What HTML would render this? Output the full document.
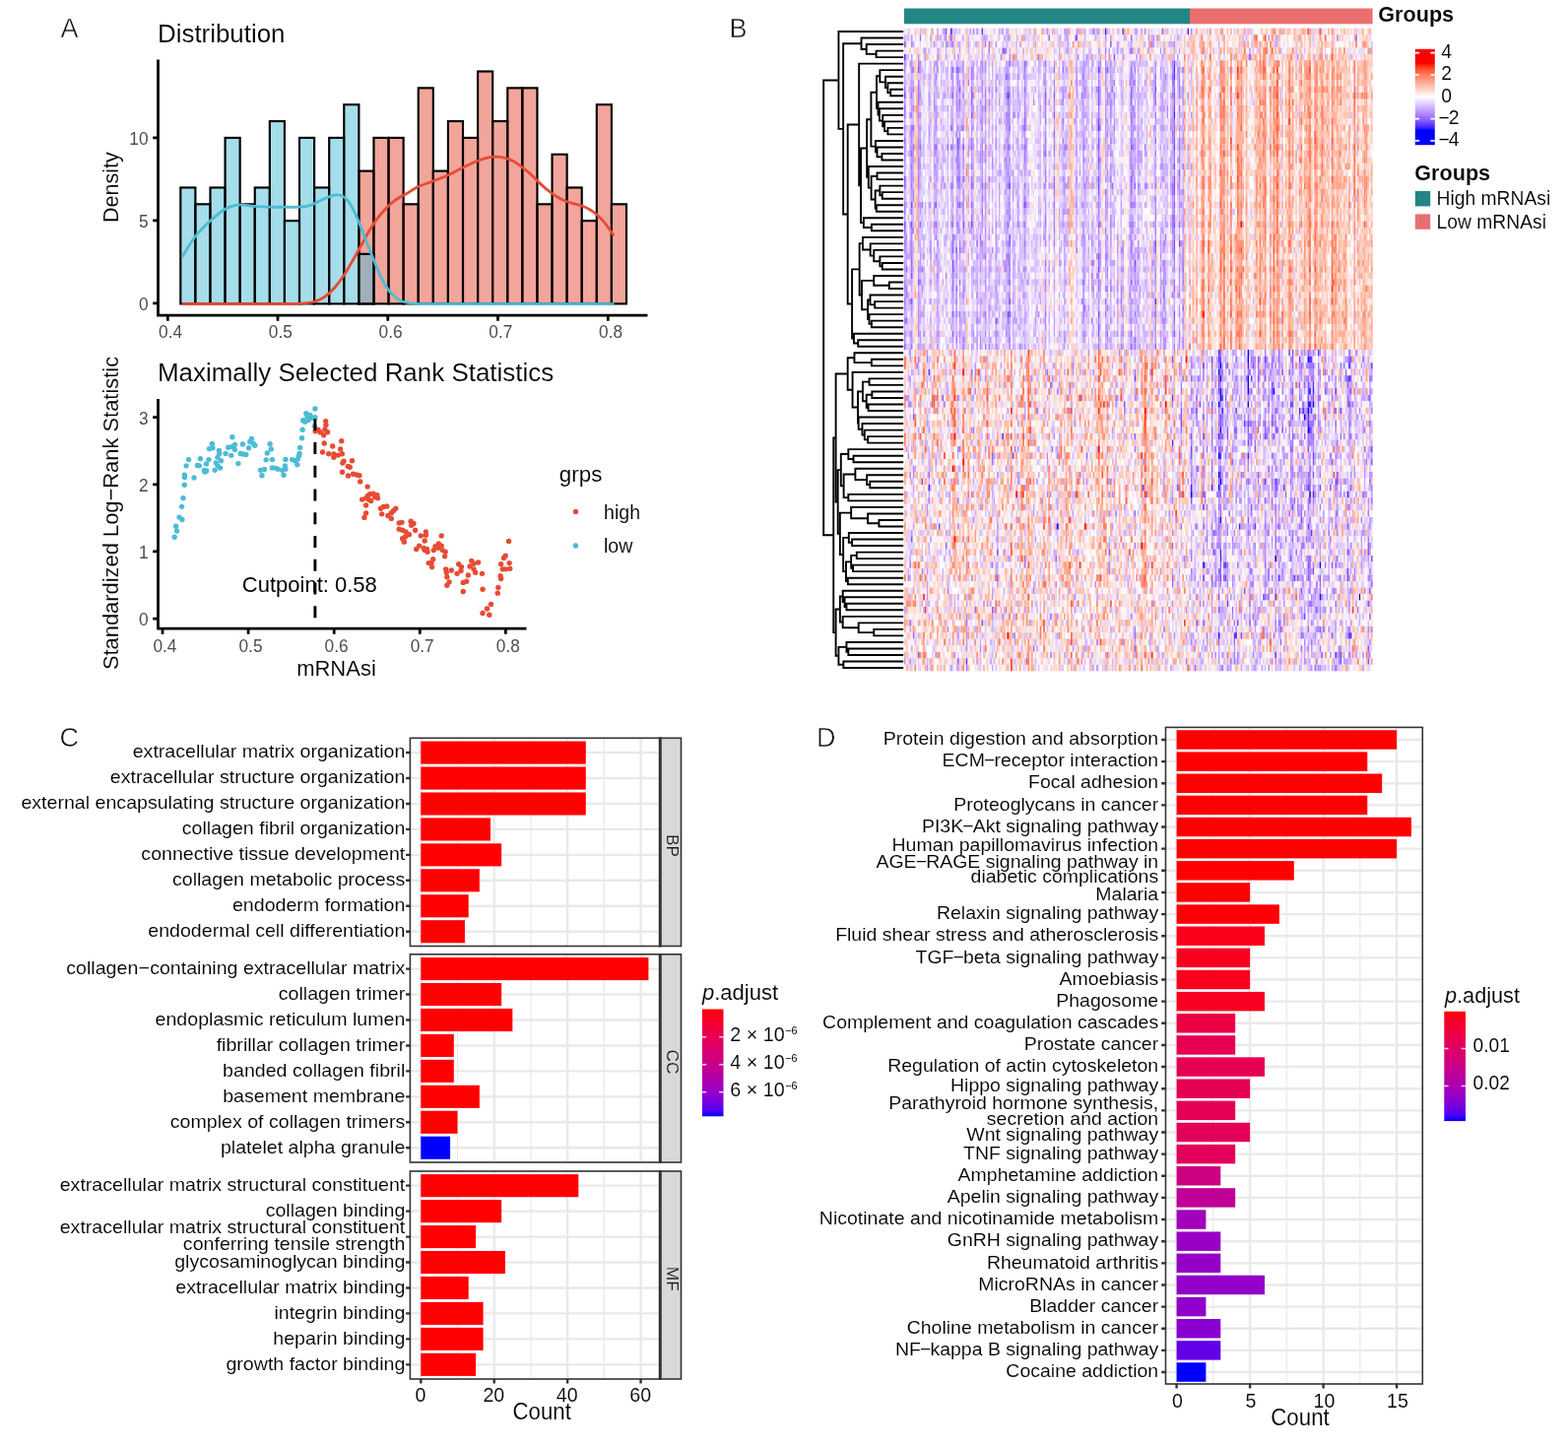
<!DOCTYPE html>
<html lang="en"><head><meta charset="utf-8"><title>mRNAsi figure</title>
<style>html,body{margin:0;padding:0;background:#fff}svg{display:block}text{font-family:"Liberation Sans",sans-serif}</style></head>
<body>
<svg width="1592" height="1469" viewBox="0 0 1592 1469">
<rect width="1592" height="1469" fill="#fff"/>
<g id="panelA"><g stroke="#000" stroke-width="2.15" stroke-linejoin="miter">
<rect x="364.38" y="173.6" width="15.09" height="134.8" fill="#E64B35" fill-opacity="0.5"/>
<rect x="379.47" y="139.9" width="15.09" height="168.5" fill="#E64B35" fill-opacity="0.5"/>
<rect x="394.56" y="139.9" width="15.09" height="168.5" fill="#E64B35" fill-opacity="0.5"/>
<rect x="409.65" y="207.3" width="15.09" height="101.1" fill="#E64B35" fill-opacity="0.5"/>
<rect x="424.74" y="89.35" width="15.09" height="219.05" fill="#E64B35" fill-opacity="0.5"/>
<rect x="439.83" y="173.6" width="15.09" height="134.8" fill="#E64B35" fill-opacity="0.5"/>
<rect x="454.92" y="123.05" width="15.09" height="185.35" fill="#E64B35" fill-opacity="0.5"/>
<rect x="470.01" y="139.9" width="15.09" height="168.5" fill="#E64B35" fill-opacity="0.5"/>
<rect x="485.1" y="72.5" width="15.09" height="235.9" fill="#E64B35" fill-opacity="0.5"/>
<rect x="500.19" y="123.05" width="15.09" height="185.35" fill="#E64B35" fill-opacity="0.5"/>
<rect x="515.28" y="89.35" width="15.09" height="219.05" fill="#E64B35" fill-opacity="0.5"/>
<rect x="530.37" y="89.35" width="15.09" height="219.05" fill="#E64B35" fill-opacity="0.5"/>
<rect x="545.46" y="207.3" width="15.09" height="101.1" fill="#E64B35" fill-opacity="0.5"/>
<rect x="560.55" y="156.75" width="15.09" height="151.65" fill="#E64B35" fill-opacity="0.5"/>
<rect x="575.64" y="190.45" width="15.09" height="117.95" fill="#E64B35" fill-opacity="0.5"/>
<rect x="590.73" y="224.15" width="15.09" height="84.25" fill="#E64B35" fill-opacity="0.5"/>
<rect x="605.82" y="106.2" width="15.09" height="202.2" fill="#E64B35" fill-opacity="0.5"/>
<rect x="620.91" y="207.3" width="15.09" height="101.1" fill="#E64B35" fill-opacity="0.5"/>
<rect x="183.3" y="190.45" width="15.09" height="117.95" fill="#4DBBD5" fill-opacity="0.5"/>
<rect x="198.39" y="207.3" width="15.09" height="101.1" fill="#4DBBD5" fill-opacity="0.5"/>
<rect x="213.48" y="190.45" width="15.09" height="117.95" fill="#4DBBD5" fill-opacity="0.5"/>
<rect x="228.57" y="139.9" width="15.09" height="168.5" fill="#4DBBD5" fill-opacity="0.5"/>
<rect x="243.66" y="207.3" width="15.09" height="101.1" fill="#4DBBD5" fill-opacity="0.5"/>
<rect x="258.75" y="190.45" width="15.09" height="117.95" fill="#4DBBD5" fill-opacity="0.5"/>
<rect x="273.84" y="123.05" width="15.09" height="185.35" fill="#4DBBD5" fill-opacity="0.5"/>
<rect x="288.93" y="224.15" width="15.09" height="84.25" fill="#4DBBD5" fill-opacity="0.5"/>
<rect x="304.02" y="139.9" width="15.09" height="168.5" fill="#4DBBD5" fill-opacity="0.5"/>
<rect x="319.11" y="190.45" width="15.09" height="117.95" fill="#4DBBD5" fill-opacity="0.5"/>
<rect x="334.2" y="139.9" width="15.09" height="168.5" fill="#4DBBD5" fill-opacity="0.5"/>
<rect x="349.29" y="106.2" width="15.09" height="202.2" fill="#4DBBD5" fill-opacity="0.5"/>
<rect x="364.38" y="257.85" width="15.09" height="50.55" fill="#4DBBD5" fill-opacity="0.5"/>
</g>
<path d="M184.9,308.6C192.42,308.6 215.82,308.6 230,308.6C244.18,308.6 259.07,308.62 270,308.6C280.93,308.58 288.72,308.65 295.6,308.5C302.48,308.35 307.1,308.17 311.3,307.7C315.5,307.23 317.65,306.82 320.8,305.7C323.95,304.58 327.07,303.23 330.2,301C333.33,298.77 336.47,295.83 339.6,292.3C342.73,288.77 345.87,284.52 349,279.8C352.13,275.08 355.52,268.98 358.4,264C361.28,259.02 363.68,254.6 366.3,249.9C368.92,245.2 371.48,240.25 374.1,235.8C376.72,231.35 379.37,226.87 382,223.2C384.63,219.53 387.28,216.67 389.9,213.8C392.52,210.93 395.1,208.22 397.7,206C400.3,203.78 402.88,202.13 405.5,200.5C408.12,198.87 410.38,197.97 413.4,196.2C416.42,194.43 419.28,191.93 423.6,189.9C427.92,187.87 434.07,186.03 439.3,184C444.53,181.97 449.77,180.07 455,177.7C460.23,175.33 465.47,172.28 470.7,169.8C475.93,167.32 482.22,164.45 486.4,162.8C490.58,161.15 492.93,160.5 495.8,159.9C498.67,159.3 500.98,159.17 503.6,159.2C506.22,159.23 508.62,159.38 511.5,160.1C514.38,160.82 517.77,161.88 520.9,163.5C524.03,165.12 527.15,167.43 530.3,169.8C533.45,172.17 536.65,174.82 539.8,177.7C542.95,180.58 546.07,184.22 549.2,187.1C552.33,189.98 555.47,192.65 558.6,195C561.73,197.35 564.87,199.5 568,201.2C571.13,202.9 574,204.02 577.4,205.2C580.8,206.38 584.98,207.13 588.4,208.3C591.82,209.47 595.02,210.63 597.9,212.2C600.78,213.77 603.08,215.47 605.7,217.7C608.32,219.93 611.25,222.85 613.6,225.6C615.95,228.35 618.18,231.93 619.8,234.2C621.42,236.47 622.72,238.37 623.3,239.2" fill="none" stroke="#E64B35" stroke-width="2.8" stroke-linejoin="round"/>
<path d="M184.9,260.9C187.07,257.5 193.28,246.52 197.95,240.5C202.62,234.48 207.88,229.47 212.9,224.8C217.93,220.13 223.73,215.25 228.1,212.5C232.47,209.75 236.12,209.07 239.1,208.3C242.08,207.53 242.87,207.72 246,207.9C249.13,208.08 253.35,209.02 257.9,209.4C262.45,209.78 268.18,210.07 273.3,210.2C278.42,210.33 283.57,210.2 288.6,210.2C293.63,210.2 299.18,210.47 303.5,210.2C307.82,209.93 310.58,209.83 314.5,208.6C318.42,207.37 323.33,204.42 327,202.8C330.67,201.18 334,199.73 336.5,198.9C339,198.07 340.18,197.8 342,197.8C343.82,197.8 345.45,197.8 347.4,198.9C349.35,200 351.6,201.65 353.7,204.4C355.8,207.15 357.9,211.08 360,215.4C362.1,219.72 364.2,225.07 366.3,230.3C368.4,235.53 370.5,241.43 372.6,246.8C374.7,252.17 376.55,256.75 378.9,262.5C381.25,268.25 384.08,275.93 386.7,281.3C389.32,286.67 391.98,291.17 394.6,294.7C397.22,298.23 399.78,300.53 402.4,302.5C405.02,304.47 407.37,305.55 410.3,306.5C413.23,307.45 415.88,307.85 420,308.2C424.12,308.55 421.67,308.53 435,308.6C448.33,308.67 468.58,308.6 500,308.6C531.42,308.6 602.92,308.6 623.5,308.6" fill="none" stroke="#4DBBD5" stroke-width="2.8" stroke-linejoin="round"/>
<path d="M160.5,60.5V320.2H657.5" fill="none" stroke="#000" stroke-width="2.75" stroke-linejoin="miter"/>
<text font-size="17.3" fill="#4D4D4D" text-anchor="end" transform="translate(150.6 314.7) scale(1 1.1)">0</text>
<text font-size="17.3" fill="#4D4D4D" text-anchor="end" transform="translate(150.6 230.7) scale(1 1.1)">5</text>
<text font-size="17.3" fill="#4D4D4D" text-anchor="end" transform="translate(150.6 146.7) scale(1 1.1)">10</text>
<text font-size="17.3" fill="#4D4D4D" text-anchor="middle" transform="translate(173.1 343.1) scale(1 1.1)">0.4</text>
<text font-size="17.3" fill="#4D4D4D" text-anchor="middle" transform="translate(284.8 343.1) scale(1 1.1)">0.5</text>
<text font-size="17.3" fill="#4D4D4D" text-anchor="middle" transform="translate(396.6 343.1) scale(1 1.1)">0.6</text>
<text font-size="17.3" fill="#4D4D4D" text-anchor="middle" transform="translate(508.3 343.1) scale(1 1.1)">0.7</text>
<text font-size="17.3" fill="#4D4D4D" text-anchor="middle" transform="translate(620.1 343.1) scale(1 1.1)">0.8</text>
<path d="M155.2,307.9H160.5M155.2,223.9H160.5M155.2,139.9H160.5M170.3,320.2V325.8M282,320.2V325.8M393.8,320.2V325.8M505.5,320.2V325.8M617.3,320.2V325.8" fill="none" stroke="#000" stroke-width="2.75"/>
<text x="160" y="43.2" font-size="25.9" fill="#000" stroke="#fff" stroke-width="0.12">Distribution</text>
<text font-size="21.6" fill="#000" stroke="#fff" stroke-width="0.1" text-anchor="middle" transform="translate(120 190.1) rotate(-90)">Density</text>
<path d="M160.5,405V638H534.5" fill="none" stroke="#000" stroke-width="2.75"/>
<text font-size="17.3" fill="#4D4D4D" text-anchor="end" transform="translate(150.6 634.8) scale(1 1.1)">0</text>
<text font-size="17.3" fill="#4D4D4D" text-anchor="end" transform="translate(150.6 566.7) scale(1 1.1)">1</text>
<text font-size="17.3" fill="#4D4D4D" text-anchor="end" transform="translate(150.6 498.6) scale(1 1.1)">2</text>
<text font-size="17.3" fill="#4D4D4D" text-anchor="end" transform="translate(150.6 430.5) scale(1 1.1)">3</text>
<text font-size="17.3" fill="#4D4D4D" text-anchor="middle" transform="translate(167.4 661.6) scale(1 1.1)">0.4</text>
<text font-size="17.3" fill="#4D4D4D" text-anchor="middle" transform="translate(254.5 661.6) scale(1 1.1)">0.5</text>
<text font-size="17.3" fill="#4D4D4D" text-anchor="middle" transform="translate(341.6 661.6) scale(1 1.1)">0.6</text>
<text font-size="17.3" fill="#4D4D4D" text-anchor="middle" transform="translate(428.7 661.6) scale(1 1.1)">0.7</text>
<text font-size="17.3" fill="#4D4D4D" text-anchor="middle" transform="translate(515.8 661.6) scale(1 1.1)">0.8</text>
<path d="M155.2,628H160.5M155.2,559.9H160.5M155.2,491.8H160.5M155.2,423.7H160.5M165,638V643.7M252.1,638V643.7M339.2,638V643.7M426.3,638V643.7M513.4,638V643.7" fill="none" stroke="#000" stroke-width="2.75"/>
<text x="160" y="387.2" font-size="25.95" fill="#000" stroke="#fff" stroke-width="0.12">Maximally Selected Rank Statistics</text>
<text font-size="21.9" fill="#000" stroke="#fff" stroke-width="0.1" text-anchor="middle" transform="translate(119.6 521) rotate(-90)">Standardized Log−Rank Statistic</text>
<text x="341.5" y="686" font-size="22" fill="#000" stroke="#fff" stroke-width="0.1" text-anchor="middle">mRNAsi</text>
<g fill="#4DBBD5"><circle cx="187.27" cy="492.29" r="2.7"/><circle cx="187.39" cy="482.11" r="2.7"/><circle cx="187.5" cy="484.38" r="2.7"/><circle cx="189.08" cy="472.84" r="2.7"/><circle cx="191.57" cy="466.62" r="2.7"/><circle cx="197" cy="485.05" r="2.7"/><circle cx="200.39" cy="472.5" r="2.7"/><circle cx="202.31" cy="472.84" r="2.7"/><circle cx="203.44" cy="465.72" r="2.7"/><circle cx="207.4" cy="477.37" r="2.7"/><circle cx="209.66" cy="477.93" r="2.7"/><circle cx="207.97" cy="479.06" r="2.7"/><circle cx="209.44" cy="470.92" r="2.7"/><circle cx="211.92" cy="466.62" r="2.7"/><circle cx="212.49" cy="455.66" r="2.7"/><circle cx="215.32" cy="450.57" r="2.7"/><circle cx="215.88" cy="454.75" r="2.7"/><circle cx="218.14" cy="477.37" r="2.7"/><circle cx="219.27" cy="470.02" r="2.7"/><circle cx="220.97" cy="464.36" r="2.7"/><circle cx="222.44" cy="457.35" r="2.7"/><circle cx="222.67" cy="460.4" r="2.7"/><circle cx="224.36" cy="467.75" r="2.7"/><circle cx="223.57" cy="475.1" r="2.7"/><circle cx="220.97" cy="472.84" r="2.7"/><circle cx="229.11" cy="460.4" r="2.7"/><circle cx="231.71" cy="454.19" r="2.7"/><circle cx="235.1" cy="453.62" r="2.7"/><circle cx="238.5" cy="451.36" r="2.7"/><circle cx="238.5" cy="456.45" r="2.7"/><circle cx="234.76" cy="462.33" r="2.7"/><circle cx="235.9" cy="443.78" r="2.7"/><circle cx="241.89" cy="470.58" r="2.7"/><circle cx="244.15" cy="460.4" r="2.7"/><circle cx="246.41" cy="460.97" r="2.7"/><circle cx="249.8" cy="461.54" r="2.7"/><circle cx="246.41" cy="451.02" r="2.7"/><circle cx="252.63" cy="454.75" r="2.7"/><circle cx="253.76" cy="448.53" r="2.7"/><circle cx="255.46" cy="445.37" r="2.7"/><circle cx="257.15" cy="450.23" r="2.7"/><circle cx="258.85" cy="452.26" r="2.7"/><circle cx="264.5" cy="477.37" r="2.7"/><circle cx="265.97" cy="482.79" r="2.7"/><circle cx="268.46" cy="476.46" r="2.7"/><circle cx="270.16" cy="466.85" r="2.7"/><circle cx="271.29" cy="460.07" r="2.7"/><circle cx="274.11" cy="450.79" r="2.7"/><circle cx="275.24" cy="455.88" r="2.7"/><circle cx="276.37" cy="466.62" r="2.7"/><circle cx="276.37" cy="474.88" r="2.7"/><circle cx="279.2" cy="475.1" r="2.7"/><circle cx="282.03" cy="476.23" r="2.7"/><circle cx="286.55" cy="477.37" r="2.7"/><circle cx="288.02" cy="482.23" r="2.7"/><circle cx="289.38" cy="472.84" r="2.7"/><circle cx="289.94" cy="476.23" r="2.7"/><circle cx="289.94" cy="466.4" r="2.7"/><circle cx="296.73" cy="466.62" r="2.7"/><circle cx="299.55" cy="467.75" r="2.7"/><circle cx="301.82" cy="471.71" r="2.7"/><circle cx="302.38" cy="466.06" r="2.7"/><circle cx="303.51" cy="462.67" r="2.7"/><circle cx="304.08" cy="460.4" r="2.7"/><circle cx="304.64" cy="454.41" r="2.7"/><circle cx="306.56" cy="444.8" r="2.7"/><circle cx="307.13" cy="436.32" r="2.7"/><circle cx="307.7" cy="426.82" r="2.7"/><circle cx="309.73" cy="428.18" r="2.7"/><circle cx="310.86" cy="419.7" r="2.7"/><circle cx="311.99" cy="423.09" r="2.7"/><circle cx="313.12" cy="426.48" r="2.7"/><circle cx="314.82" cy="421.4" r="2.7"/><circle cx="317.08" cy="424.22" r="2.7"/><circle cx="319.91" cy="414.95" r="2.7"/><circle cx="319.91" cy="423.66" r="2.7"/><circle cx="319.34" cy="432.7" r="2.7"/><circle cx="186.01" cy="505.65" r="2.7"/><circle cx="184.54" cy="514.36" r="2.7"/><circle cx="182.05" cy="525.1" r="2.7"/><circle cx="184.88" cy="527.48" r="2.7"/><circle cx="178.66" cy="534.15" r="2.7"/><circle cx="179.56" cy="539.01" r="2.7"/><circle cx="177.19" cy="545.23" r="2.7"/></g>
<g fill="#E64B35"><circle cx="320.18" cy="437.79" r="2.7"/><circle cx="323" cy="436.09" r="2.7"/><circle cx="325.26" cy="438.92" r="2.7"/><circle cx="328.66" cy="441.75" r="2.7"/><circle cx="329.79" cy="436.09" r="2.7"/><circle cx="330.69" cy="427.61" r="2.7"/><circle cx="330.92" cy="431.57" r="2.7"/><circle cx="332.61" cy="438.7" r="2.7"/><circle cx="329.22" cy="450" r="2.7"/><circle cx="327.53" cy="458.93" r="2.7"/><circle cx="333.74" cy="460.74" r="2.7"/><circle cx="337.7" cy="453.06" r="2.7"/><circle cx="338.83" cy="460.97" r="2.7"/><circle cx="338.83" cy="464.36" r="2.7"/><circle cx="343.36" cy="462.1" r="2.7"/><circle cx="345.62" cy="455.88" r="2.7"/><circle cx="346.75" cy="447.74" r="2.7"/><circle cx="347.31" cy="460.74" r="2.7"/><circle cx="347.88" cy="470.02" r="2.7"/><circle cx="349.01" cy="468.32" r="2.7"/><circle cx="353.31" cy="473.41" r="2.7"/><circle cx="355.23" cy="474.2" r="2.7"/><circle cx="357.49" cy="467.75" r="2.7"/><circle cx="347.54" cy="479.29" r="2.7"/><circle cx="353.53" cy="483.02" r="2.7"/><circle cx="358.62" cy="481.32" r="2.7"/><circle cx="362.01" cy="481.89" r="2.7"/><circle cx="364.84" cy="482.68" r="2.7"/><circle cx="365.74" cy="488.9" r="2.7"/><circle cx="373.09" cy="494.1" r="2.7"/><circle cx="367.67" cy="507.1" r="2.7"/><circle cx="371.62" cy="505.63" r="2.7"/><circle cx="373.32" cy="503.37" r="2.7"/><circle cx="375.58" cy="501.68" r="2.7"/><circle cx="378.97" cy="501.11" r="2.7"/><circle cx="382.93" cy="502.81" r="2.7"/><circle cx="383.5" cy="505.63" r="2.7"/><circle cx="380.67" cy="504.5" r="2.7"/><circle cx="376.71" cy="508.46" r="2.7"/><circle cx="374.45" cy="507.33" r="2.7"/><circle cx="371.62" cy="512.98" r="2.7"/><circle cx="371.62" cy="520.9" r="2.7"/><circle cx="369.93" cy="525.42" r="2.7"/><circle cx="386.57" cy="516.22" r="2.7"/><circle cx="389.4" cy="514.52" r="2.7"/><circle cx="392.79" cy="513.96" r="2.7"/><circle cx="387.7" cy="521.87" r="2.7"/><circle cx="393.92" cy="523.57" r="2.7"/><circle cx="397.31" cy="520.74" r="2.7"/><circle cx="397.31" cy="526.4" r="2.7"/><circle cx="401.84" cy="516.22" r="2.7"/><circle cx="399.57" cy="518.48" r="2.7"/><circle cx="405.23" cy="530.92" r="2.7"/><circle cx="408.06" cy="530.35" r="2.7"/><circle cx="405.23" cy="537.14" r="2.7"/><circle cx="408.62" cy="538.27" r="2.7"/><circle cx="412.01" cy="539.96" r="2.7"/><circle cx="415.4" cy="542.79" r="2.7"/><circle cx="411.45" cy="545.05" r="2.7"/><circle cx="408.62" cy="546.75" r="2.7"/><circle cx="410.32" cy="550.14" r="2.7"/><circle cx="417.1" cy="529.22" r="2.7"/><circle cx="419.93" cy="531.48" r="2.7"/><circle cx="417.67" cy="533.18" r="2.7"/><circle cx="421.62" cy="538.27" r="2.7"/><circle cx="427.28" cy="543.92" r="2.7"/><circle cx="432.37" cy="539.96" r="2.7"/><circle cx="431.23" cy="549.01" r="2.7"/><circle cx="432.37" cy="543.36" r="2.7"/><circle cx="422.75" cy="557.49" r="2.7"/><circle cx="425.58" cy="554.1" r="2.7"/><circle cx="430.1" cy="556.36" r="2.7"/><circle cx="433.5" cy="557.49" r="2.7"/><circle cx="434.06" cy="560.32" r="2.7"/><circle cx="431.23" cy="558.62" r="2.7"/><circle cx="440.28" cy="558.62" r="2.7"/><circle cx="441.98" cy="554.66" r="2.7"/><circle cx="445.37" cy="551.84" r="2.7"/><circle cx="448.2" cy="554.1" r="2.7"/><circle cx="444.8" cy="556.36" r="2.7"/><circle cx="448.2" cy="543.92" r="2.7"/><circle cx="449.33" cy="558.62" r="2.7"/><circle cx="452.15" cy="560.32" r="2.7"/><circle cx="451.59" cy="564.84" r="2.7"/><circle cx="435.19" cy="571.62" r="2.7"/><circle cx="439.72" cy="567.67" r="2.7"/><circle cx="438.58" cy="575.58" r="2.7"/><circle cx="438.02" cy="571.62" r="2.7"/><circle cx="452.72" cy="577.84" r="2.7"/><circle cx="453.28" cy="581.23" r="2.7"/><circle cx="453.85" cy="585.76" r="2.7"/><circle cx="456.11" cy="590.85" r="2.7"/><circle cx="453.85" cy="594.24" r="2.7"/><circle cx="458.37" cy="578.97" r="2.7"/><circle cx="464.03" cy="582.37" r="2.7"/><circle cx="465.72" cy="572.75" r="2.7"/><circle cx="468.55" cy="575.58" r="2.7"/><circle cx="467.98" cy="579.54" r="2.7"/><circle cx="470.24" cy="591.41" r="2.7"/><circle cx="473.64" cy="590.28" r="2.7"/><circle cx="475.33" cy="584.06" r="2.7"/><circle cx="470.24" cy="600.46" r="2.7"/><circle cx="477.03" cy="575.02" r="2.7"/><circle cx="478.72" cy="569.36" r="2.7"/><circle cx="480.99" cy="572.19" r="2.7"/><circle cx="485.51" cy="571.06" r="2.7"/><circle cx="482.68" cy="581.23" r="2.7"/><circle cx="480.99" cy="577.84" r="2.7"/><circle cx="489.47" cy="582.37" r="2.7"/><circle cx="490.03" cy="598.2" r="2.7"/><circle cx="490.03" cy="622.51" r="2.7"/><circle cx="494.55" cy="617.98" r="2.7"/><circle cx="496.82" cy="624.2" r="2.7"/><circle cx="498.51" cy="613.46" r="2.7"/><circle cx="505.3" cy="602.15" r="2.7"/><circle cx="505.86" cy="596.5" r="2.7"/><circle cx="508.12" cy="584.63" r="2.7"/><circle cx="508.69" cy="587.45" r="2.7"/><circle cx="508.69" cy="572.75" r="2.7"/><circle cx="510.38" cy="577.84" r="2.7"/><circle cx="511.52" cy="566.54" r="2.7"/><circle cx="513.21" cy="564.27" r="2.7"/><circle cx="513.21" cy="577.84" r="2.7"/><circle cx="516.6" cy="549.57" r="2.7"/><circle cx="517.17" cy="571.62" r="2.7"/><circle cx="517.73" cy="577.28" r="2.7"/></g>
<path d="M319.9,425.3V628" stroke="#000" stroke-width="2.9" stroke-dasharray="11.9 11.85" fill="none"/>
<text x="245.8" y="601.3" font-size="22" fill="#000">Cutpoint: 0.58</text>
<text x="567.8" y="488.8" font-size="22.4" fill="#000" stroke="#fff" stroke-width="0.1">grps</text>
<circle cx="584.5" cy="519.5" r="2.7" fill="#E64B35"/>
<circle cx="584.5" cy="554" r="2.7" fill="#4DBBD5"/>
<text x="613" y="526.6" font-size="19.6" fill="#000" stroke="#fff" stroke-width="0.1">high</text>
<text x="613" y="560.8" font-size="19.6" fill="#000" stroke="#fff" stroke-width="0.1">low</text></g>
<g id="panelB"><path d="M917.2,51.59H889.6V58.11H917.2M917.2,45.06H879.71V54.85H889.6M917.2,38.54H874.53V49.96H879.71M917.2,90.74H904.21V97.27H917.2M917.2,84.22H901.38V94H904.21M917.2,77.69H899.02V89.11H901.38M917.2,71.17H893.37V83.4H899.02M917.2,129.9H901.38V136.42H917.2M917.2,123.37H898.08V133.16H901.38M917.2,116.84H896.2V128.26H898.08M917.2,110.32H892.9V122.55H896.2M917.2,103.79H891.49V116.44H892.9M893.37,77.28H890.07V110.11H891.49M917.2,156H895.44V162.52H917.2M917.2,149.47H890.54V159.26H895.44M917.2,142.95H888.94V154.37H890.54M890.07,93.7H884.42V148.66H888.94M917.2,175.57H890.54V182.1H917.2M917.2,195.15H895.73V201.68H917.2M917.2,188.62H893.37V198.41H895.73M917.2,208.2H889.88V214.73H917.2M893.37,193.52H888.66V211.46H889.88M890.54,178.84H884.61V202.49H888.66M917.2,169.05H881.78V190.66H884.61M884.42,121.18H880.18V179.86H881.78M917.2,227.78H884.89V234.3H917.2M917.2,221.25H876.88V231.04H884.89M880.18,150.52H874.05V226.15H876.88M917.2,64.64H872.17V188.33H874.05M917.2,266.93H895.73V273.46H917.2M917.2,260.41H893.37V270.19H895.73M917.2,253.88H887.25V265.3H893.37M917.2,247.35H883.67V259.59H887.25M917.2,240.83H875.94V253.47H883.67M917.2,286.51H902.79V293.03H917.2M917.2,279.98H887.25V289.77H902.79M917.2,306.08H888.19V312.61H917.2M917.2,299.56H883.48V309.35H888.19M917.2,325.66H884.89V332.19H917.2M917.2,319.13H882.53V328.92H884.89M883.48,304.45H881.12V324.03H882.53M887.25,284.88H875V314.24H881.12M875.94,247.15H872.64V299.56H875M917.2,345.24H871.23V351.76H917.2M917.2,338.71H866.99V348.5H871.23M872.64,273.35H865.1V343.61H866.99M872.17,126.49H860.67V308.48H865.1M874.53,44.25H856.15V217.48H860.67M917.2,32.01H851.44V130.87H856.15M917.2,364.81H884.89V371.34H917.2M917.2,358.29H867.46V368.08H884.89M917.2,384.39H882.53V390.92H917.2M917.2,397.44H885.36V403.97H917.2M917.2,410.49H881.59V417.02H917.2M885.36,400.7H879.71V413.75H881.59M882.53,387.65H875.94V407.23H879.71M917.2,443.12H881.12V449.64H917.2M917.2,436.59H877.82V446.38H881.12M917.2,430.07H875.47V441.49H877.82M917.2,423.54H871.7V435.78H875.47M875.94,397.44H871.04V429.66H871.7M917.2,377.86H865.57V413.55H871.04M867.46,363.18H860.67V395.71H865.57M917.2,462.7H866.52V469.22H917.2M917.2,456.17H861.33V465.96H866.52M917.2,488.8H883.29V495.32H917.2M917.2,482.27H880.18V492.06H883.29M917.2,475.75H868.4V487.17H880.18M917.2,501.85H861.33V508.37H917.2M868.4,481.46H856.62V505.11H861.33M861.33,461.06H853.8V493.28H856.62M917.2,527.95H892.43V534.48H917.2M917.2,521.43H881.12V531.21H892.43M917.2,514.9H864.16V526.32H881.12M917.2,547.53H865.1V554.05H917.2M917.2,541H861.81V550.79H865.1M917.2,560.58H869.81V567.1H917.2M917.2,573.63H866.05V580.15H917.2M869.81,563.84H864.16V576.89H866.05M917.2,586.68H860.86V593.21H917.2M864.16,570.37H858.98V589.94H860.86M861.81,545.9H856.15V580.15H858.98M864.16,520.61H852.85V563.03H856.15M853.8,477.17H850.69V541.82H852.85M860.67,379.44H848.61V509.5H850.69M917.2,612.78H859.45V619.31H917.2M917.2,606.26H857.57V616.04H859.45M917.2,599.73H855.68V611.15H857.57M917.2,638.88H887.25V645.41H917.2M917.2,632.36H871.7V642.15H887.25M917.2,625.83H855.68V637.25H871.7M855.68,605.44H852.85V631.54H855.68M917.2,658.46H861.33V664.99H917.2M917.2,651.94H859.45V661.72H861.33M917.2,671.51H856.34V678.04H917.2M859.45,656.83H851.44V674.77H856.34M852.85,618.49H848.61V665.8H851.44M848.61,444.47H846.26V642.15H848.61M851.44,81.44H836.18V543.31H846.26" fill="none" stroke="#000" stroke-width="1.9" stroke-linejoin="miter" stroke-linecap="butt"/>
<rect x="918" y="8.5" width="290" height="15.8" fill="#238584"/>
<rect x="1208" y="8.5" width="185.6" height="15.8" fill="#E96F6F"/>
<text x="1399.3" y="22" font-size="21.6" fill="#000" stroke="#fff" stroke-width="0.1" font-weight="bold">Groups</text>
<rect x="918" y="28.75" width="475.6" height="652.55" fill="#F3E6F3"/>
<g transform="translate(918 32.01) scale(1.74212 6.52550)" stroke-width="1.02" fill="none">
<path stroke="#0000FF" d="M200 50h1M200 51h1m34 0h1M184 52h1M183 53h1M184 54h1m15 0h1M200 55h1M184 56h1m15 0h1m14 0h1m20 0h1M184 57h1M183 58h1m16 0h1m35 0h1m1 0h1M235 59h1M233 60h1M184 62h1m50 0h1M183 66h1M183 69h1M184 70h1M183 71h1M167 72h1m68 0h1M184 76h1M89 77h1M216 82h1M174 83h1m67 0h1M242 88h1m22 0h1M183 94h1"/>
<path stroke="#4120FF" d="M27 0h1m89 0h1m47 0h1M157 6h1M60 10h1M157 13h1M113 15h1M183 50h1M236 51h1M200 52h1m58 0h1M259 54h1M238 55h1M238 56h1M235 58h1M185 59h1m44 0h1m1 0h1M235 61h1M236 62h1M183 63h1M156 64h1M184 66h1m15 0h1M14 71h1m152 0h1m11 0h1M238 72h1m19 0h1M195 77h1M184 81h1M184 82h1M218 85h1"/>
<path stroke="#5C34FF" d="M45 0h1M100 1h1M0 4h1M113 6h1M157 7h1M146 42h1M241 50h1M210 51h1m19 0h1m6 0h1M174 52h1M14 53h1M134 54h1m67 0h1M251 56h1M156 57h1m28 0h1M225 58h1M237 59h1m16 0h1M184 60h1m50 0h1M57 63h1m116 0h1M63 66h1M210 70h1m5 0h1M235 71h1M174 74h1M204 77h1m30 0h1M237 78h1M180 81h1M174 85h1m52 0h1M216 88h1M188 89h1M192 94h2m65 0h2M216 97h1m34 0h1M36 98h1"/>
<path stroke="#7145FF" d="M127 0h1M122 4h1M157 5h1M146 9h1M0 10h1m86 0h1M157 12h1M113 14h1M157 18h1M113 20h1M157 21h1M61 24h1m51 0h1m43 0h1M4 27h1m65 0h1M39 30h1m117 0h1M146 33h1m10 0h1m2 0h1M28 36h1m105 0h1M28 37h1m84 0h1M61 42h1M60 44h1m52 0h1m43 0h1M224 50h1m1 0h1M156 51h1m22 0h1m3 0h2M188 52h1m14 0h1m68 0h1M206 54h1m3 0h1M183 55h1m30 0h1M214 56h1m11 0h1m18 0h1M235 57h1M172 58h1m6 0h1m46 0h1m32 0h1M170 59h1m22 0h1M174 60h1M161 61h1m36 0h1m1 0h1m13 0h1M217 62h1M188 63h1m21 0h1m4 0h1M200 64h1M167 65h1m67 0h1M238 66h1M184 69h1m53 0h1M10 70h1M139 71h1m81 0h1m20 0h1M174 72h1M236 73h1M226 74h1M231 76h1M20 77h1M54 81h1m203 0h1M186 83h2M238 84h1m19 0h1M184 85h1m2 0h1m70 0h1M209 88h1M183 90h1M233 91h1M194 92h1M196 94h1M254 97h1M254 98h1"/>
<path stroke="#8255FF" d="M24 0h1M263 1h1M0 2h1M201 4h1M8 6h1m19 0h1m89 0h1M59 7h1M32 9h1m124 0h1M28 10h1m10 0h1m42 0h1m30 0h1m43 0h1M113 11h1M39 13h1m47 0h1M31 17h1m81 0h1m43 0h1M18 18h1m12 0h1m2 0h1m78 0h1m18 0h1M160 22h1M0 23h1m112 0h1m18 0h1m24 0h1M39 24h1m94 0h1M113 25h1m43 0h1M18 27h1m138 0h1M0 30h1m3 0h1m29 0h1m25 0h1m52 0h1M61 32h1M61 33h1M28 34h1m1 0h1m126 0h1M4 38h1M8 39h1m123 0h1M157 40h1M151 41h1M4 42h1M28 44h1m32 0h1M53 45h1M113 46h1M28 47h1m84 0h1m43 0h1M206 51h1m19 0h1m32 0h2m6 0h1M214 52h1m23 0h1M201 53h1m18 0h1M183 54h1m74 0h1M85 55h1m144 0h1m4 0h1m22 0h1M183 56h1m51 0h1M22 57h1m147 0h1m16 0h1m50 0h1M128 58h1m83 0h1m19 0h1M161 59h1m89 0h1M5 60h1m155 0h1m52 0h1m11 0h1M184 61h1M188 62h1m11 0h1m19 0h1M134 63h1m32 0h1m58 0h1M183 65h1m20 0h1m20 0h1m46 0h1M106 66h1m60 0h1m46 0h1M238 67h1m10 0h1M212 68h1M252 69h1M251 70h2M159 71h1m56 0h1m19 0h1m11 0h1M167 73h1m42 0h1M202 74h1M200 76h1M218 77h1m39 0h1M180 78h1M4 79h1m221 0h1M24 80h1M119 81h1m150 0h1M225 82h1m10 0h1m35 0h1M184 83h1m50 0h1m13 0h1M179 85h1m6 0h1m42 0h1m5 0h1m6 0h1M198 87h1m32 0h1m39 0h1M183 88h1M270 89h1M12 90h1m38 0h1m188 0h1M45 92h1m124 0h1m3 0h1m26 0h1m16 0h1M219 93h1m22 0h1M249 94h1M134 96h1m135 0h1M8 97h1m234 0h1M270 98h1"/>
<path stroke="#9265FF" d="M110 0h1m39 0h1M9 1h1m17 0h1m56 0h1m47 0h1M120 2h1M57 3h2m73 0h1M61 5h1m8 0h1M31 6h1m55 0h1m44 0h1M156 7h1M70 9h1m42 0h1m18 0h1M132 10h1M32 11h1m6 0h1m20 0h1m21 0h1m49 0h1m13 0h1m10 0h1M0 12h1m132 0h1m26 0h1M70 14h1m11 0h1m49 0h1M27 15h1m33 0h1m8 0h1m86 0h1M87 16h1m68 0h1M0 17h1m145 0h1M5 18h1m3 0h1m15 0h1m34 0h1m9 0h1m23 0h1M4 19h1m26 0h1m50 0h1M31 21h1m7 0h1m73 0h1M133 22h1M34 23h1M0 24h1m86 0h1m33 0h1m10 0h1m13 0h1M117 25h1m38 0h1M32 27h1m6 0h1m92 0h1M45 28h1M9 30h1m8 0h1m9 0h1m131 0h1M0 31h1M28 32h1m15 0h1m112 0h1M28 33h1m13 0h1M32 34h1m99 0h1m13 0h1M60 35h1m52 0h1M4 36h1m108 0h1M1 37h1m132 0h1m27 0h1M28 39h1m32 0h1m42 0h1M28 40h1m1 0h1m82 0h1M117 42h1M162 43h1M146 44h1M1 45h1m58 0h1m96 0h1M118 47h1m13 0h1M134 48h1M0 49h1m131 0h1m13 0h1M184 50h1m33 0h1m16 0h1m23 0h1M193 51h1m8 0h1m11 0h1m3 0h1M179 52h1m3 0h1m22 0h1m19 0h1m4 0h1m4 0h1m17 0h1M39 53h1m184 0h1m32 0h1M167 54h1m3 0h1m21 0h1m5 0h1m57 0h1m2 0h1m10 0h1M233 55h1M202 56h1m57 0h1M230 57h1m18 0h1m8 0h1m12 0h1M258 58h1M77 59h1m101 0h1m36 0h1M239 60h1m5 0h1M183 61h1m26 0h1m13 0h1m11 0h1m4 0h1m9 0h1m7 0h1m11 0h1M161 62h1m17 0h1m12 0h2m16 0h1m26 0h1M184 63h2m16 0h1m8 0h1m21 0h1m1 0h1m2 0h1m15 0h1M179 64h1M176 65h1m4 0h1m2 0h1m83 0h1M51 66h1m180 0h1m15 0h1M191 67h1m80 0h1M170 68h1m3 0h1m4 0h1m4 0h1m51 0h1M14 69h1m191 0h1M183 70h1m16 0h1m35 0h1m34 0h1M217 71h1m42 0h1M141 72h1m74 0h1m5 0h1m44 0h1M214 73h1m12 0h1M183 74h1M134 75h1m49 0h1m46 0h1m20 0h1M236 76h1M161 77h1m8 0h1m3 0h1m8 0h1m26 0h1m19 0h1M176 79h1m39 0h1m17 0h1M156 80h1m22 0h1m52 0h1m5 0h1m31 0h1M228 81h1M88 82h1M188 83h1m21 0h1m25 0h1m14 0h1M183 84h2m17 0h1m9 0h1m22 0h1M54 85h1m101 0h1m55 0h1M156 86h1m22 0h1m60 0h1m1 0h1m29 0h1M201 89h1m34 0h1M41 90h1m149 0h1M85 91h1m117 0h1m67 0h1M36 92h1M209 93h1m25 0h1m8 0h1M5 94h1m128 0h1m96 0h1M183 95h1m8 0h1m26 0h1M75 96h1m155 0h1m10 0h1M259 97h1M31 98h1M169 99h1m81 0h1"/>
<path stroke="#A074FF" d="M28 2h1m20 0h1M49 3h1m9 0h1m57 0h1M8 5h1m73 0h1M19 6h1m10 0h1m8 0h1m30 0h1m21 0h1m41 0h1m27 0h1M18 7h1m20 0h1m20 0h1m43 0h1m27 0h1m13 0h1m5 0h1M8 8h1m28 0h1m75 0h1m8 0h1m23 0h1m9 0h2m2 0h1M0 9h1m4 0h1m2 0h1m30 0h1m20 0h1m21 0h1m29 0h1m8 0h1m38 0h1M4 10h1m3 0h1m25 0h1m26 0h1m41 0h1m18 0h1m33 0h1m3 0h1M8 11h1m38 0h1m70 0h1m1 0h1M47 12h1m65 0h1m6 0h1M0 13h1m59 0h1m9 0h1m42 0h1m18 0h1m13 0h1M18 14h1m41 0h1m31 0h1m64 0h1M4 15h2m27 0h1m11 0h1m23 0h1m52 0h1M157 16h1M39 17h1m42 0h1m37 0h1m11 0h1m27 0h1M27 18h1m11 0h1m7 0h1m13 0h1m25 0h1m16 0h1m28 0h1m6 0h1m19 0h1M60 19h1m9 0h1m16 0h1m25 0h1m32 0h1m10 0h1M8 20h1m21 0h1m28 0h1m10 0h1m86 0h1m2 0h1M4 21h1m3 0h1m123 0h1m29 0h1M60 22h1m21 0h1M8 23h1m22 0h2m6 0h1m9 0h1m32 0h1m4 0h1m12 0h1m19 0h1m39 0h1M4 24h1m26 0h1m13 0h1m14 0h1m9 0h1m34 0h1m30 0h1m19 0h1M87 25h1m44 0h1M45 26h1m24 0h1m75 0h1M0 27h1m9 0h1m20 0h1m55 0h1M0 28h1m3 0h1m108 0h1m43 0h1M39 29h1m21 0h1m20 0h1m63 0h1m9 0h2M31 30h1m34 0h1m3 0h1m11 0h1m49 0h1m23 0h1M87 31h1m25 0h1m3 0h1M18 32h1m133 0h1M0 33h1m18 0h1m12 0h1m37 0h1m16 0h1m25 0h1m18 0h1m18 0h1M15 34h1m84 0h1M4 35h1m42 0h1m64 0h1m23 0h1m20 0h1M82 36h1m68 0h1m5 0h1m4 0h1M4 37h1m5 0h1m48 0h1m1 0h1m56 0h1m41 0h1M19 38h1m8 0h1m80 0h1m2 0h1m33 0h1M9 39h1m22 0h1m80 0h1m43 0h1m4 0h1M1 40h1m118 0h1m30 0h1M1 41h1m40 0h1m88 0h1m24 0h1m3 0h1M0 42h1m125 0h1M104 43h2m12 0h1M32 44h1m14 0h1m34 0h1m21 0h1m12 0h1m16 0h1M0 45h1m41 0h1m66 0h1M59 47h1m100 0h1M30 48h1m3 0h1m26 0h1M4 49h1m42 0h1m19 0h1m45 0h1m20 0h1m22 0h1M210 50h1m52 0h1M8 51h1m4 0h1m197 0h1m13 0h1m19 0h1M7 52h1m90 0h1m111 0h1m26 0h1m3 0h1m14 0h1M83 53h1m50 0h1m39 0h1m4 0h1m4 0h2m3 0h1m10 0h1m5 0h1m6 0h1m12 0h1m9 0h1m1 0h1m6 0h1m3 0h1M155 54h1m6 0h1m11 0h1m60 0h1m1 0h2m8 0h1M161 55h1M89 56h1m71 0h1m5 0h1m11 0h1m30 0h1m14 0h1m33 0h1M31 57h1m71 0h1m19 0h1m52 0h1m32 0h1m4 0h1m11 0h1m10 0h1m3 0h2m27 0h1M3 58h1m19 0h1m160 0h1m35 0h1m40 0h1M128 59h1m54 0h1m26 0h1m6 0h1M170 60h1m14 0h1m14 0h1m6 0h1m22 0h1m7 0h1M185 61h1m15 0h2m6 0h1m6 0h1m20 0h2M40 62h1m162 0h1m2 0h1m5 0h1m3 0h1m25 0h1m25 0h1M179 63h1m13 0h1m6 0h2m35 0h1m21 0h2M202 64h1m1 0h1m21 0h1m4 0h1m3 0h2m1 0h1m13 0h1M32 65h1m31 0h1m21 0h1m47 0h1m35 0h1m55 0h1M89 66h1m84 0h1m12 0h1M51 67h1m127 0h1m20 0h1m68 0h1M171 68h1m11 0h1m30 0h1m11 0h1m3 0h1M102 69h1m64 0h1m28 0h1m29 0h1m8 0h2m5 0h1M120 70h1m93 0h1m2 0h1m7 0h1M187 71h1m50 0h1m12 0h1M39 72h1m135 0h1m6 0h3m1 0h1m67 0h1M14 73h1m16 0h1m174 0h1m18 0h1m9 0h1m36 0h1M176 74h1m7 0h1m31 0h1m12 0h1m1 0h1m3 0h1m6 0h1M123 75h1m65 0h1m12 0h1m21 0h1m45 0h1M183 76h1m30 0h1m51 0h1M179 77h1m71 0h1M181 78h1m1 0h1m4 0h1m11 0h1m25 0h1m20 0h1M191 79h1m26 0h1m3 0h1m6 0h1m6 0h1m11 0h1m21 0h1M134 80h1m81 0h1m2 0h1m51 0h1M196 81h1m20 0h1M70 82h1m96 0h1m84 0h1M3 83h1m47 0h1m18 0h1m123 0h1m5 0h1m17 0h1m19 0h1m6 0h1M167 84h1m52 0h1m15 0h1m34 0h1M2 85h1m211 0h1m21 0h1m25 0h1M181 86h1m2 0h1m3 0h1m21 0h1M25 87h1m49 0h1m160 0h1m2 0h1m2 0h1m7 0h1M170 88h1m39 0h1m1 0h1M172 89h1m64 0h1m13 0h1M264 90h1M242 91h1M3 92h1m188 0h1m11 0h1m11 0h1M134 93h1m16 0h1m107 0h1M176 94h1m38 0h1m16 0h1m25 0h1M112 95h1m124 0h1M235 96h1m17 0h1M85 97h1m102 0h1m3 0h1m1 0h1m8 0h1m49 0h1M164 98h1m25 0h1m1 0h1m47 0h1M36 99h1m148 0h1m53 0h1"/>
<path stroke="#AD84FF" d="M40 0h1m42 0h1m56 0h1m26 0h1M24 1h1m92 0h1M4 2h1m42 0h1m96 0h1m12 0h1M19 4h1m36 0h1m21 0h1m22 0h1m4 0h1M0 5h1m8 0h1m8 0h1m15 0h1m10 0h1m1 0h1m66 0h1m2 0h1m2 0h1m25 0h1m9 0h1M0 6h1m3 0h2m39 0h1m14 0h1m43 0h1m12 0h1M31 7h1m34 0h1m3 0h1m29 0h1m12 0h1m3 0h1m42 0h1M28 8h1m2 0h1m2 0h1m10 0h1m41 0h1m12 0h1m16 0h1m13 0h1m1 0h2M28 9h1m16 0h1m1 0h1m1 0h1m3 0h1m51 0h1m56 0h1M9 10h1m4 0h1m15 0h1m9 0h1m6 0h1m11 0h1m32 0h1m12 0h1m13 0h1m25 0h2m18 0h1M17 11h1m31 0h1m20 0h1m4 0h1m11 0h1m4 0h1M5 12h1m12 0h1m13 0h1m12 0h1m14 0h1m9 0h1m11 0h1m4 0h1m12 0h1m52 0h1M3 13h2m3 0h1m50 0h1m6 0h1m15 0h1m34 0h1m2 0h1m32 0h1M99 14h1m18 0h1m37 0h1M0 15h1m7 0h1m9 0h1m12 0h1m2 0h1m4 0h1m19 0h1m73 0h1m12 0h1m8 0h1M4 16h1m25 0h1m1 0h1m27 0h1m21 0h1m30 0h1m4 0h1m13 0h1m3 0h1M4 17h1m3 0h1m23 0h1m12 0h1m7 0h1m6 0h1m26 0h1m4 0h1m11 0h1m51 0h1m5 0h1M0 18h1m7 0h1m8 0h1m10 0h1m16 0h1m7 0h1m4 0h1m23 0h1m10 0h1M0 19h1m33 0h1m10 0h1m35 0h1m38 0h1m39 0h1M0 20h1m18 0h1m11 0h1m12 0h1m2 0h1m3 0h1m9 0h1m42 0h1m27 0h1M34 21h1m16 0h1m7 0h1m27 0h1m29 0h1m2 0h1m25 0h1M4 22h1m3 0h1m109 0h1m38 0h1M4 23h1m17 0h1m22 0h1m15 0h1m44 0h1m39 0h1M8 24h1m14 0h1m3 0h2m3 0h1m14 0h1m46 0h1m45 0h2m18 0h1M5 25h1m28 0h1m125 0h1m1 0h1M5 26h1m107 0h1m43 0h1M8 27h1m8 0h1m16 0h1m31 0h1m33 0h1m12 0h1m3 0h1m15 0h2m11 0h1M17 28h1m16 0h1m25 0h1m26 0h1m7 0h1m50 0h1M28 29h1m16 0h1m41 0h1m32 0h1M3 30h1m13 0h1m9 0h1m25 0h1m33 0h1m26 0h1m5 0h1m10 0h1m1 0h1m11 0h1m16 0h1M4 31h2m28 0h1m12 0h1m56 0h1m41 0h1m9 0h2M1 32h1m2 0h1m24 0h1m51 0h1m22 0h1m13 0h1m5 0h1m6 0h1m28 0h1M4 33h1m10 0h1m28 0h2m14 0h1m21 0h1m26 0h1m26 0h1m24 0h1M0 34h1m3 0h1m46 0h1m74 0h2m17 0h1m10 0h1m5 0h1M1 35h1m9 0h1m6 0h1m11 0h1m11 0h1m10 0h1m5 0h1m1 0h1m52 0h1m2 0h2m14 0h1m15 0h1m12 0h1M60 36h2m47 0h2m6 0h1M8 37h1m35 0h1m25 0h1m13 0h1m19 0h1m22 0h1m18 0h1m2 0h1m1 0h1m5 0h1M24 38h1m88 0h1m4 0h1m32 0h1m10 0h1M0 39h1m14 0h1m31 0h1m12 0h1m21 0h1m37 0h1m13 0h1m1 0h1m15 0h1M0 40h1m9 0h1m23 0h1m18 0h1m28 0h1m21 0h1m12 0h2m5 0h1m1 0h1M8 41h1m19 0h1m5 0h1m69 0h1m21 0h1M3 42h1m11 0h1m14 0h1m72 0h2m8 0h1m10 0h1m7 0h1m16 0h1m1 0h1M0 43h1m48 0h1m76 0h1m9 0h1m9 0h1m4 0h1M30 44h1m47 0h1m48 0h1m32 0h1M54 45h1m49 0h1m8 0h1m6 0h1m11 0h1m17 0h2m10 0h1M82 46h1m44 0h1m23 0h1M0 47h1m2 0h1m4 0h1m2 0h1m7 0h1m12 0h1m7 0h1m6 0h1m5 0h1m50 0h1m39 0h1M0 48h1m43 0h1m48 0h1m19 0h1m37 0h1m8 0h1m1 0h1M19 49h1m14 0h1m9 0h1m4 0h1m3 0h1m7 0h1m64 0h1m24 0h1m10 0h1M3 50h1m121 0h1m72 0h1m16 0h1m15 0h1m1 0h1m2 0h1m1 0h1m3 0h1M47 51h1m119 0h1m35 0h2m10 0h1m42 0h1M87 52h1m40 0h1m38 0h1m19 0h1m28 0h1m1 0h1m11 0h1m3 0h2M41 53h1m56 0h1m11 0h1m96 0h1m1 0h2m7 0h1m12 0h1m9 0h2M47 54h1m26 0h1m11 0h1m92 0h1m41 0h1m12 0h1m7 0h1m8 0h1m2 0h1m11 0h1m5 0h1M96 55h1m84 0h1m2 0h1m7 0h1m13 0h1m2 0h1m5 0h1m2 0h1m7 0h1m9 0h1M41 56h1m54 0h1m51 0h1m36 0h1m1 0h1m18 0h1m13 0h1m20 0h1m29 0h1M1 57h1m132 0h1m56 0h1m8 0h1m11 0h1m5 0h1m3 0h1M123 58h1m32 0h1m4 0h1m15 0h1m10 0h1m6 0h1m41 0h1m3 0h1m5 0h1M96 59h1m70 0h2m19 0h1m23 0h1m21 0h1m1 0h1m8 0h1m19 0h1m6 0h1M179 60h1m3 0h1m8 0h1m1 0h1m1 0h1m1 0h1m19 0h1m6 0h1M25 61h1m73 0h1m87 0h1m16 0h1m15 0h1m4 0h1m6 0h1M226 62h1m24 0h1m7 0h1M87 63h1m119 0h1m6 0h1m9 0h1m2 0h1m8 0h1m19 0h1m6 0h1M54 64h1m106 0h1m5 0h1m4 0h1m11 0h1m13 0h1m26 0h1m11 0h1M31 65h1m15 0h1m108 0h1m17 0h1m10 0h1m5 0h1m46 0h1M2 66h1m80 0h1m77 0h1m27 0h1m39 0h1m6 0h1m14 0h1M18 67h1m120 0h1m75 0h1m9 0h1M5 68h1m53 0h1m140 0h1m15 0h1m8 0h1m5 0h1M3 69h1m1 0h1m48 0h1m96 0h1m22 0h1m4 0h1m17 0h1m31 0h1m30 0h1m1 0h1M20 70h1m45 0h1m39 0h1m58 0h1m1 0h1m11 0h1m19 0h1m6 0h1m2 0h1m8 0h1m16 0h1M70 71h1m80 0h1m22 0h1m9 0h1m22 0h1m6 0h1m11 0h1m4 0h1m2 0h1m19 0h1m17 0h1M83 72h1m35 0h1m1 0h1m39 0h1m70 0h1m6 0h1m16 0h1M80 73h1m75 0h1m18 0h1m7 0h1m4 0h1m4 0h1m44 0h1m31 0h1M85 74h1m100 0h1m27 0h1m3 0h1m39 0h2M110 75h1m8 0h1m34 0h1m26 0h1m34 0h1m16 0h1M40 76h1m25 0h1m114 0h1m5 0h1m22 0h1M31 77h1m22 0h1m129 0h1m3 0h1m42 0h1m39 0h1M156 78h1m19 0h1m15 0h1m8 0h1m9 0h2m3 0h1m7 0h1m27 0h1m14 0h1M54 79h1m128 0h1m30 0h1m43 0h1M182 80h3m2 0h1m4 0h1m11 0h1m5 0h1m20 0h1m10 0h1m17 0h1M58 81h1m108 0h1m6 0h1m6 0h1m49 0h1m27 0h1m6 0h1m1 0h1M163 82h1m46 0h1m23 0h2M119 83h1M10 84h1m108 0h1m56 0h1m24 0h1m23 0h1m36 0h1M39 85h1m129 0h1m11 0h1m1 0h1m7 0h1m34 0h1m20 0h1m11 0h1m10 0h2M88 86h1m22 0h1m79 0h1m10 0h2m22 0h1m5 0h1m3 0h1M210 87h1m3 0h1m1 0h1m43 0h1m7 0h1M99 88h1m79 0h1m21 0h1m9 0h1m25 0h1m5 0h1m9 0h1M46 89h1m98 0h1m28 0h1m40 0h1m43 0h1M59 90h1m104 0h1m31 0h1m9 0h1m24 0h1m3 0h1m6 0h1m2 0h1m2 0h1M36 91h1m20 0h1m51 0h1m22 0h1m58 0h1m6 0h1m22 0h1M188 92h1m32 0h1m15 0h1m16 0h1M25 93h1m167 0h1m22 0h1m23 0h2m5 0h1m22 0h1m1 0h1M31 94h1m4 0h1m27 0h1m92 0h1m53 0h1M127 95h1m39 0h1m39 0h1m25 0h1m37 0h1M44 96h1m124 0h1m84 0h1M29 97h1m142 0h1m6 0h1m1 0h1m3 0h1m21 0h1m59 0h1M194 98h1m19 0h1m4 0h1m13 0h1m19 0h1M112 99h1m75 0h1m23 0h1m29 0h1"/>
<path stroke="#B993FF" d="M23 0h1m18 0h1m14 0h1m2 0h1m52 0h1m21 0h1m2 0h1M4 1h1m10 0h1m44 0h1m33 0h1m25 0h1m21 0h1m2 0h1m1 0h1m64 0h1M17 2h1m6 0h2m1 0h1m25 0h1m41 0h1m28 0h1m20 0h1M95 3h1m17 0h1m5 0h1m4 0h1m6 0h1m4 0h1m5 0h1m6 0h1m1 0h1m49 0h1m69 0h1M4 4h1m3 0h1m3 0h1m16 0h1m1 0h1m29 0h1m47 0h1m17 0h1m7 0h1m1 0h1m12 0h1m8 0h1m69 0h1M3 5h2m35 0h1m18 0h1m3 0h1m7 0h1m15 0h1m4 0h1m11 0h1m8 0h1M9 6h1m7 0h1m9 0h1m4 0h1m7 0h1m6 0h1m46 0h1m5 0h1m13 0h1m29 0h1m1 0h1m2 0h1m6 0h1m2 0h2M27 7h2m11 0h1m40 0h1m38 0h1m12 0h1M32 8h1m6 0h1m20 0h1m9 0h1m10 0h2m19 0h1m1 0h1m27 0h1m7 0h1m4 0h1m16 0h1M4 9h1m26 0h1m29 0h1m25 0h1m4 0h1m7 0h1m3 0h1m9 0h1m3 0h1m1 0h1m15 0h1m19 0h1M17 10h1m5 0h1m3 0h1m4 0h1m12 0h1m5 0h1m14 0h1m3 0h1m29 0h1m3 0h1m13 0h1m18 0h1m12 0h1m11 0h1M0 11h1m13 0h1m13 0h1m1 0h2m12 0h1m10 0h1m5 0h1m22 0h1m37 0h1m13 0h1m13 0h1m11 0h1M4 12h1m12 0h1m7 0h1m4 0h2m7 0h2m20 0h1m17 0h1m24 0h1m12 0h1m14 0h1m16 0h1m1 0h1M9 13h1m8 0h1m26 0h1m15 0h1m1 0h2m35 0h1m3 0h1m28 0h2m25 0h1m6 0h1M28 14h1m15 0h2m1 0h1m1 0h1m5 0h1m3 0h1m1 0h1m50 0h1m4 0h1m2 0h1m1 0h1m15 0h1m7 0h1m15 0h1M9 15h1m4 0h1m13 0h1m24 0h1m6 0h1m26 0h1m4 0h1m16 0h1m4 0h1m2 0h1m14 0h1m1 0h1m10 0h1m4 0h1m5 0h1m3 0h1M0 16h1m2 0h1m10 0h1m2 0h1m52 0h1m29 0h1m16 0h1m15 0h1m28 0h1M9 17h1m18 0h1m5 0h1m24 0h1m10 0h2m34 0h1m10 0h1m4 0h1m11 0h1M3 18h2m27 0h1m4 0h1m2 0h1m22 0h1m7 0h1m9 0h1m18 0h1m1 0h1m2 0h1m6 0h1m21 0h1m30 0h1M3 19h1m1 0h1m3 0h1m7 0h2m18 0h1m1 0h1m4 0h1m2 0h1m1 0h1m43 0h1m6 0h1m3 0h1m13 0h1m2 0h1m10 0h1m3 0h2m18 0h1M4 20h2m26 0h1m1 0h1m4 0h1m5 0h1m68 0h1m19 0h1m15 0h1m4 0h1m3 0h1M9 21h1m7 0h2m13 0h1m12 0h1m14 0h1m9 0h1m11 0h1m11 0h1m9 0h1m31 0h1m12 0h2m5 0h1m10 0h1M31 22h2m12 0h1m17 0h1m6 0h1m31 0h1m10 0h1m6 0h1m1 0h1m9 0h1m4 0h1M5 23h1m9 0h1m12 0h1m1 0h1m29 0h1m31 0h2m1 0h1m16 0h1m4 0h1m32 0h2m4 0h1M14 24h1m6 0h1m18 0h1m14 0h1m3 0h1m21 0h2m1 0h1m8 0h1m1 0h1m24 0h1m28 0h1m2 0h1m2 0h1m3 0h1M4 25h1m3 0h1m36 0h1m1 0h1m11 0h1m3 0h1m29 0h1m32 0h1m9 0h1M34 26h1m2 0h1m9 0h1m12 0h1m2 0h1m23 0h1m29 0h1m14 0h1m1 0h1m21 0h1m8 0h1M9 27h1m4 0h1m13 0h1m4 0h1m11 0h1m1 0h1m12 0h2m7 0h1m1 0h1m10 0h1m20 0h2m7 0h1m5 0h1m7 0h1m29 0h1m3 0h2M9 28h1m29 0h1m7 0h1m1 0h1m9 0h1m1 0h1m8 0h1m11 0h1m9 0h2m62 0h1M0 29h1m33 0h1m31 0h1m46 0h1m3 0h1m34 0h1m9 0h1M8 30h1m21 0h1m6 0h1m7 0h1m17 0h1m5 0h1m22 0h1m2 0h1m8 0h1m4 0h1m12 0h1m23 0h1M17 31h1m13 0h2m5 0h1m12 0h1m30 0h1m37 0h1m11 0h2m16 0h1m11 0h1M0 32h1m23 0h1m15 0h1m8 0h1m3 0h1m16 0h1m16 0h1m5 0h1m6 0h1m6 0h1m1 0h1m10 0h1m11 0h1m1 0h1m11 0h1M3 33h1m4 0h1m25 0h2m17 0h1m5 0h1m34 0h1m9 0h1m12 0h1m2 0h1m6 0h1m17 0h1m3 0h1m6 0h1m5 0h1M3 34h1m30 0h1m10 0h1m14 0h1m9 0h1m42 0h1m3 0h1m6 0h1m11 0h1m14 0h1M9 35h1m5 0h1m3 0h1m8 0h1m17 0h1m17 0h1m5 0h1m33 0h1m27 0h1m13 0h1m13 0h1M0 36h1m8 0h1m20 0h1m13 0h1m13 0h2m33 0h1m20 0h1m7 0h1m21 0h2M0 37h1m8 0h1m9 0h1m15 0h1m4 0h1m9 0h1m7 0h1m10 0h1m12 0h1m43 0h1m5 0h1m23 0h1M8 38h1m21 0h1m16 0h1m12 0h2m43 0h1m28 0h1m25 0h1M19 39h1m20 0h1m1 0h1m1 0h1m10 0h1m12 0h1m18 0h1m6 0h1m14 0h1m4 0h1m9 0h1m21 0h1m4 0h1m8 0h1M35 40h1m11 0h1m61 0h2m16 0h1m3 0h1m1 0h1m1 0h1m1 0h1m8 0h1m2 0h1m10 0h1m1 0h1M0 41h1m29 0h1m1 0h1m27 0h2m7 0h1m42 0h1m24 0h1m19 0h1M24 42h1m38 0h1M4 43h1m3 0h1m10 0h1m8 0h1m1 0h1m22 0h1m7 0h1m15 0h1m4 0h1m24 0h1m5 0h1m46 0h1M4 44h1m3 0h1m10 0h1m22 0h1m3 0h1m2 0h1m14 0h1m57 0h1m9 0h1m11 0h1m7 0h1M8 45h1m6 0h1m12 0h1m3 0h1m2 0h1m11 0h1m13 0h1m8 0h1m5 0h1m5 0h1m48 0h1m3 0h1m10 0h1m5 0h1M8 46h1m10 0h1m40 0h1m85 0h1m10 0h1M4 47h1m4 0h1m44 0h1m35 0h1m2 0h1m11 0h1m11 0h1m6 0h1m1 0h2m18 0h1m2 0h1m6 0h1M4 48h1m4 0h1m18 0h1m13 0h1m10 0h1m28 0h1m35 0h1m1 0h1m25 0h1m5 0h1M8 49h1m30 0h1m2 0h1m27 0h1m46 0h1m9 0h1m9 0h1m3 0h1m18 0h1M13 50h1m93 0h1m66 0h1m54 0h1m15 0h1M161 51h1m9 0h1m10 0h1m24 0h1m35 0h1m13 0h1M41 52h1m14 0h1m91 0h1m7 0h1m4 0h1m6 0h1m7 0h1m8 0h1m6 0h1m9 0h1m1 0h1m6 0h2m7 0h1m11 0h1M82 53h1m45 0h1m14 0h1m16 0h1m5 0h1m24 0h1m25 0h1m12 0h1m6 0h1m16 0h1M3 54h1m35 0h1m4 0h1m106 0h1m20 0h1m12 0h1m10 0h1m15 0h1m12 0h1m5 0h1m1 0h1M58 55h1m23 0h1m7 0h1m7 0h1m24 0h1m52 0h1m11 0h1m14 0h1m16 0h1m20 0h1m3 0h2m4 0h1m8 0h1m2 0h1M25 56h1m83 0h1m58 0h1m11 0h1m10 0h1m2 0h1m6 0h1m28 0h1m15 0h1m2 0h1M2 57h1m15 0h1m105 0h1m10 0h1m31 0h1m27 0h1m35 0h1m19 0h1m7 0h1M2 58h1m116 0h1m50 0h1m16 0h1m19 0h1m52 0h1M5 59h1m12 0h1m20 0h1m20 0h1m104 0h1m58 0h1m8 0h1m7 0h1m5 0h1m11 0h2M70 60h1m89 0h1m15 0h1m11 0h1m21 0h1m4 0h1m18 0h1m1 0h1m22 0h1m4 0h1M13 61h1m52 0h1m101 0h1m1 0h2m4 0h1m15 0h1m13 0h2m4 0h1m2 0h1m26 0h1m24 0h1M8 62h1m5 0h1m24 0h1m81 0h1m33 0h1m27 0h1m14 0h1m12 0h1m10 0h1m44 0h1M66 63h1m23 0h1m81 0h1m19 0h1m16 0h1m19 0h1m11 0h1M182 64h1m29 0h1m17 0h1M1 65h1m64 0h1m11 0h1m100 0h1m13 0h1m26 0h1m31 0h1m18 0h1M10 66h1m41 0h1m21 0h1m123 0h1m22 0h1m3 0h1m13 0h1m1 0h1m12 0h1m15 0h1M83 67h1m72 0h1m10 0h1m30 0h1m20 0h1m1 0h1m11 0h1m2 0h1m22 0h1M40 68h1m126 0h1m51 0h1m22 0h1m19 0h1m5 0h1M66 69h1m20 0h1m99 0h2m34 0h1m1 0h1m1 0h1m3 0h1m36 0h1m2 0h2M31 70h1m45 0h1m91 0h1m4 0h1m10 0h1m7 0h1m7 0h1m32 0h1m14 0h1m6 0h2M61 71h1m124 0h1m22 0h1m23 0h1m18 0h1M26 72h1m58 0h1m70 0h1m36 0h1m18 0h1m12 0h1m25 0h1m7 0h1m3 0h1m4 0h2M195 73h2m3 0h2m27 0h1m13 0h1m16 0h1m1 0h1M13 74h1m30 0h1m83 0h1m75 0h1m20 0h1m12 0h1m13 0h1M13 75h1m61 0h1m22 0h1m57 0h1m39 0h1m13 0h1m15 0h1m2 0h2m7 0h1m5 0h1m6 0h1M191 76h1m24 0h1m1 0h1m1 0h1m5 0h1m15 0h1m6 0h1m1 0h1m6 0h1m12 0h1M5 77h1m12 0h1m69 0h1m32 0h1m28 0h1m45 0h1m3 0h1m2 0h1m8 0h1m4 0h1m18 0h1m10 0h1M4 78h1m19 0h1m109 0h1m33 0h1m10 0h1m48 0h1m6 0h2m7 0h1m17 0h1M15 79h1m60 0h1m107 0h1m15 0h1m31 0h1m2 0h1m30 0h1M123 80h1m3 0h1m46 0h1m1 0h1m9 0h1m4 0h1m15 0h1M26 81h1m60 0h1m13 0h1m89 0h1m9 0h1m2 0h1m5 0h1m14 0h1m14 0h1m7 0h1m22 0h1M10 82h1m50 0h1m68 0h1m56 0h1m31 0h1m22 0h1m4 0h1m22 0h1M36 83h1m138 0h1m5 0h1m84 0h1M13 84h1m163 0h1m3 0h1m6 0h1m27 0h1m20 0h1M137 85h1m29 0h1m14 0h1m12 0h1m7 0h1m6 0h1m9 0h1m10 0h2m8 0h1m11 0h2m1 0h1M54 86h1m75 0h1m28 0h1m11 0h1m4 0h1m34 0h1M96 87h1m86 0h1m1 0h1m15 0h1m10 0h1m8 0h1m18 0h1m5 0h1m2 0h1m1 0h1M13 88h1m24 0h1m12 0h1m136 0h1m1 0h1m5 0h1m33 0h1m8 0h1m6 0h1M36 89h1m119 0h1m64 0h1m13 0h1m27 0h1m7 0h1M70 90h1m28 0h1m34 0h1m15 0h1m28 0h1m5 0h1m18 0h1m2 0h1m25 0h1m5 0h1m4 0h1m14 0h1M51 91h1m37 0h1m94 0h1m16 0h1m4 0h1M73 92h1m110 0h1m34 0h1m40 0h1M183 93h1m34 0h1m32 0h1m6 0h1M63 94h1m79 0h1m6 0h1m13 0h1m3 0h1m70 0h1m3 0h1M36 95h1m4 0h1m22 0h1m69 0h1m39 0h1m1 0h1m64 0h1M36 96h1m61 0h1m6 0h1m41 0h1m27 0h1m16 0h1m28 0h1m15 0h1M18 97h1m90 0h1m7 0h1m65 0h1m64 0h1m14 0h1m6 0h2M0 98h1m2 0h1m38 0h1m7 0h1m91 0h1m30 0h1m9 0h1m21 0h1m10 0h1m33 0h1m5 0h1M13 99h1m13 0h1m3 0h1m102 0h1m49 0h1m19 0h1m32 0h1m3 0h1m25 0h1"/>
<path stroke="#C4A2FF" d="M19 0h1m18 0h1m16 0h1m37 0h3m4 0h2m3 0h1m6 0h1m21 0h1m63 0h1m20 0h1M19 1h1m1 0h1m1 0h1m22 0h2m10 0h1m2 0h1m6 0h1m21 0h1m4 0h1m15 0h1m16 0h1m15 0h1m14 0h1m57 0h1M5 2h1m16 0h1m9 0h1m4 0h1m4 0h1m24 0h1m8 0h1m55 0h1m21 0h1m1 0h1m59 0h1M11 3h2m19 0h1m12 0h1m23 0h1m20 0h1m3 0h1m31 0h1m6 0h1m23 0h1m2 0h1m58 0h1M24 4h1m20 0h1m44 0h1m26 0h1m57 0h1m62 0h1M17 5h1m1 0h1m10 0h1m11 0h1m1 0h1m6 0h1m8 0h1m5 0h1m11 0h1m2 0h1m18 0h1m4 0h2m2 0h1m22 0h3m2 0h1m3 0h1M33 6h2m2 0h1m6 0h1m6 0h1m7 0h1m18 0h1m3 0h1m7 0h1m18 0h1m10 0h1m1 0h1m3 0h1m9 0h1m30 0h1M0 7h1m3 0h1m6 0h1m2 0h1m15 0h1m3 0h1m7 0h1m1 0h1m8 0h2m6 0h1m7 0h1m12 0h1m48 0h1m9 0h1m7 0h1m1 0h1m7 0h1M0 8h1m3 0h2m11 0h2m34 0h1m1 0h1m49 0h1m14 0h2m4 0h1m24 0h2M3 9h1m5 0h1m8 0h1m6 0h1m1 0h1m15 0h1m7 0h1m7 0h1m3 0h1m2 0h1m9 0h1m14 0h1m1 0h2m11 0h1m2 0h1m7 0h1m15 0h1m10 0h1m6 0h1M3 10h1m59 0h1m14 0h1m35 0h1m5 0h1m10 0h1m1 0h1m6 0h1m8 0h1m5 0h1M4 11h1m30 0h1m23 0h1m7 0h1m23 0h1m11 0h2m9 0h1m2 0h1m16 0h1m6 0h1m3 0h1m10 0h1M8 12h1m33 0h1m3 0h1m2 0h1m17 0h1m68 0h1m8 0h1m4 0h1m5 0h1M19 13h1m11 0h1m2 0h1m5 0h1m6 0h1m33 0h1m23 0h2m43 0h1m5 0h1M0 14h1m7 0h1m6 0h1m5 0h1m5 0h1m6 0h1m4 0h1m16 0h1m22 0h1m7 0h1m16 0h1m1 0h1m2 0h1m23 0h1m16 0h1m4 0h1M40 15h1m1 0h1m8 0h1m30 0h1m17 0h1m11 0h1m23 0h1m12 0h1m1 0h1m9 0h1M5 16h1m2 0h2m8 0h1m20 0h1m7 0h1m13 0h1m7 0h1m24 0h1m8 0h2m15 0h1m39 0h1M14 17h1m2 0h1m1 0h1m5 0h1m4 0h1m11 0h1m4 0h1m3 0h1m13 0h2m27 0h1m38 0h1m2 0h1M22 18h1m7 0h1m7 0h1m5 0h1m5 0h1m8 0h1m6 0h1m1 0h2m39 0h1m8 0h3m15 0h1m12 0h1m1 0h1m1 0h1m2 0h1M8 19h1m42 0h1m19 0h1m12 0h1m5 0h1m1 0h1m24 0h1m13 0h1m6 0h1m1 0h2M9 20h1m7 0h1m5 0h1m4 0h1m24 0h1m4 0h1m12 0h1m33 0h1m3 0h1m7 0h1m13 0h1m4 0h3m7 0h1m18 0h1M0 21h1m2 0h1m17 0h1m6 0h1m1 0h1m6 0h1m23 0h1m4 0h1m11 0h1m13 0h2m12 0h1m24 0h1m1 0h2m25 0h1m4 0h1M0 22h1m4 0h1m3 0h1m7 0h3m20 0h1m14 0h2m2 0h1m8 0h1m35 0h1m9 0h1m40 0h1M18 23h2m5 0h1m11 0h1m2 0h1m6 0h1m11 0h1m44 0h1m13 0h1m14 0h2M9 24h1m7 0h2m14 0h1m10 0h1m1 0h1m16 0h1m2 0h1m33 0h1m3 0h1m4 0h2m26 0h1m6 0h1M0 25h1m17 0h1m8 0h1m4 0h1m6 0h1m9 0h1m1 0h1m3 0h1m5 0h1m3 0h1m4 0h1m1 0h1m32 0h1m15 0h1m39 0h1M0 26h1m3 0h1m3 0h1m9 0h1m9 0h1m1 0h2m7 0h1m15 0h1m5 0h1m4 0h1m15 0h1m17 0h1m4 0h1m12 0h1m26 0h1m14 0h1m102 0h1M15 27h1m39 0h1m3 0h1m46 0h1m7 0h1m5 0h1m16 0h1m2 0h1m21 0h1M3 28h1m26 0h1m9 0h1m25 0h1m12 0h1m10 0h1m3 0h1m5 0h1m4 0h1m11 0h2m7 0h1m33 0h1m1 0h1M8 29h1m23 0h1m14 0h1m12 0h1m31 0h1m19 0h1m9 0h1m8 0h3m2 0h1M43 30h1m14 0h2m19 0h1m20 0h1m2 0h1m48 0h2m1 0h1m63 0h1M8 31h1m10 0h1m1 0h1m17 0h1m5 0h1m3 0h1m3 0h1m5 0h2m9 0h1m65 0h1m4 0h1M8 32h1m33 0h1m4 0h1m11 0h1m7 0h1m14 0h1m1 0h1m9 0h1m8 0h1m1 0h1m7 0h1m3 0h1m31 0h1m6 0h1M1 33h1m25 0h1m19 0h1m9 0h1m5 0h2m28 0h1m1 0h1m4 0h1m2 0h1m1 0h1m8 0h1m3 0h1m5 0h1m8 0h1m18 0h1M1 34h1m3 0h1m3 0h1m7 0h1m9 0h1m5 0h1m5 0h1m4 0h1m2 0h1m5 0h2m6 0h1m1 0h1m12 0h1m10 0h1m2 0h1m2 0h1m10 0h2m1 0h1m6 0h1m3 0h1m15 0h2m4 0h1m8 0h1M2 35h2m23 0h1m4 0h1m4 0h1m7 0h1m4 0h1m39 0h1m36 0h1m6 0h1m6 0h1m14 0h1M8 36h1m6 0h1m1 0h1m1 0h2m26 0h1m1 0h1m13 0h2m19 0h1m5 0h2m28 0h2m9 0h2m13 0h1m3 0h1M11 37h1m17 0h1m4 0h1m4 0h1m7 0h1m1 0h1m3 0h2m5 0h1m26 0h1m5 0h1m39 0h1m6 0h1m3 0h1m7 0h1M0 38h1m38 0h1m2 0h1m6 0h1m5 0h1m7 0h1m6 0h1m33 0h1m12 0h1m14 0h1m3 0h1m15 0h1M3 39h2m17 0h1m11 0h2m17 0h1m17 0h2m11 0h1m8 0h1m16 0h1m15 0h1m8 0h1m8 0h1m4 0h2m5 0h1M4 40h1m3 0h1m10 0h1m29 0h1m8 0h1m2 0h1m5 0h1m8 0h1m10 0h1m26 0h1m19 0h1M2 41h1m36 0h1m7 0h1m2 0h1m2 0h2m8 0h1m6 0h1m19 0h1m2 0h1m16 0h1m7 0h1m15 0h1m6 0h1m2 0h2m13 0h1M8 42h2m18 0h1m5 0h1m9 0h2m8 0h1m4 0h1m7 0h1m11 0h1m13 0h1m63 0h1m4 0h1M11 43h1m32 0h1m22 0h1m22 0h1m26 0h1m14 0h1m24 0h1M0 44h1m8 0h3m22 0h2m8 0h1m10 0h1m14 0h1m16 0h1m7 0h1m10 0h1m17 0h1m6 0h1m4 0h1m8 0h1m3 0h2m11 0h1M9 45h1m10 0h1m9 0h1m2 0h1m9 0h2m18 0h3m13 0h1m1 0h1m2 0h1m2 0h1m30 0h1m5 0h1M27 46h1m11 0h1m13 0h1m5 0h1m1 0h1m5 0h1m19 0h1m7 0h1m14 0h1m6 0h2m17 0h1m2 0h1m22 0h1M15 47h1m4 0h1m9 0h1m8 0h1m2 0h1m6 0h1m10 0h2m1 0h1m5 0h1m17 0h1m12 0h1m21 0h1m8 0h1M32 48h1m2 0h1m4 0h1m8 0h2m9 0h1m16 0h1m26 0h2m20 0h1m5 0h1m11 0h1m4 0h1M9 49h1m1 0h1m3 0h1m9 0h1m2 0h1m1 0h1m23 0h1m8 0h1m4 0h1m13 0h1m10 0h1m24 0h1m1 0h1m28 0h1m2 0h1M85 50h1m4 0h1m85 0h1m14 0h2m3 0h1m5 0h2m10 0h1M3 51h1m94 0h1m38 0h1m49 0h1m61 0h1m20 0h1M121 52h1m60 0h1m11 0h1m24 0h1m46 0h1M4 53h1m3 0h1m15 0h1m68 0h1m10 0h1m56 0h1m10 0h1m25 0h1m5 0h1m9 0h1m31 0h1m15 0h1m9 0h1M2 54h1m80 0h1m92 0h1m4 0h1m9 0h1m21 0h1m35 0h1M3 55h1m9 0h1m92 0h1m62 0h1m3 0h1m20 0h1m9 0h1m54 0h1m11 0h1M7 56h1m111 0h1m14 0h1m21 0h1m13 0h2m16 0h1m3 0h2m15 0h1m21 0h1m1 0h1m24 0h1m5 0h1m2 0h1m4 0h1M39 57h2m42 0h1m82 0h1m13 0h1m12 0h1m7 0h1m1 0h1m13 0h1m7 0h1m41 0h2M8 58h1m6 0h1m50 0h1m3 0h1m26 0h1m44 0h1m25 0h1m5 0h1m27 0h1m11 0h1m2 0h1m5 0h1m47 0h1M70 59h1m63 0h1m39 0h1m1 0h1m4 0h1m17 0h1m1 0h1m2 0h1m9 0h1m11 0h1M13 60h1m43 0h1m41 0h1m67 0h1m19 0h1m7 0h1m20 0h1m4 0h1m19 0h1m18 0h1m2 0h1m2 0h1M83 61h1m44 0h1m7 0h1m37 0h1m4 0h1m13 0h1m5 0h1m3 0h1m29 0h1m11 0h1m1 0h1m6 0h1m5 0h1M31 62h1m54 0h1m40 0h1m39 0h1m36 0h1m19 0h1m6 0h1m9 0h1m30 0h1M49 63h1m78 0h1m3 0h1m33 0h1m37 0h1M5 64h1m4 0h1m28 0h1m34 0h1m108 0h1m4 0h1m2 0h1m5 0h1m3 0h1m4 0h1m11 0h1m13 0h1m12 0h1m3 0h1m8 0h2m2 0h1M4 65h1m83 0h1m23 0h1m74 0h2m3 0h1m8 0h1m19 0h1m38 0h1M196 66h1m18 0h1m6 0h2m2 0h1m25 0h1m5 0h1m13 0h1M4 67h1m9 0h1m77 0h1m58 0h1m23 0h1m7 0h2m10 0h2m19 0h1m22 0h1m3 0h1m4 0h1m2 0h1m16 0h1M6 68h1m25 0h1m91 0h1m5 0h1m55 0h1m30 0h1M24 69h1m53 0h1m91 0h1m14 0h1m19 0h1m6 0h1m1 0h1m17 0h2M4 70h1m12 0h1m9 0h1m12 0h1m11 0h1m51 0h1m14 0h1m31 0h1m39 0h1m4 0h1m7 0h1m26 0h1m22 0h1M5 71h1m9 0h1m35 0h1m82 0h1m53 0h1m6 0h2m6 0h2m5 0h1m1 0h1m26 0h1m1 0h1m17 0h1m11 0h1M1 72h1m12 0h1m36 0h1m47 0h1m51 0h1m18 0h1m20 0h1m2 0h1m3 0h1m1 0h1m5 0h2m23 0h1m9 0h1m30 0h1M26 73h1m20 0h1m4 0h1m36 0h1m49 0h1m15 0h1m31 0h1m38 0h1m4 0h1m7 0h1m7 0h2m8 0h1M10 74h1m59 0h1m4 0h1m13 0h1m77 0h1m19 0h1m12 0h1m4 0h1m15 0h1m8 0h1m16 0h2m17 0h1m3 0h1M116 75h1m35 0h1m47 0h1m34 0h1M134 76h1m19 0h1m4 0h1m14 0h1m4 0h1m16 0h1m7 0h1m1 0h1m25 0h1m11 0h1m3 0h1m11 0h1M15 77h1m69 0h1m83 0h1m12 0h1m4 0h1m9 0h2m2 0h1m14 0h1m4 0h1m18 0h1m8 0h1m2 0h1m6 0h1m7 0h1M26 78h1m27 0h1m30 0h1m42 0h1m53 0h1m1 0h1m1 0h1m23 0h1m55 0h1m1 0h1M89 79h1m62 0h1m22 0h1m3 0h1m30 0h1m30 0h1M14 80h1m36 0h1m67 0h1m41 0h1m9 0h1m17 0h1m5 0h1m7 0h1m5 0h1m4 0h1m11 0h1m6 0h1m3 0h1m9 0h1M4 81h1m39 0h1m164 0h1m6 0h1m1 0h1m5 0h1m17 0h1m10 0h1M3 82h1m19 0h1m22 0h1m13 0h1m5 0h1m57 0h1m56 0h1m22 0h1m13 0h1m5 0h1m4 0h1m1 0h1m19 0h1M50 83h1m2 0h2m79 0h1m7 0h1m20 0h1m37 0h1m2 0h1m15 0h2m4 0h1m5 0h1m20 0h2m5 0h1M53 84h1m35 0h1m66 0h1m3 0h1m8 0h1m16 0h2m45 0h1m32 0h1M3 85h1m120 0h1m23 0h1m23 0h1m15 0h1m3 0h1m13 0h1m2 0h1m6 0h1m2 0h1m5 0h1m4 0h1m13 0h3m25 0h1M13 86h1m11 0h1m49 0h1m107 0h1m17 0h1m52 0h1M13 87h1m37 0h1m91 0h1m15 0h1m8 0h1m3 0h1m45 0h1m16 0h1m23 0h1M31 88h1m54 0h1m25 0h1m11 0h1m11 0h1m29 0h1m25 0h1m10 0h1m17 0h1m4 0h1m4 0h2m5 0h1m20 0h1M10 89h1m3 0h1m35 0h1m15 0h1m14 0h1m83 0h1m13 0h1m28 0h1m29 0h1m3 0h1M0 90h1m51 0h1m67 0h1m63 0h1m8 0h1m22 0h1m1 0h1m6 0h1m11 0h1m17 0h1M156 91h1m12 0h1m35 0h1m12 0h1m4 0h1m2 0h2m3 0h2M24 92h1m174 0h1m5 0h1m6 0h1m22 0h1m2 0h1m12 0h1m13 0h1M36 93h1m4 0h1m78 0h1m49 0h1m15 0h1m4 0h1m9 0h1m2 0h1m6 0h1m19 0h1M42 94h1m30 0h1m15 0h1m77 0h1m35 0h1m3 0h1m10 0h1m19 0h1m18 0h1m12 0h1M50 95h1m25 0h1m66 0h1m25 0h1m33 0h1m35 0h1m19 0h1M4 96h1m63 0h1m8 0h1m43 0h1m54 0h1m6 0h1m20 0h1m18 0h1m9 0h1m29 0h1M104 97h1m29 0h1m13 0h1m1 0h1m68 0h1m13 0h1m5 0h1m12 0h1M96 98h1m11 0h1m43 0h1m65 0h1m8 0h1m8 0h1m20 0h2M51 99h1m65 0h1m37 0h1m34 0h1m5 0h1m6 0h1m4 0h1m21 0h1m18 0h1"/>
<path stroke="#CFB1FF" d="M9 0h1m12 0h1m9 0h1m26 0h1m13 0h1m13 0h1m21 0h1m8 0h1m5 0h1m28 0h1M0 1h1m1 0h1m17 0h1m8 0h1m4 0h1m2 0h1m7 0h1m2 0h1m21 0h1m4 0h1m23 0h1m5 0h1m23 0h1m67 0h1m1 0h1m16 0h1m21 0h1M31 2h1m9 0h1m3 0h1m19 0h1m24 0h1m26 0h1m22 0h1m1 0h1m8 0h1m3 0h1m9 0h1m17 0h1m13 0h1m19 0h1M14 3h1m4 0h2m3 0h1m12 0h1m23 0h1m38 0h1m7 0h1m18 0h1m52 0h1m22 0h1m2 0h1m21 0h1M2 4h1m45 0h1m3 0h1m12 0h1m14 0h1m26 0h1m48 0h2m7 0h1m17 0h1m16 0h1m40 0h1m4 0h1m13 0h1M15 5h1m11 0h1m3 0h1m7 0h1m9 0h1m15 0h1m3 0h1m6 0h1m2 0h1m13 0h1m13 0h1m2 0h1m7 0h1m3 0h1m32 0h1m2 0h1m1 0h1M10 6h1m11 0h1m1 0h2m17 0h1m2 0h1m8 0h1m2 0h1m7 0h1m2 0h1m5 0h1m19 0h1m6 0h2m1 0h1m1 0h1m11 0h1m1 0h1m28 0h2M9 7h1m5 0h1m21 0h1m7 0h1m1 0h1m1 0h1m1 0h1m11 0h1m7 0h1m18 0h1m1 0h1m10 0h1m3 0h1m13 0h1m12 0h1m10 0h1m16 0h1m4 0h1m15 0h1M3 8h1m7 0h1m2 0h1m6 0h1m8 0h1m28 0h1m6 0h1m4 0h1m31 0h1m2 0h1m29 0h1m7 0h1m5 0h1m8 0h1M14 9h1m4 0h1m10 0h1m3 0h1m5 0h1m3 0h1m13 0h1m19 0h1m6 0h1m40 0h1m7 0h1m3 0h1m6 0h1m4 0h1m1 0h1m6 0h1m1 0h1M18 10h3m1 0h1m8 0h1m21 0h1m1 0h1m2 0h1m12 0h1m3 0h1m5 0h1m11 0h1m1 0h1m10 0h2m1 0h1m7 0h1m8 0h2m7 0h2m24 0h1m21 0h1m35 0h1M3 11h1m1 0h1m3 0h2m4 0h1m2 0h1m3 0h1m22 0h1m7 0h1m12 0h1m14 0h1m17 0h1m12 0h1m6 0h1m1 0h1m5 0h1m3 0h1m6 0h1m13 0h1m50 0h1M14 12h1m7 0h1m4 0h2m5 0h1m9 0h1m6 0h1m11 0h1m7 0h1m9 0h1m24 0h1m15 0h1m8 0h1m2 0h1m20 0h1m63 0h1M17 13h1m9 0h2m1 0h1m1 0h1m11 0h1m26 0h1m7 0h1m10 0h1m1 0h1m1 0h2m7 0h1m5 0h1m2 0h1m9 0h1m13 0h1m7 0h1m10 0h1m5 0h2M5 14h1m3 0h1m20 0h1m2 0h1m6 0h1m12 0h1m4 0h1m7 0h1m2 0h1m25 0h1m4 0h1m2 0h1m3 0h1m6 0h1m19 0h1m1 0h1m10 0h1m12 0h1M3 15h1m13 0h1m4 0h1m7 0h1m1 0h1m4 0h1m9 0h1m1 0h1m18 0h1m2 0h1m32 0h3m11 0h2m7 0h1m9 0h1m3 0h1m20 0h1M49 16h1m1 0h1m1 0h1m25 0h1m1 0h1m9 0h1m3 0h1m9 0h1m15 0h2m15 0h1m2 0h1m3 0h2m3 0h1M3 17h1m14 0h1m18 0h2m1 0h1m5 0h1m31 0h1m26 0h1m12 0h1m12 0h1m5 0h1m3 0h1m11 0h1m1 0h1m5 0h1M11 18h1m2 0h1m4 0h1m22 0h1m6 0h1m5 0h1m34 0h3m2 0h1m11 0h1m2 0h1m6 0h1m28 0h1m12 0h1m1 0h2m66 0h1M2 19h1m7 0h1m8 0h1m2 0h2m1 0h1m2 0h1m1 0h1m1 0h1m9 0h2m2 0h1m12 0h1m4 0h1m1 0h1m11 0h2m32 0h1m20 0h2m20 0h1m9 0h1M3 20h1m18 0h1m2 0h1m1 0h1m12 0h1m2 0h1m2 0h1m13 0h1m20 0h2m4 0h1m4 0h1m14 0h1m10 0h1m2 0h1m11 0h1m1 0h1m16 0h1m3 0h1M5 21h1m5 0h1m7 0h1m5 0h1m1 0h1m12 0h1m3 0h1m2 0h1m7 0h1m2 0h1m6 0h1m3 0h1m1 0h1m7 0h1m22 0h1m9 0h1m1 0h1m6 0h2m28 0h3m1 0h1M3 22h1m18 0h1m5 0h1m1 0h1m3 0h1m2 0h1m1 0h1m7 0h1m3 0h1m2 0h1m6 0h2m4 0h1m4 0h2m10 0h1m2 0h1m5 0h1m5 0h2m4 0h1m1 0h1m28 0h1m8 0h2m3 0h4m5 0h1m7 0h1M3 23h1m5 0h1m7 0h1m17 0h1m6 0h3m6 0h1m1 0h1m4 0h1m4 0h1m2 0h1m40 0h1m1 0h1m4 0h1m4 0h1m11 0h1m4 0h1m18 0h1m6 0h1M3 24h1m45 0h1m14 0h1m7 0h1m3 0h1m2 0h1m5 0h2m5 0h1m6 0h1m6 0h2m4 0h1m5 0h1m7 0h1m4 0h1m1 0h1m19 0h1m8 0h1M17 25h1m1 0h1m1 0h1m6 0h1m14 0h1m14 0h1m7 0h1m2 0h1m22 0h1m7 0h1m17 0h1m5 0h1m6 0h1m1 0h1m3 0h1m15 0h1m1 0h1m3 0h1M3 26h1m13 0h1m9 0h1m4 0h1m13 0h1m4 0h1m17 0h1m8 0h1m2 0h1m11 0h1m17 0h1m8 0h1m1 0h1m3 0h1m4 0h1m20 0h1m9 0h1M1 27h1m10 0h1m17 0h1m6 0h1m2 0h1m12 0h1m18 0h1m11 0h1m8 0h2m4 0h1m5 0h1m15 0h1m9 0h1m12 0h1m6 0h1m1 0h1M8 28h1m3 0h1m6 0h1m2 0h2m1 0h1m1 0h2m2 0h1m23 0h1m7 0h1m5 0h1m8 0h1m25 0h1m2 0h1m13 0h2m4 0h1m4 0h1M2 29h1m1 0h2m4 0h1m16 0h1m2 0h2m8 0h1m1 0h1m10 0h1m1 0h1m3 0h1m10 0h1m19 0h1m4 0h1m4 0h1m17 0h1m7 0h1m28 0h1m4 0h1M15 30h1m3 0h1m4 0h2m14 0h1m3 0h1m2 0h1m3 0h1m3 0h1m11 0h1m13 0h1m8 0h2m1 0h1m11 0h1m1 0h1m13 0h1m4 0h1m7 0h1m1 0h1m3 0h1m9 0h1m14 0h1M3 31h1m6 0h1m7 0h1m9 0h1m1 0h1m9 0h1m1 0h1m1 0h1m13 0h1m4 0h1m3 0h1m13 0h1m12 0h1m4 0h1m10 0h1m20 0h1m17 0h1m10 0h1M3 32h1m6 0h2m3 0h1m7 0h1m6 0h1m1 0h1m42 0h1m1 0h1m1 0h1m10 0h1m35 0h1m12 0h1m22 0h1M9 33h1m1 0h1m11 0h2m5 0h1m7 0h1m7 0h1m20 0h1m1 0h1m4 0h1m4 0h1m11 0h1m18 0h1m44 0h1M8 34h1m10 0h2m14 0h1m10 0h1m2 0h1m19 0h1m14 0h1m6 0h1m17 0h1m1 0h1m8 0h1m10 0h1m5 0h1m12 0h1m9 0h1m66 0h1M0 35h1m38 0h1m3 0h2m22 0h1m14 0h1m10 0h2m12 0h1m12 0h1m3 0h1m1 0h1m4 0h1m7 0h1m21 0h1M1 36h1m16 0h1m13 0h1m1 0h1m2 0h1m2 0h1m1 0h1m7 0h1m2 0h1m3 0h1m8 0h1m20 0h1m16 0h2m12 0h1m8 0h1m7 0h1m13 0h1m2 0h1m2 0h1m4 0h2M3 37h1m1 0h1m9 0h1m4 0h2m8 0h1m1 0h2m7 0h2m12 0h1m7 0h2m1 0h2m3 0h1m3 0h1m10 0h1m18 0h3m1 0h1m4 0h1m2 0h1m6 0h1m6 0h1m3 0h1m3 0h1M1 38h1m1 0h1m5 0h1m1 0h1m5 0h1m9 0h1m1 0h1m4 0h2m17 0h1m5 0h1m4 0h1m2 0h2m3 0h1m9 0h1m4 0h1m5 0h1m26 0h1m1 0h1m1 0h1m8 0h1m1 0h1m13 0h1m69 0h1M1 39h2m8 0h1m6 0h1m5 0h1m16 0h1m7 0h1m4 0h1m4 0h1m3 0h1m5 0h1m6 0h2m3 0h1m21 0h1m1 0h1m1 0h1m3 0h1m6 0h1m21 0h2m3 0h1m9 0h1M15 40h1m11 0h1m4 0h1m6 0h1m2 0h1m16 0h1m4 0h1m4 0h1m23 0h1m13 0h1m14 0h1m9 0h1m11 0h1M10 41h1m8 0h1m13 0h1m10 0h1m1 0h1m12 0h1m4 0h1m6 0h1m4 0h1m1 0h2m2 0h1m17 0h1m12 0h2m5 0h1m1 0h1m1 0h1m2 0h1m11 0h1m2 0h1m6 0h1M2 42h1m9 0h1m4 0h1m1 0h2m6 0h1m14 0h2m3 0h1m1 0h1m3 0h1m6 0h1m8 0h1m12 0h1m27 0h1m9 0h1m10 0h1m1 0h3m16 0h1m50 0h1M3 43h1m5 0h1m12 0h1m19 0h1m7 0h1m8 0h1m6 0h1m3 0h1m1 0h1m19 0h1m27 0h1m3 0h1m2 0h1m3 0h1m3 0h1m20 0h1M1 44h1m35 0h1m13 0h2m4 0h3m7 0h1m3 0h1m4 0h2m6 0h1m8 0h1m11 0h1m4 0h1m9 0h1m5 0h1m8 0h1m1 0h1m3 0h1M19 45h1m6 0h1m7 0h1m14 0h1m7 0h1m9 0h2m22 0h1m1 0h1m9 0h1m3 0h1m4 0h1m20 0h2m6 0h1m77 0h1m9 0h1M0 46h1m3 0h1m23 0h1m3 0h2m6 0h1m1 0h1m4 0h1m9 0h1m5 0h1m2 0h1m9 0h1m28 0h1m8 0h1m4 0h1m6 0h1m5 0h1m1 0h1m10 0h1m10 0h1m3 0h1M1 47h1m31 0h3m8 0h1m7 0h1m17 0h1m4 0h2m5 0h1m1 0h1m24 0h2m9 0h1m9 0h1m3 0h1m1 0h1m2 0h3m8 0h2m1 0h1m8 0h1M3 48h1m11 0h1m2 0h3m6 0h1m13 0h1m4 0h1m23 0h1m13 0h1m4 0h1m24 0h1m2 0h1m1 0h1m11 0h1m1 0h1m1 0h1m4 0h1m16 0h1m11 0h1M3 49h1m6 0h1m22 0h1m1 0h1m4 0h1m4 0h1m5 0h1m12 0h1m7 0h1m3 0h1m15 0h1m2 0h1m14 0h3m11 0h1m6 0h1m1 0h1m2 0h1m22 0h1M26 50h1m29 0h1m46 0h1m24 0h1m1 0h1m1 0h1m15 0h1m10 0h1m25 0h1m2 0h1m4 0h1m7 0h1m30 0h1m4 0h1m1 0h1m9 0h1m1 0h1m15 0h1m3 0h1M134 51h1m16 0h1m18 0h1m6 0h1m8 0h1m22 0h1m7 0h1m1 0h1m42 0h1M8 52h1m12 0h1m2 0h1m54 0h1m2 0h1m53 0h1m35 0h1m20 0h1m2 0h1m1 0h1m10 0h1m15 0h1m19 0h1m14 0h1m2 0h1m4 0h1m2 0h1M5 53h1m20 0h1m17 0h1m2 0h1m16 0h1m25 0h1m45 0h1m30 0h1m35 0h1m11 0h1m9 0h1m34 0h1m4 0h1m1 0h1m3 0h1M13 54h1m1 0h1m54 0h1m6 0h1m23 0h1m21 0h1m44 0h2m10 0h1m5 0h2m6 0h1m9 0h1m2 0h1m6 0h2m2 0h1m11 0h1m10 0h1m14 0h1M5 55h1m18 0h2m13 0h1m13 0h1m32 0h1m23 0h1m10 0h1m5 0h1m6 0h1m10 0h1m5 0h1m4 0h1m14 0h1m21 0h1m2 0h1m1 0h1m13 0h1m12 0h1m3 0h1m12 0h1m11 0h1M14 56h1m34 0h1m27 0h1m7 0h1m41 0h1m54 0h1m13 0h1m1 0h1m8 0h1m4 0h2m33 0h1M142 57h1m8 0h1m7 0h1m12 0h1m10 0h1m20 0h1m5 0h2m3 0h1m36 0h1m9 0h1m3 0h1M4 58h1m15 0h1m15 0h1m26 0h1m11 0h1m6 0h1m86 0h1m6 0h1m8 0h1m18 0h1m1 0h1m8 0h1m2 0h1m14 0h1m14 0h1m14 0h1m2 0h1m5 0h1M14 59h1m16 0h1m118 0h1m18 0h1m14 0h1m6 0h1m8 0h1m14 0h1m15 0h1m21 0h1M3 60h1m27 0h1m42 0h1m7 0h1m7 0h1m28 0h1m3 0h1m4 0h1m27 0h1m9 0h1m19 0h1m14 0h1m2 0h1m1 0h1m12 0h2m29 0h1m3 0h1m3 0h1m12 0h1M14 61h1m117 0h1m48 0h1m44 0h2m6 0h1m22 0h1m5 0h1m6 0h1M21 62h1m136 0h2m11 0h2m1 0h1m11 0h1m9 0h1m5 0h1m35 0h1m16 0h1M8 63h1m36 0h1m15 0h1m13 0h1m45 0h1m16 0h1m15 0h1m6 0h1m20 0h1m3 0h1m25 0h1m5 0h1m2 0h1m9 0h1m13 0h1m25 0h1M12 64h2m76 0h1m52 0h1m29 0h1m2 0h1m15 0h1m21 0h1m9 0h1m15 0h1m10 0h1m20 0h1M14 65h1m74 0h1m17 0h1m16 0h1m55 0h1m19 0h1m9 0h1m26 0h1m32 0h1M14 66h1m3 0h1m1 0h1m10 0h1m8 0h2m12 0h1m6 0h1m36 0h1m24 0h1m8 0h1m4 0h1m13 0h1m14 0h1m14 0h1m9 0h1m10 0h1m13 0h1m14 0h1m3 0h1m6 0h1m16 0h2m6 0h1m1 0h1M10 67h1m95 0h1m14 0h1m12 0h1m31 0h1m20 0h1m9 0h1m4 0h1m6 0h1m16 0h1m3 0h1m16 0h1M14 68h2m2 0h1m42 0h1m1 0h1m19 0h1m8 0h1m11 0h1m46 0h1m4 0h1m11 0h1m16 0h1m12 0h1m39 0h1m1 0h2m12 0h1M67 69h1m14 0h1m14 0h1m61 0h1m8 0h1m6 0h1m31 0h1m11 0h1m10 0h1m3 0h1m6 0h1m16 0h1M14 70h1m52 0h1m25 0h1m55 0h1m9 0h1m3 0h1m23 0h1m27 0h1m5 0h2m3 0h1m5 0h1m14 0h1m5 0h1m4 0h1m1 0h1m7 0h1M130 71h1m25 0h1m12 0h1m21 0h1m1 0h1m6 0h1m10 0h1m3 0h1m9 0h1m20 0h1m21 0h1M5 72h1m2 0h1m1 0h1m9 0h1m3 0h1m20 0h1m52 0h1m69 0h1m35 0h1m10 0h1m1 0h1m34 0h2M36 73h2m28 0h1m21 0h1m9 0h1m80 0h1m4 0h1m1 0h1m2 0h1m14 0h1m6 0h2m5 0h1m3 0h1m29 0h1m15 0h1M4 74h1m28 0h1m32 0h1m101 0h2m2 0h1m7 0h1m9 0h1m15 0h1m8 0h1m16 0h1m3 0h1m35 0h1M1 75h1m31 0h1m7 0h1m7 0h1m1 0h1m2 0h1m22 0h1m42 0h1m15 0h1m26 0h1m2 0h1m9 0h1m3 0h1m2 0h1m9 0h1m1 0h1m22 0h1m1 0h1m1 0h1m33 0h1M10 76h1m4 0h1m10 0h1m27 0h1m42 0h1m7 0h1m8 0h1m61 0h1m26 0h1m19 0h1m1 0h1m21 0h1m5 0h1m8 0h1m9 0h1M58 77h1m11 0h1m4 0h1m54 0h2m5 0h1m38 0h1m4 0h1m3 0h1m5 0h1m1 0h1m13 0h1m3 0h1m7 0h1m3 0h1m5 0h1m2 0h1m4 0h1m3 0h1m26 0h1m1 0h1M44 78h1m25 0h1m77 0h1m1 0h1m36 0h1m7 0h1m3 0h1m4 0h1m1 0h1m18 0h1m8 0h1m5 0h2m17 0h1m10 0h1M119 79h1m47 0h1m14 0h1m10 0h1m2 0h1m20 0h1m1 0h1m5 0h1m4 0h1m7 0h1m4 0h1m18 0h1m5 0h1M54 80h1m9 0h1m85 0h1m29 0h1m12 0h2m6 0h1m10 0h1m7 0h1m3 0h1m10 0h1m8 0h1m3 0h1m3 0h1m5 0h1m5 0h1m1 0h1M14 81h1m6 0h1m2 0h1m58 0h1m4 0h1m9 0h1m1 0h1m2 0h1m52 0h1m9 0h1m19 0h2m7 0h1m7 0h1m22 0h1m22 0h1M83 82h1m78 0h1m2 0h1m3 0h1m16 0h1m74 0h1m4 0h3M13 83h1m31 0h1m11 0h1m9 0h1m20 0h1m21 0h1m19 0h1m38 0h1m8 0h1m1 0h1m31 0h1m1 0h1m15 0h1m10 0h1m5 0h1m4 0h1m2 0h1m2 0h1m4 0h1m6 0h1M2 84h1m19 0h1m31 0h1m20 0h1m3 0h1m41 0h1m52 0h1m35 0h2m14 0h1m20 0h1m12 0h1M10 85h1m11 0h1m2 0h1m5 0h1m4 0h1m61 0h1m2 0h1m29 0h1m32 0h1m1 0h1m33 0h1m10 0h1m9 0h1m6 0h1m5 0h1M76 86h1m21 0h1m75 0h1m5 0h1m28 0h1m7 0h1m26 0h1m13 0h1m1 0h1M58 87h1m75 0h1m34 0h1m4 0h1m4 0h1m12 0h1m3 0h1m6 0h1m54 0h1M3 88h1m22 0h1m65 0h1m12 0h1m48 0h1m86 0h1m6 0h1m1 0h1M13 89h1m4 0h1m8 0h1m1 0h1m24 0h1m21 0h1m23 0h1m35 0h1m39 0h1m6 0h1m1 0h1m10 0h1m7 0h1m7 0h1m13 0h1m6 0h1m5 0h1m1 0h1M31 90h1m24 0h1m20 0h1m46 0h1m17 0h1m16 0h1m8 0h1m11 0h1m5 0h2m13 0h1m7 0h2m19 0h1m10 0h1m9 0h1m1 0h1M14 91h1m23 0h1m24 0h2m18 0h1m27 0h1m38 0h1m28 0h1m6 0h2m8 0h1m7 0h1m11 0h1m2 0h1m15 0h1m2 0h2m23 0h1m1 0h1m1 0h1M51 92h1m11 0h1m20 0h1m9 0h1m13 0h1m76 0h1m71 0h1M3 93h1m27 0h1m19 0h1m31 0h1m19 0h1m18 0h1m116 0h1M8 94h1m36 0h1m59 0h1m49 0h1m10 0h1m14 0h1m23 0h1m13 0h1m14 0h1m7 0h1M6 95h1m19 0h1m17 0h1m7 0h1m43 0h1m2 0h1m6 0h1m35 0h1m12 0h1m32 0h1m1 0h1m13 0h1m1 0h1m28 0h1m15 0h1M17 96h1m88 0h1m36 0h1m29 0h1m6 0h1m66 0h1M46 97h1m4 0h1m8 0h1m10 0h1m21 0h2m8 0h1m47 0h1m77 0h1m5 0h1m1 0h2m17 0h1M13 98h1m38 0h1m11 0h1m35 0h1m20 0h1m64 0h1m1 0h1m4 0h1m10 0h1m26 0h1m2 0h1m24 0h2M15 99h1m93 0h2m55 0h1m3 0h1m1 0h1m16 0h1m10 0h1m15 0h1m2 0h1m16 0h1m3 0h1m4 0h1m4 0h1m1 0h1m5 0h1"/>
<path stroke="#D9C1FF" d="M2 0h1m9 0h1m15 0h3m21 0h1m3 0h1m18 0h1m5 0h1m22 0h1m3 0h1m2 0h1m7 0h1m31 0h1m9 0h1m14 0h1m15 0h1m8 0h2m34 0h1m3 0h1m21 0h1M1 1h1m53 0h1m3 0h1m5 0h1m25 0h1m1 0h1m41 0h1m19 0h1m1 0h1m2 0h1m22 0h1m19 0h1m27 0h1m18 0h1m2 0h1M15 2h1m2 0h1m7 0h1m30 0h1m1 0h2m11 0h1m19 0h1m11 0h2m2 0h1m21 0h2m7 0h1m7 0h1m54 0h1m25 0h1m43 0h1M29 3h1m25 0h1m9 0h1m10 0h1m10 0h1m16 0h1m2 0h1m14 0h1m21 0h1m50 0h1m37 0h1M1 4h1m35 0h1m11 0h1m50 0h1m3 0h1m6 0h1m1 0h1m6 0h1m30 0h1m76 0h1m3 0h1M1 5h1m3 0h1m6 0h1m8 0h2m2 0h1m2 0h1m3 0h2m12 0h1m6 0h1m8 0h1m1 0h1m19 0h1m5 0h1m11 0h2m8 0h1m6 0h1m3 0h1m7 0h1m3 0h2m1 0h3m8 0h2m1 0h1m6 0h1m5 0h1m1 0h1m14 0h1M15 6h1m26 0h1m6 0h1m3 0h1m13 0h1m3 0h1m7 0h1m1 0h1m2 0h3m6 0h1m5 0h1m12 0h1m11 0h1m6 0h1m13 0h1m7 0h1m7 0h1m3 0h1m23 0h1M2 7h1m2 0h1m2 0h1m3 0h1m4 0h1m1 0h1m1 0h1m2 0h2m9 0h1m19 0h2m1 0h1m5 0h1m2 0h1m4 0h2m2 0h1m1 0h1m6 0h1m1 0h1m5 0h3m9 0h2m2 0h1m8 0h1m7 0h1m9 0h2m12 0h1m2 0h1m1 0h1M1 8h1m7 0h1m5 0h1m6 0h2m1 0h1m14 0h1m1 0h1m3 0h2m2 0h2m4 0h1m1 0h1m2 0h1m16 0h1m14 0h1m5 0h1m9 0h1m4 0h1m12 0h1m13 0h1m11 0h1m13 0h1m14 0h1M2 9h1m14 0h1m5 0h1m14 0h1m3 0h1m7 0h1m3 0h1m10 0h1m3 0h1m1 0h1m2 0h1m15 0h1m12 0h1m7 0h1m15 0h1m11 0h1m1 0h1m7 0h1m17 0h1m34 0h1m9 0h1m6 0h1m43 0h1M5 10h1m9 0h1m8 0h2m11 0h1m8 0h1m2 0h1m19 0h1m9 0h1m5 0h1m8 0h1m6 0h1m9 0h2m8 0h1m7 0h1m4 0h1m3 0h2m13 0h1m5 0h1m7 0h1m34 0h1m60 0h1M33 11h2m3 0h1m11 0h2m6 0h1m4 0h3m6 0h1m5 0h2m10 0h1m11 0h1m3 0h2m18 0h1m10 0h1m11 0h1m1 0h1m1 0h1m1 0h1m4 0h1m4 0h1m1 0h1m24 0h1m26 0h1M9 12h1m9 0h1m1 0h1m1 0h1m9 0h1m3 0h1m15 0h1m1 0h1m1 0h1m6 0h3m5 0h1m5 0h1m6 0h1m6 0h1m9 0h2m1 0h1m1 0h1m10 0h1m19 0h1m2 0h1m4 0h1m1 0h1m13 0h1M5 13h1m8 0h2m9 0h1m9 0h1m1 0h1m4 0h2m2 0h1m2 0h1m1 0h1m4 0h1m1 0h1m16 0h1m10 0h1m20 0h1m11 0h1m1 0h1m4 0h1m4 0h1m8 0h1m50 0h1m37 0h1m30 0h1M4 14h1m9 0h1m2 0h1m7 0h1m6 0h1m9 0h1m3 0h1m4 0h1m11 0h1m7 0h1m12 0h1m17 0h1m20 0h2m17 0h1m5 0h2m9 0h1M1 15h1m13 0h1m3 0h1m3 0h1m20 0h1m22 0h1m10 0h1m15 0h1m8 0h1m6 0h1m9 0h2m9 0h1m3 0h1m2 0h1m13 0h2m5 0h1m5 0h1m1 0h1M11 16h1m3 0h1m8 0h2m2 0h1m2 0h1m5 0h1m4 0h1m1 0h2m13 0h1m3 0h1m2 0h1m1 0h1m9 0h1m7 0h1m6 0h1m7 0h2m4 0h1m4 0h1m13 0h1m12 0h1m9 0h1m2 0h1m12 0h1m53 0h1m43 0h1M5 17h1m5 0h1m8 0h1m23 0h1m4 0h1m5 0h1m2 0h1m2 0h1m6 0h1m7 0h2m1 0h1m1 0h1m11 0h1m5 0h2m8 0h2m1 0h1m1 0h1m6 0h1m4 0h2m7 0h1m2 0h1m5 0h1m4 0h2m1 0h1m6 0h1m52 0h1m50 0h1M10 18h1m4 0h1m5 0h1m2 0h1m4 0h1m3 0h1m31 0h1m13 0h1m26 0h1m19 0h1m8 0h1m16 0h1m66 0h1M11 19h1m3 0h1m4 0h1m19 0h1m9 0h1m2 0h1m1 0h1m2 0h1m2 0h1m5 0h1m1 0h1m7 0h1m7 0h1m8 0h1m4 0h1m27 0h1m7 0h1m13 0h1m1 0h2m9 0h1m100 0h1M11 20h1m3 0h1m2 0h1m23 0h1m6 0h1m5 0h1m7 0h1m1 0h1m1 0h1m1 0h1m9 0h1m11 0h1m2 0h2m4 0h2m4 0h1m5 0h1m7 0h1m20 0h1m3 0h1m3 0h1m69 0h1M14 21h1m34 0h1m3 0h1m2 0h1m20 0h1m3 0h1m18 0h1m17 0h1m7 0h1m11 0h1m1 0h2m3 0h1m18 0h1m54 0h1M25 22h1m18 0h1m13 0h1m7 0h1m4 0h1m7 0h1m1 0h1m10 0h1m13 0h1m4 0h1m5 0h1m3 0h1m2 0h1m1 0h1m4 0h1m2 0h1m6 0h1m14 0h1m5 0h1m28 0h1M14 23h1m6 0h1m5 0h1m5 0h1m16 0h1m1 0h1m11 0h1m3 0h1m1 0h1m3 0h1m3 0h2m10 0h2m11 0h1m1 0h1m4 0h1m11 0h1m5 0h1m20 0h1m9 0h1m5 0h1M1 24h1m3 0h1m16 0h1m1 0h1m5 0h1m3 0h1m18 0h1m11 0h1m3 0h1m1 0h1m6 0h1m22 0h2m62 0h1M3 25h1m5 0h1m1 0h1m2 0h1m9 0h1m5 0h2m5 0h1m6 0h1m1 0h1m6 0h1m6 0h1m10 0h1m9 0h2m8 0h1m11 0h2m1 0h1m13 0h1m6 0h1m6 0h1m3 0h1m7 0h1M10 26h1m10 0h1m3 0h1m9 0h1m4 0h1m1 0h1m6 0h1m8 0h2m11 0h1m22 0h2m3 0h1m3 0h1m6 0h1m3 0h1m8 0h1m9 0h1m10 0h1m4 0h1m3 0h1m7 0h1M3 27h1m16 0h1m2 0h1m1 0h1m1 0h1m16 0h1m33 0h2m6 0h1m4 0h2m16 0h1m9 0h1m2 0h1m18 0h1m13 0h1m11 0h1m92 0h1M5 28h1m8 0h1m18 0h1m3 0h1m6 0h1m6 0h1m1 0h1m17 0h1m29 0h1m7 0h1m21 0h1m2 0h1m3 0h1m13 0h2m11 0h1m1 0h1m23 0h2m9 0h1M17 29h3m23 0h1m2 0h1m4 0h1m6 0h1m4 0h1m5 0h1m1 0h1m7 0h1m22 0h1m2 0h2m3 0h1m10 0h1m15 0h2m22 0h1m3 0h1m1 0h1m34 0h1M5 30h1m4 0h2m1 0h1m6 0h1m1 0h1m9 0h1m2 0h1m2 0h1m7 0h1m2 0h1m4 0h1m1 0h1m4 0h1m3 0h1m11 0h2m15 0h1m11 0h1m3 0h1m1 0h1m4 0h1m23 0h1m2 0h1m4 0h1m11 0h1m5 0h1m3 0h1M9 31h1m4 0h2m9 0h1m1 0h1m7 0h1m1 0h1m28 0h1m2 0h1m1 0h2m3 0h1m13 0h3m2 0h1m10 0h2m1 0h1m25 0h1m15 0h1m3 0h1m33 0h1M9 32h1m2 0h1m4 0h1m1 0h1m13 0h2m4 0h1m1 0h1m12 0h2m4 0h1m2 0h1m1 0h1m2 0h2m2 0h1m3 0h1m18 0h1m12 0h1m2 0h2m9 0h1m21 0h1m6 0h1m19 0h1m55 0h1M5 33h1m23 0h1m10 0h1m13 0h1m21 0h2m6 0h1m41 0h1m4 0h1m18 0h1M10 34h2m1 0h1m27 0h2m5 0h1m6 0h1m1 0h1m6 0h1m2 0h2m26 0h1m42 0h2m4 0h1m8 0h1m1 0h1M5 35h1m4 0h1m10 0h1m9 0h1m17 0h1m7 0h1m10 0h2m2 0h1m3 0h1m28 0h1m3 0h1m20 0h1m4 0h1m1 0h1m6 0h2M3 36h1m9 0h1m11 0h1m3 0h1m3 0h1m7 0h1m3 0h1m9 0h1m11 0h1m2 0h1m5 0h3m15 0h1m5 0h1m23 0h1m1 0h1m10 0h1m3 0h1m11 0h1m11 0h1m53 0h1M17 37h1m13 0h1m11 0h1m1 0h2m27 0h1m1 0h1m2 0h1m10 0h1m12 0h1m8 0h1m3 0h1m3 0h1m9 0h1m5 0h2m3 0h2m2 0h1m4 0h1m68 0h1m43 0h1M15 38h1m2 0h1m1 0h1m11 0h1m4 0h1m2 0h1m3 0h1m9 0h1m11 0h1m9 0h1m13 0h1m3 0h1m12 0h1m18 0h2m2 0h2m9 0h1m2 0h1m12 0h1m69 0h1M10 39h1m6 0h1m12 0h1m8 0h1m6 0h1m5 0h1m4 0h2m8 0h1m6 0h2m14 0h1m9 0h1m11 0h1m4 0h1m9 0h1m2 0h2M11 40h1m6 0h1m5 0h1m16 0h1m6 0h1m1 0h2m11 0h1m2 0h1m1 0h1m10 0h1m1 0h1m9 0h1m29 0h1m18 0h2m8 0h1m8 0h1m7 0h1m34 0h1M4 41h1m4 0h1m10 0h1m4 0h1m1 0h1m7 0h1m9 0h1m5 0h2m34 0h1m4 0h1m16 0h1m26 0h1m9 0h1m3 0h1M1 42h1m9 0h1m6 0h1m4 0h1m5 0h1m2 0h2m12 0h1m3 0h1m6 0h2m5 0h1m1 0h1m3 0h1m16 0h1m6 0h1m6 0h1m3 0h1m5 0h1m18 0h1m5 0h2m7 0h1m15 0h1M1 43h2m2 0h1m11 0h1m6 0h1m7 0h1m1 0h1m11 0h2m6 0h2m4 0h1m3 0h1m3 0h1m18 0h1m5 0h1m16 0h1m1 0h1m6 0h1m2 0h1m11 0h1m4 0h1m2 0h1m1 0h2m4 0h1m1 0h1M15 44h1m2 0h1m1 0h1m1 0h1m1 0h2m1 0h1m1 0h1m1 0h1m1 0h1m6 0h2m3 0h1m16 0h1m29 0h1m1 0h1m8 0h1m3 0h1m21 0h1m9 0h1m11 0h1m3 0h1m107 0h1M3 45h3m5 0h1m11 0h1m3 0h1m18 0h1m3 0h1m8 0h1m9 0h1m1 0h1m28 0h1m5 0h1m7 0h1m2 0h1m3 0h1m5 0h1m9 0h1m6 0h2m3 0h1m6 0h1m3 0h1m15 0h1M2 46h1m8 0h1m3 0h1m13 0h2m4 0h1m10 0h1m2 0h1m8 0h1m11 0h1m4 0h1m28 0h1m19 0h1m104 0h1M2 47h1m15 0h1m12 0h1m11 0h1m1 0h1m9 0h1m8 0h2m1 0h1m3 0h1m9 0h1m9 0h1m2 0h2m7 0h1m2 0h1m5 0h1m8 0h1m1 0h1m21 0h1m6 0h1M5 48h1m2 0h1m15 0h1m1 0h1m6 0h1m11 0h1m1 0h1m6 0h2m3 0h1m3 0h2m3 0h1m12 0h1m9 0h1m2 0h1m12 0h1m19 0h1m8 0h2m1 0h1m16 0h1m72 0h1M1 49h2m11 0h1m17 0h1m4 0h1m12 0h1m4 0h1m1 0h2m1 0h1m8 0h1m5 0h1m2 0h1m2 0h1m8 0h1m13 0h1m2 0h1m6 0h1m6 0h1m13 0h1m3 0h1m2 0h1m1 0h2m10 0h1m14 0h1m57 0h1M39 50h1m2 0h1m7 0h1m48 0h1m34 0h1m6 0h1m14 0h1m11 0h1m50 0h2m13 0h1m19 0h1m1 0h1m3 0h1M14 51h2m51 0h1m17 0h1m17 0h2m14 0h1m7 0h1m17 0h1m20 0h1m1 0h1m3 0h1m1 0h1m1 0h1m1 0h1m9 0h1m2 0h1m2 0h1m3 0h1m17 0h1m3 0h1m10 0h2m8 0h1m5 0h1m3 0h1m4 0h1M14 52h1m32 0h1m22 0h1m3 0h1m11 0h1m82 0h1m1 0h1m9 0h1m19 0h1m11 0h1m10 0h1m4 0h1m9 0h1m22 0h1m6 0h1M2 53h1m12 0h1m4 0h1m11 0h1m28 0h1m41 0h1m4 0h1m24 0h1m42 0h1m3 0h2m5 0h1m28 0h1m33 0h1M24 54h1m24 0h1m13 0h1m23 0h1m2 0h1m21 0h1m1 0h1m28 0h1m17 0h1m1 0h1m6 0h1m21 0h1m5 0h1m10 0h1m6 0h1m7 0h1m11 0h1m8 0h1M20 55h1m42 0h1m60 0h1m14 0h1m27 0h1m11 0h1m5 0h1m13 0h1m17 0h1m3 0h1m10 0h1m4 0h1m12 0h1m16 0h2M8 56h1m15 0h1m18 0h1m59 0h1m16 0h1m11 0h1m3 0h1m18 0h1m16 0h1m1 0h1m49 0h1m32 0h1m8 0h1m1 0h1M66 57h1m29 0h1m30 0h1m3 0h1m4 0h1m24 0h1m17 0h1m2 0h1m13 0h1m9 0h1m6 0h1m10 0h1m11 0h1m23 0h1m2 0h1m5 0h1M110 58h1m26 0h1m43 0h1m10 0h1m1 0h1m24 0h1m1 0h1m7 0h1m9 0h1m9 0h1m4 0h1m7 0h1M40 59h1m41 0h1m11 0h1m4 0h1m3 0h1m3 0h1m23 0h2m3 0h1m14 0h1m37 0h1m2 0h1m4 0h1m9 0h1m3 0h1m6 0h1m6 0h1m22 0h1m8 0h1m4 0h2m7 0h1M0 60h1m24 0h1m21 0h1m11 0h1m19 0h2m29 0h1m32 0h1m4 0h1m9 0h1m6 0h1m27 0h1m15 0h1m2 0h1m24 0h1m4 0h1m13 0h1m11 0h1M47 61h1m138 0h1m1 0h1m8 0h1m20 0h1m9 0h4m17 0h1m12 0h1m9 0h1M2 62h1m23 0h1m27 0h1m9 0h1m9 0h1m12 0h1m5 0h1m11 0h1m45 0h1m16 0h1m12 0h1m3 0h1m1 0h1m21 0h1m4 0h1m3 0h1m14 0h1m9 0h1m1 0h1m1 0h1m6 0h1m10 0h1M22 63h1m2 0h1m6 0h1m11 0h1m2 0h1m8 0h1m17 0h1m25 0h1m2 0h1m15 0h1m4 0h1m22 0h1m22 0h1m5 0h1m4 0h1m21 0h1m12 0h1m11 0h1m17 0h1m4 0h2m11 0h1m4 0h1M2 64h1m15 0h1m23 0h1m20 0h1m70 0h1m11 0h1m21 0h1m5 0h1m10 0h1m21 0h1m1 0h1m5 0h2m26 0h1m6 0h1m9 0h1m3 0h1m2 0h1m3 0h1M13 65h1m6 0h1m56 0h1m7 0h1m13 0h1m20 0h1m15 0h1m32 0h1m39 0h1m3 0h1m4 0h1m13 0h1m13 0h1m4 0h1m4 0h1m2 0h1m2 0h1M35 66h1m8 0h1m2 0h1m32 0h1m12 0h1m14 0h1m8 0h2m36 0h1m20 0h1m3 0h1m5 0h1m1 0h1m10 0h1m1 0h1m2 0h1m4 0h2m9 0h1m32 0h1m17 0h1M52 67h1m25 0h1m52 0h1m4 0h1m4 0h1m6 0h1m12 0h1m12 0h1m18 0h1m12 0h1m24 0h1m3 0h1m10 0h1m7 0h1m7 0h1m4 0h1m3 0h1M31 68h1m48 0h1m68 0h1m9 0h1m5 0h1m25 0h2m2 0h1m6 0h1m1 0h1m24 0h1m2 0h1m4 0h1m8 0h1m2 0h1m10 0h1m10 0h1M11 69h1m1 0h1m17 0h1m24 0h1m47 0h1m17 0h1m79 0h2m6 0h1m2 0h1m1 0h1m6 0h1m17 0h1M47 70h1m6 0h1m9 0h1m16 0h1m74 0h1m11 0h1m34 0h1m7 0h1m17 0h1m11 0h1m6 0h1m12 0h1M33 71h1m12 0h1m36 0h1m5 0h1m16 0h1m29 0h1m29 0h1m4 0h1m8 0h1m11 0h1m6 0h1m6 0h1m12 0h2m9 0h1m27 0h1M25 72h1m20 0h1m19 0h1m9 0h1m12 0h1m2 0h1m4 0h1m6 0h1m50 0h1m10 0h1m2 0h1m2 0h1m14 0h1m7 0h1m13 0h1m9 0h1m7 0h1m2 0h1m34 0h1M20 73h1m30 0h1m41 0h1m5 0h1m98 0h1m4 0h1m3 0h1m8 0h1m24 0h1m16 0h1m8 0h1M43 74h1m3 0h1m3 0h2m20 0h1m50 0h1m12 0h1m12 0h1m9 0h1m1 0h1m25 0h1m2 0h1m6 0h1m21 0h1m2 0h1m3 0h1m12 0h1m19 0h1m3 0h2M26 75h1m20 0h1m4 0h1m9 0h1m19 0h1m10 0h1m31 0h1m2 0h1m4 0h1m27 0h1m29 0h1m9 0h1m9 0h1m24 0h2m2 0h1m6 0h1m11 0h1m7 0h1M8 76h1m10 0h1m59 0h2m4 0h1m3 0h1m23 0h1m9 0h1m58 0h1m9 0h1m26 0h1m1 0h1m12 0h2m16 0h1m2 0h1m13 0h1M23 77h1m2 0h1m82 0h1m22 0h1m2 0h1m31 0h1m7 0h1m23 0h1m2 0h1m11 0h1m9 0h1m18 0h1m1 0h1m8 0h1m1 0h2M2 78h1m6 0h2m2 0h2m45 0h1m27 0h2m3 0h1m4 0h1m17 0h1m12 0h1m37 0h1m6 0h1m34 0h1m17 0h1m30 0h1m4 0h1m7 0h1M1 79h1m51 0h1m5 0h1m6 0h2m15 0h1m20 0h1m18 0h1m37 0h1m8 0h1m9 0h1m6 0h1m11 0h1m2 0h1m3 0h1m4 0h1m25 0h1m2 0h1m1 0h1m1 0h1m27 0h1M2 80h1m2 0h1m4 0h1m50 0h1m8 0h1m4 0h1m1 0h1m58 0h1m30 0h1m2 0h1m28 0h2m24 0h1m1 0h1m13 0h1m12 0h1M3 81h1m6 0h1m8 0h1m110 0h1m17 0h1m4 0h1m7 0h1m8 0h1m5 0h1m53 0h1M44 82h1m7 0h1m22 0h1m1 0h1m9 0h1m31 0h1m39 0h1m22 0h1m12 0h1m1 0h1m28 0h1m3 0h1m6 0h1m7 0h1m10 0h1m1 0h3m8 0h1M79 83h2m79 0h1m10 0h1m10 0h1m33 0h1m5 0h1m5 0h1m11 0h1m21 0h1m4 0h1m3 0h1M100 84h1m67 0h1m20 0h1m6 0h1m22 0h1m1 0h1m8 0h2m2 0h1m7 0h2m5 0h1m1 0h1m5 0h1m1 0h1m3 0h1M15 85h1m10 0h1m34 0h1m8 0h1m9 0h1m48 0h2m29 0h1m7 0h1m32 0h1m15 0h1m34 0h1M60 86h2m30 0h1m10 0h1m48 0h1m12 0h1m9 0h1m11 0h1m4 0h1m22 0h2m1 0h1m4 0h1m13 0h1m9 0h1m23 0h1M8 87h1m34 0h1m8 0h1m8 0h1m21 0h1m40 0h1m14 0h1m26 0h1m24 0h1m8 0h1m6 0h1m12 0h1m6 0h1m2 0h1m1 0h2m7 0h1m13 0h2M20 88h1m8 0h1m6 0h1m27 0h1m18 0h1m29 0h1m36 0h1m7 0h1m13 0h1m21 0h1m10 0h1m1 0h1m19 0h1m7 0h1m4 0h1m3 0h1m13 0h1m12 0h1M26 89h1m50 0h1m91 0h1m23 0h1m9 0h1m1 0h1m1 0h1m10 0h1m8 0h1m2 0h1m3 0h1m5 0h1m13 0h1m3 0h1m10 0h1M9 90h1m16 0h1m40 0h1m6 0h1m4 0h1m23 0h1m66 0h1m4 0h1m29 0h1m13 0h1m6 0h1m16 0h1m5 0h1m8 0h1m9 0h1M0 91h1m33 0h1m63 0h1m22 0h1m25 0h1m26 0h1m10 0h1m7 0h1m46 0h1m6 0h1M4 92h1m41 0h1m45 0h1m10 0h1m23 0h1m12 0h1m5 0h1m3 0h1m24 0h1m3 0h1m16 0h1m34 0h1m9 0h1m8 0h1m4 0h1m14 0h1M32 93h1m10 0h1m8 0h1m4 0h1m54 0h1m2 0h1m13 0h1m3 0h1m4 0h1m15 0h1m11 0h1m6 0h1m7 0h1m6 0h2m20 0h1m6 0h1m8 0h1m5 0h1m10 0h1m20 0h1M46 94h1m7 0h1m15 0h1m17 0h1m31 0h1m2 0h1m9 0h1m37 0h1m6 0h1m1 0h1m3 0h1m2 0h1m9 0h1m12 0h1m1 0h1m20 0h1m1 0h3m2 0h1m9 0h2M13 95h1m4 0h1m12 0h1m26 0h1m29 0h1m16 0h1m3 0h1m54 0h2m14 0h1m4 0h2m24 0h1m5 0h1m18 0h1m1 0h1m8 0h1M33 96h1m1 0h1m10 0h1m16 0h1m44 0h1m39 0h1m15 0h1m2 0h1m6 0h1m20 0h1m3 0h1m3 0h1m2 0h2m8 0h1m17 0h1m24 0h1m11 0h1M63 97h1m16 0h1m105 0h1m4 0h1m3 0h1m1 0h1m7 0h2m1 0h1m22 0h1m10 0h1M5 98h1m64 0h1m5 0h1m16 0h1m11 0h1m27 0h1m11 0h1m4 0h1m2 0h1m6 0h1m6 0h1m2 0h1m1 0h1m1 0h1m4 0h1m15 0h1m11 0h1m3 0h1m9 0h1m13 0h1m7 0h1m7 0h2M4 99h1m25 0h1m2 0h1m10 0h1m8 0h1m24 0h1m13 0h1m9 0h1m1 0h1m16 0h1m34 0h1m26 0h1m15 0h1m5 0h1m4 0h1m6 0h2m8 0h1m3 0h1m3 0h1m7 0h2m2 0h1m5 0h1"/>
<path stroke="#E3D0FF" d="M43 0h1m21 0h1m4 0h1m1 0h1m9 0h1m5 0h2m1 0h1m33 0h1m18 0h1m13 0h2m4 0h1m9 0h1m6 0h1m46 0h1m9 0h1m4 0h1M6 1h1m5 0h1m20 0h1m16 0h1m20 0h2m3 0h2m11 0h1m23 0h1m47 0h1m109 0h1M9 2h1m11 0h1m7 0h1m8 0h1m12 0h1m11 0h1m18 0h1m4 0h1m1 0h1m3 0h2m30 0h1m23 0h1m49 0h1m14 0h1m23 0h1m11 0h1m10 0h1M8 3h1m43 0h1m20 0h1m14 0h1m4 0h1m2 0h1m17 0h1m6 0h1m1 0h1m31 0h1m7 0h1m8 0h1m2 0h1m7 0h1m7 0h1m31 0h1m21 0h1m12 0h1m6 0h1m1 0h1M21 4h1m3 0h1m13 0h1m1 0h3m6 0h1m7 0h1m3 0h1m24 0h1m7 0h2m2 0h1m5 0h1m4 0h1m13 0h1m3 0h1m10 0h1m6 0h1m5 0h1m16 0h1m16 0h1m4 0h1m20 0h1m4 0h1m2 0h1m42 0h1m2 0h1M23 5h1m14 0h1m29 0h1m25 0h1m26 0h1m4 0h2m17 0h1m7 0h1m58 0h1M3 6h1m7 0h2m1 0h1m3 0h1m2 0h1m1 0h1m14 0h1m17 0h1m4 0h1m1 0h2m3 0h1m5 0h1m2 0h1m23 0h1m4 0h1m1 0h1m2 0h1m13 0h1m1 0h1m5 0h1m4 0h1m1 0h1m14 0h1m20 0h1m14 0h1m37 0h1M3 7h1m34 0h1m7 0h1m10 0h1m7 0h1m8 0h2m3 0h1m11 0h1m18 0h2m2 0h1m7 0h1m2 0h1m14 0h1m17 0h1m6 0h1m5 0h1m47 0h1M19 8h1m4 0h1m2 0h1m7 0h1m8 0h1m4 0h1m18 0h1m17 0h1m5 0h1m2 0h1m5 0h1m16 0h2m5 0h1m11 0h1m33 0h1m11 0h1M11 9h1m3 0h1m5 0h1m2 0h1m4 0h1m3 0h1m1 0h1m19 0h1m8 0h1m3 0h1m6 0h1m5 0h1m19 0h1m5 0h1m2 0h1m12 0h1m7 0h1m8 0h1m12 0h1m17 0h1M26 10h1m6 0h1m9 0h1m6 0h1m5 0h1m8 0h1m1 0h2m3 0h1m17 0h1m32 0h1m17 0h1m50 0h1M21 11h1m15 0h1m2 0h1m1 0h2m18 0h1m5 0h2m24 0h2m4 0h2m7 0h1m29 0h1m19 0h1m22 0h2M3 12h1m7 0h1m3 0h1m8 0h1m10 0h1m2 0h1m4 0h1m6 0h1m5 0h1m1 0h2m31 0h1m1 0h1m1 0h1m13 0h1m11 0h1m4 0h2m9 0h1m4 0h1m1 0h1m7 0h1m30 0h1m45 0h1M20 13h1m1 0h1m10 0h1m19 0h2m10 0h1m1 0h1m1 0h1m4 0h1m3 0h1m12 0h1m1 0h1m5 0h1m1 0h1m8 0h2m2 0h1m3 0h1m18 0h1m3 0h1m7 0h1m1 0h1m7 0h1m5 0h1m16 0h1m6 0h1M3 14h1m18 0h1m8 0h1m6 0h1m4 0h1m24 0h1m9 0h1m6 0h1m5 0h1m1 0h1m32 0h1m10 0h1m2 0h1m10 0h1m15 0h1m3 0h1m19 0h1M2 15h1m7 0h1m10 0h1m3 0h1m9 0h1m7 0h1m19 0h1m2 0h1m5 0h1m8 0h1m9 0h1m3 0h1m3 0h1m2 0h1m4 0h1m3 0h1m12 0h1m5 0h1m9 0h1m3 0h1m24 0h1m19 0h1m29 0h1m43 0h1M12 16h1m14 0h1m1 0h1m16 0h1m8 0h1m2 0h1m5 0h1m11 0h1m15 0h1m16 0h1m9 0h1m15 0h1m15 0h1m2 0h2m35 0h1M15 17h1m5 0h3m39 0h1m5 0h1m20 0h1m4 0h1m6 0h2m7 0h1m11 0h1m21 0h1m5 0h1m13 0h1m1 0h1m34 0h1M1 18h1m11 0h1m9 0h1m11 0h1m15 0h1m15 0h1m7 0h1m2 0h1m6 0h1m13 0h1m3 0h1m10 0h1m7 0h1m4 0h1m2 0h2m5 0h1m3 0h1m3 0h1m2 0h1m43 0h1m19 0h1m35 0h1M14 19h1m12 0h1m1 0h1m3 0h1m29 0h1m27 0h1m3 0h1m10 0h2m1 0h1m4 0h1m4 0h1m5 0h2m17 0h1m5 0h1m2 0h1m7 0h1m27 0h1M20 20h2m2 0h1m4 0h1m3 0h1m1 0h1m1 0h1m28 0h1m5 0h1m3 0h1m1 0h1m6 0h1m4 0h1m2 0h1m8 0h1m19 0h1m28 0h1m2 0h1m6 0h2m8 0h1m76 0h1M1 21h1m10 0h2m6 0h1m1 0h1m1 0h1m8 0h1m4 0h1m4 0h1m8 0h1m9 0h1m1 0h1m2 0h1m16 0h1m1 0h1m4 0h1m3 0h1m13 0h1m17 0h1m7 0h1m1 0h1m6 0h1m16 0h1M10 22h1m3 0h2m5 0h1m5 0h1m1 0h1m3 0h1m15 0h1m3 0h1m15 0h1m8 0h1m31 0h1m1 0h1m6 0h1m7 0h1m12 0h1m3 0h1m4 0h1m21 0h1m11 0h1m28 0h1M1 23h1m8 0h1m1 0h1m10 0h1m14 0h1m16 0h1m1 0h1m7 0h1m3 0h1m1 0h1m12 0h1m1 0h1m24 0h1m14 0h1m13 0h2m3 0h1m1 0h2m3 0h2m65 0h1M10 24h1m8 0h1m6 0h1m8 0h1m1 0h2m3 0h1m8 0h1m15 0h1m6 0h1m15 0h1m12 0h1m7 0h1m2 0h1m8 0h1m1 0h1m16 0h1m2 0h1m4 0h1m32 0h1m76 0h1M2 25h1m7 0h1m9 0h1m4 0h1m12 0h1m1 0h1m15 0h1m7 0h1m10 0h1m14 0h1m8 0h1m7 0h1m1 0h1m2 0h1m1 0h1m24 0h3m8 0h2m13 0h1m1 0h1m21 0h1M1 26h1m7 0h1m4 0h1m4 0h1m2 0h1m1 0h1m18 0h2m8 0h1m11 0h1m1 0h1m4 0h1m6 0h1m10 0h1m1 0h1m9 0h1m1 0h1m1 0h1m5 0h1m23 0h1m4 0h1m8 0h2m3 0h1m3 0h1m7 0h1m3 0h1M5 27h1m13 0h1m4 0h1m13 0h1m10 0h1m8 0h1m4 0h1m1 0h1m24 0h1m11 0h1m4 0h2m26 0h2m1 0h1m6 0h1m2 0h1m3 0h1m6 0h1m5 0h1m17 0h1M10 28h2m3 0h1m2 0h1m2 0h1m10 0h1m9 0h1m22 0h1m1 0h1m4 0h1m13 0h1m16 0h1m8 0h1m7 0h1m2 0h1m9 0h1m2 0h1m7 0h2m1 0h1m2 0h1m10 0h1m57 0h1M9 29h1m2 0h1m1 0h2m7 0h1m1 0h1m7 0h1m1 0h1m26 0h1m15 0h1m2 0h1m17 0h1m4 0h1m2 0h1m1 0h1m4 0h1m35 0h2m7 0h1m4 0h1m18 0h1m76 0h1M1 30h1m12 0h1m49 0h1m20 0h1m16 0h1m15 0h1m5 0h1m13 0h1m9 0h1m2 0h1m7 0h1m22 0h1m29 0h1M1 31h1m22 0h1m18 0h1m12 0h1m4 0h2m2 0h1m9 0h1m8 0h1m8 0h1m6 0h1m10 0h1m10 0h1m1 0h1m1 0h1m1 0h1m5 0h1m2 0h1m91 0h1m33 0h1M14 32h1m10 0h3m3 0h1m3 0h1m7 0h1m2 0h1m1 0h1m1 0h1m11 0h1m1 0h1m13 0h1m6 0h1m24 0h1m19 0h1m2 0h1m1 0h1m5 0h2m7 0h1m8 0h1m4 0h1m2 0h1m1 0h1m32 0h2m59 0h1M14 33h1m5 0h1m12 0h1m5 0h1m18 0h1m9 0h1m2 0h2m8 0h1m10 0h1m14 0h1m31 0h1m4 0h1m8 0h1m65 0h1m9 0h1M2 34h1m11 0h1m11 0h1m2 0h1m7 0h1m2 0h1m2 0h1m6 0h1m7 0h2m2 0h1m11 0h2m1 0h1m4 0h1m27 0h1m8 0h1m10 0h1m2 0h1m7 0h1m10 0h1m8 0h1m5 0h1m44 0h1m16 0h1M17 35h1m2 0h1m2 0h2m26 0h1m11 0h1m7 0h1m2 0h2m1 0h1m9 0h1m18 0h1m12 0h1m20 0h1m11 0h1m29 0h1m19 0h1M5 36h1m5 0h1m11 0h1m3 0h1m15 0h1m10 0h1m13 0h2m11 0h1m24 0h2m4 0h1m6 0h1m13 0h1m2 0h1m2 0h1m14 0h1m1 0h1m46 0h1M2 37h1m23 0h2m20 0h1m2 0h1m21 0h1m3 0h1m3 0h1m18 0h2m8 0h1m10 0h2m2 0h1m27 0h1m7 0h1m7 0h1m57 0h1M5 38h1m4 0h1m1 0h1m18 0h1m9 0h1m3 0h2m1 0h1m1 0h1m5 0h1m8 0h1m3 0h1m14 0h1m6 0h1m3 0h1m4 0h1m9 0h1m10 0h1m31 0h1m2 0h1m7 0h1m6 0h1m31 0h1M5 39h1m6 0h1m1 0h1m5 0h1m6 0h1m1 0h1m15 0h1m4 0h1m13 0h1m1 0h1m3 0h1m7 0h1m12 0h2m2 0h1m5 0h1m17 0h1m2 0h1m10 0h1m4 0h2m13 0h1m10 0h1m98 0h1M9 40h1m7 0h1m2 0h2m1 0h1m19 0h2m7 0h1m1 0h1m5 0h1m9 0h1m3 0h1m2 0h1m6 0h1m9 0h1m5 0h1m4 0h2m5 0h1m23 0h1m1 0h2m2 0h1m9 0h1m3 0h1m4 0h1m2 0h1m54 0h1M3 41h1m1 0h1m17 0h1m5 0h1m10 0h1m2 0h1m4 0h1m8 0h1m9 0h1m13 0h1m25 0h1m24 0h1m22 0h1m6 0h1m4 0h1m8 0h1m4 0h1M5 42h1m1 0h1m6 0h1m10 0h1m11 0h1m2 0h1m11 0h1m2 0h1m15 0h2m1 0h2m1 0h2m2 0h1m3 0h1m5 0h1m15 0h1m4 0h1m3 0h1m1 0h1m4 0h1m1 0h1m1 0h1m12 0h2m2 0h1m5 0h1m9 0h1m51 0h1m16 0h1M10 43h1m10 0h1m11 0h1m6 0h1m4 0h1m5 0h2m3 0h1m6 0h1m17 0h1m2 0h1m10 0h1m4 0h1m5 0h1m2 0h1m23 0h1m6 0h2m7 0h1m4 0h2m8 0h1m64 0h1M3 44h1m35 0h1m3 0h1m19 0h1m2 0h1m1 0h1m3 0h1m8 0h1m8 0h1m23 0h1m3 0h2m13 0h1m4 0h1m8 0h2m7 0h1m32 0h1m12 0h1m24 0h1M2 45h1m10 0h1m3 0h2m10 0h1m9 0h3m6 0h1m6 0h1m2 0h1m18 0h1m12 0h1m4 0h1m9 0h1m20 0h1m3 0h1m22 0h1m7 0h1m5 0h1m36 0h1m58 0h1M1 46h1m7 0h1m4 0h1m2 0h1m2 0h1m3 0h1m20 0h1m2 0h1m5 0h1m10 0h1m2 0h2m3 0h1m3 0h1m6 0h1m5 0h1m12 0h1m2 0h2m1 0h1m2 0h1m18 0h1m3 0h1m4 0h1m1 0h1m6 0h2m1 0h1m11 0h1m36 0h1M12 47h1m4 0h1m3 0h1m1 0h1m3 0h1m1 0h1m16 0h1m10 0h1m14 0h1m5 0h1m13 0h1m42 0h1m1 0h1m4 0h1m15 0h1m6 0h1m36 0h2m15 0h1m7 0h1M12 48h1m4 0h1m21 0h1m8 0h1m7 0h1m12 0h1m1 0h2m5 0h1m8 0h1m2 0h1m12 0h1m5 0h1m14 0h1m5 0h1m7 0h1m6 0h1m4 0h1m2 0h1m7 0h1m2 0h1M12 49h1m4 0h1m2 0h1m3 0h1m27 0h1m6 0h1m6 0h1m4 0h1m2 0h1m9 0h1m15 0h1m4 0h2m12 0h1m2 0h1m6 0h2m19 0h1m13 0h1m47 0h1M2 50h1m4 0h2m23 0h1m34 0h1m2 0h1m21 0h1m17 0h1m12 0h1m11 0h1m7 0h1m1 0h1m29 0h1m5 0h1m5 0h1m19 0h1m8 0h1m47 0h1m3 0h1M31 51h1m7 0h1m1 0h2m9 0h1m57 0h1m17 0h1m7 0h1m32 0h1m5 0h1m4 0h1m4 0h1m13 0h1m68 0h1M2 52h1m10 0h1m9 0h1m8 0h1m6 0h1m53 0h1m9 0h1m23 0h1m15 0h1m47 0h1m15 0h1m7 0h1m11 0h1m18 0h2m3 0h2m2 0h1m2 0h1m8 0h1M7 53h1m2 0h1m19 0h2m3 0h1m19 0h1m18 0h1m2 0h1m7 0h1m23 0h1m9 0h1m72 0h2m17 0h2m6 0h1m7 0h1m4 0h1m2 0h1m34 0h1M14 54h1m3 0h1m32 0h1m26 0h1m15 0h1m26 0h1m37 0h1m5 0h1m31 0h1m28 0h1m2 0h1m2 0h1m6 0h1m8 0h1M8 55h1m12 0h1m19 0h1m14 0h1m42 0h1m3 0h1m24 0h1m3 0h1m39 0h1m16 0h1m33 0h1m10 0h1m22 0h1M0 56h1m4 0h1m15 0h1m1 0h1m16 0h1m17 0h1m7 0h1m7 0h2m14 0h1m2 0h1m82 0h1m22 0h1m16 0h1m4 0h1m15 0h1m1 0h1m23 0h1M27 57h1m4 0h1m60 0h1m10 0h1m5 0h1m19 0h1m1 0h1m15 0h1m19 0h1m4 0h1m25 0h1m39 0h1m7 0h1m2 0h1m3 0h1M11 58h1m1 0h1m8 0h1m8 0h1m7 0h1m1 0h1m14 0h2m16 0h1m2 0h1m6 0h1m13 0h1m25 0h1m5 0h1m19 0h1m7 0h1m7 0h1m13 0h1m10 0h1m4 0h2m13 0h1m4 0h1m5 0h1m11 0h1m18 0h1m10 0h1M13 59h1m32 0h1m16 0h1m14 0h1m7 0h2m1 0h1m11 0h1m21 0h1m34 0h1m3 0h1m23 0h1m15 0h1m16 0h2m2 0h1m15 0h1m18 0h1M39 60h1m21 0h1m1 0h1m2 0h1m101 0h2m8 0h1m12 0h1m37 0h1m2 0h1m7 0h1m10 0h1m15 0h1M26 61h1m4 0h1m22 0h2m14 0h1m15 0h2m8 0h1m1 0h1m10 0h1m62 0h1m16 0h1m1 0h1m27 0h1m19 0h1m16 0h1m7 0h2M13 62h1m16 0h1m2 0h1m2 0h1m14 0h1m38 0h1m12 0h1m3 0h1m48 0h1m5 0h1m13 0h1m17 0h1m4 0h1m29 0h1m27 0h1m2 0h1m2 0h2M15 63h1m15 0h1m19 0h2m17 0h1m10 0h2m3 0h1m17 0h1m17 0h1m7 0h1m28 0h2m19 0h1m42 0h1m15 0h1m7 0h1m19 0h1M33 64h1m13 0h1m36 0h2m12 0h1m29 0h1m46 0h1m18 0h3m26 0h1m10 0h1m6 0h1M2 65h1m4 0h1m2 0h1m11 0h1m4 0h1m31 0h1m5 0h1m82 0h2m7 0h1m3 0h1m4 0h1m27 0h1m11 0h1m22 0h1m9 0h2m1 0h1m6 0h1m16 0h1M15 66h1m3 0h1m36 0h1m31 0h1m32 0h1m6 0h1m29 0h2m9 0h1m2 0h1m39 0h1m27 0h1m8 0h1M8 67h1m2 0h1m30 0h1m18 0h1m15 0h1m9 0h1m42 0h1m31 0h1m6 0h1m10 0h1m1 0h1m3 0h1m1 0h1m3 0h1m14 0h1m2 0h1m7 0h1m1 0h1m35 0h1m3 0h1M13 68h1m12 0h1m15 0h1m8 0h1m22 0h1m12 0h1m9 0h1m25 0h1m2 0h1m7 0h1m22 0h1m31 0h1m21 0h1m6 0h1m1 0h1m1 0h1m11 0h1m10 0h1m5 0h2M40 69h1m5 0h1m8 0h1m50 0h1m16 0h1m10 0h1m4 0h1m13 0h1m4 0h1m7 0h1m2 0h1m2 0h1m5 0h1m16 0h1m4 0h1m3 0h1m13 0h1m1 0h1m28 0h1m1 0h1m2 0h1M5 70h1m15 0h1m4 0h1m47 0h1m5 0h1m47 0h1m2 0h1m5 0h1m32 0h1m11 0h1m6 0h1m12 0h1m21 0h1m2 0h1m2 0h1m2 0h1m3 0h2m4 0h1m15 0h1m5 0h1M18 71h1m5 0h1m16 0h1m5 0h1m26 0h1m12 0h1m33 0h1m36 0h1m9 0h1m9 0h1m19 0h1m30 0h1m32 0h1m7 0h1M4 72h1m14 0h1m10 0h1m5 0h1m15 0h1m27 0h1m6 0h1m15 0h1m7 0h1m16 0h1m67 0h1m17 0h1m3 0h1m14 0h1m6 0h1M1 73h1m3 0h1m7 0h1m28 0h2m38 0h1m53 0h1m14 0h1m2 0h1m19 0h1m3 0h1m12 0h1m10 0h1m21 0h1m12 0h1m13 0h1m7 0h1m11 0h1M24 74h1m63 0h1m32 0h1m1 0h1m40 0h1m14 0h1m1 0h1m11 0h1m2 0h1m2 0h1m1 0h1m7 0h2m1 0h1m4 0h1m19 0h1m13 0h1m1 0h1m9 0h1M7 75h2m5 0h1m48 0h1m28 0h1m12 0h1m1 0h1m21 0h2m33 0h1m3 0h1m9 0h2m14 0h1m4 0h1m6 0h1m8 0h1m5 0h1m3 0h1m8 0h1M5 76h1m18 0h1m13 0h2m11 0h1m35 0h1m10 0h1m8 0h1m42 0h1m5 0h1m9 0h1m13 0h1m21 0h1m8 0h1m47 0h1m3 0h1m4 0h1M33 77h1m7 0h1m5 0h1m13 0h1m62 0h1m31 0h1m52 0h1m12 0h1m2 0h1m2 0h1m5 0h1m28 0h1M3 78h1m2 0h1m4 0h1m10 0h1m22 0h1m5 0h1m9 0h1m14 0h1m1 0h1m27 0h1m5 0h2m7 0h1m1 0h1m2 0h1m3 0h1m27 0h1m13 0h1m4 0h1m12 0h2m30 0h1m6 0h1m12 0h1m17 0h1m3 0h1M2 79h2m21 0h1m7 0h1m22 0h1m1 0h1m11 0h1m8 0h1m15 0h1m24 0h2m25 0h1m2 0h1m3 0h1m4 0h1m34 0h2m24 0h1m7 0h1m2 0h1m1 0h1m13 0h1m4 0h1m1 0h1M3 80h2m51 0h1m28 0h1m13 0h1m37 0h1m21 0h1m12 0h1m8 0h1m29 0h1m6 0h1m2 0h1m7 0h1m10 0h1m10 0h1m1 0h1m1 0h2m2 0h1m12 0h1M1 81h1m3 0h1m14 0h1m7 0h1m17 0h1m13 0h1m38 0h1m60 0h1m12 0h1m1 0h1m2 0h2m3 0h1m8 0h1m1 0h1m5 0h1m5 0h1m5 0h3m4 0h1m1 0h1m11 0h1m1 0h1m11 0h1m7 0h1m4 0h1M1 82h1m5 0h1m5 0h1m1 0h2m2 0h1m6 0h1m14 0h1m12 0h1m55 0h1m31 0h1m31 0h1m21 0h1m5 0h2m23 0h1m12 0h1m13 0h1M44 83h1m19 0h1m10 0h1m14 0h1m37 0h1m22 0h1m7 0h1m6 0h1m9 0h1m14 0h1m3 0h1m7 0h1m11 0h1m3 0h1m11 0h1m36 0h1m3 0h1M1 84h1m3 0h1m2 0h1m6 0h1m50 0h1m21 0h1m10 0h1m10 0h1m12 0h1m26 0h2m6 0h1m20 0h2m1 0h1m34 0h2m3 0h1m21 0h1m22 0h1m4 0h1M13 85h1m29 0h1m8 0h1m23 0h1m2 0h1m2 0h1m76 0h1m15 0h1m13 0h1m9 0h1m2 0h1m2 0h1m9 0h1m35 0h1m11 0h1m3 0h1M5 86h1m4 0h1m11 0h1m3 0h1m3 0h1m12 0h1m4 0h1m2 0h1m4 0h1m16 0h1m30 0h1m23 0h1m31 0h1m5 0h2m1 0h2m6 0h1m4 0h1m3 0h1m25 0h1m11 0h1m6 0h1m1 0h2m14 0h1m13 0h2m1 0h2m2 0h1M4 87h1m2 0h1m37 0h1m17 0h1m12 0h1m1 0h1m9 0h1m10 0h1m7 0h1m7 0h1m14 0h1m1 0h1m43 0h1m3 0h1m7 0h1m49 0h1m26 0h1M45 88h1m11 0h1m30 0h1m4 0h1m20 0h1m5 0h1m13 0h1m10 0h1m3 0h1m1 0h2m7 0h1m12 0h1m25 0h1m4 0h1m15 0h1m24 0h1m3 0h1m12 0h1M31 89h1m9 0h1m1 0h1m5 0h1m14 0h1m25 0h1m14 0h1m49 0h1m28 0h1m1 0h1m2 0h1m29 0h1m24 0h1m7 0h1M17 90h1m3 0h1m1 0h2m7 0h2m29 0h1m19 0h2m10 0h1m4 0h1m4 0h1m9 0h1m5 0h1m8 0h1m12 0h1m7 0h1m3 0h2m4 0h1m5 0h1m4 0h1m3 0h1m11 0h1m22 0h1m20 0h1m3 0h1m34 0h1M10 91h1m4 0h2m1 0h1m7 0h1m12 0h1m13 0h2m1 0h1m3 0h1m64 0h1m4 0h1m28 0h1m23 0h1m10 0h1m4 0h2m10 0h1m32 0h1m3 0h1m10 0h1M29 92h1m18 0h1m34 0h1m2 0h1m30 0h1m33 0h1m6 0h1m2 0h1m21 0h1m19 0h1m21 0h1m14 0h1m5 0h1m2 0h1M50 93h1m16 0h1m41 0h1m46 0h1m1 0h1m17 0h1m2 0h1m10 0h1m5 0h1m33 0h1m3 0h1m13 0h3m6 0h1m2 0h1m7 0h1M6 94h1m14 0h1m4 0h1m3 0h1m38 0h1m7 0h1m20 0h1m32 0h1m4 0h1m45 0h1m2 0h1m18 0h1m11 0h1m4 0h1m7 0h2m16 0h1M17 95h1m6 0h1m5 0h1m20 0h1m16 0h1m39 0h1m36 0h1m2 0h1m11 0h1m5 0h1m1 0h1m3 0h1m6 0h1m32 0h1m41 0h1m13 0h3M12 96h1m25 0h1m12 0h2m39 0h1m66 0h2m1 0h1m24 0h1m6 0h1m22 0h1m22 0h2m15 0h1M2 97h1m13 0h1m14 0h1m18 0h1m59 0h1m19 0h1m6 0h1m4 0h1m18 0h1m6 0h1m5 0h1m26 0h1m13 0h1m2 0h1m21 0h1m19 0h1m1 0h1m2 0h1M4 98h1m1 0h1m1 0h1m5 0h1m8 0h1m6 0h1m12 0h1m19 0h1m2 0h1m17 0h1m13 0h1m12 0h1m2 0h1m2 0h1m6 0h1m3 0h2m2 0h1m58 0h1m4 0h1m9 0h1m2 0h1m10 0h1m9 0h1m36 0h1m3 0h1M2 99h1m5 0h2m16 0h1m1 0h1m14 0h1m25 0h2m5 0h1m14 0h1m6 0h1m16 0h1m30 0h2m25 0h1m8 0h1m19 0h1m18 0h1m32 0h1m15 0h1"/>
<path stroke="#EDE0FF" d="M0 0h1m2 0h1m4 0h1m4 0h1m1 0h1m10 0h1m4 0h1m3 0h1m1 0h1m1 0h1m1 0h1m5 0h1m21 0h1m37 0h1m14 0h1m9 0h1m4 0h1m5 0h1m2 0h1m1 0h1m5 0h1m7 0h1m6 0h1m52 0h1m21 0h1m6 0h2m4 0h1m7 0h1M3 1h1m35 0h2m3 0h1m6 0h1m21 0h1m9 0h1m3 0h1m26 0h1m1 0h1m8 0h1m1 0h1m6 0h1m11 0h1m4 0h1m13 0h1m5 0h1m2 0h1m1 0h1m21 0h1m38 0h1m16 0h1m4 0h1M19 2h1m14 0h1m5 0h1m17 0h1m5 0h1m5 0h1m13 0h1m11 0h1m2 0h1m14 0h1m8 0h1m9 0h1m2 0h1m22 0h2m3 0h1m10 0h1m3 0h1m41 0h1m1 0h1m13 0h1m28 0h1M0 3h1m4 0h1m9 0h1m5 0h1m9 0h1m6 0h1m3 0h1m23 0h1m12 0h1m1 0h2m1 0h1m14 0h1m5 0h1m3 0h1m15 0h1m3 0h1m5 0h1m46 0h1m58 0h1m17 0h2m5 0h1M14 4h1m8 0h1m29 0h1m14 0h1m2 0h1m1 0h1m1 0h1m13 0h1m22 0h1m2 0h1m15 0h1m9 0h1m3 0h1m1 0h3m21 0h1m55 0h1M10 5h2m2 0h1m22 0h1m3 0h1m8 0h1m4 0h2m10 0h1m4 0h1m2 0h1m4 0h1m2 0h1m1 0h1m9 0h1m3 0h1m47 0h1m3 0h1m10 0h1m20 0h1m8 0h1M29 6h1m24 0h1m2 0h1m18 0h1m6 0h1m32 0h1m18 0h1m5 0h2m9 0h1m39 0h1m9 0h1M1 7h1m11 0h1m8 0h1m9 0h2m9 0h1m40 0h1m27 0h1m6 0h1m7 0h1m1 0h1m8 0h1m15 0h1m14 0h1m6 0h1m52 0h1m33 0h1M2 8h1m7 0h1m2 0h1m12 0h1m6 0h1m9 0h1m8 0h1m4 0h1m7 0h1m3 0h1m6 0h2m2 0h1m2 0h1m1 0h1m4 0h1m3 0h1m12 0h1m3 0h1m26 0h1m10 0h1m15 0h1m6 0h1m87 0h1M10 9h1m9 0h1m1 0h1m23 0h1m9 0h1m22 0h1m4 0h1m10 0h1m3 0h1m22 0h1m5 0h1m6 0h1m6 0h1m12 0h1m9 0h1m17 0h1m5 0h1M1 10h1m8 0h2m26 0h1m15 0h1m9 0h1m15 0h1m3 0h1m6 0h1m16 0h1m15 0h1m19 0h1m3 0h1m2 0h2m5 0h1m5 0h1m6 0h1m17 0h1m8 0h1m13 0h1M1 11h1m9 0h1m11 0h2m1 0h2m1 0h1m16 0h1m5 0h1m4 0h1m13 0h1m4 0h1m6 0h1m2 0h1m6 0h1m11 0h1m4 0h1m4 0h1m9 0h1m4 0h1m4 0h1m28 0h1m11 0h1m24 0h2m57 0h1M13 12h1m6 0h1m31 0h1m16 0h1m4 0h1m9 0h1m1 0h1m23 0h1m3 0h1m4 0h1m15 0h1m23 0h1m1 0h1m9 0h1m19 0h1m6 0h1m39 0h1M1 13h1m8 0h1m1 0h1m8 0h1m4 0h1m2 0h1m8 0h1m16 0h1m1 0h1m10 0h1m7 0h1m3 0h1m3 0h1m38 0h1m3 0h2m6 0h1m2 0h2m5 0h1m6 0h1m18 0h1m11 0h1m79 0h1M11 14h2m6 0h1m3 0h2m32 0h1m7 0h1m7 0h1m1 0h3m12 0h1m20 0h1m7 0h1m7 0h1m11 0h1m12 0h3m10 0h1m46 0h1M11 15h2m3 0h1m3 0h1m3 0h1m1 0h1m23 0h1m1 0h1m2 0h4m17 0h2m1 0h1m4 0h1m5 0h1m2 0h1m29 0h1m2 0h1m21 0h1m33 0h1m8 0h1m68 0h1M1 16h2m18 0h3m10 0h1m3 0h1m11 0h1m5 0h1m8 0h1m8 0h1m2 0h1m6 0h1m5 0h1m8 0h1m14 0h1m12 0h2m2 0h1m5 0h1m2 0h1m6 0h2m12 0h1m76 0h1M1 17h2m7 0h1m13 0h1m1 0h2m15 0h1m10 0h1m9 0h1m7 0h1m1 0h1m26 0h1m37 0h2m7 0h1m43 0h1m55 0h1M26 18h1m27 0h1m1 0h1m5 0h1m13 0h2m6 0h1m1 0h1m34 0h1m16 0h1m3 0h1m1 0h1m5 0h1m3 0h2m8 0h1m98 0h1M1 19h1m10 0h1m8 0h1m4 0h1m11 0h1m17 0h2m7 0h1m2 0h1m3 0h1m2 0h2m25 0h2m41 0h1m13 0h1m4 0h1m2 0h1m34 0h1m26 0h1M13 20h2m59 0h1m9 0h1m25 0h1m29 0h1m6 0h1m5 0h1m29 0h1m43 0h1M10 21h1m4 0h1m13 0h1m5 0h1m6 0h1m7 0h1m12 0h1m12 0h1m8 0h1m4 0h1m8 0h1m5 0h1m1 0h1m2 0h1m8 0h1m3 0h1m1 0h1m28 0h1m4 0h1m9 0h1m9 0h1M2 22h1m9 0h2m10 0h1m10 0h1m10 0h1m5 0h1m4 0h1m27 0h1m4 0h1m4 0h1m5 0h1m21 0h1m11 0h1m6 0h1m22 0h1m53 0h1M2 23h1m8 0h1m8 0h1m25 0h1m7 0h1m1 0h1m5 0h1m4 0h1m4 0h1m7 0h2m3 0h1m13 0h1m23 0h1m1 0h1m1 0h1m9 0h3m21 0h1m14 0h1M11 24h1m13 0h1m24 0h1m5 0h3m3 0h1m14 0h1m13 0h1m30 0h1m5 0h1m10 0h1m11 0h1m12 0h1m6 0h1m17 0h1m39 0h1m36 0h1M1 25h1m11 0h1m1 0h1m6 0h1m10 0h1m1 0h1m26 0h1m11 0h1m3 0h2m3 0h1m2 0h1m7 0h2m5 0h1m17 0h1m2 0h1m22 0h1m2 0h1m3 0h1m1 0h1m47 0h1m16 0h1m18 0h1m21 0h1m2 0h1M15 26h2m21 0h1m37 0h1m7 0h1m6 0h1m9 0h1m5 0h1m1 0h1m9 0h1m8 0h1m8 0h1m41 0h1m12 0h1m26 0h1M2 27h1m8 0h1m9 0h2m19 0h1m3 0h1m4 0h2m21 0h2m5 0h1m13 0h1m75 0h1m10 0h1m20 0h1m15 0h1M43 28h1m14 0h1m3 0h1m10 0h2m1 0h1m4 0h1m2 0h2m5 0h1m7 0h1m2 0h1m11 0h1m1 0h1m13 0h1m4 0h1m1 0h1m11 0h1m9 0h1m4 0h1m18 0h1m5 0h1m11 0h1m36 0h1M11 29h1m10 0h1m3 0h1m2 0h1m8 0h1m18 0h1m6 0h2m10 0h1m7 0h1m6 0h1m1 0h2m39 0h2m17 0h2m21 0h1m12 0h1m1 0h1m19 0h1M23 30h1m18 0h1m25 0h1m2 0h1m4 0h1m7 0h1m1 0h1m24 0h1m7 0h1m10 0h1m27 0h1m24 0h1m5 0h1m2 0h1m18 0h1M12 31h2m19 0h1m21 0h1m1 0h1m6 0h1m12 0h3m5 0h1m16 0h2m1 0h1m2 0h1m9 0h2m7 0h1m10 0h1m6 0h1m6 0h2m4 0h2m5 0h1m1 0h1m15 0h1m28 0h1m19 0h1M20 32h1m16 0h1m7 0h1m11 0h1m15 0h2m17 0h1m9 0h1m11 0h1m8 0h1m12 0h1m1 0h1m26 0h1m56 0h1m6 0h1M2 33h1m14 0h1m3 0h1m21 0h1m5 0h2m5 0h1m5 0h1m2 0h1m7 0h1m1 0h1m2 0h1m7 0h1m3 0h1m11 0h1m3 0h1m4 0h1m4 0h1m2 0h1m2 0h1m7 0h1m7 0h1m1 0h3m21 0h2m1 0h1m3 0h1m91 0h1M18 34h1m4 0h3m45 0h3m4 0h2m21 0h1m1 0h1m2 0h1m5 0h1m29 0h1m22 0h1m97 0h1M14 35h1m18 0h2m17 0h1m1 0h1m7 0h1m2 0h2m13 0h1m8 0h1m10 0h1m2 0h1m4 0h1m1 0h1m14 0h1m24 0h2m3 0h1m3 0h1m40 0h1M10 36h1m10 0h1m2 0h1m1 0h1m4 0h1m3 0h1m16 0h1m19 0h1m2 0h1m9 0h1m9 0h1m6 0h2m7 0h1m28 0h1m1 0h1m16 0h1m7 0h1m8 0h1m35 0h1m16 0h1M14 37h1m7 0h1m1 0h1m27 0h1m4 0h1m20 0h1m12 0h1m2 0h1m16 0h1m47 0h1m11 0h1m40 0h1M7 38h1m6 0h1m7 0h1m10 0h1m9 0h1m13 0h2m12 0h1m1 0h1m4 0h1m2 0h1m3 0h1m51 0h1m2 0h1m4 0h1m4 0h1m4 0h1m3 0h1m1 0h1M26 39h1m4 0h1m1 0h1m3 0h1m5 0h1m7 0h1m4 0h1m22 0h1m22 0h1m12 0h1m7 0h1m13 0h1m4 0h1m60 0h1m8 0h1m14 0h1m1 0h1M3 40h1m1 0h1m8 0h1m10 0h1m3 0h1m1 0h1m5 0h1m2 0h1m4 0h1m9 0h1m9 0h1m5 0h1m6 0h1m9 0h1m3 0h1m8 0h1m21 0h1m6 0h1m14 0h1m7 0h1m1 0h1M11 41h2m1 0h2m6 0h1m1 0h1m12 0h1m11 0h1m5 0h1m10 0h1m1 0h1m3 0h1m1 0h2m8 0h1m10 0h1m6 0h1m14 0h1m15 0h1m1 0h1m16 0h2m28 0h1m20 0h1m7 0h1m15 0h1M35 42h1m3 0h1m1 0h1m34 0h1m3 0h1m9 0h1m15 0h1m2 0h1m4 0h1m4 0h1m22 0h1m10 0h1m65 0h1m17 0h1M20 43h1m2 0h1m3 0h1m7 0h1m1 0h1m1 0h1m8 0h1m16 0h1m3 0h1m1 0h1m2 0h1m1 0h1m12 0h1m1 0h1m19 0h1m9 0h1m7 0h2m28 0h1m16 0h1m5 0h1m19 0h2M5 44h1m7 0h1m24 0h1m11 0h1m2 0h1m11 0h1m3 0h1m4 0h1m11 0h1m4 0h1m7 0h1m2 0h1m6 0h1m6 0h1m4 0h1m8 0h1m22 0h2m4 0h1m20 0h1m38 0h1m9 0h1m7 0h1M10 45h1m14 0h1m25 0h1m10 0h1m3 0h1m5 0h1m2 0h1m12 0h1m21 0h2m7 0h1m16 0h1m1 0h1m3 0h1m21 0h2m26 0h1m34 0h1M3 46h1m1 0h1m4 0h1m1 0h2m8 0h1m8 0h1m11 0h2m5 0h2m3 0h2m5 0h1m1 0h1m6 0h2m5 0h1m2 0h1m7 0h1m1 0h1m1 0h1m6 0h1m1 0h1m17 0h1m1 0h1m2 0h1m11 0h2m5 0h1m14 0h1m5 0h1m1 0h1m3 0h2m46 0h1m7 0h1M5 47h1m8 0h1m10 0h1m11 0h2m12 0h1m4 0h1m9 0h1m1 0h1m4 0h1m15 0h1m17 0h1m3 0h1m2 0h1m40 0h1m8 0h1m4 0h1m93 0h1M1 48h1m8 0h2m1 0h1m11 0h1m5 0h1m19 0h1m15 0h1m5 0h3m3 0h1m5 0h1m6 0h1m2 0h1m4 0h1m1 0h1m7 0h1m10 0h2m18 0h1m17 0h1m7 0h1m46 0h1M18 49h1m3 0h1m4 0h1m3 0h1m16 0h1m16 0h1m11 0h1m23 0h1m1 0h1m5 0h1m6 0h1m23 0h1m13 0h1m6 0h1m3 0h1m26 0h1m26 0h1M0 50h1m23 0h2m5 0h1m9 0h1m2 0h1m37 0h3m1 0h2m9 0h1m23 0h1m11 0h1m2 0h1m5 0h1m18 0h1m3 0h1m3 0h1m2 0h1m17 0h1m13 0h1m3 0h1m8 0h1m9 0h1m25 0h1m18 0h1M7 51h1m10 0h1m1 0h1m14 0h1m20 0h1m8 0h1m4 0h1m5 0h1m46 0h1m26 0h1m11 0h1m18 0h1m13 0h2m4 0h1m10 0h1m8 0h1m26 0h1m15 0h1m4 0h1m1 0h1M40 52h1m42 0h1m20 0h1m5 0h1m12 0h1m35 0h1m6 0h1m8 0h1m19 0h1m37 0h1m8 0h1m6 0h1M13 53h1m11 0h1m11 0h1m12 0h1m5 0h1m29 0h1m20 0h1m13 0h1m25 0h1m3 0h1m13 0h1m3 0h2m19 0h1m3 0h1m1 0h1m2 0h1m29 0h1m21 0h1M5 54h1m2 0h1m26 0h1m9 0h2m10 0h1m27 0h1m18 0h1m5 0h1m21 0h1m14 0h1m25 0h1m14 0h1m1 0h1m12 0h1m13 0h1m9 0h2m21 0h1m11 0h1m1 0h1m2 0h1M7 55h1m7 0h1m16 0h1m12 0h1m15 0h1m5 0h1m3 0h1m2 0h1m73 0h1m6 0h1m3 0h1m6 0h1m3 0h1m11 0h1m12 0h1m20 0h1m7 0h1m37 0h1M3 56h2m26 0h1m4 0h1m2 0h1m15 0h1m42 0h1m24 0h1m23 0h1m3 0h1m29 0h1m13 0h1m15 0h1m6 0h1m13 0h1m7 0h1m1 0h1m13 0h1m4 0h1M3 57h2m9 0h1m18 0h1m2 0h1m9 0h1m116 0h1m11 0h1m13 0h1m2 0h1m14 0h1m8 0h1m15 0h1m24 0h1M10 58h1m27 0h1m8 0h1m1 0h1m4 0h2m3 0h1m19 0h1m5 0h1m1 0h1m20 0h1m18 0h1m32 0h1m4 0h1m1 0h1m18 0h1m12 0h1m9 0h1m30 0h1M2 59h1m17 0h1m11 0h1m26 0h1m23 0h1m22 0h1m17 0h1m23 0h2m5 0h2m30 0h1m10 0h1m7 0h1m2 0h1m33 0h1m22 0h1M8 60h1m5 0h1m7 0h1m13 0h1m3 0h1m26 0h1m25 0h2m22 0h1m62 0h2m7 0h1m7 0h1m4 0h1m21 0h1m2 0h1m19 0h2M3 61h1m29 0h1m33 0h1m14 0h1m71 0h3m9 0h1m2 0h1m25 0h2m14 0h1m5 0h1m48 0h1M3 62h1m3 0h1m4 0h1m2 0h1m4 0h1m4 0h1m19 0h1m50 0h1m2 0h1m10 0h1m55 0h1m13 0h1m20 0h1m11 0h1m11 0h1m6 0h1m15 0h2m8 0h1m3 0h1m3 0h1M3 63h1m6 0h1m2 0h1m12 0h1m12 0h1m2 0h1m35 0h1m14 0h1m7 0h1m25 0h1m20 0h1m7 0h1m1 0h1m28 0h1m3 0h1m4 0h1m1 0h1m18 0h1m1 0h1m23 0h1m5 0h2m7 0h1m3 0h1m2 0h2m5 0h1M3 64h1m20 0h1m15 0h2m7 0h1m1 0h1m7 0h1m33 0h1m6 0h1m3 0h1m27 0h1m3 0h1m23 0h1m5 0h1m3 0h1m7 0h1m2 0h1m4 0h1m6 0h1m11 0h1m33 0h1m6 0h3m4 0h1m3 0h1m7 0h1M24 65h1m21 0h1m35 0h2m20 0h1m4 0h1m6 0h1m36 0h1m10 0h1m6 0h1m35 0h1m23 0h1m4 0h1M13 66h1m19 0h1m5 0h1m109 0h1m2 0h1m3 0h1m11 0h1m10 0h1m13 0h1m12 0h1m4 0h1m5 0h2m11 0h1m2 0h1m3 0h1m19 0h1M20 67h1m36 0h1m6 0h1m1 0h1m17 0h1m12 0h2m8 0h1m3 0h1m89 0h1m10 0h1m1 0h1m17 0h1m19 0h1m12 0h1M1 68h1m2 0h1m17 0h1m4 0h1m2 0h1m4 0h1m12 0h1m4 0h1m2 0h1m22 0h1m6 0h1m82 0h1m10 0h1m6 0h2m4 0h1m12 0h1m3 0h1m24 0h1m17 0h1m13 0h1M10 69h1m22 0h1m30 0h1m20 0h1m30 0h1m4 0h1m34 0h1m29 0h1m6 0h1m7 0h1m15 0h1m19 0h1m17 0h3m5 0h1m5 0h2M33 70h1m5 0h1m21 0h1m24 0h1m22 0h1m11 0h1m36 0h1m2 0h1m13 0h1m12 0h1m30 0h2m18 0h1M4 71h1m8 0h1m6 0h1m18 0h2m1 0h1m9 0h1m1 0h1m1 0h1m9 0h1m11 0h1m19 0h1m58 0h1m12 0h1m10 0h1m26 0h1m9 0h1m21 0h1M2 72h1m8 0h1m19 0h1m31 0h1m45 0h1m55 0h1m31 0h1m3 0h1m9 0h1m9 0h1m20 0h1m4 0h1m9 0h1m2 0h2M15 73h1m7 0h1m11 0h1m28 0h1m32 0h1m21 0h1m41 0h1m4 0h1m42 0h1m9 0h1m1 0h1m8 0h1m2 0h1m8 0h1m11 0h1M0 74h1m2 0h1m7 0h1m3 0h1m10 0h1m14 0h1m19 0h1m14 0h1m2 0h1m1 0h1m16 0h1m2 0h1m4 0h2m63 0h1m5 0h1m7 0h1m6 0h1m1 0h1m8 0h1m40 0h1m9 0h1m12 0h1M3 75h1m35 0h2m32 0h1m5 0h1m10 0h1m5 0h1m16 0h1m29 0h1m4 0h1m10 0h1m45 0h1m3 0h1m2 0h1m1 0h1m26 0h2m5 0h1m6 0h1M22 76h1m20 0h1m18 0h1m1 0h1m5 0h1m22 0h1m17 0h1m7 0h1m1 0h1m21 0h1m1 0h1m11 0h1m11 0h2m30 0h1m10 0h1m17 0h1m6 0h1m3 0h1m28 0h1M2 77h1m49 0h1m2 0h1m7 0h1m19 0h1m16 0h1m7 0h1m6 0h1m11 0h1m14 0h1m16 0h1m29 0h1m15 0h1m9 0h1m11 0h1m18 0h1m18 0h1m6 0h1M38 78h1m4 0h1m5 0h1m3 0h1m1 0h1m2 0h1m41 0h1m4 0h1m21 0h1m9 0h1m5 0h1m15 0h1m11 0h1m6 0h1m19 0h1m4 0h1m3 0h1m6 0h1m5 0h1m10 0h2m5 0h1m9 0h1m4 0h2m1 0h1m8 0h1M9 79h2m13 0h1m1 0h1m8 0h1m15 0h1m35 0h1m40 0h1m13 0h1m5 0h1m14 0h1m2 0h1m2 0h1m4 0h1m17 0h1m14 0h1m1 0h1m11 0h1m1 0h1m29 0h1m9 0h1m7 0h1M18 80h1m6 0h1m4 0h1m2 0h1m3 0h1m20 0h1m1 0h1m31 0h2m4 0h1m70 0h1m18 0h1m7 0h1m1 0h1m23 0h2m4 0h1m7 0h1m6 0h1m23 0h1M13 81h1m1 0h1m2 0h1m45 0h1m20 0h1m6 0h1m30 0h1m38 0h1m19 0h1m5 0h1m18 0h2m2 0h1m20 0h1m6 0h1m6 0h1m4 0h1m2 0h1m9 0h1M2 82h1m11 0h1m3 0h1m5 0h1m3 0h1m11 0h1m10 0h1m4 0h2m27 0h1m3 0h1m1 0h1m1 0h1m27 0h1m1 0h1m20 0h1m5 0h1m10 0h1m17 0h1m14 0h1m4 0h2m5 0h3m2 0h4m8 0h1m4 0h1m19 0h1m14 0h1M19 83h2m5 0h1m12 0h1m6 0h1m9 0h1m4 0h1m27 0h1m8 0h1m2 0h1m1 0h1m13 0h1m2 0h1m2 0h1m19 0h1m18 0h1m14 0h1m5 0h1m5 0h1m2 0h1m4 0h2m10 0h1m1 0h1m11 0h1m1 0h1m1 0h1m1 0h1m4 0h1m2 0h1m10 0h1M3 84h1m10 0h1m1 0h1m1 0h1m6 0h1m7 0h1m26 0h1m2 0h2m12 0h1m2 0h1m46 0h2m13 0h1m16 0h1m10 0h1m7 0h1m12 0h1m2 0h2m2 0h1m1 0h1m2 0h1m10 0h1m8 0h1m3 0h1m4 0h1m23 0h1m13 0h1M5 85h1m1 0h1m10 0h1m58 0h1m5 0h1m24 0h1m6 0h1m28 0h1m49 0h1m9 0h1M14 86h1m22 0h1m47 0h1m20 0h1m14 0h1m1 0h1m10 0h1m14 0h2m6 0h1m35 0h1m2 0h1m24 0h1m3 0h1m22 0h1m7 0h1M2 87h2m18 0h1m3 0h1m6 0h1m23 0h1m9 0h1m4 0h1m14 0h1m33 0h1m13 0h1m11 0h1m2 0h2m4 0h1m29 0h1m28 0h1m3 0h1m9 0h1m42 0h1M8 88h1m1 0h1m1 0h1m15 0h1m29 0h1m11 0h1m5 0h1m8 0h1m14 0h1m1 0h1m16 0h1m1 0h1m47 0h1m6 0h1m1 0h1m12 0h1m37 0h1m3 0h1m26 0h1m2 0h1M0 89h1m7 0h1m16 0h1m60 0h1m2 0h1m16 0h1m12 0h1m7 0h2m5 0h1m16 0h1m15 0h1m24 0h1m23 0h1m8 0h1m5 0h2m10 0h1m11 0h1m6 0h1m5 0h1M2 90h1m25 0h1m7 0h1m27 0h1m10 0h1m11 0h2m33 0h1m25 0h1m8 0h1m8 0h1m30 0h1m23 0h1m16 0h1m28 0h1m2 0h1M31 91h1m1 0h1m7 0h1m17 0h1m13 0h1m1 0h1m8 0h1m1 0h1m18 0h1m25 0h1m1 0h1m14 0h1m12 0h1m1 0h1m17 0h2m5 0h1m1 0h1m4 0h1m19 0h1m12 0h1m1 0h1m5 0h2m3 0h1m9 0h1m17 0h1M13 92h1m24 0h2m1 0h1m10 0h2m1 0h1m45 0h1m4 0h1m8 0h1m2 0h1m5 0h1m8 0h1m20 0h1m1 0h1m10 0h1m4 0h1m3 0h1m9 0h1m3 0h1m2 0h1m20 0h2m11 0h1m17 0h1m7 0h1m10 0h1M38 93h1m15 0h1m15 0h1m4 0h1m14 0h1m9 0h1m4 0h1m24 0h1m6 0h1m2 0h1m28 0h1m12 0h1m17 0h1m6 0h1m4 0h1m8 0h2m1 0h1m2 0h1m5 0h1m3 0h2m14 0h1m9 0h1m5 0h1M1 94h1m8 0h1m3 0h1m32 0h2m2 0h1m35 0h1m19 0h1m6 0h1m14 0h1m17 0h1m10 0h2m5 0h1m11 0h1m1 0h1m8 0h1m67 0h1m7 0h1m2 0h2m2 0h1M7 95h1m6 0h1m23 0h1m7 0h1m30 0h1m2 0h1m8 0h1m2 0h1m10 0h1m17 0h1m13 0h1m13 0h1m1 0h1m4 0h1m14 0h1m12 0h1m6 0h1m23 0h2m1 0h1m2 0h1m8 0h1m9 0h1m2 0h1m22 0h1M8 96h1m7 0h1m5 0h1m27 0h1m2 0h1m7 0h1m2 0h1m11 0h1m8 0h1m2 0h2m9 0h2m26 0h1m3 0h1m5 0h1m46 0h1m1 0h1m11 0h1m15 0h1m3 0h1m10 0h1m2 0h1m5 0h1m9 0h1m3 0h1m3 0h1m1 0h1m1 0h1m11 0h1M5 97h1m11 0h1m4 0h1m10 0h1m1 0h1m2 0h1m2 0h1m1 0h1m42 0h1m1 0h1m25 0h1m5 0h1m15 0h1m19 0h1m13 0h1m2 0h1m25 0h1m2 0h1m1 0h1m9 0h1M12 98h1m7 0h1m6 0h1m5 0h1m24 0h1m10 0h1m5 0h1m1 0h1m37 0h1m6 0h1m4 0h1m34 0h1m6 0h1m1 0h1m29 0h1m1 0h1m8 0h1m33 0h1m15 0h2M14 99h1m7 0h1m18 0h1m22 0h1m17 0h2m2 0h1m18 0h1m7 0h1m6 0h1m8 0h1m19 0h1m3 0h1m3 0h3m4 0h1m13 0h1m7 0h2m10 0h1m10 0h1m12 0h1m3 0h1m6 0h1m12 0h1m12 0h1m11 0h1"/>
<path stroke="#F6EFFF" d="M1 0h1m18 0h2m22 0h1m3 0h2m1 0h1m1 0h1m12 0h1m18 0h1m11 0h1m28 0h1m12 0h1m1 0h1m3 0h1m1 0h1m1 0h1m13 0h1m4 0h1m11 0h1m5 0h1m22 0h1m62 0h1M8 1h1m13 0h1m7 0h2m3 0h1m2 0h1m2 0h2m6 0h1m36 0h1m19 0h2m1 0h1m5 0h1m6 0h1m3 0h1m6 0h1m6 0h1m12 0h1m8 0h1m7 0h1m8 0h2m6 0h2m24 0h1m32 0h2m8 0h1m15 0h1M2 2h2m2 0h1m1 0h1m3 0h1m7 0h1m14 0h1m8 0h1m9 0h1m1 0h1m4 0h1m19 0h1m37 0h1m1 0h1m5 0h1m43 0h1m10 0h1m1 0h1m8 0h2m24 0h1m6 0h1m13 0h1m1 0h1m8 0h1m1 0h1m3 0h1m6 0h1M2 3h1m7 0h1m5 0h3m4 0h1m1 0h1m1 0h1m2 0h1m2 0h1m5 0h1m4 0h1m8 0h2m5 0h1m9 0h1m21 0h1m18 0h2m3 0h1m1 0h1m11 0h1m16 0h1m2 0h1m3 0h1m4 0h1m1 0h1m3 0h1m4 0h1m31 0h1m14 0h1m14 0h1m4 0h1m10 0h1m3 0h1m8 0h1m1 0h2M33 4h1m1 0h1m8 0h1m9 0h2m3 0h1m6 0h1m3 0h1m10 0h1m10 0h1m1 0h1m8 0h1m19 0h1m1 0h1m4 0h1m1 0h2m2 0h1m5 0h1m1 0h1m17 0h1m4 0h1m19 0h1m23 0h1m35 0h1m16 0h2M20 5h1m8 0h1m28 0h1m14 0h1m12 0h1m4 0h1m9 0h1m28 0h1m11 0h1m1 0h1m16 0h1m40 0h1m26 0h1m33 0h1M1 6h1m18 0h1m5 0h1m8 0h1m12 0h1m16 0h1m44 0h1m12 0h1m13 0h1m1 0h1m18 0h1m5 0h1m4 0h1m9 0h1m23 0h1m15 0h1m43 0h1M23 7h1m2 0h1m25 0h1m9 0h1m5 0h1m8 0h1m23 0h2m13 0h1m6 0h1m6 0h1m4 0h1m11 0h2m33 0h1m9 0h1m9 0h1m57 0h1M38 8h1m2 0h1m21 0h1m8 0h1m1 0h1m16 0h1m20 0h1m17 0h1m4 0h1m12 0h1m6 0h1m47 0h1m15 0h1m9 0h1m18 0h1m14 0h1M1 9h1m65 0h1m4 0h1m10 0h1m35 0h1m5 0h1m11 0h1m16 0h1m9 0h1m14 0h2m48 0h1M13 10h1m7 0h1m7 0h1m5 0h1m6 0h1m1 0h1m3 0h1m8 0h1m16 0h1m2 0h1m8 0h1m15 0h1m7 0h1m14 0h1m43 0h1m5 0h2m2 0h1m21 0h1m19 0h1M12 11h1m6 0h1m36 0h1m17 0h1m54 0h1m3 0h1m6 0h1m3 0h1m2 0h1m6 0h1m6 0h1m7 0h1m21 0h1M1 12h2m7 0h1m1 0h1m55 0h1m21 0h1m3 0h1m4 0h1m8 0h1m2 0h2m10 0h1m1 0h1m4 0h1m8 0h2m6 0h1m16 0h2m3 0h1m22 0h1m9 0h1m9 0h1M2 13h1m8 0h1m12 0h1m99 0h1m17 0h1m26 0h1m10 0h1m21 0h1m9 0h1m8 0h1m43 0h1M29 14h1m7 0h1m3 0h1m8 0h1m3 0h1m12 0h1m6 0h1m6 0h1m23 0h1m24 0h2m9 0h1m2 0h1m16 0h1m18 0h1m2 0h1m8 0h1m10 0h1m17 0h1m38 0h1M13 15h1m50 0h2m9 0h1m9 0h1m43 0h1m9 0h1m31 0h1m20 0h1m5 0h1m4 0h1m17 0h1m7 0h1M16 16h1m2 0h1m6 0h1m30 0h1m17 0h1m4 0h1m4 0h1m20 0h1m3 0h1m5 0h1m7 0h1m9 0h1m18 0h1m22 0h1m52 0h1m21 0h1m3 0h1M12 17h1m22 0h1m20 0h1m10 0h1m5 0h1m9 0h1m1 0h2m20 0h1m11 0h1m4 0h1m5 0h1m40 0h1m19 0h1m8 0h1m18 0h1m9 0h1m8 0h1M46 18h1m5 0h1m48 0h1m6 0h1m14 0h3m13 0h1m7 0h1m23 0h2m6 0h1m3 0h1m5 0h1m70 0h1M24 19h1m37 0h1m11 0h1m8 0h1m17 0h1m3 0h1m16 0h1m16 0h1m18 0h1m12 0h1m11 0h1m16 0h2m1 0h1m7 0h1m7 0h1m40 0h1m9 0h1M1 20h1m8 0h1m15 0h1m25 0h1m1 0h1m1 0h2m6 0h1m3 0h1m6 0h1m1 0h1m2 0h1m5 0h1m12 0h1m8 0h1m14 0h1m2 0h1m12 0h1m27 0h1m44 0h1m29 0h1M23 21h1m115 0h1m2 0h1m4 0h1m34 0h1m6 0h1m12 0h2m25 0h1m30 0h1M16 22h1m21 0h1m3 0h1m21 0h2m14 0h1m10 0h1m2 0h1m13 0h2m28 0h1m19 0h1m2 0h1m7 0h1m22 0h1m36 0h1m26 0h1m6 0h1M24 23h1m1 0h1m21 0h1m26 0h1m1 0h1m16 0h1m6 0h2m13 0h1m4 0h1m2 0h1m5 0h1m13 0h1m9 0h1m9 0h1m2 0h1m14 0h2m14 0h1m4 0h1m56 0h1m2 0h1M12 24h1m2 0h1m4 0h1m8 0h1m13 0h1m24 0h1m4 0h1m43 0h1m1 0h1m4 0h1m2 0h1m10 0h1m15 0h1m3 0h1m2 0h1m7 0h1m42 0h1m6 0h1m7 0h1m35 0h1M12 25h1m10 0h1m18 0h1m5 0h1m3 0h1m1 0h1m12 0h2m8 0h1m6 0h1m23 0h1m1 0h1m12 0h1m4 0h1m1 0h1m11 0h1m1 0h1m4 0h1m14 0h1m16 0h1m9 0h1m20 0h1m14 0h1M12 26h2m6 0h1m2 0h1m2 0h1m6 0h1m16 0h1m1 0h1m11 0h1m3 0h1m14 0h1m1 0h2m34 0h1m3 0h1m1 0h1m1 0h1m5 0h1m2 0h1m3 0h1m4 0h2m34 0h1m14 0h1m2 0h2m52 0h1M13 27h1m15 0h1m13 0h1m12 0h2m4 0h1m4 0h2m14 0h1m4 0h1m12 0h1m13 0h1m7 0h2m2 0h2m20 0h2m7 0h1m52 0h1m15 0h1m10 0h1m9 0h1m14 0h1M1 28h2m17 0h1m8 0h1m5 0h1m2 0h1m7 0h1m3 0h1m1 0h1m3 0h1m7 0h1m3 0h1m6 0h1m4 0h1m2 0h1m22 0h1m44 0h1m3 0h1m23 0h1m2 0h1m15 0h1m1 0h1m2 0h1m8 0h1m16 0h1m30 0h1M1 29h1m1 0h1m9 0h1m2 0h1m3 0h2m15 0h1m6 0h1m4 0h1m2 0h1m3 0h1m10 0h2m5 0h2m10 0h1m16 0h1m7 0h1m7 0h1m4 0h2m4 0h1m10 0h1m5 0h1m53 0h1m16 0h1m2 0h1m16 0h1m9 0h1M2 30h1m18 0h1m4 0h1m2 0h1m3 0h1m16 0h1m21 0h1m1 0h1m5 0h1m18 0h1m1 0h1m33 0h1m1 0h1m1 0h1m2 0h1m11 0h1m14 0h1m28 0h1m30 0h1m33 0h1M2 31h1m19 0h2m2 0h1m19 0h1m3 0h1m17 0h1m5 0h1m11 0h1m27 0h1m6 0h1m3 0h1m14 0h1m3 0h1m2 0h1m13 0h1m2 0h1m4 0h1m6 0h1m25 0h2m7 0h1M13 32h1m7 0h2m15 0h1m19 0h1m7 0h1m4 0h1m14 0h1m4 0h1m4 0h1m18 0h1m5 0h1m5 0h1m9 0h1m7 0h1m1 0h1m5 0h3m19 0h1m11 0h1M10 33h1m1 0h2m2 0h1m14 0h1m5 0h1m3 0h1m6 0h1m2 0h1m14 0h1m45 0h1m8 0h1m12 0h2m1 0h1m42 0h1M12 34h1m8 0h2m29 0h1m12 0h2m14 0h1m10 0h1m1 0h1m27 0h2m30 0h1m9 0h1m15 0h1m20 0h2m11 0h1m4 0h1m12 0h1M8 35h1m20 0h1m5 0h1m2 0h1m1 0h2m13 0h1m22 0h1m2 0h1m2 0h1m1 0h1m4 0h2m18 0h1m9 0h2m30 0h1m22 0h1m4 0h1m7 0h1m22 0h1m1 0h1m48 0h1M22 36h1m16 0h1m6 0h1m4 0h1m4 0h1m8 0h1m5 0h1m1 0h1m49 0h1m14 0h1m32 0h1M12 37h1m10 0h1m1 0h1m11 0h2m23 0h1m2 0h1m2 0h1m23 0h1m2 0h1m6 0h1m20 0h1m24 0h1m5 0h2m9 0h1m16 0h1m28 0h1m25 0h1M13 38h1m9 0h1m2 0h1m24 0h2m9 0h1m14 0h1m1 0h1m3 0h1m8 0h1m8 0h1m1 0h1m7 0h1m26 0h2m7 0h1m6 0h1m10 0h1m6 0h1m29 0h1m26 0h1m33 0h1M13 39h1m11 0h1m12 0h1m34 0h1m15 0h1m16 0h1m9 0h1m42 0h1m5 0h1m1 0h1m4 0h1m3 0h1m42 0h1m27 0h1m11 0h1M12 40h2m19 0h1m12 0h1m10 0h1m14 0h1m2 0h1m14 0h1m4 0h1m6 0h2m25 0h1m18 0h1m32 0h1m30 0h1m16 0h1M13 41h1m2 0h1m9 0h1m29 0h1m1 0h1m14 0h1m3 0h1m5 0h1m12 0h1m4 0h1m3 0h1m15 0h1m1 0h1m14 0h1m1 0h1m23 0h1m47 0h1m16 0h1M16 42h1m4 0h1m4 0h1m4 0h1m33 0h1m2 0h1m15 0h1m15 0h1m1 0h1m5 0h1m13 0h1m33 0h1m1 0h1m10 0h1m1 0h1m39 0h1m15 0h1m32 0h1M13 43h1m1 0h1m9 0h1m15 0h1m15 0h2m24 0h1m10 0h1m6 0h1m6 0h1m5 0h2m21 0h1m31 0h1m1 0h1m9 0h1m5 0h1m24 0h1m9 0h1M2 44h1m9 0h1m1 0h1m2 0h1m30 0h1m5 0h1m30 0h1m2 0h1m11 0h2m9 0h2m10 0h1m16 0h1m2 0h1m17 0h1m49 0h1m49 0h1M14 45h1m6 0h1m2 0h1m6 0h1m5 0h2m6 0h1m6 0h1m3 0h1m16 0h1m4 0h1m10 0h1m2 0h1m1 0h1m7 0h1m19 0h2m15 0h1m14 0h1m106 0h1M18 46h1m4 0h1m10 0h1m2 0h1m14 0h1m21 0h1m4 0h2m2 0h1m4 0h1m3 0h1m1 0h1m4 0h1m11 0h1m11 0h1m24 0h1m9 0h1m2 0h1m6 0h1m20 0h1m12 0h1m9 0h1m17 0h1m4 0h1m25 0h1M10 47h1m15 0h1m23 0h1m11 0h1m14 0h1m1 0h1m6 0h1m14 0h2m13 0h1m21 0h1m15 0h1m4 0h1m1 0h1m5 0h1m8 0h1m52 0h1M2 48h1m11 0h1m14 0h1m7 0h1m14 0h1m5 0h1m6 0h2m9 0h1m9 0h1m11 0h1m2 0h1m10 0h1m10 0h1m5 0h1m12 0h1m4 0h1m6 0h1m10 0h1m5 0h1m26 0h1m2 0h3m15 0h1m7 0h1M43 49h1m2 0h1m15 0h1m16 0h1m7 0h1m1 0h1m1 0h1m2 0h1m13 0h1m29 0h1m14 0h1m13 0h1M4 50h2m8 0h2m7 0h1m22 0h1m12 0h1m3 0h1m1 0h2m12 0h1m16 0h1m4 0h1m64 0h2m12 0h1m16 0h1m13 0h1m10 0h2m6 0h1m9 0h1m2 0h1m2 0h3m9 0h1M2 51h1m19 0h1m1 0h3m23 0h1m4 0h1m5 0h1m4 0h1m7 0h1m2 0h2m7 0h2m21 0h1m14 0h1m8 0h1m1 0h1m13 0h1m40 0h1m47 0h1m3 0h1m9 0h1m13 0h1m5 0h1M5 52h1m9 0h1m9 0h1m16 0h1m1 0h1m19 0h1m1 0h1m6 0h1m6 0h1m4 0h1m4 0h1m14 0h1m2 0h2m20 0h1m18 0h1m4 0h1m15 0h1m15 0h1m34 0h1m31 0h1m3 0h1m3 0h1m3 0h1M3 53h1m42 0h1m12 0h1m19 0h1m7 0h1m13 0h1m54 0h1m20 0h1m10 0h1m32 0h1m1 0h1m10 0h1m4 0h1m16 0h1m1 0h1M4 54h1m5 0h1m5 0h1m8 0h1m4 0h2m5 0h1m27 0h2m1 0h1m20 0h1m6 0h1m2 0h1m7 0h1m17 0h1m2 0h1m17 0h1m1 0h1m7 0h1m95 0h1M2 55h1m23 0h1m4 0h1m19 0h1m12 0h1m18 0h1m4 0h1m23 0h1m24 0h1m15 0h1m33 0h1m14 0h1m2 0h1m1 0h1m2 0h1m16 0h1m15 0h1m4 0h2m3 0h1m10 0h1m1 0h1m5 0h1M15 56h1m10 0h1m29 0h1m6 0h2m2 0h1m20 0h1m40 0h1m7 0h1m21 0h1m9 0h1m33 0h1m18 0h1m4 0h3m4 0h1m18 0h2m15 0h1M15 57h1m33 0h1m14 0h1m5 0h1m2 0h1m1 0h1m16 0h1m5 0h1m29 0h1m40 0h1m4 0h1m11 0h1m7 0h1m2 0h1m4 0h1m17 0h1m24 0h2m9 0h1m15 0h1M1 58h1m16 0h1m5 0h1m7 0h1m62 0h1m40 0h1m20 0h1m4 0h1m30 0h1m4 0h1m32 0h1m13 0h1m5 0h1m16 0h3M8 59h1m12 0h1m14 0h1m4 0h2m18 0h1m5 0h1m11 0h1m39 0h1m10 0h1m7 0h2m14 0h1m11 0h1m4 0h1m1 0h1m16 0h1m38 0h1m8 0h1m3 0h1m6 0h1m6 0h1M26 60h1m3 0h1m12 0h1m1 0h1m5 0h2m30 0h1m17 0h1m1 0h1m17 0h1m2 0h1m52 0h1m33 0h1m10 0h2m19 0h1m13 0h1m7 0h1M2 61h1m4 0h1m7 0h1m25 0h2m42 0h1m17 0h1m4 0h1m7 0h1m2 0h1m3 0h1m23 0h2m9 0h1m6 0h1m12 0h1m1 0h1m62 0h1m4 0h1m19 0h1M22 62h1m9 0h1m13 0h1m2 0h1m13 0h1m2 0h1m17 0h1m17 0h1m1 0h1m23 0h1m20 0h2m26 0h2m11 0h1m4 0h1m1 0h1m10 0h1m10 0h1m49 0h2M33 63h1m29 0h1m13 0h1m7 0h1m6 0h1m3 0h1m2 0h1m31 0h1m11 0h1m19 0h1m30 0h2m1 0h1m22 0h1m1 0h1m9 0h1m15 0h1m6 0h1m12 0h1M7 64h1m6 0h2m6 0h1m43 0h1m10 0h1m1 0h1m2 0h1m5 0h1m12 0h1m15 0h1m1 0h1m1 0h1m1 0h1m2 0h1m10 0h1m27 0h1m3 0h1m20 0h1m12 0h1m6 0h1m9 0h1m1 0h1m32 0h1m7 0h1m6 0h1M30 65h1m7 0h1m28 0h1m30 0h1m9 0h1m1 0h1m11 0h1m16 0h1m18 0h1m3 0h2m18 0h1m12 0h1m12 0h1m6 0h1m18 0h1m10 0h1m8 0h1m2 0h1m7 0h1M4 66h1m2 0h1m14 0h1m2 0h1m52 0h1m7 0h1m5 0h1m6 0h1m5 0h1m4 0h1m11 0h1m8 0h1m22 0h1m7 0h1m2 0h1m4 0h1m21 0h1m10 0h1m41 0h3m14 0h1m5 0h1M13 67h1m9 0h1m8 0h1m8 0h1m5 0h1m7 0h1m14 0h1m10 0h1m42 0h1m1 0h1m32 0h1m5 0h1m92 0h1M24 68h1m8 0h1m7 0h1m12 0h1m3 0h1m7 0h1m9 0h1m8 0h1m14 0h1m7 0h1m8 0h1m1 0h1m12 0h1m3 0h1m11 0h1m29 0h1m17 0h1m4 0h1m5 0h1m1 0h1m3 0h1m14 0h1m19 0h1m8 0h2m5 0h1m7 0h1M4 69h1m21 0h1m5 0h1m5 0h1m31 0h1m22 0h1m4 0h1m10 0h1m25 0h1m14 0h1m12 0h1m7 0h1m8 0h1m18 0h1m9 0h1m37 0h1m11 0h1m1 0h1m3 0h1m1 0h1M15 70h1m20 0h1m6 0h1m25 0h2m7 0h1m9 0h1m19 0h1m1 0h1m6 0h1m9 0h1m8 0h1m49 0h1m5 0h1m5 0h1m13 0h1m15 0h1m13 0h1m3 0h1m16 0h1M31 71h1m21 0h1m10 0h1m42 0h1m8 0h1m2 0h1m6 0h1m21 0h1m5 0h1m6 0h1m1 0h1m8 0h1m2 0h1m6 0h1m2 0h1m15 0h2m10 0h1m10 0h1m2 0h1m15 0h1m5 0h1m6 0h2m5 0h1m3 0h1M3 72h1m11 0h1m2 0h1m4 0h1m14 0h1m17 0h1m7 0h1m17 0h1m25 0h1m17 0h1m9 0h1m20 0h1m23 0h1m10 0h1m9 0h1m7 0h1m13 0h1m1 0h1m2 0h1m5 0h1m13 0h1m14 0h1m5 0h2M19 73h1m5 0h1m15 0h1m8 0h1m11 0h1m7 0h1m35 0h2m16 0h1m2 0h2m3 0h1m8 0h1m7 0h1m9 0h1m9 0h2m5 0h1m4 0h1m33 0h1m33 0h1m15 0h1M1 74h1m6 0h1m5 0h1m4 0h3m1 0h1m11 0h1m18 0h1m35 0h1m22 0h1m16 0h1m5 0h1m10 0h1m8 0h1m6 0h1m2 0h1m22 0h1m7 0h1m21 0h1m14 0h1m8 0h1m11 0h1m6 0h1M5 75h1m9 0h2m31 0h1m10 0h1m6 0h1m2 0h1m13 0h1m1 0h1m49 0h1m1 0h1m9 0h1m2 0h1m6 0h1m4 0h1m6 0h1m18 0h1m14 0h1m24 0h1m25 0h1m5 0h1m10 0h1M2 76h1m10 0h1m3 0h1m9 0h1m16 0h1m1 0h1m1 0h1m3 0h1m3 0h1m3 0h2m28 0h1m10 0h1m4 0h1m56 0h2m2 0h1m3 0h2m13 0h1m2 0h1m8 0h1m25 0h1m4 0h1m3 0h1m4 0h1m1 0h1m26 0h1M3 77h2m1 0h1m3 0h1m8 0h1m18 0h1m4 0h1m20 0h1m1 0h1m9 0h1m1 0h2m22 0h1m8 0h1m11 0h1m12 0h1m1 0h2m7 0h1m24 0h1m4 0h1m42 0h1m18 0h1m8 0h1m11 0h1M17 78h1m28 0h1m18 0h1m15 0h1m5 0h1m19 0h1m2 0h1m11 0h1m12 0h2m8 0h1m6 0h1m22 0h1m29 0h1m15 0h1m24 0h1m2 0h1m11 0h1M5 79h1m12 0h1m3 0h1m15 0h1m8 0h1m4 0h1m24 0h1m8 0h1m1 0h1m16 0h1m21 0h1m3 0h1m4 0h1m9 0h1m2 0h1m10 0h1m3 0h1m3 0h1m8 0h2m7 0h1m1 0h1m23 0h2m10 0h1m31 0h2m2 0h1M1 80h1m24 0h1m4 0h1m2 0h1m3 0h2m9 0h1m9 0h1m11 0h1m8 0h1m30 0h1m18 0h1m12 0h1m4 0h1m14 0h1m26 0h1m15 0h1m6 0h1m3 0h1m12 0h1m26 0h1m4 0h1M2 81h1m19 0h2m29 0h1m15 0h1m16 0h1m10 0h1m4 0h1m2 0h1m19 0h1m8 0h1m1 0h1m10 0h1m2 0h1m14 0h1m54 0h1m1 0h1m11 0h1m2 0h1m5 0h2m12 0h1M8 82h1m11 0h1m4 0h1m6 0h1m4 0h2m3 0h1m36 0h1m22 0h2m2 0h1m19 0h2m24 0h1m2 0h1m1 0h1m2 0h1m5 0h1m1 0h1m1 0h1m12 0h1m9 0h1m7 0h1m19 0h1m10 0h1m20 0h1m11 0h1M10 83h1m12 0h1m25 0h1m8 0h2m11 0h1m9 0h1m22 0h1m26 0h1m4 0h1m9 0h1m2 0h1m6 0h1m13 0h1m2 0h1m5 0h1m13 0h1m2 0h1m9 0h1m36 0h2m1 0h1m3 0h1m6 0h1m1 0h1m9 0h1M9 84h1m51 0h1m5 0h1m15 0h1m2 0h1m37 0h1m5 0h1m23 0h1m10 0h1m5 0h1m32 0h1m1 0h1m6 0h1m26 0h2m19 0h1M14 85h1m1 0h1m16 0h1m8 0h1m3 0h1m13 0h1m27 0h2m16 0h1m14 0h1m51 0h1m64 0h1m4 0h1m4 0h2m10 0h1M15 86h1m12 0h1m5 0h1m3 0h1m5 0h1m20 0h2m16 0h1m13 0h1m29 0h1m1 0h1m3 0h1m2 0h1m10 0h1m13 0h1m32 0h1m5 0h1m7 0h1m4 0h2m4 0h1m7 0h1m1 0h2m4 0h1m2 0h1m2 0h1m11 0h1m3 0h1m10 0h1M20 87h1m3 0h1m6 0h2m8 0h2m3 0h1m26 0h1m10 0h1m8 0h1m42 0h1m11 0h1m21 0h1m2 0h1m1 0h1m5 0h2m4 0h1m16 0h2m2 0h1m25 0h1m2 0h1m5 0h1m4 0h1m20 0h1M17 88h1m14 0h1m9 0h2m21 0h1m1 0h1m5 0h1m3 0h2m24 0h1m2 0h1m3 0h1m6 0h1m11 0h1m1 0h1m9 0h1m4 0h1m9 0h1m5 0h1m2 0h1m2 0h1m16 0h1m7 0h1m30 0h1m9 0h1m12 0h1m21 0h1M15 89h3m2 0h1m16 0h1m7 0h1m1 0h1m4 0h1m3 0h1m1 0h1m4 0h1m11 0h1m23 0h1m3 0h1m38 0h2m6 0h1m8 0h1m2 0h1m36 0h1m9 0h2m34 0h2m1 0h1m17 0h1M14 90h1m7 0h1m50 0h1m4 0h1m14 0h1m4 0h1m2 0h1m7 0h1m4 0h1m14 0h1m1 0h1m45 0h1m4 0h1m6 0h2m7 0h1m1 0h1m1 0h1m31 0h1m11 0h1m7 0h1m2 0h1M3 91h1m2 0h1m1 0h1m2 0h1m87 0h1m29 0h1m4 0h1m6 0h1m11 0h1m38 0h1m14 0h1m6 0h1m39 0h1m1 0h3m9 0h1M6 92h2m14 0h1m3 0h1m27 0h1m13 0h1m9 0h1m6 0h1m13 0h1m5 0h1m14 0h2m13 0h1m19 0h1m8 0h1m4 0h1m10 0h1m1 0h1m24 0h1m12 0h1m3 0h1m9 0h1m12 0h1m4 0h1m6 0h1m6 0h1m1 0h1m2 0h1M1 93h1m5 0h1m2 0h1m7 0h1m20 0h1m6 0h1m1 0h1m36 0h1m38 0h1m11 0h1m5 0h1m3 0h1m12 0h1m2 0h1m17 0h1m11 0h1m6 0h1m3 0h1m1 0h1m17 0h1m32 0h1M0 94h1m32 0h1m7 0h1m33 0h1m28 0h1m1 0h1m10 0h1m6 0h1m1 0h1m1 0h1m12 0h2m6 0h1m6 0h1m3 0h1m8 0h1m4 0h1m14 0h1m33 0h1m22 0h1m8 0h1M2 95h3m16 0h1m5 0h1m5 0h1m8 0h1m6 0h1m13 0h1m9 0h1m11 0h1m4 0h1m27 0h1m4 0h1m5 0h1m6 0h1m16 0h1m4 0h1m14 0h1m7 0h1m28 0h1m9 0h1m3 0h1m6 0h1m17 0h1m8 0h1m1 0h1m6 0h1M24 96h1m1 0h1m7 0h1m2 0h1m5 0h1m4 0h2m9 0h1m7 0h1m11 0h1m3 0h1m3 0h1m14 0h1m54 0h1m5 0h1m1 0h1m13 0h1m8 0h1m1 0h2m4 0h1m5 0h1m9 0h1m7 0h1m6 0h1m15 0h2m4 0h1m17 0h1M3 97h1m9 0h1m38 0h1m1 0h1m2 0h1m12 0h1m2 0h1m4 0h1m20 0h1m69 0h1m5 0h1m2 0h1m1 0h1m3 0h1m24 0h3m8 0h1m1 0h1m26 0h1M49 98h1m3 0h1m6 0h1m12 0h1m8 0h1m5 0h1m18 0h1m4 0h1m21 0h1m19 0h1m21 0h1m7 0h1m25 0h1m30 0h1m24 0h1M35 99h1m9 0h1m8 0h1m72 0h1m4 0h1m4 0h1m1 0h1m11 0h1m8 0h1m13 0h1m1 0h1m2 0h1m17 0h1m22 0h1m7 0h2m31 0h1m1 0h1"/>
<path stroke="#FFFFFF" d="M5 0h1m8 0h1m2 0h2m14 0h1m24 0h1m9 0h1m9 0h1m11 0h1m1 0h1m6 0h1m6 0h1m50 0h1m21 0h1m7 0h1m1 0h1m1 0h1m12 0h2m6 0h1m4 0h1m35 0h1M5 1h1m4 0h1m3 0h1m2 0h1m14 0h1m20 0h1m2 0h1m7 0h1m17 0h1m9 0h1m5 0h1m2 0h1m6 0h1m32 0h1m8 0h1m5 0h1m7 0h1m10 0h1m25 0h1m4 0h3m2 0h1m12 0h2m22 0h1m11 0h2m2 0h1M7 2h1m2 0h1m3 0h1m24 0h1m8 0h1m3 0h1m2 0h1m10 0h1m2 0h1m8 0h1m18 0h1m12 0h1m7 0h1m22 0h1m47 0h2m10 0h1m10 0h1m9 0h1m2 0h1m26 0h1m1 0h2m2 0h1m6 0h1M4 3h1m36 0h1m5 0h1m2 0h1m52 0h1m2 0h1m3 0h1m9 0h1m19 0h1m5 0h1m1 0h1m28 0h1m9 0h1m16 0h1m7 0h1m26 0h1m6 0h2m7 0h1m13 0h1M3 4h1m1 0h1m4 0h1m7 0h1m11 0h1m16 0h1m40 0h1m13 0h1m15 0h1m39 0h1m1 0h1m11 0h1m6 0h1m2 0h1m2 0h1m3 0h1m16 0h1m11 0h1m15 0h1M2 5h1m10 0h1m10 0h1m1 0h1m8 0h1m7 0h1m13 0h1m16 0h1m2 0h1m11 0h1m18 0h1m2 0h1m3 0h2m7 0h1m44 0h1m1 0h1m4 0h1m3 0h1m8 0h1m1 0h1m6 0h1m1 0h1m18 0h1m38 0h1m1 0h1M13 6h1m27 0h1m8 0h1m11 0h1m10 0h1m17 0h1m36 0h1m19 0h1m22 0h1m11 0h1m27 0h1m9 0h1m10 0h1m4 0h1m22 0h1M20 7h1m8 0h1m18 0h1m1 0h1m32 0h1m2 0h1m37 0h1m14 0h1m4 0h1m16 0h1m17 0h1m11 0h1m8 0h1m11 0h1m14 0h1m20 0h1m12 0h1M20 8h1m8 0h1m32 0h1m1 0h1m2 0h1m7 0h1m3 0h1m4 0h1m23 0h1m1 0h1m12 0h2m3 0h1m10 0h1m7 0h1m10 0h1m2 0h1m7 0h1m6 0h1m12 0h1m1 0h1m10 0h1m48 0h1M12 9h1m24 0h1m19 0h1m28 0h1m15 0h1m12 0h1m8 0h1m23 0h1m9 0h1m10 0h1m12 0h1m8 0h2m5 0h1m1 0h1m20 0h1m6 0h1m32 0h1m4 0h1m3 0h1M52 10h1m23 0h1m12 0h1m9 0h1m30 0h1m11 0h1m37 0h1m1 0h1m17 0h1m28 0h1M20 11h1m4 0h1m51 0h1m2 0h1m27 0h1m14 0h1m18 0h1m28 0h1m7 0h1m7 0h1m1 0h1m8 0h1m12 0h2m25 0h1m6 0h1m2 0h1M29 12h1m24 0h1m7 0h1m12 0h2m12 0h1m34 0h1m3 0h2m13 0h1m14 0h1m8 0h1m64 0h1M23 13h1m28 0h1m9 0h1m10 0h1m9 0h1m1 0h1m44 0h1m16 0h1m6 0h1m9 0h1m7 0h1m3 0h1m2 0h1m23 0h1m15 0h1M2 14h1m23 0h1m25 0h1m11 0h1m7 0h1m7 0h1m13 0h1m6 0h1m8 0h1m10 0h1m3 0h1m17 0h1m25 0h1m5 0h2m24 0h1m17 0h1m7 0h1m1 0h1m33 0h1m2 0h1m3 0h2M29 15h1m11 0h1m4 0h1m15 0h1m11 0h1m5 0h1m2 0h1m2 0h1m14 0h1m6 0h1m7 0h1m8 0h1m2 0h1m13 0h1m4 0h1m16 0h1m18 0h1m17 0h1m10 0h1m19 0h1m5 0h1M13 16h1m6 0h1m12 0h1m1 0h1m7 0h1m8 0h1m9 0h1m8 0h3m9 0h1m27 0h1m11 0h1m6 0h1m28 0h1m4 0h1m2 0h1m1 0h1m1 0h1m10 0h2m19 0h1m28 0h1m15 0h1m12 0h1M29 17h1m11 0h1m8 0h1m6 0h1m4 0h1m12 0h1m4 0h1m3 0h1m4 0h1m38 0h1m13 0h1m33 0h1m5 0h2m5 0h1m11 0h1m19 0h1m10 0h1m27 0h1M2 18h1m40 0h1m28 0h3m36 0h1m16 0h1m69 0h1m22 0h1m5 0h1M35 19h1m16 0h1m27 0h1m5 0h1m23 0h1m12 0h2m17 0h1m4 0h1m6 0h1m14 0h1m12 0h1m9 0h1m19 0h1m59 0h1M2 20h1m9 0h1m3 0h1m21 0h1m23 0h1m40 0h1m7 0h1m7 0h1m9 0h1m14 0h1m3 0h1m9 0h1m17 0h1m5 0h1m6 0h1m8 0h1m3 0h2m25 0h1M2 21h1m43 0h1m7 0h1m2 0h1m10 0h1m3 0h1m1 0h1m8 0h1m44 0h1m14 0h1m32 0h1m15 0h1M1 22h1m9 0h1m8 0h1m2 0h1m2 0h1m23 0h1m25 0h2m5 0h1m44 0h2m17 0h2m15 0h1m51 0h1m21 0h1m2 0h1m6 0h1m10 0h2M13 23h1m15 0h1m43 0h1m34 0h1m20 0h1m5 0h1m6 0h1m28 0h1m7 0h1m9 0h1m1 0h1m9 0h2m9 0h1m8 0h1m7 0h1M13 24h1m38 0h1m30 0h1m51 0h1m31 0h1m8 0h1m5 0h1m19 0h2m28 0h1M29 25h1m46 0h1m94 0h2m3 0h1m5 0h1m9 0h1m5 0h1m62 0h1M2 26h1m8 0h1m44 0h2m4 0h1m10 0h1m3 0h1m38 0h1m7 0h1m15 0h1m13 0h1m3 0h1m21 0h1m8 0h1m21 0h2m16 0h1m8 0h1m21 0h1M16 27h1m9 0h1m8 0h1m14 0h1m3 0h1m9 0h1m11 0h1m8 0h1m3 0h1m20 0h1m14 0h1m4 0h1m11 0h1m4 0h1m21 0h1m2 0h1m18 0h2m5 0h1m1 0h1m11 0h1m48 0h1M24 28h1m1 0h1m27 0h1m2 0h1m19 0h1m41 0h1m4 0h1m15 0h3m11 0h1m3 0h1m10 0h1m6 0h1m16 0h1m69 0h1M24 29h1m25 0h1m21 0h1m4 0h1m2 0h1m2 0h1m39 0h1m3 0h1m1 0h1m9 0h1m3 0h3m2 0h1m23 0h1m9 0h1m9 0h1m5 0h1m20 0h1m7 0h1m1 0h1M12 30h1m39 0h1m4 0h1m4 0h1m10 0h1m1 0h1m7 0h1m24 0h1m7 0h1m6 0h1m3 0h2m35 0h1m26 0h1m46 0h1m21 0h1M11 31h1m17 0h1m53 0h1m17 0h1m10 0h1m10 0h1m6 0h1m17 0h1m30 0h1m2 0h1m9 0h1m8 0h1m17 0h1m7 0h1m32 0h1m4 0h1M2 32h1m2 0h1m10 0h1m34 0h1m4 0h1m49 0h1m21 0h1m14 0h1m17 0h1m10 0h1m3 0h1m6 0h1m14 0h1m12 0h2m24 0h1m10 0h1m9 0h2m10 0h1M18 33h1m3 0h1m29 0h1m2 0h1m33 0h1m11 0h1m6 0h1m14 0h1m34 0h1m10 0h1m28 0h1m3 0h1m8 0h1m10 0h1m38 0h1M16 34h1m14 0h1m48 0h1m2 0h1m1 0h2m1 0h2m39 0h1m29 0h1m9 0h1m1 0h1m3 0h1m3 0h1m68 0h1m9 0h1m1 0h2M25 35h2m31 0h1m26 0h1m37 0h1m14 0h1m15 0h1m3 0h1m5 0h2m1 0h1m23 0h1m9 0h1m20 0h1m2 0h1m11 0h1m9 0h1m10 0h1M2 36h1m9 0h1m1 0h1m23 0h1m23 0h1m11 0h1m4 0h1m12 0h1m5 0h1m16 0h2m13 0h1m27 0h1m39 0h1m3 0h1m8 0h1m2 0h1m12 0h1m19 0h2m9 0h1m4 0h1M13 37h1m58 0h1m7 0h1m4 0h1m3 0h1m29 0h1m9 0h1m34 0h1m11 0h1m82 0h1m11 0h1M21 38h1m52 0h2m10 0h1m19 0h1m7 0h1m1 0h1m2 0h1m3 0h1m24 0h1m9 0h1m8 0h1m33 0h1m10 0h1M48 39h1m16 0h1m19 0h1m13 0h1m28 0h1m29 0h1m23 0h1m54 0h2m27 0h1M26 40h1m11 0h1m17 0h1m28 0h1m13 0h1m11 0h1m3 0h1m49 0h1m5 0h1m4 0h1m10 0h1m9 0h1m5 0h1m59 0h1M17 41h2m19 0h1m2 0h1m46 0h2m1 0h1m2 0h1m8 0h1m2 0h1m1 0h1m6 0h2m8 0h1m35 0h1m3 0h1m5 0h2m2 0h1m22 0h1m20 0h1m18 0h1m3 0h1m16 0h1M13 42h1m37 0h1m21 0h1m12 0h1m5 0h1m28 0h1m7 0h1m8 0h1m16 0h1m8 0h2m16 0h1m19 0h1M6 43h1m5 0h1m1 0h1m16 0h1m6 0h1m23 0h1m10 0h1m1 0h1m2 0h1m9 0h1m7 0h1m6 0h1m44 0h1m4 0h1m4 0h1m2 0h1m3 0h1m6 0h1m33 0h1m12 0h1m7 0h1m9 0h1m9 0h1m13 0h1M6 44h1m16 0h1m2 0h1m46 0h1m1 0h1m3 0h1m78 0h1m5 0h1m6 0h1m9 0h1m46 0h1m37 0h1M16 45h1m66 0h1m1 0h2m12 0h1m58 0h2m29 0h1m12 0h2m7 0h2m46 0h1M26 46h1m14 0h1m66 0h1m6 0h2m4 0h1m7 0h1m3 0h1m7 0h1m5 0h1m5 0h1m15 0h1m11 0h2m55 0h1m7 0h3m14 0h1M24 47h1m16 0h1m6 0h1m9 0h1m15 0h1m33 0h1m20 0h1m3 0h1m64 0h1M21 48h2m15 0h1m4 0h1m13 0h1m4 0h1m20 0h1m15 0h1m6 0h1m1 0h1m7 0h1m31 0h1m6 0h1m20 0h1m35 0h1m19 0h1m30 0h1M5 49h1m15 0h1m1 0h1m32 0h1m26 0h1m1 0h1m69 0h1m2 0h1m23 0h1m18 0h1m25 0h1m24 0h1m8 0h1m1 0h1M1 50h1m33 0h1m2 0h1m12 0h1m41 0h1m15 0h1m5 0h1m3 0h1m7 0h1m25 0h1m23 0h1m1 0h1m9 0h1m4 0h2m13 0h1m11 0h1m35 0h1m11 0h1M21 51h1m18 0h1m2 0h1m19 0h1m5 0h1m12 0h2m6 0h1m1 0h1m7 0h1m5 0h1m25 0h1m6 0h1m13 0h1m9 0h1m28 0h1m4 0h1m10 0h1m14 0h1m5 0h1m10 0h1m12 0h2M9 52h1m8 0h1m1 0h1m22 0h1m10 0h1m6 0h1m27 0h1m32 0h1m10 0h1m8 0h1m7 0h1m11 0h1m14 0h1m45 0h1m40 0h1M16 53h1m32 0h1m7 0h1m7 0h2m1 0h1m1 0h1m51 0h1m25 0h1m19 0h1m2 0h1m3 0h1m6 0h1m12 0h1m1 0h1m4 0h1m2 0h1m53 0h1m6 0h1M7 54h1m107 0h1m26 0h1m2 0h1m29 0h1m32 0h1m11 0h1m22 0h2m1 0h1m8 0h1m7 0h1m1 0h1M12 55h1m1 0h1m7 0h1m21 0h1m9 0h1m10 0h2m3 0h1m8 0h1m4 0h1m8 0h1m15 0h1m7 0h3m11 0h1m4 0h1m21 0h1m1 0h1m1 0h1m1 0h1m13 0h1m34 0h1m17 0h1m20 0h1m12 0h1m4 0h1M61 56h1m21 0h1m33 0h1m3 0h1m2 0h1m5 0h1m18 0h1m3 0h1m4 0h1m1 0h1m4 0h1m24 0h1m13 0h1m14 0h1m24 0h1M13 57h1m27 0h1m35 0h1m1 0h1m57 0h1m7 0h1m3 0h1m4 0h1m16 0h1m9 0h1m6 0h1m30 0h1m9 0h1m3 0h1m10 0h1m3 0h1m6 0h1m5 0h1m2 0h1M7 58h1m27 0h1m56 0h1m6 0h1m7 0h1m1 0h1m10 0h1m13 0h1m11 0h1m1 0h1m24 0h1m1 0h1m2 0h1m29 0h1m15 0h1m5 0h1m11 0h2m11 0h1M1 59h1m2 0h1m5 0h1m33 0h1m5 0h1m4 0h1m2 0h1m26 0h1m19 0h1m14 0h1m6 0h1m5 0h1m26 0h1m35 0h1m11 0h1m4 0h1m7 0h1m5 0h1m12 0h1m23 0h1M2 60h1m13 0h3m1 0h1m3 0h1m10 0h1m6 0h1m1 0h1m11 0h1m1 0h1m12 0h1m13 0h1m1 0h1m20 0h1m13 0h1m7 0h1m6 0h1m4 0h1m8 0h1m20 0h1m26 0h1m8 0h1m8 0h1m10 0h1m2 0h1m37 0h1m2 0h1M8 61h1m1 0h1m28 0h1m4 0h1m12 0h1m7 0h1m9 0h1m12 0h2m4 0h1m6 0h1m4 0h1m19 0h1m10 0h1m4 0h1m7 0h1m8 0h1m17 0h1m62 0h1m3 0h1m5 0h1m2 0h1M9 62h1m8 0h1m18 0h1m9 0h1m2 0h1m6 0h1m3 0h1m8 0h1m6 0h1m4 0h2m39 0h1m8 0h1m1 0h1m1 0h1m11 0h1m5 0h1m15 0h1m20 0h1m15 0h1m15 0h1m3 0h1m2 0h1m19 0h1m10 0h1M11 63h1m11 0h1m22 0h1m32 0h1m8 0h2m17 0h1m2 0h1m58 0h1m19 0h1m16 0h1m18 0h1M25 64h1m44 0h1m7 0h1m13 0h1m13 0h1m17 0h1m6 0h1m17 0h1m1 0h1m19 0h1m8 0h1m6 0h1m39 0h3m12 0h1m23 0h1m1 0h1M8 65h1m9 0h1m7 0h1m2 0h1m6 0h1m5 0h1m2 0h1m7 0h1m19 0h1m1 0h1m3 0h1m7 0h1m26 0h1m15 0h1m1 0h1m12 0h1m31 0h1m8 0h1m2 0h1m6 0h4m2 0h1m11 0h1m1 0h1m2 0h1m2 0h1m7 0h1m10 0h1m6 0h1m14 0h1M0 66h2m22 0h1m7 0h1m12 0h1m31 0h1m6 0h1m2 0h1m19 0h1m16 0h1m21 0h1m1 0h1m15 0h1m6 0h1m10 0h1m12 0h1m12 0h1m10 0h1m4 0h1m2 0h1m22 0h1m4 0h1m7 0h1m2 0h1M5 67h1m1 0h1m16 0h1m5 0h1m7 0h2m13 0h1m5 0h1m3 0h1m3 0h1m6 0h1m5 0h1m1 0h1m2 0h1m15 0h2m1 0h1m5 0h1m9 0h1m6 0h1m5 0h1m12 0h1m11 0h1m12 0h1m22 0h1m9 0h1m8 0h1m26 0h1m1 0h1m10 0h1m1 0h1m7 0h1M10 68h1m6 0h1m29 0h1m4 0h1m22 0h1m1 0h2m11 0h1m11 0h1m7 0h1m10 0h1m6 0h1m32 0h1m14 0h1m4 0h2m20 0h1m1 0h1m15 0h1m1 0h1m15 0h1m4 0h1m11 0h1m2 0h1m3 0h1m1 0h1M8 69h1m8 0h1m21 0h1m2 0h1m4 0h1m2 0h1m2 0h1m5 0h1m1 0h1m15 0h1m1 0h2m8 0h1m47 0h1m16 0h2m60 0h1m7 0h1M2 70h1m15 0h1m36 0h1m2 0h1m4 0h1m15 0h1m2 0h2m15 0h1m35 0h1m3 0h1m8 0h1m17 0h1m14 0h1m25 0h1m32 0h1m9 0h1m15 0h1m3 0h1M1 71h2m6 0h1m2 0h1m6 0h1m10 0h1m4 0h2m39 0h2m17 0h1m6 0h2m19 0h2m40 0h1m89 0h1M6 72h2m5 0h1m2 0h1m10 0h1m16 0h1m9 0h1m15 0h1m15 0h1m18 0h1m4 0h1m12 0h2m2 0h1m3 0h2m1 0h1m14 0h1m9 0h1m4 0h1m11 0h1m1 0h2m5 0h1m13 0h1M4 73h1m4 0h2m13 0h1m8 0h1m19 0h1m4 0h1m15 0h1m2 0h1m7 0h1m1 0h1m28 0h1m4 0h1m4 0h1m6 0h3m6 0h1m7 0h1m17 0h1m13 0h1m9 0h1m1 0h1m2 0h1m1 0h1m17 0h1m5 0h1m32 0h1M27 74h1m21 0h1m10 0h1m4 0h1m11 0h1m18 0h1m6 0h2m5 0h2m22 0h2m7 0h1m26 0h1m11 0h1m12 0h1m37 0h1m35 0h1M2 75h1m22 0h1m11 0h2m6 0h2m9 0h2m3 0h1m2 0h1m11 0h1m11 0h1m10 0h1m4 0h1m22 0h1m4 0h1m16 0h1m17 0h1m4 0h1m1 0h1m11 0h1m5 0h1m26 0h1m23 0h1m1 0h2m2 0h1m3 0h1m4 0h1M18 76h1m2 0h1m36 0h1m16 0h1m10 0h1m17 0h1m3 0h2m8 0h1m5 0h1m1 0h1m9 0h1m11 0h1m4 0h1m34 0h1m5 0h1m4 0h1m15 0h1m11 0h1m37 0h1M1 77h1m9 0h1m13 0h1m9 0h1m4 0h1m12 0h1m26 0h1m12 0h1m4 0h1m20 0h1m25 0h1m16 0h1m5 0h1m11 0h1m9 0h1m1 0h1m13 0h1m26 0h1m4 0h1m3 0h1m23 0h1M7 78h1m10 0h1m4 0h1m23 0h1m18 0h1m10 0h1m1 0h1m6 0h1m12 0h1m9 0h1m1 0h1m7 0h1m13 0h1m7 0h1m18 0h1m2 0h1m2 0h1m2 0h1m19 0h1m7 0h1m4 0h1m14 0h1m25 0h1M6 79h1m7 0h1m2 0h1m3 0h1m20 0h1m30 0h1m4 0h1m6 0h1m12 0h1m7 0h1m11 0h1m6 0h1m3 0h2m10 0h1m14 0h1m14 0h1m9 0h1m7 0h1m8 0h1m16 0h1m11 0h1m31 0h1m5 0h1m1 0h1M7 80h1m1 0h1m1 0h1m3 0h1m4 0h1m23 0h1m12 0h1m30 0h1m11 0h1m15 0h1m4 0h1m4 0h1m17 0h1m8 0h1m3 0h1m2 0h1m4 0h1m11 0h1m7 0h1m16 0h1m2 0h1m40 0h1m2 0h1m19 0h1M11 81h1m4 0h1m25 0h1m9 0h1m2 0h2m9 0h1m8 0h1m3 0h1m14 0h1m11 0h2m1 0h2m7 0h1m13 0h1m9 0h1m1 0h1m9 0h1m2 0h1m5 0h1m41 0h1m21 0h1m10 0h1m24 0h1m8 0h1M6 82h1m5 0h1m8 0h1m13 0h1m27 0h1m12 0h1m19 0h1m10 0h2m2 0h1m5 0h1m16 0h2m1 0h1m10 0h1m26 0h2m11 0h1m2 0h1m28 0h1m1 0h1m23 0h1m8 0h1m6 0h1M2 83h1m18 0h2m2 0h1m12 0h1m4 0h1m16 0h1m2 0h1m2 0h1m1 0h1m18 0h1m19 0h1m27 0h1m19 0h1m16 0h1m51 0h1m8 0h1M4 84h1m16 0h1m43 0h1m4 0h1m11 0h1m2 0h1m1 0h1m10 0h1m6 0h1m5 0h1m14 0h1m5 0h1m1 0h1m2 0h1m5 0h1m17 0h1m2 0h1m1 0h1m18 0h1m11 0h1m10 0h1m39 0h1m3 0h2m15 0h1M4 85h1m22 0h1m17 0h1m2 0h1m7 0h1m6 0h1m2 0h1m8 0h1m23 0h1m2 0h1m1 0h1m5 0h1m9 0h1m13 0h1m7 0h1m4 0h1m13 0h1m1 0h1m7 0h1m4 0h1m16 0h1m4 0h1m14 0h1m23 0h1m26 0h1m1 0h1m1 0h1M1 86h1m2 0h1m18 0h1m3 0h1m3 0h1m7 0h1m10 0h1m7 0h1m11 0h1m3 0h1m2 0h1m11 0h1m15 0h1m1 0h1m2 0h1m4 0h1m8 0h1m10 0h1m6 0h1m3 0h1m8 0h1m8 0h1m13 0h1m6 0h1m3 0h2m13 0h1m23 0h1m22 0h1m13 0h1m3 0h1M6 87h1m21 0h3m5 0h1m13 0h1m5 0h1m2 0h1m4 0h1m29 0h1m13 0h3m2 0h1m2 0h1m1 0h1m1 0h1m5 0h1m1 0h1m8 0h1m4 0h1m2 0h1m3 0h1m2 0h1m14 0h1m25 0h2m52 0h1M5 88h1m1 0h1m13 0h2m10 0h2m6 0h1m17 0h1m22 0h1m26 0h1m25 0h1m2 0h1m3 0h2m3 0h1m7 0h1m7 0h1m22 0h1m21 0h1m27 0h1m14 0h1m14 0h1m1 0h1M11 89h1m9 0h1m13 0h1m37 0h1m4 0h1m1 0h1m3 0h1m17 0h1m6 0h2m10 0h1m2 0h1m22 0h1m6 0h1m11 0h1m23 0h1m7 0h1m7 0h1m13 0h1m2 0h1m26 0h1m13 0h1M10 90h1m57 0h1m7 0h1m3 0h1m8 0h1m6 0h1m7 0h1m1 0h2m3 0h1m1 0h1m4 0h1m8 0h1m25 0h1m19 0h1m4 0h1m13 0h1m34 0h1m19 0h1m2 0h1m9 0h1m5 0h1M29 91h1m16 0h1m15 0h1m15 0h1m3 0h1m9 0h1m1 0h1m1 0h1m3 0h4m3 0h1m11 0h2m1 0h1m4 0h1m15 0h1m1 0h1m3 0h1m1 0h1m3 0h1m10 0h1m6 0h1m60 0h1m11 0h1m2 0h1m3 0h1m16 0h1M17 92h3m7 0h1m2 0h1m3 0h1m5 0h1m25 0h1m23 0h1m2 0h1m8 0h1m10 0h1m18 0h1m14 0h1m14 0h1m24 0h1m14 0h1m6 0h1m7 0h1m12 0h1m2 0h1m5 0h1m2 0h1m13 0h1m6 0h1m3 0h1m1 0h1M8 93h1m36 0h1m32 0h1m1 0h1m7 0h1m13 0h1m3 0h1m12 0h1m6 0h1m28 0h1m4 0h1m3 0h1m6 0h1m12 0h1m21 0h1m18 0h1m20 0h1m18 0h1M17 94h1m38 0h1m8 0h1m19 0h1m8 0h1m1 0h1m18 0h1m14 0h1m14 0h2m25 0h1m28 0h1m12 0h1m5 0h1m6 0h1m13 0h1m10 0h2m7 0h1M9 95h1m29 0h1m27 0h1m3 0h1m15 0h1m14 0h1m1 0h1m2 0h1m16 0h1m6 0h1m9 0h1m5 0h1m2 0h1m24 0h1m17 0h1m5 0h4m23 0h1m5 0h1m1 0h1m17 0h2m2 0h1m8 0h1M0 96h1m8 0h2m2 0h3m4 0h1m10 0h1m24 0h1m23 0h1m12 0h1m3 0h1m15 0h1m3 0h1m4 0h1m13 0h1m5 0h1m6 0h3m6 0h1m13 0h1m12 0h1m14 0h1m9 0h1m34 0h1m5 0h1M14 97h2m5 0h1m2 0h1m1 0h1m3 0h1m1 0h1m12 0h1m2 0h1m7 0h1m7 0h1m10 0h1m1 0h1m6 0h1m13 0h1m16 0h1m16 0h1m12 0h2m10 0h1m5 0h1m18 0h1m13 0h1m15 0h1m31 0h1m2 0h1m9 0h1m10 0h1m3 0h1M18 98h1m19 0h2m6 0h1m9 0h1m21 0h1m6 0h2m19 0h1m48 0h1m3 0h1m15 0h1m9 0h1m13 0h2m7 0h1m28 0h1m10 0h1m6 0h1M0 99h1m6 0h1m9 0h2m6 0h1m3 0h1m9 0h2m6 0h1m2 0h1m1 0h1m13 0h1m1 0h1m10 0h1m4 0h1m8 0h2m6 0h1m1 0h1m2 0h1m4 0h1m2 0h1m9 0h1m17 0h1m11 0h1m6 0h1m29 0h1m19 0h1m3 0h1m32 0h1m11 0h1m11 0h1"/>
<path stroke="#FFF2EE" d="M4 0h1m20 0h1m8 0h1m19 0h1m19 0h1m2 0h1m1 0h1m40 0h1m2 0h1m31 0h1m4 0h1m5 0h1m4 0h1m11 0h1m22 0h2m18 0h1m19 0h1m1 0h1m12 0h1m6 0h2M7 1h1m3 0h1m13 0h1m17 0h1m8 0h1m4 0h1m9 0h1m11 0h1m1 0h1m3 0h1m11 0h1m12 0h1m8 0h1m3 0h2m5 0h2m4 0h1m15 0h1m1 0h1m29 0h1m5 0h1m3 0h1m25 0h3m3 0h1m5 0h1m1 0h1m9 0h1m13 0h1m7 0h1M11 2h1m59 0h1m1 0h1m5 0h1m3 0h1m4 0h1m20 0h1m1 0h1m3 0h1m6 0h1m3 0h1m2 0h1m16 0h1m15 0h1m7 0h1m9 0h2m3 0h1m1 0h1m21 0h1m10 0h1m3 0h1m9 0h2m35 0h1M1 3h1m32 0h1m13 0h1m14 0h1m4 0h1m3 0h1m2 0h1m4 0h1m5 0h1m2 0h1m8 0h1m16 0h1m12 0h1m9 0h1m14 0h1m17 0h1m27 0h2m7 0h1m12 0h2m11 0h1m9 0h1M6 4h1m8 0h1m1 0h1m4 0h1m4 0h1m8 0h1m3 0h1m19 0h1m11 0h1m12 0h2m11 0h1m22 0h1m4 0h1m7 0h1m26 0h1m2 0h1m9 0h1m6 0h1m6 0h1m6 0h1m20 0h1m20 0h1m6 0h1m17 0h1M16 5h1m37 0h1m74 0h1m13 0h1m4 0h1m5 0h1m9 0h1m36 0h1m19 0h1M2 6h1m49 0h1m19 0h1m7 0h1m7 0h1m40 0h2m16 0h1m6 0h1m17 0h1m2 0h1m6 0h1m4 0h1m12 0h2m10 0h1m32 0h1m2 0h1M80 7h1m18 0h1m66 0h1m1 0h1m3 0h1m28 0h1m1 0h1M6 8h1m9 0h1m56 0h1m14 0h1m9 0h1m65 0h1m27 0h1m7 0h1m7 0h1m3 0h1m25 0h1m2 0h1m13 0h1m5 0h1m10 0h1M13 9h1m59 0h1m3 0h1m30 0h1m34 0h1m3 0h1m33 0h1m21 0h1m7 0h1M12 10h1m3 0h1m98 0h1m12 0h1m82 0h1m26 0h1m21 0h1m10 0h1M2 11h1m3 0h1m6 0h1m2 0h1m24 0h1m31 0h1m50 0h1m18 0h1m28 0h1m2 0h1m5 0h1m18 0h1m20 0h1m36 0h1m6 0h1m4 0h2M16 12h1m9 0h1m14 0h1m31 0h1m3 0h1m5 0h1m32 0h1m37 0h1m21 0h1m3 0h1m1 0h1m20 0h1m17 0h1m5 0h1m20 0h1m14 0h1M13 13h1m63 0h1m24 0h1m5 0h1m7 0h1m75 0h1m8 0h1m9 0h1m13 0h1m12 0h1m27 0h1M1 14h1m4 0h1m6 0h1m69 0h1m32 0h1m18 0h1m9 0h1m26 0h1m9 0h1m6 0h1m10 0h1m1 0h1m19 0h1m14 0h1m18 0h1m1 0h1M38 15h1m9 0h1m49 0h1m16 0h1m38 0h1m21 0h1m50 0h1m17 0h1m11 0h2m7 0h1m4 0h1M10 16h1m29 0h1m13 0h1m12 0h1m47 0h1m9 0h1m18 0h1m21 0h1m5 0h1m19 0h1m7 0h1m1 0h1m9 0h1m8 0h1m6 0h1m8 0h1m18 0h1m8 0h1M13 17h1m19 0h1m14 0h1m3 0h1m38 0h1m6 0h1m9 0h1m6 0h1m9 0h1m21 0h1m10 0h1m20 0h1m18 0h1m12 0h1m49 0h1m8 0h1M12 18h1m3 0h1m3 0h1m20 0h1m22 0h1m15 0h1m2 0h1m96 0h1m21 0h1m20 0h1m8 0h1m12 0h1m26 0h1M6 19h1m47 0h1m18 0h1m37 0h1m16 0h1m19 0h1m27 0h1m4 0h1m9 0h1m46 0h1m9 0h1m6 0h1m9 0h2M36 20h1m13 0h1m65 0h1m7 0h2m1 0h2m1 0h1m38 0h1m2 0h1m14 0h1m3 0h2m28 0h1m35 0h1m3 0h1m3 0h1M16 21h1m9 0h1m14 0h1m33 0h1m4 0h1m20 0h1m1 0h1m12 0h1m7 0h1m5 0h1m27 0h1m12 0h1m3 0h1m22 0h1m5 0h1m7 0h1m1 0h1m12 0h1m20 0h1m6 0h1m7 0h1m2 0h1M43 22h1m4 0h1m25 0h1m13 0h1m14 0h1m11 0h1m9 0h1m13 0h1m36 0h1m2 0h1m2 0h1m6 0h1m8 0h1m12 0h1m11 0h1m4 0h1M16 23h1m59 0h1m92 0h1m2 0h1m19 0h1m18 0h1m15 0h1m10 0h1M2 24h1m38 0h1m38 0h1m17 0h1m17 0h1m13 0h1m67 0h1m2 0h1m12 0h1m31 0h1m24 0h1M16 25h1m9 0h1m23 0h1m6 0h1m15 0h1m6 0h1m4 0h1m25 0h1m23 0h1m7 0h1m14 0h1m9 0h1m11 0h1m2 0h1m16 0h1m28 0h1M48 26h1m5 0h1m19 0h2m4 0h1m27 0h1m55 0h1m4 0h1m2 0h1m3 0h1m5 0h1m8 0h1m8 0h1m2 0h1m2 0h1m14 0h1m10 0h1m37 0h1M41 27h1m74 0h1m12 0h1m9 0h1m23 0h1m11 0h1m11 0h1m1 0h1m31 0h1m7 0h1m36 0h1M13 28h1m94 0h1m1 0h1m14 0h1m13 0h1m35 0h1m4 0h1m30 0h1m59 0h1M41 29h1m43 0h1m12 0h1m2 0h1m26 0h1m11 0h1m1 0h1m6 0h1m21 0h1m7 0h1m17 0h1m16 0h1m17 0h1m8 0h1m13 0h1m10 0h2M125 30h1m3 0h1m17 0h1m28 0h1m2 0h1m20 0h1m2 0h1m44 0h1m22 0h1M6 31h1m41 0h1m3 0h1m1 0h1m18 0h1m6 0h1m8 0h1m39 0h1m9 0h1m2 0h1m11 0h1m16 0h2m18 0h1m31 0h1m21 0h1M52 32h1m27 0h1m2 0h1m5 0h1m8 0h2m16 0h1m2 0h1m20 0h1m7 0h1m30 0h1m2 0h1m45 0h1m1 0h1m30 0h1M25 33h1m54 0h1m4 0h1m43 0h1m29 0h1m16 0h1m29 0h1m1 0h1m18 0h1m4 0h1m4 0h2m21 0h1M56 34h1m40 0h1m1 0h1m8 0h1m7 0h1m11 0h1m19 0h1m9 0h1m71 0h1m28 0h1M6 35h1m5 0h1m9 0h1m25 0h1m7 0h1m16 0h1m5 0h1m15 0h2m1 0h1m3 0h1m12 0h1m13 0h1m18 0h1m23 0h1m10 0h1m19 0h2m6 0h1m4 0h1m2 0h1m7 0h1m1 0h1m1 0h1m22 0h1m5 0h1M48 36h1m50 0h1m1 0h1m26 0h2m13 0h1m4 0h1m38 0h1m73 0h1M88 37h1m8 0h1m10 0h1m29 0h1m8 0h1m19 0h1m24 0h1m36 0h1m8 0h1m21 0h2M38 38h1m49 0h2m9 0h1m2 0h1m5 0h1m20 0h1m12 0h1m32 0h1m7 0h1m14 0h1m10 0h1m34 0h1m3 0h1m11 0h2M21 39h1m1 0h1m12 0h1m25 0h1m23 0h1m10 0h1m10 0h1m12 0h1m7 0h1m18 0h1m20 0h1m1 0h1m9 0h1m6 0h1m9 0h2m2 0h1m28 0h1m12 0h1m13 0h1m5 0h1m5 0h1M7 40h1m8 0h1m45 0h1m26 0h1m18 0h1m10 0h1m5 0h1m46 0h1m48 0h1m37 0h1m4 0h1M21 41h1m9 0h1m30 0h1m23 0h1m11 0h1m12 0h1m42 0h1m25 0h1m11 0h1m4 0h1m4 0h1m34 0h1m9 0h1m7 0h1m2 0h1m4 0h1M6 42h1m3 0h1m27 0h1m56 0h1m2 0h2m39 0h1m19 0h1m7 0h1m12 0h1m17 0h1m1 0h1m46 0h1m6 0h1m3 0h1m2 0h1m9 0h1M26 43h1m2 0h1m6 0h1m6 0h1m54 0h2m2 0h1m13 0h1m6 0h1m14 0h1m28 0h1m15 0h1m24 0h1m2 0h1m47 0h1m3 0h1m6 0h1M56 44h1m23 0h1m2 0h1m5 0h1m6 0h1m68 0h1m13 0h1m7 0h1m60 0h1M12 45h1m9 0h1m51 0h1m26 0h1m14 0h1m63 0h1m2 0h1m17 0h1m4 0h1m53 0h1m10 0h1M21 46h1m3 0h1m12 0h1m46 0h2m9 0h2m30 0h1m1 0h1m23 0h1m21 0h1m21 0h1m5 0h1m6 0h1m2 0h1m22 0h1m6 0h1m13 0h2M13 47h1m71 0h1m2 0h1m30 0h1m5 0h1m53 0h1m2 0h1m9 0h1m8 0h1m9 0h2m8 0h2m7 0h2m6 0h1m7 0h2m17 0h1M7 48h1m15 0h1m101 0h1m2 0h1m53 0h1m4 0h1m23 0h1m25 0h2m9 0h1m10 0h1m1 0h1m3 0h1M29 49h1m8 0h1m2 0h1m31 0h1m12 0h1m1 0h1m7 0h1m5 0h1m20 0h1m45 0h1m11 0h1m7 0h1m12 0h2m7 0h1m10 0h1M21 50h1m6 0h1m1 0h1m2 0h1m2 0h1m6 0h1m1 0h1m1 0h1m7 0h1m5 0h1m7 0h1m1 0h1m3 0h1m1 0h1m17 0h1m10 0h1m39 0h1m3 0h1m1 0h1m1 0h2m14 0h1m28 0h1m12 0h1m39 0h1M5 51h1m26 0h1m24 0h1m17 0h1m18 0h1m1 0h1m5 0h1m5 0h1m3 0h1m45 0h3m28 0h1m23 0h1m10 0h1m9 0h1m4 0h1m15 0h1M22 52h1m27 0h1m4 0h1m1 0h1m1 0h1m3 0h1m1 0h1m11 0h1m14 0h1m41 0h1m2 0h1m13 0h1m11 0h1m53 0h1m22 0h1m2 0h1m4 0h1M18 53h1m9 0h1m11 0h1m4 0h1m6 0h1m20 0h1m18 0h1m3 0h1m2 0h1m23 0h1m6 0h1m11 0h1m12 0h1m8 0h1m8 0h1m4 0h1m49 0h1m14 0h1m3 0h1m4 0h1M27 54h1m4 0h1m3 0h1m27 0h1m11 0h1m2 0h1m22 0h1m17 0h1m10 0h1m1 0h1m24 0h1m30 0h1m11 0h1m20 0h2m16 0h1M1 55h1m2 0h1m45 0h1m24 0h1m1 0h1m2 0h1m20 0h2m22 0h1m37 0h1m10 0h1m11 0h1m4 0h1m5 0h1m13 0h1m27 0h1m29 0h1M1 56h1m16 0h1m1 0h1m32 0h1m14 0h1m1 0h1m8 0h1m6 0h1m15 0h1m3 0h1m1 0h1m3 0h1m5 0h1m23 0h1m3 0h1m3 0h1m15 0h1m10 0h1m11 0h1m7 0h1m25 0h1M7 57h2m11 0h1m2 0h1m26 0h1m3 0h1m2 0h2m4 0h1m18 0h1m2 0h2m2 0h1m26 0h1m12 0h1m11 0h1m11 0h1m8 0h1m14 0h1m27 0h1m15 0h1m12 0h1m8 0h1m21 0h1M12 58h1m1 0h1m6 0h1m3 0h1m3 0h1m30 0h2m2 0h1m6 0h1m11 0h1m2 0h1m2 0h1m12 0h1m3 0h1m18 0h1m3 0h1m17 0h1m3 0h1m30 0h1m18 0h1m1 0h1m9 0h1m38 0h1m3 0h1m10 0h1M3 59h1m2 0h2m8 0h1m8 0h1m7 0h1m13 0h1m4 0h1m4 0h1m6 0h1m6 0h1m1 0h1m6 0h1m9 0h2m6 0h1m10 0h2m11 0h1m36 0h1m12 0h1m2 0h1m6 0h1m69 0h1m14 0h2M4 60h1m2 0h1m7 0h1m5 0h1m87 0h1m24 0h1m9 0h1m4 0h1m21 0h1m3 0h1m29 0h1m7 0h1m38 0h1M22 61h1m41 0h1m9 0h1m1 0h1m1 0h2m10 0h1m1 0h1m11 0h1m6 0h1m8 0h1m3 0h1m5 0h1m7 0h1m2 0h1m3 0h1m14 0h1m29 0h1m3 0h1m13 0h1m12 0h2m29 0h1m5 0h1m2 0h1M1 62h1m2 0h1m11 0h1m7 0h1m2 0h1m31 0h1m2 0h1m2 0h1m2 0h1m23 0h1m5 0h1m1 0h2m6 0h1m10 0h1m4 0h2m9 0h1m1 0h2m5 0h1m24 0h1m45 0h1m5 0h1m17 0h1m6 0h1m5 0h2M24 63h1m25 0h1m2 0h1m13 0h1m43 0h2m7 0h1m2 0h1m26 0h1m1 0h1m20 0h1m4 0h1m20 0h1m8 0h1m25 0h1m5 0h1m12 0h1M1 64h1m6 0h1m17 0h1m4 0h1m3 0h1m26 0h1m17 0h1m2 0h1m2 0h2m11 0h1m3 0h1m8 0h1m1 0h1m14 0h1m17 0h1m10 0h2m39 0h1m21 0h1m11 0h1m10 0h1m11 0h1M3 65h1m11 0h1m1 0h1m5 0h1m1 0h1m13 0h1m16 0h2m5 0h1m10 0h1m5 0h1m11 0h1m1 0h3m8 0h1m11 0h1m15 0h1m3 0h1m8 0h1m12 0h1m12 0h2m1 0h1m27 0h1m8 0h1m10 0h1m34 0h1m5 0h1M3 66h1m23 0h1m1 0h2m17 0h1m17 0h1m30 0h1m5 0h1m22 0h1m2 0h1m3 0h2m18 0h1m21 0h1m9 0h1m8 0h1m18 0h1m14 0h1m27 0h1M0 67h1m1 0h1m3 0h1m2 0h1m2 0h1m4 0h1m13 0h1m4 0h1m3 0h1m3 0h1m3 0h1m26 0h2m11 0h2m1 0h1m4 0h1m2 0h1m8 0h1m3 0h1m1 0h2m2 0h1m6 0h1m3 0h1m15 0h1m1 0h1m1 0h1m4 0h1m15 0h1m14 0h1m3 0h1m32 0h1m1 0h1m12 0h1m23 0h1M8 68h1m10 0h3m17 0h1m17 0h1m6 0h1m24 0h1m8 0h1m26 0h1m7 0h1m9 0h1m11 0h1m2 0h1m5 0h1m32 0h1m10 0h1m6 0h1m34 0h1m19 0h1M12 69h1m12 0h1m1 0h2m7 0h1m11 0h1m2 0h1m38 0h1m1 0h1m2 0h1m3 0h1m14 0h1m9 0h1m3 0h1m3 0h1m10 0h1m2 0h1m18 0h1m10 0h1m12 0h1m49 0h1m3 0h1M1 70h1m4 0h2m11 0h1m2 0h1m1 0h1m7 0h1m8 0h1m4 0h1m12 0h1m5 0h1m2 0h1m7 0h1m21 0h1m4 0h1m12 0h1m6 0h1m2 0h1m2 0h1m2 0h1m22 0h1m8 0h1m32 0h1m69 0h1m1 0h1M3 71h1m4 0h1m1 0h1m5 0h1m8 0h1m6 0h1m1 0h1m10 0h1m21 0h1m5 0h1m8 0h1m2 0h1m4 0h1m1 0h1m6 0h1m10 0h1m3 0h1m12 0h1m3 0h1m1 0h1m3 0h1m11 0h1m47 0h1m25 0h1m8 0h1m4 0h1m6 0h1m2 0h1m5 0h1m12 0h1m2 0h1M33 72h1m7 0h1m8 0h1m2 0h1m23 0h1m10 0h1m28 0h1m27 0h2m1 0h1m9 0h1m18 0h1m2 0h1m7 0h1m34 0h1m19 0h1m2 0h1m1 0h1m6 0h1m6 0h1M7 73h1m3 0h1m5 0h1m14 0h1m6 0h2m13 0h1m6 0h1m1 0h1m14 0h1m4 0h1m25 0h1m1 0h1m2 0h1m16 0h1m5 0h1m7 0h1m25 0h1m36 0h1m35 0h1m24 0h1M2 74h1m6 0h1m6 0h1m39 0h1m1 0h1m3 0h1m11 0h1m25 0h1m15 0h1m2 0h1m7 0h1m3 0h1m10 0h1m5 0h1m2 0h2m6 0h1m18 0h1m32 0h1m29 0h1m4 0h1M19 75h1m2 0h1m1 0h1m4 0h1m13 0h1m26 0h1m29 0h1m1 0h1m5 0h1m15 0h1m26 0h1m1 0h1m17 0h1m3 0h1m6 0h1m4 0h1m2 0h1m6 0h1m6 0h1m2 0h1m24 0h1m17 0h1m14 0h2m2 0h1m2 0h1M1 76h1m1 0h1m12 0h1m3 0h1m4 0h1m4 0h1m1 0h1m14 0h1m11 0h1m8 0h1m4 0h1m9 0h1m10 0h1m15 0h1m19 0h1m16 0h1m12 0h1m34 0h1m13 0h1m29 0h1m5 0h2m9 0h1M8 77h1m15 0h1m5 0h1m14 0h1m5 0h1m5 0h1m2 0h1m16 0h1m8 0h1m16 0h2m13 0h1m3 0h1m5 0h1m25 0h1m2 0h1m8 0h1m6 0h1m20 0h1m13 0h1m17 0h1m17 0h1M31 78h1m1 0h1m1 0h2m3 0h1m1 0h1m13 0h2m5 0h1m26 0h1m27 0h1m5 0h1m17 0h1m8 0h1m1 0h1m8 0h1m7 0h1m22 0h1m2 0h1m16 0h1m5 0h1m3 0h1m6 0h1M16 79h1m2 0h2m23 0h2m4 0h1m14 0h1m3 0h1m10 0h1m1 0h1m17 0h1m6 0h1m3 0h1m22 0h2m3 0h1m4 0h1m17 0h1m22 0h1m4 0h1m10 0h1m3 0h1m2 0h1m40 0h1m1 0h1m9 0h1m2 0h1m4 0h1M16 80h1m5 0h2m19 0h1m8 0h1m2 0h1m7 0h1m12 0h1m6 0h1m2 0h1m8 0h1m5 0h1m1 0h1m2 0h1m5 0h1m11 0h1m7 0h2m8 0h1m2 0h1m20 0h1m1 0h1m6 0h1m39 0h1m23 0h1m28 0h1M0 81h1m24 0h1m1 0h1m3 0h1m1 0h1m9 0h1m3 0h1m63 0h1m9 0h2m4 0h1m9 0h1m3 0h1m1 0h1m24 0h1m20 0h2m2 0h1m3 0h1m31 0h1m15 0h1m6 0h1M4 82h2m16 0h1m16 0h1m3 0h1m1 0h1m2 0h1m35 0h1m62 0h1m5 0h1m18 0h1m5 0h1m10 0h2m1 0h1m5 0h1m39 0h1m2 0h1m15 0h1M11 83h1m43 0h1m22 0h1m20 0h1m5 0h1m6 0h1m8 0h1m5 0h1m9 0h2m8 0h1m19 0h1m17 0h1m16 0h1m4 0h2m8 0h1m46 0h1M23 84h1m4 0h1m2 0h1m3 0h1m3 0h1m4 0h1m3 0h1m1 0h3m2 0h3m18 0h1m15 0h1m4 0h1m6 0h1m7 0h1m2 0h1m32 0h1m8 0h1m4 0h1m27 0h1m8 0h1m5 0h1m3 0h1m19 0h1m9 0h1m5 0h2m18 0h1m2 0h1M1 85h1m15 0h1m12 0h1m7 0h1m18 0h1m6 0h1m9 0h1m36 0h1m13 0h1m6 0h1m17 0h1m7 0h1m11 0h1m6 0h1m19 0h1m10 0h1m13 0h2m9 0h1m16 0h1m4 0h1m13 0h1M0 86h1m1 0h2m5 0h1m6 0h1m1 0h1m28 0h1m4 0h2m3 0h1m6 0h1m14 0h1m6 0h1m3 0h1m21 0h1m9 0h1m14 0h1m7 0h1m7 0h2m17 0h1m22 0h1m9 0h1m33 0h1m3 0h1m2 0h1m5 0h1m6 0h1m2 0h1M10 87h1m1 0h1m5 0h1m2 0h1m26 0h1m40 0h1m1 0h1m6 0h1m6 0h1m8 0h1m2 0h1m9 0h1m1 0h1m24 0h2m5 0h2m1 0h2m5 0h1m12 0h1m21 0h1m2 0h1m1 0h1m13 0h1m18 0h2m6 0h2M16 88h1m1 0h1m27 0h1m5 0h1m3 0h1m32 0h1m1 0h1m4 0h1m4 0h1m9 0h1m10 0h1m2 0h1m31 0h1m22 0h2m2 0h1m4 0h1m16 0h1m6 0h2m7 0h1M30 89h1m1 0h1m9 0h1m8 0h1m39 0h1m1 0h2m12 0h1m3 0h1m1 0h2m16 0h1m20 0h1m22 0h1m4 0h1m10 0h1m2 0h1m7 0h1m14 0h1m4 0h1m26 0h1m6 0h1m3 0h1m4 0h1m1 0h1M7 90h1m7 0h1m4 0h1m9 0h1m12 0h1m4 0h1m1 0h1m4 0h1m9 0h1m20 0h1m3 0h2m34 0h1m1 0h1m10 0h1m5 0h1m12 0h1m1 0h1m1 0h1m6 0h1m42 0h1m1 0h2m12 0h1m27 0h1m5 0h1M4 91h1m2 0h1m1 0h1m7 0h1m6 0h1m42 0h1m4 0h1m1 0h1m1 0h1m3 0h1m47 0h1m29 0h1m17 0h1m1 0h1m1 0h1m16 0h1m12 0h1m6 0h1m43 0h1m2 0h1M10 92h1m20 0h2m4 0h1m4 0h1m27 0h1m39 0h1m11 0h1m22 0h1m2 0h1m24 0h1m17 0h1m3 0h1m1 0h2m7 0h1m22 0h1m2 0h1m25 0h1m3 0h1M2 93h1m6 0h1m4 0h1m11 0h2m21 0h1m9 0h1m1 0h1m1 0h2m11 0h1m5 0h1m9 0h1m1 0h1m28 0h1m8 0h1m2 0h1m14 0h1m6 0h1m9 0h2m3 0h1m25 0h1m53 0h1m1 0h1M4 94h1m7 0h1m5 0h1m1 0h1m4 0h1m3 0h1m20 0h1m29 0h1m11 0h1m2 0h1m13 0h2m7 0h1m2 0h2m2 0h1m13 0h1m11 0h1m18 0h1m46 0h1m26 0h1m21 0h1M5 95h1m6 0h1m2 0h2m5 0h1m22 0h1m2 0h1m4 0h1m3 0h1m53 0h1m77 0h1m6 0h1m1 0h1m10 0h1m13 0h1m3 0h1m1 0h1m15 0h1m17 0h1M2 96h2m1 0h1m13 0h1m3 0h1m5 0h1m10 0h1m43 0h1m24 0h2m1 0h1m5 0h1m47 0h1m3 0h1m6 0h1m4 0h1m45 0h1m1 0h1m5 0h1m2 0h1m25 0h1M25 97h1m29 0h1m33 0h1m2 0h1m9 0h1m2 0h1m7 0h1m2 0h1m9 0h2m26 0h1m12 0h1m25 0h1m6 0h1m24 0h2m3 0h1m3 0h1m31 0h1M1 98h1m7 0h1m9 0h1m2 0h1m3 0h1m10 0h1m3 0h1m3 0h1m1 0h1m6 0h1m26 0h1m7 0h1m1 0h1m2 0h1m7 0h1m1 0h1m14 0h2m5 0h1m12 0h1m38 0h1m19 0h1m39 0h1m6 0h1m22 0h1M5 99h1m4 0h1m13 0h1m13 0h1m10 0h1m7 0h2m2 0h1m9 0h1m5 0h1m2 0h1m15 0h1m10 0h1m32 0h1m9 0h1m12 0h1m16 0h1m11 0h1m2 0h1m5 0h1m4 0h2m5 0h1m10 0h1m7 0h1m5 0h1m25 0h1"/>
<path stroke="#FFE6DC" d="M50 0h1m10 0h4m2 0h1m30 0h1m15 0h2m13 0h1m1 0h1m1 0h1m2 0h1m38 0h1m17 0h1m1 0h1m7 0h1m6 0h1m14 0h1m3 0h1m15 0h1m9 0h1m3 0h1M13 1h1m48 0h2m16 0h1m7 0h1m7 0h1m5 0h3m13 0h1m30 0h1m31 0h1m9 0h3m25 0h1m3 0h1m15 0h3m9 0h1m5 0h1m10 0h1M13 2h1m9 0h1m9 0h1m40 0h1m25 0h1m11 0h1m15 0h1m5 0h2m2 0h1m37 0h1m14 0h2m34 0h1m2 0h1m1 0h1m11 0h1m3 0h1m7 0h1m3 0h1m1 0h1M9 3h1m3 0h1m8 0h1m3 0h1m8 0h1m20 0h1m5 0h1m1 0h1m2 0h1m9 0h2m6 0h1m5 0h1m9 0h2m61 0h1m16 0h1m3 0h1m6 0h1m22 0h1m4 0h1m4 0h1m3 0h1m27 0h1m10 0h1M9 4h1m6 0h1m9 0h1m1 0h1m5 0h1m32 0h1m8 0h1m6 0h2m12 0h1m31 0h1m46 0h1m42 0h1m10 0h1m2 0h1m6 0h1m11 0h1m14 0h1m1 0h1m1 0h1M48 5h1m3 0h1m75 0h1m37 0h1m14 0h1m15 0h1m6 0h1m6 0h1m2 0h1m8 0h1m3 0h1m4 0h1m4 0h1m7 0h1m2 0h1m5 0h1m6 0h1M168 6h1m11 0h2m31 0h1m4 0h1m8 0h1m23 0h1m20 0h1M6 7h1m9 0h1m24 0h1m86 0h1m35 0h1m24 0h1m8 0h1m7 0h1m9 0h1m4 0h1m10 0h1m8 0h1m13 0h1m10 0h1m4 0h1M7 8h1m4 0h1m35 0h1m5 0h1m41 0h1m45 0h1m11 0h1m22 0h1m2 0h1m17 0h1m19 0h1m2 0h1m5 0h1m17 0h1m7 0h1M48 9h1m3 0h1m9 0h1m26 0h1m7 0h1m18 0h1m12 0h2m45 0h1m50 0h1m10 0h1m9 0h1m9 0h2m5 0h1M2 10h1m3 0h1m29 0h1m25 0h1m10 0h1m9 0h1m4 0h1m27 0h1m30 0h1m6 0h1m11 0h1m36 0h1m23 0h1m9 0h1M54 11h1m30 0h1m25 0h1m4 0h1m31 0h1m31 0h1m25 0h1m18 0h1m1 0h1m1 0h1m11 0h1m13 0h1m5 0h1m1 0h1m3 0h1M36 12h1m43 0h1m7 0h1m12 0h1m13 0h1m59 0h1m3 0h1m9 0h1m10 0h1m7 0h1m2 0h1m46 0h1m1 0h1m9 0h1M6 13h1m41 0h1m49 0h1m16 0h1m9 0h1m22 0h1m9 0h1m7 0h1m26 0h1m4 0h1m15 0h1m26 0h1m11 0h1m16 0h1M10 14h1m5 0h1m3 0h1m14 0h1m50 0h1m9 0h2m10 0h1m49 0h1m39 0h1m43 0h1m5 0h1m10 0h1M54 15h1m117 0h1m6 0h1m7 0h1m9 0h1m50 0h1m4 0h1M88 16h2m8 0h1m82 0h1m5 0h1m10 0h1m2 0h1m31 0h1m26 0h1m5 0h1m3 0h2M16 17h1m19 0h1m92 0h1m13 0h1m20 0h1m4 0h1m11 0h1m22 0h1m17 0h1m33 0h1m14 0h1M89 18h1m68 0h1m8 0h1m14 0h1m50 0h1m17 0h1m6 0h1m6 0h1m1 0h1m3 0h1M13 19h1m74 0h2m39 0h2m12 0h1m24 0h1m8 0h1m1 0h2m16 0h1m23 0h1m5 0h1m4 0h1m25 0h1m12 0h1M41 20h1m6 0h1m24 0h1m9 0h1m4 0h2m52 0h2m20 0h1m10 0h1m5 0h1m19 0h1m9 0h1m13 0h1m12 0h1m6 0h1m5 0h1m8 0h1m2 0h2m1 0h1m5 0h1M48 21h1m24 0h1m37 0h1m3 0h1m13 0h1m18 0h1m23 0h1m7 0h1m2 0h1m7 0h1m29 0h1m8 0h1m1 0h1m5 0h1m6 0h1m10 0h1m4 0h1m5 0h1m3 0h1M6 22h1m34 0h1m33 0h1m10 0h1m9 0h1m1 0h1m31 0h1m23 0h1m38 0h1m3 0h1m5 0h1m10 0h1m5 0h1m10 0h1m26 0h1M41 23h1m41 0h1m5 0h1m8 0h1m81 0h1m6 0h1m5 0h1m54 0h1M54 24h1m20 0h1m12 0h1m26 0h1m27 0h1m4 0h1m14 0h1m15 0h1m31 0h1m26 0h1m9 0h1m9 0h1M102 25h1m26 0h1m36 0h1m2 0h1m5 0h1m3 0h1m23 0h1m17 0h1m1 0h1m2 0h1m24 0h1m4 0h2m7 0h1m1 0h1m3 0h1M29 26h1m11 0h1m47 0h1m49 0h1m41 0h1m60 0h1m5 0h1m23 0h1M77 27h1m2 0h1m62 0h1m32 0h1m3 0h1m20 0h1m6 0h1m28 0h1m16 0h2m14 0h1M6 28h1m82 0h1m21 0h1m16 0h2m13 0h1m24 0h1m8 0h1m3 0h1m15 0h1m24 0h1m4 0h1m20 0h1m1 0h1m6 0h1m9 0h1m2 0h1M6 29h1m47 0h1m18 0h1m14 0h1m19 0h1m6 0h1m77 0h1m9 0h1m2 0h1m5 0h1m38 0h1m5 0h2m4 0h1M7 30h1m28 0h1m51 0h2m85 0h1m5 0h1m11 0h1m8 0h1m18 0h1m19 0h1m19 0h1m4 0h1M16 31h1m3 0h1m20 0h1m46 0h1m8 0h1m45 0h1m53 0h2m39 0h1m2 0h1m5 0h1m13 0h1m10 0h1M36 32h1m60 0h1m27 0h1m42 0h1m9 0h1m1 0h1m10 0h1m8 0h1m13 0h1m32 0h1m12 0h1m3 0h1M6 33h2m18 0h1m56 0h1m4 0h1m9 0h1m16 0h1m31 0h1m34 0h1m6 0h1m1 0h1m11 0h1m8 0h1m30 0h1M38 34h1m57 0h1m5 0h1m12 0h1m9 0h1m21 0h1m28 0h1m5 0h1m43 0h1m1 0h1m5 0h1m2 0h1m33 0h1M13 35h1m2 0h1m84 0h1m14 0h1m11 0h1m13 0h1m26 0h1m1 0h1m3 0h1m4 0h1m17 0h1m35 0h1m11 0h1m1 0h1m10 0h1m9 0h1M7 36h1m8 0h1m66 0h1m5 0h1m35 0h1m38 0h1m4 0h1m11 0h3m13 0h1m2 0h2m4 0h1m9 0h1m5 0h1m7 0h1m6 0h1m21 0h1M6 37h1m11 0h1m64 0h1m31 0h1m65 0h1m7 0h1m12 0h2m17 0h1m1 0h1m7 0h1m2 0h1m9 0h1m10 0h1m2 0h1M2 38h1m3 0h1m9 0h1m8 0h1m10 0h1m43 0h1m88 0h1m10 0h1m1 0h1m4 0h1m1 0h1m1 0h1m19 0h1m9 0h1m1 0h1m4 0h1m29 0h2m9 0h1M6 39h1m9 0h1m66 0h1m4 0h1m9 0h1m48 0h1m6 0h1m6 0h1m13 0h1m15 0h1m19 0h1m10 0h1m25 0h1m22 0h1M2 40h1m19 0h1m13 0h1m36 0h1m12 0h1m29 0h1m11 0h1m14 0h1m3 0h1m6 0h1m14 0h1m19 0h1m2 0h1m8 0h1m21 0h1m13 0h1m10 0h1m5 0h1m3 0h1m2 0h1m3 0h1M65 41h1m19 0h1m13 0h1m19 0h1m9 0h2m16 0h1m10 0h1m30 0h1m26 0h1m3 0h1m11 0h1m12 0h1m7 0h1m6 0h1m4 0h1M22 42h1m33 0h1m26 0h1m4 0h2m6 0h1m31 0h1m14 0h1m4 0h1m17 0h1m9 0h1m2 0h1m7 0h1m4 0h1m28 0h3m4 0h1m2 0h1m3 0h1m9 0h1m17 0h1m1 0h1m4 0h1M79 43h1m6 0h1m38 0h1m54 0h1m7 0h2m40 0h3m19 0h1m7 0h1m4 0h1M16 44h1m4 0h1m14 0h1m71 0h1m6 0h1m12 0h1m38 0h1m7 0h1m15 0h2m8 0h1m2 0h1m21 0h1m20 0h1m11 0h1m9 0h1M6 45h1m101 0h1m6 0h1m12 0h1m26 0h1m13 0h1m1 0h1m3 0h1m5 0h2m39 0h1m15 0h1m5 0h1m13 0h1M101 46h1m73 0h1m2 0h1m12 0h2m13 0h1M16 47h1m66 0h1m15 0h1m47 0h1m24 0h1m16 0h1m1 0h1m56 0h1m11 0h1M6 48h1m90 0h1m17 0h1m42 0h1m13 0h1m2 0h1m4 0h2m10 0h1m30 0h1m7 0h1m12 0h1m1 0h2m6 0h1m3 0h1m8 0h1M6 49h1m6 0h1m12 0h1m101 0h1m18 0h1m27 0h1m4 0h1m10 0h1m31 0h1m6 0h1m7 0h1m14 0h1m6 0h1M19 50h1m17 0h1m2 0h1m11 0h1m4 0h1m22 0h1m13 0h1m9 0h2m2 0h1m3 0h1m3 0h3m12 0h1m26 0h1m4 0h1m7 0h1m33 0h2m18 0h1m35 0h2m2 0h2M10 51h1m1 0h1m3 0h1m11 0h1m7 0h2m11 0h1m1 0h1m2 0h1m38 0h1m20 0h1m2 0h1m2 0h1m9 0h1m11 0h1m5 0h1m56 0h1m21 0h2m4 0h1m12 0h1m16 0h1M1 52h1m1 0h1m23 0h1m2 0h1m2 0h1m33 0h1m1 0h1m6 0h1m7 0h1m9 0h1m1 0h1m3 0h1m5 0h1m9 0h2m2 0h1m3 0h1m7 0h1m22 0h1m22 0h1m10 0h1m15 0h1M0 53h2m7 0h1m44 0h1m5 0h1m2 0h1m30 0h1m16 0h2m2 0h1m16 0h1m4 0h1m7 0h2m2 0h1m9 0h1m80 0h1M1 54h1m7 0h1m16 0h1m2 0h1m3 0h1m6 0h1m1 0h1m32 0h1m4 0h1m11 0h2m9 0h1m2 0h1m2 0h1m14 0h1m5 0h1m6 0h1m12 0h1m3 0h1m23 0h1m16 0h1m9 0h1m5 0h1m49 0h1m6 0h1m1 0h1M19 55h1m3 0h1m6 0h1m5 0h1m5 0h1m3 0h1m40 0h1m16 0h1m2 0h1m3 0h1m4 0h1m5 0h1m6 0h2m2 0h1m8 0h1m7 0h1m14 0h1m2 0h1m6 0h1m43 0h1m27 0h1M13 56h1m3 0h1m12 0h1m1 0h1m9 0h1m2 0h1m5 0h1m2 0h1m4 0h1m5 0h1m12 0h1m2 0h2m12 0h1m3 0h1m1 0h1m29 0h1m13 0h1m17 0h1m11 0h1m32 0h1m8 0h1m25 0h1m6 0h1M10 57h2m25 0h1m9 0h1m3 0h1m4 0h1m2 0h1m18 0h1m1 0h1m18 0h1m6 0h1m18 0h1m7 0h1m18 0h1m70 0h1M26 58h1m6 0h1m6 0h1m2 0h1m1 0h1m6 0h1m5 0h1m21 0h1m7 0h1m1 0h2m2 0h1m1 0h1m25 0h1m12 0h1m74 0h1m16 0h1m37 0h1M11 59h1m11 0h2m29 0h1m1 0h1m9 0h1m1 0h2m4 0h2m12 0h1m19 0h1m8 0h1m24 0h1m3 0h1m48 0h1m65 0h1M33 60h1m3 0h1m12 0h1m3 0h1m5 0h1m3 0h1m21 0h1m11 0h1m1 0h1m4 0h1m23 0h1m2 0h2m12 0h1m8 0h1m3 0h1m102 0h1m7 0h1M5 61h1m18 0h1m12 0h1m13 0h1m11 0h1m7 0h1m5 0h1m6 0h1m25 0h1m6 0h1m3 0h1m12 0h1m11 0h1m2 0h1m1 0h1m15 0h1m87 0h1M5 62h1m17 0h1m17 0h1m11 0h1m2 0h1m10 0h1m8 0h1m1 0h2m1 0h1m6 0h1m5 0h1m25 0h1m21 0h1m4 0h1m9 0h1m5 0h1m1 0h1m23 0h1m44 0h1m9 0h1M1 63h1m5 0h1m26 0h1m23 0h1m35 0h1m41 0h1m14 0h1m13 0h1m2 0h1m44 0h1m43 0h1m3 0h1M20 64h1m2 0h1m6 0h1m1 0h1m4 0h1m8 0h1m5 0h1m2 0h1m5 0h1m34 0h1m13 0h1m9 0h1m24 0h1m2 0h1m6 0h1m1 0h1m5 0h1m47 0h1m5 0h1M9 65h1m38 0h1m1 0h1m3 0h2m5 0h1m9 0h1m4 0h1m7 0h1m12 0h1m25 0h1m7 0h1m6 0h1m5 0h1m2 0h1m3 0h1m13 0h1m2 0h1m9 0h1m45 0h1m2 0h1m15 0h2m2 0h1m21 0h1M9 66h1m16 0h1m40 0h1m14 0h1m17 0h1m29 0h1m76 0h1m57 0h1M1 67h1m27 0h1m3 0h1m15 0h1m8 0h1m20 0h1m15 0h1m4 0h1m27 0h1m3 0h1m10 0h1m6 0h1m2 0h1m14 0h1m7 0h1m1 0h1m20 0h1m11 0h1m5 0h1m9 0h1m16 0h1m21 0h1m3 0h1M2 68h1m4 0h1m1 0h1m1 0h1m24 0h1m30 0h1m4 0h1m9 0h1m8 0h1m1 0h1m7 0h1m4 0h1m24 0h1m18 0h1m2 0h1m18 0h1m4 0h1m46 0h1m2 0h1m5 0h1m9 0h1m3 0h1M2 69h1m55 0h1m4 0h1m7 0h1m4 0h1m6 0h1m7 0h1m13 0h1m5 0h1m7 0h2m15 0h1m8 0h1m11 0h1m24 0h1m7 0h1m1 0h1m28 0h1m22 0h3m1 0h1m15 0h1M35 70h1m78 0h2m18 0h1m7 0h1m9 0h1m4 0h1m18 0h1m1 0h1m65 0h1M0 71h1m5 0h1m10 0h1m8 0h1m11 0h1m18 0h1m47 0h1m39 0h1m4 0h1m38 0h1M17 72h1m3 0h1m10 0h1m14 0h1m24 0h1m6 0h1m26 0h1m5 0h1m1 0h1m18 0h1m20 0h1m79 0h1m10 0h1M3 73h1m14 0h1m8 0h1m18 0h1m12 0h1m7 0h1m18 0h1m17 0h1m5 0h1m7 0h1m4 0h1m6 0h1m15 0h1m25 0h1m32 0h1m22 0h1m3 0h1m1 0h1m5 0h1m5 0h1m6 0h1M18 74h1m3 0h1m15 0h1m3 0h1m3 0h1m36 0h1m24 0h1m8 0h1m15 0h1m11 0h2m6 0h1m1 0h1m5 0h1m45 0h1m14 0h1m5 0h1m16 0h1m10 0h1M23 75h1m8 0h1m11 0h1m5 0h1m9 0h1m10 0h1m6 0h1m8 0h1m1 0h1m7 0h1m8 0h1m4 0h1m10 0h1m8 0h1m10 0h1m27 0h1m92 0h1m4 0h1M4 76h1m4 0h1m4 0h1m8 0h1m7 0h1m1 0h1m21 0h1m13 0h1m1 0h1m31 0h1m8 0h1m7 0h1m1 0h1m12 0h1m16 0h1m15 0h1m4 0h1m3 0h2m6 0h1m21 0h2m45 0h1M7 77h1m1 0h1m12 0h1m13 0h1m11 0h1m33 0h1m13 0h1m4 0h1m10 0h1m28 0h1m9 0h1m11 0h1m1 0h1m5 0h1m41 0h1m36 0h1m11 0h1m6 0h1M5 78h1m6 0h1m2 0h1m11 0h1m2 0h1m8 0h1m10 0h1m18 0h1m12 0h1m25 0h1m46 0h1m9 0h1m67 0h1m38 0h1M13 79h1m26 0h1m5 0h1m13 0h1m2 0h2m10 0h1m14 0h1m2 0h1m9 0h1m11 0h1m17 0h1m11 0h1m11 0h2m38 0h1m6 0h1m41 0h1m3 0h1M0 80h1m5 0h1m10 0h1m1 0h1m12 0h1m8 0h1m11 0h1m33 0h1m16 0h1m2 0h2m6 0h1m25 0h1m7 0h1m23 0h1m4 0h1m18 0h1m36 0h1m26 0h1m3 0h1M39 81h1m21 0h1m3 0h1m11 0h1m12 0h1m2 0h1m1 0h1m8 0h1m3 0h1m5 0h1m31 0h1m5 0h1m5 0h2m11 0h1m13 0h1m13 0h1m15 0h1m7 0h1m12 0h1M11 82h1m52 0h1m33 0h1m13 0h1m1 0h1m3 0h1m9 0h1m2 0h1m17 0h1m21 0h1m1 0h1m6 0h1m90 0h1M1 83h1m2 0h1m4 0h1m42 0h1m9 0h1m20 0h1m1 0h2m19 0h1m4 0h1m12 0h2m22 0h1m3 0h1m8 0h1m3 0h1m2 0h1m21 0h1M12 84h1m6 0h2m3 0h1m9 0h1m5 0h1m4 0h1m27 0h1m4 0h1m34 0h1m31 0h1m6 0h1m10 0h1m8 0h1m19 0h1m22 0h1m8 0h1m25 0h1m3 0h2M20 85h1m2 0h1m23 0h1m1 0h1m1 0h1m6 0h1m26 0h1m7 0h1m13 0h1m11 0h1m2 0h1m18 0h1m3 0h1m3 0h1m5 0h1m9 0h1m14 0h1m4 0h1m4 0h1m5 0h1m10 0h1m32 0h1M19 86h1m9 0h1m5 0h2m3 0h3m58 0h1m17 0h1m5 0h1m5 0h1m11 0h1m4 0h1m19 0h1m37 0h1m13 0h1m24 0h1M9 87h1m1 0h1m2 0h1m12 0h1m19 0h1m5 0h1m1 0h1m25 0h1m4 0h1m5 0h1m45 0h1m7 0h1m43 0h1m4 0h1m3 0h1m17 0h1m39 0h1M14 88h2m14 0h1m19 0h1m3 0h1m5 0h1m1 0h1m3 0h1m7 0h2m4 0h1m13 0h1m32 0h1m2 0h1m2 0h1m10 0h1m19 0h1m10 0h1m19 0h1m22 0h2M7 89h1m14 0h1m5 0h1m10 0h2m3 0h1m24 0h1m13 0h1m4 0h1m3 0h1m3 0h1m18 0h2m5 0h1m6 0h1m7 0h1m1 0h2m7 0h1m14 0h1m6 0h1m2 0h1m8 0h1m14 0h1m13 0h1m12 0h1m4 0h1M3 90h3m2 0h1m29 0h1m8 0h1m1 0h1m4 0h1m2 0h1m2 0h1m21 0h1m2 0h1m8 0h1m38 0h1m7 0h1m7 0h1m24 0h1m19 0h1m25 0h1m44 0h1M2 91h1m2 0h1m13 0h1m2 0h1m43 0h1m3 0h1m6 0h1m12 0h1m19 0h1m3 0h1m2 0h1m8 0h1m9 0h1m5 0h1m11 0h1m12 0h1m3 0h2m2 0h1m32 0h1m4 0h1m36 0h1m9 0h1m1 0h1m3 0h1m5 0h1M5 92h1m9 0h1m9 0h1m30 0h1m4 0h1m5 0h1m28 0h1m1 0h1m5 0h1m6 0h1m45 0h1m1 0h1m5 0h1m15 0h1m18 0h1m7 0h1m2 0h1m1 0h1m14 0h1m7 0h1m6 0h1m17 0h1m10 0h1M15 93h1m4 0h2m47 0h1m1 0h4m9 0h1m4 0h1m8 0h2m1 0h1m5 0h1m2 0h1m3 0h1m12 0h1m3 0h1m15 0h2m36 0h1m1 0h1m6 0h2m19 0h1m12 0h2M13 94h1m9 0h1m3 0h1m4 0h1m5 0h1m4 0h1m5 0h1m9 0h1m16 0h1m6 0h2m1 0h1m6 0h1m7 0h1m17 0h1m12 0h1m20 0h1m32 0h1m4 0h1m2 0h1m11 0h1m19 0h1M8 95h1m11 0h1m4 0h1m3 0h1m5 0h1m1 0h1m5 0h1m34 0h1m3 0h2m17 0h1m36 0h3m18 0h1m1 0h1m25 0h1m9 0h1m7 0h1m36 0h1m5 0h1m6 0h1M6 96h1m14 0h1m6 0h1m1 0h1m1 0h1m9 0h1m2 0h1m9 0h1m9 0h1m3 0h2m7 0h1m7 0h1m9 0h1m22 0h1m6 0h1m3 0h1m10 0h1m2 0h2m9 0h1m25 0h1m11 0h1m31 0h1m42 0h1M4 97h1m1 0h1m16 0h1m16 0h1m50 0h1m4 0h1m4 0h1m6 0h1m2 0h2m9 0h1m2 0h1m23 0h1m2 0h1m5 0h1m7 0h1m9 0h1m36 0h1m3 0h1m9 0h1m8 0h1m9 0h1m3 0h1m7 0h1m5 0h1M7 98h1m9 0h1m7 0h1m3 0h1m21 0h1m27 0h1m3 0h1m8 0h1m6 0h1m10 0h1m2 0h1m11 0h1m25 0h1m11 0h1m2 0h1m15 0h1m32 0h1m7 0h1m5 0h1m2 0h1m9 0h1m1 0h1m16 0h1m3 0h1M11 99h1m8 0h1m21 0h1m12 0h2m24 0h1m7 0h1m29 0h1m47 0h1m9 0h1m3 0h1m43 0h1m30 0h1m5 0h1m5 0h2"/>
<path stroke="#FFD9CB" d="M7 0h1m38 0h1m125 0h2m3 0h1m18 0h1m16 0h1m20 0h1m5 0h1m19 0h1m3 0h1m1 0h1M16 1h1m37 0h1m19 0h1m46 0h1m17 0h1m18 0h1m19 0h1m10 0h1m10 0h1m1 0h1m32 0h1m7 0h1m21 0h1m4 0h1M1 2h1m14 0h1m13 0h1m31 0h1m14 0h1m7 0h1m20 0h1m30 0h1m10 0h1m1 0h1m1 0h2m4 0h1m2 0h1m7 0h1m36 0h1m22 0h1m3 0h1m5 0h1m7 0h1m11 0h1m10 0h1M6 3h1m29 0h1m3 0h1m5 0h1m92 0h1m3 0h1m1 0h1m10 0h1m5 0h1m3 0h1m12 0h1m17 0h1m7 0h1m18 0h1m2 0h1m7 0h1m2 0h1m11 0h1m11 0h1M93 4h1m46 0h1m36 0h1m2 0h1m3 0h1m18 0h1m4 0h1m13 0h1m33 0h1m1 0h1M7 5h1m28 0h1m61 0h1m26 0h1m44 0h1m1 0h1m2 0h1m1 0h1m9 0h1m5 0h1m9 0h1m22 0h1m11 0h1m12 0h1m3 0h1m9 0h1M16 6h1m72 0h1m6 0h1m18 0h1m106 0h2m14 0h1m2 0h1m28 0h2M96 7h3m9 0h1m33 0h1m61 0h1m17 0h2m14 0h1m5 0h1m11 0h1m1 0h2m10 0h1M89 8h1m25 0h1m52 0h1m12 0h1m19 0h1m9 0h1m1 0h1m14 0h1m3 0h1m4 0h1m32 0h1M6 9h1m9 0h1m9 0h1m53 0h1m85 0h1m5 0h1m14 0h1m26 0h1m17 0h1m22 0h1m4 0h1M41 10h1m55 0h1m45 0h1m19 0h1m17 0h1m3 0h1m2 0h1m2 0h1m12 0h1m15 0h1m2 0h1m2 0h1m15 0h1m2 0h1m2 0h1M89 11h1m6 0h1m31 0h1m29 0h1m7 0h1m21 0h1m4 0h1m3 0h1m16 0h1m17 0h1m18 0h1m5 0h1m1 0h1m4 0h1m1 0h1M48 12h1m114 0h1m8 0h1m8 0h1m11 0h1m7 0h1m16 0h1m15 0h1m2 0h1m4 0h1m10 0h1m1 0h2m4 0h1m9 0h1M50 13h1m21 0h1m15 0h2m158 0h1m6 0h1M48 14h1m13 0h1m65 0h2m34 0h1m1 0h1m10 0h1m26 0h1m6 0h1m2 0h1m8 0h1m9 0h1m4 0h1m15 0h2m9 0h1m2 0h1M7 15h1m80 0h1m92 0h1m18 0h1m1 0h1m5 0h1m2 0h1m25 0h1m23 0h1m3 0h1M41 16h1m6 0h1m59 0h1m20 0h1m12 0h1m15 0h1m16 0h1m3 0h2m8 0h1m37 0h1m13 0h1m8 0h1m6 0h1m9 0h1m4 0h1M88 17h1m65 0h1m17 0h2m1 0h1m38 0h1m5 0h1m6 0h2m17 0h1m4 0h1m6 0h1m7 0h1M36 18h1m20 0h1m57 0h1m52 0h2m11 0h1m9 0h1m5 0h1m2 0h2m1 0h1m4 0h1m5 0h1m13 0h1m9 0h1m13 0h1M16 19h1m80 0h2m17 0h1m46 0h1m40 0h1m13 0h1m22 0h1m15 0h1m3 0h1M97 20h2m69 0h1m10 0h1m20 0h1m3 0h2m8 0h1m3 0h1m3 0h2m8 0h1m8 0h1m12 0h1m15 0h1M6 21h1m91 0h1m94 0h1m7 0h1m9 0h1m10 0h1m5 0h1m22 0h1m13 0h1m3 0h2M166 22h1m5 0h2m3 0h1m2 0h1m19 0h2m19 0h1m5 0h1m4 0h1m9 0h1m4 0h1m2 0h1m6 0h1m7 0h2m2 0h1m1 0h1M88 23h1m26 0h1m27 0h1m14 0h1m9 0h1m31 0h1m22 0h1m1 0h1m2 0h1m3 0h1m8 0h1m2 0h1m13 0h1m12 0h1M89 24h1m57 0h1m18 0h1m1 0h1m3 0h1m7 0h1m6 0h1m4 0h1m11 0h1m1 0h1m14 0h1m6 0h1m8 0h1m23 0h1m2 0h2M6 25h2m28 0h1m4 0h1m56 0h1m16 0h1m9 0h1m21 0h1m53 0h1m2 0h1m6 0h1m13 0h1m15 0h1m5 0h2m5 0h1m3 0h1m11 0h1M6 26h1m81 0h1m7 0h1m18 0h1m14 0h1m44 0h1m11 0h1m5 0h1m31 0h1m1 0h2m12 0h1m9 0h1m4 0h1m1 0h1m7 0h1M73 27h1m37 0h1m42 0h1m9 0h1m12 0h1m1 0h1m36 0h1m6 0h1m8 0h1m24 0h2m12 0h1M16 28h1m19 0h1m4 0h1m6 0h1m39 0h1m59 0h1m22 0h1m15 0h1m18 0h1m13 0h1m5 0h1m10 0h1m3 0h2m3 0h1m6 0h1m1 0h1m5 0h1m4 0h1m5 0h1M36 29h1m11 0h1m40 0h1m26 0h1m49 0h1m2 0h1m30 0h1m7 0h1m13 0h1m3 0h1m1 0h1m13 0h1m4 0h1m5 0h1m7 0h1m6 0h1m2 0h2M41 30h1m6 0h1m123 0h1m28 0h1m20 0h1m4 0h1m4 0h1m24 0h1m12 0h1M98 31h1m17 0h1m46 0h1m17 0h1m5 0h1m18 0h1m6 0h1m6 0h1m4 0h1m5 0h1m5 0h1m10 0h1m2 0h1m2 0h3m1 0h1m11 0h1M88 32h1m12 0h1m27 0h1m28 0h1m22 0h1m6 0h1m17 0h1m16 0h1m7 0h2m19 0h1m2 0h2m10 0h1M36 33h1m91 0h1m19 0h1m5 0h1m17 0h1m10 0h1m3 0h1m12 0h1m20 0h1m4 0h1m1 0h1m5 0h1m17 0h1m5 0h2M6 34h2m28 0h1m61 0h1m22 0h1m61 0h1m5 0h1m1 0h1m6 0h1m4 0h2m6 0h1m8 0h1m2 0h1m14 0h1m2 0h1m4 0h1m5 0h1m13 0h1m2 0h1M7 35h1m75 0h1m13 0h1m45 0h1m3 0h1m30 0h1m8 0h1m18 0h1m2 0h1m14 0h1m1 0h1m3 0h1m1 0h1m10 0h1m17 0h1M86 36h1m1 0h1m58 0h1m27 0h1m4 0h1m7 0h2m2 0h1m53 0h1m13 0h1m10 0h1M7 37h1m91 0h1m28 0h1m29 0h1m4 0h1m11 0h1m25 0h1m2 0h1m17 0h1m7 0h1m10 0h1m5 0h2M97 38h2m29 0h1m39 0h1m23 0h1m7 0h1m5 0h1m1 0h1m5 0h1m7 0h1m12 0h1m1 0h1m7 0h3M7 39h1m72 0h1m44 0h1m17 0h1m43 0h1m13 0h1m28 0h1m1 0h1m13 0h1m14 0h1m7 0h1m2 0h1M80 40h1m2 0h1m12 0h1m61 0h1m7 0h1m15 0h1m8 0h1m16 0h1m2 0h1m2 0h1m5 0h1m6 0h1m2 0h1m16 0h1m12 0h1m5 0h1M7 41h1m28 0h1m43 0h1m16 0h1m30 0h1m40 0h1m15 0h1m2 0h1m2 0h1m7 0h1m4 0h1m4 0h1m11 0h2m3 0h1m4 0h1m2 0h2m7 0h2m3 0h1m12 0h1m2 0h1M48 42h1m13 0h1m52 0h1m59 0h1m2 0h1m2 0h1m6 0h1m2 0h1m2 0h1m6 0h1m2 0h1m1 0h1m1 0h1m5 0h1m17 0h1m10 0h2m8 0h1m15 0h1m2 0h1M7 43h1m10 0h1m61 0h1m4 0h1m11 0h1m45 0h1m3 0h1m27 0h1m2 0h1m13 0h1m8 0h1m12 0h1m20 0h1m12 0h1m5 0h2m11 0h1M142 44h1m26 0h1m2 0h1m3 0h1m5 0h1m15 0h1m4 0h1m8 0h1m25 0h1m2 0h1m16 0h1m1 0h1M7 45h1m72 0h1m15 0h1m1 0h1m26 0h1m3 0h1m10 0h1m7 0h1m17 0h1m3 0h1m1 0h1m25 0h1m1 0h1m8 0h1m13 0h1m13 0h1m8 0h1m1 0h1m16 0h1M6 46h1m9 0h1m81 0h1m56 0h1m23 0h2m7 0h1m10 0h1m3 0h1m5 0h1m11 0h3m4 0h1m12 0h1m3 0h1m9 0h1m4 0h1m9 0h1M6 47h2m89 0h1m17 0h1m55 0h1m3 0h1m7 0h1m22 0h1m7 0h1m17 0h1m7 0h1m2 0h1m13 0h3m4 0h1m5 0h2M88 48h1m22 0h1m54 0h1m12 0h1m3 0h1m5 0h1m1 0h1m5 0h1m1 0h1m4 0h1m1 0h1m9 0h1m18 0h1m17 0h1M80 49h1m16 0h1m1 0h1m15 0h1m52 0h1m7 0h1m2 0h1m3 0h1m3 0h1m12 0h1m20 0h1m4 0h1m7 0h1m2 0h1m3 0h1m5 0h1m7 0h1m2 0h2m4 0h2m5 0h1M49 50h1m10 0h1m7 0h1m19 0h1m13 0h1m17 0h1m3 0h1m24 0h1m10 0h1m1 0h1m15 0h1m3 0h1m3 0h1m68 0h1m14 0h1M11 51h1m15 0h1m5 0h1m19 0h1m5 0h2m23 0h1m4 0h1m11 0h1m41 0h1m21 0h1m84 0h1M10 52h1m20 0h1m5 0h2m19 0h1m16 0h1m2 0h1m16 0h1m3 0h1m11 0h1m6 0h1m12 0h1m15 0h1m25 0h1m6 0h1m9 0h1m6 0h1m1 0h1M6 53h1m12 0h1m1 0h1m11 0h1m35 0h1m10 0h2m2 0h1m6 0h1m14 0h1m13 0h1m3 0h1m14 0h1m13 0h1m32 0h1m35 0h1m25 0h1m15 0h1M6 54h1m14 0h3m28 0h1m1 0h1m1 0h1m10 0h1m27 0h1m1 0h2m1 0h1m4 0h1m20 0h2m8 0h1m12 0h1m16 0h1M9 55h1m23 0h3m2 0h1m1 0h1m6 0h1m9 0h1m2 0h1m28 0h1m4 0h1m10 0h1m29 0h1m5 0h1m12 0h1m22 0h1m2 0h1m9 0h1m10 0h1M22 56h1m34 0h1m13 0h1m8 0h1m6 0h1m6 0h1m12 0h1m2 0h1m14 0h1m2 0h1m4 0h1m44 0h1m7 0h1m65 0h1M12 57h1m30 0h1m27 0h1m4 0h1m4 0h1m5 0h2m1 0h1m9 0h1m11 0h1m5 0h1m39 0h1m1 0h1m47 0h1M5 58h1m28 0h1m7 0h1m7 0h1m14 0h1m15 0h1m21 0h3m20 0h1m4 0h1m1 0h1m9 0h1m1 0h1m7 0h2m35 0h1m55 0h1m10 0h1M15 59h1m10 0h1m24 0h1m48 0h1m1 0h1m8 0h1m3 0h2m77 0h1m10 0h1m16 0h1m32 0h1M1 60h1m9 0h2m6 0h1m12 0h1m8 0h1m7 0h1m26 0h3m28 0h1m12 0h1m24 0h1m27 0h1m8 0h1m20 0h1m45 0h1M0 61h1m3 0h1m13 0h1m4 0h1m8 0h1m3 0h1m12 0h1m2 0h1m8 0h1m18 0h1m19 0h1m12 0h1m11 0h1m1 0h1m15 0h2m8 0h1m19 0h1m1 0h1m6 0h1m22 0h1m7 0h1m9 0h1m22 0h1M6 62h1m12 0h1m15 0h1m16 0h1m2 0h1m29 0h1m9 0h1m13 0h1m6 0h1m14 0h1m28 0h1m95 0h1M4 63h1m9 0h1m6 0h1m19 0h1m13 0h1m16 0h1m29 0h1m11 0h1m2 0h2m14 0h1m1 0h1m1 0h1m11 0h1m12 0h1m8 0h1m58 0h1m39 0h1M45 64h1m10 0h1m7 0h1m3 0h1m2 0h1m9 0h1m7 0h1m17 0h3m5 0h1m2 0h1m3 0h1m7 0h1m19 0h1m2 0h1m54 0h1m4 0h1m5 0h1M35 65h1m24 0h1m39 0h2m9 0h1m13 0h1m1 0h2m21 0h1m60 0h1m55 0h1M5 66h1m2 0h1m3 0h1m8 0h1m15 0h1m26 0h1m10 0h1m9 0h1m16 0h1m1 0h1m4 0h1m1 0h1m4 0h1m2 0h1m7 0h1m7 0h1m3 0h1m1 0h1m8 0h1m26 0h2m55 0h1m8 0h1M16 67h1m2 0h1m2 0h1m2 0h1m1 0h2m21 0h1m5 0h1m15 0h2m12 0h1m18 0h1m13 0h1m2 0h1m14 0h1m17 0h1m1 0h1m14 0h1m35 0h1m14 0h1m10 0h1m6 0h1m15 0h1M0 68h1m37 0h1m26 0h1m48 0h1m5 0h1m14 0h1m1 0h1m22 0h1m5 0h1m23 0h1m3 0h1m4 0h1m55 0h1m10 0h1M15 69h1m2 0h1m1 0h1m22 0h2m28 0h1m7 0h1m35 0h1m13 0h1m49 0h1m26 0h1m19 0h1m37 0h1M11 70h1m1 0h1m11 0h1m16 0h1m62 0h1m1 0h1m16 0h2m20 0h1m25 0h1m21 0h2m17 0h1m9 0h1m38 0h1M22 71h1m37 0h1m2 0h1m16 0h2m14 0h1m7 0h1m7 0h1m4 0h1m14 0h1m43 0h1m17 0h1M9 72h1m24 0h1m20 0h1m1 0h1m1 0h1m1 0h2m15 0h1m15 0h1m18 0h1m16 0h1m4 0h1m1 0h1m65 0h1m9 0h1m52 0h1M2 73h1m9 0h1m9 0h1m26 0h1m5 0h1m13 0h1m3 0h1m1 0h2m4 0h1m8 0h2m13 0h1m11 0h1m2 0h1m32 0h1m11 0h1m79 0h1m17 0h1m2 0h1M7 74h1m17 0h1m24 0h1m4 0h1m8 0h1m13 0h1m8 0h1m4 0h1m6 0h1m2 0h1m6 0h1m28 0h1m2 0h1m2 0h1m4 0h1m23 0h1m1 0h1m48 0h1m14 0h1m10 0h1m20 0h1M10 75h2m15 0h1m14 0h1m15 0h1m8 0h1m35 0h1m17 0h1m17 0h1m5 0h2m8 0h1m4 0h1m4 0h1m7 0h1m11 0h1m53 0h1M29 76h1m11 0h2m10 0h1m9 0h1m24 0h1m11 0h1m16 0h1m13 0h2m28 0h1m3 0h1m9 0h1m17 0h1m11 0h1m7 0h1m36 0h1M14 77h1m6 0h1m22 0h1m11 0h1m14 0h1m1 0h2m16 0h2m4 0h1m9 0h1m18 0h1m6 0h1m30 0h1m21 0h1m66 0h1m7 0h1m2 0h1M28 78h1m42 0h1m3 0h1m4 0h1m10 0h1m4 0h1m4 0h1m2 0h1m42 0h1m13 0h1m56 0h1M0 79h1m22 0h1m19 0h1m5 0h1m5 0h1m15 0h1m27 0h1m1 0h1m6 0h2m3 0h1m10 0h1m12 0h1m34 0h1m30 0h1m41 0h1m9 0h1M12 80h2m26 0h1m5 0h1m3 0h1m39 0h1m11 0h1m2 0h1m14 0h1m10 0h1m3 0h1m16 0h1m97 0h1m12 0h1M17 81h1m14 0h1m2 0h1m4 0h1m18 0h1m3 0h1m12 0h1m1 0h1m3 0h1m6 0h1m23 0h1m2 0h1m11 0h1m16 0h1m3 0h1m19 0h1m2 0h1m29 0h1m38 0h1m25 0h1M50 82h1m2 0h1m11 0h1m7 0h2m3 0h1m1 0h1m11 0h1m1 0h2m9 0h1m3 0h1m15 0h1m10 0h1m1 0h1m19 0h1m56 0h1m17 0h1m15 0h1M15 83h1m1 0h1m6 0h1m5 0h1m2 0h3m12 0h1m16 0h1m3 0h1m4 0h1m1 0h1m14 0h1m30 0h1m9 0h1m123 0h1M0 84h1m40 0h1m5 0h1m10 0h1m10 0h1m32 0h2m2 0h1m1 0h1m5 0h1m1 0h2m13 0h1m21 0h1m39 0h1m13 0h1m56 0h1M11 85h1m12 0h1m3 0h1m11 0h1m28 0h1m16 0h2m8 0h1m20 0h1m18 0h1m15 0h1m1 0h1m69 0h1m14 0h1m17 0h1M6 86h2m9 0h1m2 0h2m2 0h1m8 0h1m21 0h1m3 0h1m7 0h1m19 0h1m11 0h1m2 0h1m6 0h1m7 0h1m2 0h1m37 0h1m38 0h1m9 0h1m14 0h1m27 0h1M17 87h1m17 0h1m18 0h1m13 0h1m32 0h1m4 0h1m4 0h1m10 0h2m1 0h1m51 0h1m19 0h1m4 0h1m23 0h1m36 0h1M23 88h2m15 0h1m14 0h1m15 0h1m7 0h1m17 0h1m25 0h1m2 0h1m1 0h1m10 0h2m12 0h1m7 0h1m5 0h1m6 0h1m22 0h2m1 0h1m14 0h1m40 0h2m6 0h1m5 0h1M33 89h1m23 0h1m1 0h1m1 0h1m23 0h1m44 0h1m7 0h1m10 0h1m7 0h2m5 0h1m6 0h1m5 0h1m3 0h1m5 0h1m12 0h1m27 0h1m18 0h1m24 0h1M6 90h1m11 0h1m8 0h1m6 0h1m2 0h1m1 0h2m3 0h2m23 0h1m32 0h1m7 0h1m8 0h1m5 0h1m6 0h1m32 0h1m47 0h1m10 0h1m4 0h1m33 0h1M1 91h1m10 0h2m9 0h1m16 0h1m3 0h2m1 0h2m32 0h1m53 0h1m26 0h1m1 0h1m37 0h1m6 0h1m10 0h1m3 0h1m18 0h1m11 0h1M33 92h1m10 0h1m5 0h1m14 0h1m9 0h2m2 0h1m9 0h1m26 0h1m2 0h1m3 0h1m4 0h1m5 0h1m2 0h1m3 0h1m7 0h1m10 0h1m16 0h1m48 0h1m21 0h1M4 93h1m8 0h1m41 0h1m12 0h1m18 0h1m5 0h1m2 0h2m13 0h1m4 0h3m9 0h1m14 0h1m19 0h1m11 0h1m21 0h1m15 0h1m22 0h1M3 94h1m3 0h1m8 0h1m18 0h1m8 0h1m7 0h1m19 0h1m1 0h1m3 0h1m20 0h1m3 0h1m8 0h1m3 0h1m31 0h1m3 0h1m20 0h1m1 0h1m49 0h1m2 0h1m16 0h1m16 0h1m2 0h1M56 95h1m3 0h1m8 0h1m4 0h1m11 0h1m6 0h1m16 0h1m2 0h1m6 0h1m31 0h1m55 0h1m5 0h1m10 0h1m20 0h1m17 0h1m7 0h1M18 96h1m8 0h1m38 0h1m15 0h1m8 0h1m23 0h1m4 0h1m2 0h2m13 0h2m13 0h1m43 0h1m3 0h1m3 0h1m2 0h1m10 0h1m4 0h1m1 0h1m19 0h1m8 0h1m10 0h1M34 97h1m1 0h2m1 0h1m7 0h1m1 0h1m8 0h2m2 0h1m5 0h1m7 0h1m2 0h1m2 0h1m23 0h1m14 0h1m2 0h1m3 0h1m10 0h1m15 0h1m8 0h2m21 0h1m33 0h1m2 0h1m7 0h1M59 98h1m1 0h1m3 0h1m71 0h1m2 0h2m1 0h1m4 0h2m27 0h1m39 0h1m7 0h1M73 99h1m11 0h1m1 0h2m33 0h1m5 0h1m1 0h1m2 0h1m2 0h1m7 0h2m16 0h1m8 0h1m22 0h1m19 0h1m19 0h1"/>
<path stroke="#FFCCBB" d="M6 0h1m3 0h1m60 0h1m12 0h1m36 0h1m34 0h1m25 0h1m14 0h1m1 0h1m30 0h1m8 0h1m10 0h1m3 0h1m3 0h1m3 0h1m7 0h1M36 1h1m29 0h1m11 0h1m33 0h1m24 0h2m4 0h1m19 0h1m4 0h2m2 0h1m4 0h1m4 0h1m13 0h1m18 0h1m12 0h1m4 0h1m21 0h1m11 0h1M43 2h1m24 0h1m11 0h1m22 0h1m3 0h1m8 0h1m46 0h1m2 0h2m9 0h1m10 0h1m7 0h1m11 0h1m6 0h1m2 0h1m27 0h1M3 3h1m3 0h1m35 0h1m7 0h1m22 0h1m8 0h1m13 0h1m36 0h1m6 0h1m16 0h1m10 0h1m19 0h1m4 0h1m1 0h1m34 0h1m4 0h1m3 0h1m10 0h1M7 4h1m3 0h1m20 0h1m5 0h1m7 0h1m4 0h1m5 0h1m11 0h1m12 0h1m33 0h1m36 0h1m12 0h1m3 0h1m2 0h1m20 0h1m1 0h1m24 0h1m28 0h1m3 0h1m2 0h1m1 0h1m1 0h1m8 0h1m1 0h1M6 5h1m172 0h1m26 0h1m15 0h1m2 0h1m16 0h1m13 0h1m2 0h1m10 0h3M6 6h2m28 0h1m61 0h1m44 0h1m49 0h1m4 0h2m16 0h1m3 0h1m7 0h1m28 0h2m2 0h1M10 7h1m77 0h2m53 0h1m19 0h1m11 0h1m4 0h2m6 0h1m4 0h1m3 0h1m13 0h1m2 0h1m5 0h1m9 0h1m6 0h1m7 0h1m5 0h1m5 0h1m7 0h1M36 8h1m79 0h1m46 0h1m15 0h1m13 0h1m5 0h1m7 0h1m8 0h1m6 0h1m1 0h1m16 0h1m1 0h1m2 0h1m8 0h3m6 0h1m5 0h1M36 9h1m51 0h1m86 0h1m12 0h1m12 0h1m18 0h1m1 0h1m14 0h1m9 0h1m3 0h1m5 0h1m9 0h1m3 0h2M170 10h1m16 0h1m11 0h1m5 0h1m12 0h1m9 0h1m12 0h1m2 0h1m8 0h1m2 0h1m2 0h1m5 0h1m4 0h1M48 11h1m39 0h1m8 0h2m69 0h1m9 0h1m25 0h1m18 0h1m4 0h1m2 0h1m24 0h1m15 0h1M96 12h1m1 0h1m69 0h1m19 0h1m25 0h1m5 0h1m10 0h1m13 0h1m5 0h1m2 0h1m2 0h1m7 0h2m5 0h1M16 13h1m19 0h1m106 0h1m24 0h1m4 0h1m26 0h1m5 0h1m2 0h1m12 0h2m3 0h2m16 0h1m1 0h1m4 0h1m1 0h1m2 0h2m2 0h1m2 0h1m6 0h1M88 14h1m9 0h1m16 0h1m62 0h1m8 0h1m5 0h1m11 0h1m2 0h1m11 0h1m4 0h1m6 0h1m2 0h1m3 0h1m1 0h1m4 0h1m5 0h2m3 0h1m3 0h1m10 0h1M6 15h1m82 0h1m53 0h1m33 0h1m2 0h1m12 0h1m5 0h1m14 0h1m8 0h1m1 0h1m2 0h1m12 0h2m4 0h1m2 0h2m3 0h1M6 16h2m28 0h1m59 0h1m66 0h1m4 0h1m1 0h1m17 0h1m16 0h1m5 0h1m6 0h1m11 0h2m13 0h1m8 0h1m3 0h1m5 0h1M6 17h1m159 0h1m1 0h1m11 0h1m6 0h1m11 0h1m23 0h1m1 0h1m16 0h1m2 0h1m1 0h1m7 0h1m1 0h1m7 0h1m1 0h1m4 0h1M48 18h1m39 0h1m40 0h1m13 0h1m31 0h2m10 0h1m23 0h1m22 0h1m6 0h1m5 0h1m20 0h1m1 0h1M41 19h1m6 0h1m59 0h1m6 0h1m50 0h1m3 0h1m22 0h1m4 0h1m31 0h1m15 0h1m9 0h1m7 0h1M115 20h1m47 0h1m16 0h1m7 0h1m10 0h1m6 0h1m9 0h1m18 0h1m8 0h1m2 0h1m2 0h1m4 0h1m3 0h1m11 0h1M88 21h1m98 0h2m10 0h1m5 0h1m7 0h1m9 0h1m17 0h1M7 22h1m81 0h1m26 0h1m26 0h1m43 0h1m2 0h1m11 0h1m10 0h1m8 0h1m2 0h2m7 0h2m1 0h1m8 0h1m4 0h1m1 0h1m7 0h1m8 0h1M6 23h1m29 0h1m60 0h1m77 0h1m21 0h1m8 0h1m7 0h1m22 0h1m8 0h1m8 0h1m5 0h1m2 0h1M6 24h1m9 0h1m80 0h1m77 0h1m5 0h1m6 0h1m11 0h1m7 0h1m11 0h1m2 0h1m2 0h1m3 0h1m11 0h1m2 0h1m11 0h1m14 0h1M88 25h2m6 0h1m19 0h1m46 0h1m23 0h1m2 0h1m2 0h1m20 0h1m1 0h1m5 0h1m5 0h1m3 0h1m1 0h1m15 0h1m2 0h1M143 26h1m24 0h1m19 0h1m15 0h1m15 0h1m1 0h2m6 0h1m2 0h1m10 0h1m8 0h1m11 0h1m5 0h1M48 27h1m132 0h1m11 0h1m8 0h1m10 0h2m13 0h1m2 0h1m1 0h1m7 0h1m3 0h1m19 0h1m1 0h1M97 28h1m17 0h1m72 0h1m19 0h1m5 0h1m6 0h1m6 0h1m2 0h4m10 0h1m5 0h1m4 0h1m1 0h1m6 0h1M158 29h1m9 0h1m6 0h1m1 0h1m2 0h1m6 0h1m16 0h1m25 0h1m3 0h1m2 0h1m6 0h2m10 0h1m12 0h2M16 30h1m98 0h1m64 0h1m6 0h1m16 0h1m13 0h1m9 0h1m13 0h1m8 0h1m2 0h1m1 0h1m7 0h1M36 31h1m78 0h1m50 0h1m8 0h1m4 0h1m19 0h1m4 0h1m2 0h1m12 0h1m12 0h1m7 0h1m1 0h1m12 0h1m8 0h3M170 32h1m26 0h1m3 0h1m3 0h1m13 0h2m20 0h1m3 0h1m7 0h1m11 0h2m2 0h1m1 0h1M96 33h1m2 0h1m25 0h1m17 0h1m24 0h1m6 0h1m3 0h1m1 0h1m19 0h1m2 0h1m9 0h1m1 0h1m6 0h1m22 0h3m6 0h1m6 0h1m3 0h2M168 34h1m3 0h1m5 0h1m2 0h1m5 0h2m3 0h1m13 0h1m2 0h1m3 0h1m2 0h1m5 0h1m12 0h1m6 0h1m4 0h1m6 0h2m9 0h1m4 0h1m1 0h1M36 35h1m51 0h1m10 0h1m66 0h1m1 0h1m1 0h1m47 0h1m1 0h2m1 0h1m17 0h1m22 0h1m1 0h2m3 0h1M6 36h1m29 0h1m43 0h1m15 0h1m11 0h1m57 0h1m1 0h1m3 0h2m4 0h1m12 0h1m36 0h1m5 0h1m6 0h1m10 0h1m13 0h1m2 0h1M98 37h1m44 0h1m28 0h1m7 0h1m2 0h1m1 0h1m1 0h1m10 0h2m8 0h1m5 0h1m1 0h1m18 0h1m10 0h1m3 0h1m13 0h1m1 0h2M115 38h1m9 0h1m17 0h1m32 0h1m2 0h1m5 0h1m40 0h1m3 0h1m3 0h1m3 0h1m4 0h1m8 0h3m1 0h2m9 0h2m1 0h1M178 39h2m3 0h1m20 0h3m1 0h2m4 0h1m1 0h1m4 0h1m6 0h1m12 0h1m1 0h1m11 0h1m4 0h1M98 40h1m71 0h1m7 0h1m1 0h1m2 0h1m1 0h1m12 0h2m6 0h1m18 0h1m8 0h2m2 0h1m5 0h1m1 0h1m5 0h1m2 0h1m6 0h1m8 0h1M148 41h1m14 0h1m13 0h1m1 0h1m7 0h1m18 0h1m7 0h1m13 0h1m4 0h1m6 0h2m4 0h1m7 0h1m1 0h1m10 0h1m1 0h2M147 42h1m35 0h1m1 0h1m3 0h1m15 0h1m24 0h1m7 0h1m2 0h1m4 0h1m1 0h1m6 0h1m3 0h1M16 43h1m146 0h1m15 0h1m18 0h2m4 0h1m18 0h1m19 0h1m12 0h1m1 0h1m5 0h1m6 0h1M7 44h1m89 0h2m26 0h1m42 0h1m14 0h1m13 0h1m20 0h1m4 0h1m7 0h2m1 0h1m10 0h2m7 0h1M36 45h1m106 0h1m3 0h1m15 0h1m9 0h1m4 0h1m8 0h2m10 0h1m5 0h1m4 0h1m3 0h1m1 0h1m4 0h1m23 0h1m6 0h1m1 0h2m14 0h1M143 46h1m39 0h1m3 0h1m9 0h1m7 0h1m10 0h1m17 0h1m15 0h1m1 0h3m1 0h1m5 0h1m1 0h2M22 47h1m57 0h1m15 0h1m1 0h1m29 0h1m14 0h1m4 0h1m14 0h1m2 0h1m13 0h1m4 0h1m14 0h1m8 0h1m6 0h1m16 0h1m3 0h1m3 0h2m1 0h1m5 0h1m1 0h1m8 0h1m7 0h1M36 48h1m59 0h1m46 0h1m19 0h1m14 0h1m21 0h1m4 0h1m15 0h1m8 0h1m3 0h1m5 0h1m15 0h2m2 0h1m9 0h1M7 49h1m28 0h1m61 0h1m49 0h1m14 0h1m24 0h1m5 0h1m2 0h3m4 0h1m4 0h1m3 0h2m16 0h2m2 0h1m15 0h1m2 0h1m12 0h1M10 50h1m5 0h1m1 0h1m29 0h1m4 0h1m10 0h1m11 0h1m1 0h1m19 0h1m23 0h1m127 0h1M1 51h1m7 0h1m28 0h1m41 0h1m7 0h1m2 0h1m3 0h1m1 0h1m1 0h1m16 0h1m4 0h1m9 0h1m22 0h2m66 0h1m42 0h1M4 52h1m21 0h1m9 0h1m9 0h1m65 0h1m12 0h2m11 0h1m14 0h1m4 0h1m6 0h1m42 0h1m13 0h1M17 53h1m18 0h1m1 0h1m9 0h1m64 0h1m13 0h1m7 0h1m14 0h1m3 0h1m100 0h1m5 0h1m1 0h1m4 0h1M0 54h1m52 0h1m28 0h1m8 0h1m25 0h1m21 0h1M0 55h1m26 0h1m21 0h1m2 0h1m23 0h1m15 0h1m7 0h1m7 0h1m17 0h1m17 0h1m1 0h1m61 0h1m13 0h1m17 0h1m3 0h1m10 0h2M2 56h1m6 0h3m21 0h1m1 0h1m8 0h1m5 0h1m1 0h1m39 0h1m4 0h1m17 0h2m26 0h1m61 0h1m49 0h1M21 57h1m16 0h1m28 0h1m16 0h1m6 0h1m16 0h1m13 0h1m15 0h1m16 0h1m72 0h1m24 0h1M30 58h1m13 0h1m33 0h1m21 0h2m126 0h1M30 59h1m6 0h1m7 0h1m7 0h1m38 0h1m19 0h1m1 0h1m10 0h1m3 0h1m7 0h1m9 0h1m9 0h1m70 0h1m17 0h1m23 0h1M9 60h2m27 0h1m9 0h1m4 0h1m1 0h1m6 0h1m18 0h1m22 0h1m1 0h1m4 0h2m3 0h1m10 0h1m3 0h1m7 0h1m10 0h1m11 0h2m26 0h1m53 0h1m1 0h1m8 0h1m5 0h1M11 61h1m5 0h1m3 0h1m8 0h1m4 0h1m2 0h1m1 0h1m9 0h1m7 0h1m13 0h1m56 0h1m1 0h1m32 0h1M0 62h1m16 0h1m10 0h1m29 0h1m16 0h1m13 0h1m1 0h1m21 0h2m7 0h1m3 0h1m2 0h2m2 0h1m7 0h1m1 0h1m9 0h1m19 0h1M2 63h1m13 0h1m13 0h1m4 0h1m44 0h1m61 0h1m1 0h1m19 0h1M4 64h1m6 0h1m5 0h1m20 0h1m5 0h1m20 0h1m28 0h1m16 0h1m4 0h1m18 0h1m6 0h1m34 0h1m76 0h1m14 0h1M0 65h1m10 0h1m16 0h1m52 0h1m20 0h1m3 0h1m8 0h1m13 0h1m5 0h1m7 0h1m10 0h1m35 0h1m14 0h1m11 0h1M46 66h1m3 0h1m2 0h1m3 0h1m1 0h1m8 0h1m1 0h1m10 0h1m38 0h1m4 0h1m31 0h1m5 0h1m41 0h1M35 67h1m10 0h1m7 0h1m48 0h1m31 0h1m6 0h1m30 0h1m29 0h1m25 0h1m15 0h1M3 68h1m8 0h1m36 0h2m4 0h1m13 0h2m10 0h1m12 0h1m4 0h1m7 0h1m4 0h1m14 0h1m11 0h1m6 0h1m7 0h1m8 0h1m97 0h1m7 0h1M6 69h1m9 0h1m4 0h1m30 0h1m7 0h1m13 0h2m27 0h1m3 0h1m4 0h1m12 0h3m2 0h1m10 0h2m5 0h2m27 0h1M3 70h1m4 0h1m7 0h1m21 0h1m5 0h1m50 0h1m6 0h1m38 0h1m3 0h1m25 0h1m5 0h1m27 0h1m39 0h1M11 71h1m11 0h1m26 0h1m24 0h1m3 0h1m11 0h1m9 0h1m6 0h1m19 0h1m17 0h2m80 0h1M22 72h1m70 0h1m8 0h1m36 0h1m7 0h1m5 0h1m54 0h1m11 0h1m16 0h1M34 73h1m3 0h1m17 0h1m8 0h1m26 0h1m3 0h1m3 0h1m2 0h1m4 0h1m39 0h1m8 0h1m4 0h2m13 0h1m2 0h1m32 0h1m6 0h1m40 0h1M5 74h2m10 0h1m13 0h1m16 0h1m18 0h1m4 0h1m13 0h1m4 0h1m1 0h1m60 0h1m3 0h1m6 0h1m47 0h1m35 0h1m11 0h1m6 0h1M4 75h1m7 0h1m4 0h2m34 0h1m11 0h1m2 0h1m3 0h1m7 0h1m20 0h1m13 0h1m10 0h1m50 0h1m20 0h1m9 0h1m4 0h1m3 0h1m5 0h1m40 0h1M0 76h1m33 0h1m2 0h1m11 0h1m27 0h1m13 0h1m7 0h1m2 0h1m24 0h3m7 0h2m2 0h1m4 0h1m8 0h1m61 0h1m10 0h1M13 77h1m18 0h1m9 0h1m7 0h1m14 0h1m24 0h1m22 0h2m25 0h1m2 0h1m2 0h1m1 0h1m3 0h1m25 0h1M1 78h1m6 0h1m7 0h1m42 0h1m2 0h1m4 0h1m15 0h1m30 0h1m17 0h1m5 0h1m10 0h1m4 0h1m9 0h1m20 0h1m22 0h1m6 0h1m35 0h1m5 0h1M7 79h1m19 0h1m4 0h1m6 0h1m21 0h1m22 0h1m7 0h1m3 0h1m15 0h1m30 0h1m7 0h1m13 0h1m7 0h1M8 80h1m12 0h1m5 0h1m14 0h1m4 0h1m19 0h1m6 0h1m3 0h1m5 0h1m4 0h1m27 0h1m33 0h1M8 81h2m24 0h1m3 0h1m9 0h2m1 0h1m5 0h1m13 0h1m12 0h1m6 0h1m23 0h1m10 0h1m2 0h1m5 0h1m15 0h1m98 0h1m11 0h1M0 82h1m8 0h1m20 0h2m1 0h1m15 0h1m5 0h1m2 0h1m3 0h1m9 0h1m9 0h1m3 0h1m14 0h1m20 0h1m6 0h1m10 0h1m10 0h1m4 0h1m20 0h1m7 0h1m57 0h2M7 83h1m6 0h1m12 0h1m12 0h1m6 0h1m25 0h1m3 0h1m31 0h1m6 0h1m12 0h1m9 0h1m5 0h1m8 0h1m44 0h1m39 0h1m25 0h1M6 84h1m22 0h1m8 0h1m3 0h2m5 0h1m24 0h1m15 0h1m18 0h1m10 0h1m12 0h1m1 0h2m9 0h1m26 0h1m1 0h1M8 85h1m12 0h1m15 0h1m6 0h1m33 0h1m11 0h1m3 0h1m31 0h2m5 0h1m44 0h1m86 0h1M8 86h1m3 0h1m19 0h1m13 0h1m2 0h1m41 0h1m8 0h1m7 0h1m17 0h1m35 0h1m10 0h1m24 0h1M0 87h1m18 0h1m14 0h1m2 0h1m6 0h1m15 0h1m8 0h1m1 0h1m2 0h1m2 0h1m2 0h1m16 0h1m5 0h1m29 0h1m89 0h1m40 0h1M1 88h1m7 0h1m9 0h1m5 0h1m27 0h1m14 0h1m12 0h1m22 0h1m11 0h1m15 0h1m15 0h1m10 0h1m63 0h1m30 0h2m11 0h1M4 89h1m4 0h1m13 0h2m9 0h1m47 0h1m12 0h1m21 0h1m15 0h1m12 0h1m13 0h2m16 0h1m74 0h1M13 90h1m2 0h1m8 0h1m35 0h1m73 0h1m1 0h1m14 0h1m10 0h1m7 0h1m27 0h1m3 0h1m19 0h1m28 0h1m16 0h1M25 91h1m9 0h1m6 0h1m9 0h1m2 0h1m2 0h1m32 0h1m14 0h1m5 0h1m11 0h1m15 0h1m16 0h1m2 0h1m9 0h1m58 0h1m15 0h1m6 0h1M9 92h1m37 0h1m10 0h1m18 0h1m4 0h1m26 0h1m16 0h1m9 0h1m2 0h1m2 0h1m9 0h2m12 0h1m11 0h1m31 0h1M6 93h1m4 0h2m4 0h1m6 0h1m3 0h1m18 0h1m5 0h1m6 0h1m5 0h1m78 0h1m6 0h2m60 0h1m30 0h1m15 0h2M22 94h1m32 0h1m10 0h1m1 0h1m31 0h1m1 0h1m5 0h1m53 0h1m27 0h1m4 0h1m2 0h1m25 0h1m23 0h1m5 0h1m14 0h1M0 95h2m38 0h1m18 0h1m15 0h1m15 0h1m2 0h1m24 0h1m13 0h1m23 0h1m19 0h1m17 0h1m32 0h1m15 0h1m5 0h1m10 0h1M1 96h1m37 0h1m1 0h1m16 0h1m1 0h1m10 0h1m2 0h1m15 0h1m12 0h1m7 0h1m2 0h1m1 0h1m11 0h2m24 0h1m6 0h1m9 0h1m78 0h1m13 0h1m4 0h1M7 97h1m2 0h1m16 0h1m37 0h1m3 0h1m11 0h1m13 0h1m35 0h1m6 0h1m8 0h1m5 0h1m8 0h1m27 0h1m32 0h1M2 98h1m7 0h1m5 0h1m4 0h1m2 0h1m3 0h1m3 0h1m15 0h1m6 0h1m11 0h1m12 0h1m6 0h1m21 0h1m20 0h1m4 0h2m9 0h1m9 0h1m4 0h1m3 0h1m14 0h2m5 0h1m1 0h1m49 0h1m7 0h1m21 0h1M3 99h1m28 0h1m15 0h1m10 0h1m3 0h1m1 0h1m29 0h1m4 0h1m15 0h1m18 0h1m32 0h1m86 0h1m9 0h2"/>
<path stroke="#FFBFAA" d="M11 0h1m104 0h1m25 0h1m9 0h1m35 0h1m19 0h1m2 0h1m11 0h2m6 0h1M18 1h1m9 0h1m137 0h2m17 0h1m9 0h1m31 0h1m1 0h1m19 0h1m19 0h1M36 2h1m38 0h1m10 0h1m4 0h1m10 0h1m10 0h1m89 0h1m6 0h1m30 0h1M28 3h1m42 0h1m65 0h1m14 0h1m14 0h1m8 0h1m1 0h1m9 0h1m4 0h1m19 0h1m16 0h1m22 0h2M13 4h1m60 0h1m33 0h1m29 0h1m16 0h1m12 0h1m36 0h1m9 0h1m8 0h1m1 0h1m8 0h1m12 0h1m2 0h1m1 0h1m14 0h1M163 5h1m4 0h1m9 0h1m9 0h1m6 0h1m12 0h1m4 0h1m6 0h1m7 0h1m12 0h1m4 0h1m3 0h1m13 0h1m1 0h1M177 6h1m10 0h1m6 0h1m1 0h1m7 0h1m19 0h1m20 0h2m5 0h4m2 0h1m4 0h1m1 0h1M7 7h1m107 0h1m71 0h1m20 0h1m6 0h1m9 0h2m20 0h1m19 0h1M129 8h1m13 0h1m22 0h1m8 0h1m11 0h1m9 0h1m6 0h1m1 0h1m2 0h2m4 0h1m4 0h1m1 0h1m10 0h2m24 0h1m6 0h1M41 9h1m56 0h1m64 0h1m33 0h1m6 0h1m1 0h1m1 0h1m9 0h1m4 0h1m7 0h1m1 0h1m22 0h1M168 10h1m9 0h1m18 0h1m10 0h1m13 0h1m2 0h1m4 0h1m1 0h2m12 0h1m8 0h1m1 0h1m3 0h1M36 11h1m140 0h1m17 0h1m3 0h1m5 0h1m10 0h1m13 0h1m11 0h2m9 0h1m14 0h1M6 12h1m90 0h1m72 0h1m16 0h1m16 0h1m17 0h2m2 0h1m3 0h1m10 0h1m5 0h1m2 0h1m1 0h1m6 0h1M41 13h1m87 0h1m45 0h1m5 0h1m6 0h1m8 0h1m1 0h1m4 0h1m8 0h1m2 0h1m3 0h1m11 0h1m1 0h1m5 0h1m5 0h1m9 0h1m2 0h1m8 0h2m2 0h1M163 14h1m15 0h1m1 0h1m8 0h1m6 0h1m8 0h1m21 0h1m40 0h1M73 15h1m23 0h1m60 0h1m16 0h1m2 0h1m9 0h1m15 0h1m17 0h1m7 0h1m23 0h1m12 0h1M178 16h1m6 0h1m7 0h1m3 0h1m6 0h1m2 0h1m5 0h2m28 0h2m1 0h1m6 0h1M97 17h1m18 0h1m71 0h1m4 0h1m9 0h1m4 0h1m4 0h1m4 0h1m22 0h1m8 0h1M96 18h1m1 0h1m17 0h1m71 0h1m10 0h1m6 0h1m15 0h1m2 0h1m4 0h1m6 0h1m17 0h2m4 0h1m4 0h1M36 19h1m59 0h1m75 0h1m2 0h1m11 0h1m11 0h1m14 0h1m1 0h1m6 0h1m1 0h1m7 0h2m15 0h1m1 0h1m6 0h1M7 20h1m88 0h1m80 0h2m14 0h1m14 0h1m11 0h1m16 0h1m14 0h1m3 0h1m1 0h1M7 21h1m81 0h1m18 0h1m54 0h1m2 0h1m1 0h1m8 0h1m7 0h1m4 0h1m6 0h1m2 0h1m8 0h1m10 0h1m10 0h1m3 0h1m1 0h1m4 0h1m4 0h1m4 0h1m15 0h1M97 22h1m70 0h1m1 0h1m3 0h2m5 0h1m22 0h1m1 0h1m1 0h1m6 0h1m24 0h1m4 0h1m9 0h1m11 0h1M7 23h1m155 0h1m17 0h1m17 0h1m4 0h1m15 0h1m24 0h1m1 0h1m11 0h1m12 0h1M36 24h1m92 0h1m63 0h1m19 0h1m29 0h2m2 0h1m19 0h1m2 0h1M170 25h1m2 0h1m21 0h1m1 0h1m1 0h1m7 0h2m24 0h1m3 0h1m4 0h1m2 0h2m8 0h1m10 0h1M36 26h1m126 0h1m2 0h1m19 0h1m3 0h1m16 0h1m10 0h1m16 0h1m11 0h1m6 0h1m2 0h1m3 0h1m5 0h1M7 27h1m88 0h2m68 0h1m18 0h1m11 0h1m32 0h1m5 0h1m7 0h1m6 0h1m17 0h1m2 0h1M98 28h1m67 0h1m5 0h1m31 0h1m8 0h1m4 0h1m5 0h1m5 0h1m12 0h1m3 0h1m6 0h1m4 0h1M163 29h1m17 0h1m3 0h1m13 0h1m5 0h1m1 0h1m8 0h1m6 0h1m9 0h1m12 0h1m3 0h1m1 0h1m12 0h1M98 30h1m44 0h1m22 0h1m1 0h1m19 0h1m10 0h1m8 0h1m5 0h1m1 0h1m3 0h1m2 0h1m9 0h1m10 0h2m7 0h1m1 0h1m2 0h2m5 0h1m1 0h1M168 31h1m1 0h1m22 0h1m5 0h1m14 0h1m3 0h1m3 0h1m5 0h1m4 0h1m9 0h1m6 0h1m1 0h1m11 0h1m4 0h1m1 0h1M7 32h1m165 0h1m15 0h1m6 0h1m11 0h1m12 0h1m4 0h1m8 0h1m2 0h1m7 0h1m7 0h1M170 33h1m17 0h1m3 0h1m38 0h1m12 0h1m8 0h2m10 0h1m2 0h1m1 0h2M163 34h1m35 0h2m17 0h1m24 0h1m13 0h1m10 0h1M163 35h1m21 0h1m2 0h1m3 0h1m35 0h1m6 0h1m2 0h1m1 0h1m1 0h1m2 0h1m4 0h1m2 0h1m1 0h1m9 0h1m6 0h1M97 36h1m65 0h1m29 0h2m9 0h1m3 0h1m1 0h1m12 0h1m8 0h1m5 0h1m1 0h1m1 0h3m9 0h3m11 0h1M36 37h1m19 0h1m122 0h1m8 0h1m2 0h1m8 0h1m5 0h1m10 0h1m10 0h1m3 0h1m21 0h1m2 0h1m7 0h1m4 0h1M96 38h1m66 0h1m2 0h1m6 0h1m4 0h1m2 0h1m38 0h1m4 0h1m6 0h1m8 0h1m8 0h1m4 0h1m8 0h1m6 0h2M163 39h1m4 0h1m20 0h1m2 0h1m4 0h1m2 0h1m33 0h2m6 0h1m22 0h1m1 0h2M6 40h1m90 0h1m77 0h1m14 0h1m25 0h1m5 0h1m3 0h1m4 0h1m1 0h1m2 0h1m3 0h1m1 0h2m1 0h1m4 0h1m6 0h1m9 0h1M143 41h1m26 0h1m7 0h1m21 0h2m3 0h1m17 0h1m26 0h1m1 0h1m19 0h1M154 42h1m44 0h1m13 0h1m20 0h1m15 0h1m1 0h1m3 0h1m9 0h1M128 43h1m39 0h1m22 0h1m1 0h1m3 0h1m12 0h1m5 0h1m1 0h1m2 0h1m12 0h1m3 0h1m1 0h2m2 0h1m1 0h1m4 0h1M170 44h1m6 0h1m10 0h1m11 0h1m13 0h1m1 0h1m4 0h2m12 0h1m16 0h2m2 0h1m7 0h2m6 0h1M179 45h1m10 0h1m4 0h1m12 0h1m16 0h1m2 0h1m1 0h3m1 0h2m5 0h1m8 0h1m13 0h1m1 0h1m2 0h1M7 46h1m177 0h1m4 0h1m27 0h1m7 0h1m5 0h1m10 0h1m22 0h2m1 0h1m1 0h1M36 47h1m141 0h1m2 0h1m6 0h1m16 0h1m7 0h1m21 0h1M16 48h1m156 0h1m14 0h1m5 0h1m13 0h1m1 0h1m9 0h1m7 0h1m12 0h2m7 0h1m1 0h1m11 0h1m1 0h1m4 0h2M16 49h1m108 0h1m17 0h1m26 0h1m2 0h1m11 0h1m20 0h1m1 0h1m19 0h1m14 0h1m2 0h1m1 0h1m1 0h1m15 0h1m2 0h2m1 0h1M6 50h1m10 0h1m4 0h1m50 0h1m15 0h1m1 0h1m19 0h1m14 0h1m12 0h1m73 0h1m30 0h1M4 51h1m40 0h1m12 0h1m70 0h1m11 0h1m5 0h1M12 52h1m36 0h1m38 0h1m12 0h1m13 0h1m3 0h1m15 0h1m134 0h1M12 53h1m62 0h1m2 0h1m18 0h1m2 0h1m28 0h1m1 0h1m30 0h1m70 0h1m19 0h1M12 54h1m35 0h1m6 0h1m52 0h1m9 0h1m16 0h1m24 0h1m58 0h1M6 55h1m74 0h1m13 0h1m18 0h1m34 0h1m7 0h1M27 56h1m72 0h1m4 0h1m56 0h1m1 0h1m8 0h1m74 0h1M5 57h1m18 0h1m1 0h1m3 0h1m13 0h1m7 0h1m7 0h3m44 0h1m1 0h1m4 0h1m6 0h1m21 0h2m5 0h1m6 0h1m7 0h1m12 0h1m48 0h1m12 0h1M37 58h1m13 0h1m41 0h1m23 0h1m14 0h1m5 0h1m5 0h1m18 0h1m80 0h1M0 59h1m21 0h1m15 0h1m4 0h1m5 0h1m15 0h1m38 0h1m16 0h1m4 0h1m18 0h1m17 0h2m15 0h1M27 60h1m47 0h1m15 0h2m32 0h1m10 0h1m1 0h1m13 0h1m4 0h1m6 0h1M9 61h1m6 0h1m2 0h1m7 0h1m15 0h1m2 0h1m6 0h1m6 0h1m8 0h1m23 0h1m1 0h1m22 0h1m44 0h1M42 62h2m4 0h1m62 0h1m5 0h1m64 0h1m45 0h1m11 0h1M18 63h1m1 0h1m15 0h2m2 0h1m2 0h1m20 0h2m5 0h1m4 0h1m49 0h1m18 0h1m9 0h1m21 0h1m12 0h1m51 0h1m1 0h1M6 64h1m41 0h1m18 0h1m29 0h1m7 0h1m19 0h1m7 0h1m4 0h1m15 0h1m7 0h1m98 0h1M33 65h1m9 0h1m8 0h1m17 0h1m19 0h1m30 0h1m20 0h1m85 0h1m4 0h1M42 66h1m15 0h1m1 0h1m8 0h1m6 0h1m24 0h1m40 0h1m4 0h1M3 67h1m22 0h1m38 0h1m5 0h1m21 0h1m22 0h1m21 0h1m13 0h1m11 0h1m85 0h1M16 68h1m8 0h1m19 0h1m14 0h1m10 0h1m1 0h1m21 0h1m20 0h1m12 0h1m14 0h1m2 0h1m4 0h1m22 0h1M1 69h1m7 0h1m13 0h1m5 0h1m27 0h1m11 0h1m16 0h1m1 0h1m19 0h1m4 0h1m15 0h1m10 0h1m11 0h1m7 0h1m50 0h1m41 0h1M9 70h1m24 0h1m18 0h1m31 0h1m1 0h1m2 0h1m5 0h1m14 0h1m18 0h1m12 0h1m3 0h1m2 0h1m2 0h2m18 0h1m16 0h1m17 0h1m46 0h1m16 0h1M7 71h1m13 0h1m21 0h1m5 0h1m5 0h1m9 0h1m31 0h1m13 0h1m8 0h1m14 0h1m5 0h1m13 0h1m6 0h1m1 0h1m40 0h1m16 0h1m22 0h1m18 0h1M12 72h1m15 0h2m5 0h1m22 0h1m8 0h1m5 0h2m6 0h1m9 0h1m24 0h1m3 0h1m42 0h1m7 0h1m56 0h1m21 0h1M6 73h1m1 0h1m21 0h1m13 0h2m49 0h1m5 0h2m19 0h1m15 0h1m21 0h1m3 0h1m25 0h1M12 74h1m16 0h1m2 0h1m1 0h1m18 0h1m5 0h1m11 0h1m10 0h1m12 0h1m24 0h1m4 0h1m3 0h1m2 0h1M0 75h1m8 0h1m11 0h1m8 0h2m42 0h1m11 0h1m7 0h1m17 0h1m114 0h1m34 0h1M6 76h1m28 0h2m8 0h1m11 0h1m18 0h1m18 0h1m29 0h1m7 0h1m15 0h1m1 0h1m91 0h1m13 0h1M27 77h2m5 0h1m52 0h1m11 0h1m25 0h1m3 0h1m19 0h1m5 0h1m4 0h1M0 78h1m19 0h1m4 0h1m6 0h1m1 0h1m2 0h1m10 0h1m3 0h1m39 0h1m4 0h1m19 0h1m39 0h1m36 0h1m50 0h1M8 79h1m27 0h1m25 0h1m34 0h1m24 0h1m32 0h1m83 0h1M36 80h1m42 0h1m48 0h2m17 0h1m14 0h1m1 0h1M6 81h1m5 0h1m17 0h1m14 0h1m24 0h1m1 0h1m1 0h1m37 0h1m7 0h1m3 0h1m30 0h1m21 0h1m78 0h1m8 0h1m3 0h1M47 82h1m11 0h1m7 0h1m3 0h1m9 0h1m15 0h1m17 0h1m4 0h1m22 0h1m61 0h1m58 0h1M0 83h1m15 0h1m14 0h1m9 0h1m50 0h1m7 0h1m12 0h1m1 0h1m17 0h1m16 0h1m6 0h1m47 0h1M7 84h1m3 0h1m14 0h1m19 0h1m25 0h1m8 0h1m9 0h1m9 0h1m53 0h1m72 0h1M19 85h1m14 0h1m15 0h1m4 0h1m3 0h1m7 0h1m4 0h1m30 0h1m5 0h1m6 0h1m1 0h1m9 0h1m14 0h1m7 0h1M11 86h1m33 0h1m17 0h1m4 0h1m11 0h1m3 0h1m8 0h1m38 0h1m30 0h1m91 0h1m5 0h1M16 87h1m21 0h1m26 0h1m13 0h1m2 0h1m17 0h1m3 0h1m14 0h1m37 0h2m108 0h1m2 0h1M0 88h1m3 0h1m34 0h1m8 0h2m11 0h1m1 0h1m26 0h1m17 0h1m6 0h1m2 0h1m52 0h1m80 0h1M12 89h1m6 0h1m18 0h1m21 0h1m6 0h2m2 0h2m6 0h1m7 0h1m30 0h1m4 0h1m2 0h1m5 0h1m2 0h1m78 0h1m46 0h1M46 90h1m19 0h1m4 0h1m36 0h1m31 0h1m3 0h1m1 0h2m74 0h1M21 91h1m6 0h1m20 0h1m18 0h1m18 0h1m9 0h1m6 0h1m3 0h1m6 0h1m7 0h1m15 0h1m12 0h1m12 0h1m2 0h1M2 92h1m11 0h1m5 0h1m38 0h1m4 0h1m7 0h1m14 0h1m3 0h1m22 0h1m15 0h2m11 0h1m24 0h1m53 0h1M40 93h1m17 0h1m6 0h1m25 0h1m29 0h1m17 0h1m4 0h1m4 0h1m11 0h1m15 0h1m24 0h1m68 0h1M2 94h1m6 0h1m14 0h1m9 0h1m5 0h1m12 0h1m8 0h1m8 0h1m9 0h1m45 0h1m7 0h1m27 0h1m99 0h1M19 95h1m12 0h1m14 0h1m6 0h1m7 0h1m16 0h1m4 0h1m13 0h1m16 0h1m1 0h1m4 0h1m2 0h1m4 0h1m13 0h1m1 0h1m23 0h1m7 0h1M7 96h1m46 0h1m2 0h1m4 0h1m70 0h1m12 0h1m9 0h1m21 0h1m10 0h1m32 0h1M1 97h1m42 0h1m16 0h1m57 0h1m21 0h1m1 0h1m33 0h1m11 0h1m38 0h1m12 0h1m13 0h1M34 98h2m4 0h1m3 0h1m23 0h1m28 0h1m18 0h1m6 0h1m7 0h1m70 0h1m19 0h1m3 0h1m22 0h1M19 99h1m1 0h1m68 0h1m17 0h1m9 0h1m4 0h1m2 0h1m16 0h1m31 0h1m47 0h1"/>
<path stroke="#FFB299" d="M36 0h1m49 0h1m9 0h1m6 0h1m86 0h1m3 0h1m5 0h1m17 0h1m1 0h2m5 0h1m5 0h1m13 0h1m8 0h1m10 0h1m3 0h1M218 1h1m17 0h1m25 0h1M46 2h1m3 0h1m122 0h1m12 0h1m8 0h1m8 0h1m26 0h1m4 0h1m8 0h1m23 0h1M168 3h1m21 0h1m16 0h1m8 0h1m25 0h1M20 4h1m58 0h1m11 0h1m62 0h1m37 0h1m5 0h2m2 0h1m10 0h2m8 0h1m12 0h1m2 0h1m5 0h1m9 0h1M88 5h1m7 0h2m76 0h1m55 0h2m3 0h1m11 0h1m5 0h1m13 0h1M97 6h1m65 0h1m2 0h1m3 0h1m33 0h1m1 0h1m7 0h1m50 0h1m1 0h1m1 0h1M36 7h1m133 0h1m2 0h1m4 0h1m20 0h1m5 0h1m1 0h1m23 0h1m1 0h1m8 0h1M170 8h1m7 0h1m9 0h1m6 0h1m9 0h1m8 0h1m11 0h1m8 0h1m10 0h1m7 0h1m12 0h3M7 9h1m88 0h1m71 0h1m15 0h1m10 0h1m3 0h1m30 0h1m3 0h1m6 0h2m21 0h1M7 10h1m90 0h1m73 0h1m41 0h1m20 0h1m11 0h1m2 0h2m2 0h1m3 0h1M163 11h1m9 0h1m11 0h1m32 0h1m1 0h1m12 0h4m9 0h2m4 0h1m16 0h1M166 12h1m10 0h1m19 0h1m7 0h3m17 0h1m2 0h1m15 0h1m1 0h1m20 0h3M96 13h1m80 0h1m9 0h1m2 0h1m27 0h1m11 0h1m2 0h1m3 0h1m4 0h1m6 0h1m1 0h1m15 0h1M7 14h1m81 0h1m78 0h1m1 0h1m17 0h1m10 0h1m10 0h1m2 0h1m12 0h1m7 0h1m12 0h1m2 0h2m12 0h1M96 15h1m69 0h1m28 0h1m9 0h1m14 0h1m10 0h1m1 0h1m6 0h1m3 0h1m27 0h1M143 16h1m33 0h1m17 0h2m11 0h1m7 0h1m3 0h1m1 0h1m3 0h1m7 0h1m7 0h1m4 0h1m4 0h1m15 0h1M7 17h1m88 0h1m66 0h1m6 0h1m6 0h1m17 0h2m8 0h2m9 0h1m13 0h2m1 0h2m2 0h1m6 0h1m7 0h2m5 0h1m4 0h1M6 18h1m90 0h1m68 0h1m18 0h1m7 0h1m1 0h1m9 0h1m1 0h1m27 0h1m14 0h1m3 0h1m4 0h1M178 19h1m26 0h1m1 0h1m12 0h1m1 0h1m14 0h1m6 0h2m5 0h1m15 0h1M6 20h1m159 0h1m3 0h1m13 0h1m1 0h1m8 0h1m1 0h1m15 0h1m1 0h1m17 0h1m6 0h1m26 0h1M96 21h2m75 0h1m7 0h1m28 0h1m4 0h3m26 0h1m1 0h1m7 0h1m17 0h1M199 22h1m7 0h1m1 0h2m19 0h1m23 0h1m17 0h1M96 23h1m69 0h1m41 0h1m4 0h1m4 0h1m3 0h1m16 0h1m3 0h1m7 0h1m1 0h2m11 0h2m2 0h1M7 24h1m40 0h1m47 0h1m11 0h1m82 0h1m7 0h1m16 0h1m1 0h1m3 0h1m18 0h1m9 0h1m3 0h1m3 0h1M97 25h1m79 0h1m10 0h1m7 0h1m9 0h1m2 0h1m3 0h1m4 0h1m1 0h1m10 0h1m17 0h1m2 0h1m6 0h1m12 0h1M7 26h1m89 0h2m71 0h1m7 0h1m16 0h2m2 0h1m8 0h1m4 0h2m1 0h1m14 0h1m2 0h1m2 0h1m1 0h1m5 0h2m12 0h1M98 27h1m71 0h1m17 0h1m17 0h1m13 0h1m4 0h1m9 0h1m7 0h1m2 0h2m4 0h2m2 0h1M7 28h1m178 0h1m22 0h1m52 0h1m5 0h2M7 29h1m88 0h2m72 0h1m2 0h1m10 0h1m10 0h1m13 0h1m10 0h1m4 0h1m5 0h1m8 0h1m8 0h1m4 0h1m7 0h1M6 30h1m190 0h1m15 0h1m20 0h2m1 0h1m8 0h2m2 0h1m21 0h1M174 31h1m2 0h2m9 0h1m7 0h1m7 0h1m2 0h1m1 0h1m5 0h2m13 0h1m28 0h1M6 32h1m170 0h1m7 0h1m6 0h1m1 0h2m3 0h1m4 0h1m11 0h2m16 0h1m5 0h1m3 0h1m27 0h1M163 33h1m2 0h1m11 0h1m6 0h1m13 0h1m40 0h2m8 0h1m5 0h1m7 0h1m4 0h1M143 34h1m22 0h1m3 0h1m26 0h1m7 0h1m2 0h1m35 0h2m7 0h1m2 0h1m5 0h1m4 0h1M173 35h1m5 0h1m13 0h1m16 0h1m28 0h1m11 0h1m5 0h1m4 0h1m5 0h1m1 0h1M170 36h1m28 0h1m9 0h1m3 0h1m4 0h1m2 0h1m4 0h1m4 0h1m1 0h1m1 0h1m9 0h1m5 0h1m10 0h1m2 0h1m4 0h1m1 0h1M16 37h1m149 0h1m1 0h1m1 0h1m34 0h1m20 0h1m25 0h1m15 0h2M170 38h1m3 0h1m13 0h1m4 0h1m3 0h1m15 0h1m2 0h1m14 0h1m33 0h1M180 39h1m32 0h1m6 0h1m31 0h2M168 40h1m31 0h1m3 0h1m4 0h2m59 0h1m1 0h1M166 41h1m1 0h1m14 0h2m23 0h1m8 0h1m21 0h1m17 0h1m4 0h1m3 0h1m1 0h1m2 0h1M97 42h1m74 0h1m23 0h2m18 0h1m45 0h1m4 0h1M184 43h1m10 0h1m4 0h1m4 0h1m14 0h1m7 0h1m4 0h1m8 0h1m2 0h1m3 0h1m3 0h1m12 0h1m2 0h1m2 0h1M163 44h1m14 0h1m6 0h1m24 0h1m32 0h2m6 0h1m19 0h1M97 45h1m79 0h1m6 0h1m6 0h1m5 0h1m28 0h1m12 0h1m3 0h1m3 0h1m5 0h1m18 0h1M36 46h1m126 0h1m2 0h1m3 0h1m29 0h1m7 0h1m11 0h1m4 0h1m5 0h1m1 0h1m8 0h1m8 0h1M170 47h1m16 0h1m9 0h1m1 0h1m4 0h1m3 0h1m14 0h1m10 0h1m10 0h1m5 0h1m2 0h2m10 0h1m5 0h1M80 48h1m96 0h1m6 0h2m10 0h1m10 0h1m1 0h1m12 0h1m10 0h1m11 0h1m5 0h1m3 0h1m13 0h1M172 49h1m34 0h1m8 0h2m26 0h1m11 0h1M9 50h1m2 0h1m7 0h1m33 0h1m19 0h1m25 0h1m39 0h1m3 0h1M17 51h1m46 0h1m8 0h1m5 0h1m25 0h1m1 0h1m14 0h1m34 0h1m86 0h1M16 52h1m2 0h1m14 0h2m9 0h1m5 0h3m14 0h1m33 0h1m26 0h1m9 0h1m12 0h1m4 0h1M22 53h2m3 0h1m39 0h1m20 0h2m26 0h2m23 0h1m66 0h1M34 54h1m3 0h1m4 0h1m6 0h1m7 0h2m2 0h1m56 0h1m9 0h1m27 0h1m19 0h1m4 0h1m70 0h1M16 55h3m18 0h1m21 0h1m18 0h1m12 0h1m21 0h1m6 0h1m19 0h1m2 0h1m117 0h1M47 56h1m12 0h1m43 0h1m9 0h1m7 0h1m16 0h1m1 0h1M28 57h1m5 0h1m7 0h1m2 0h1m7 0h1m11 0h1m35 0h1m15 0h1m21 0h1m24 0h1m33 0h1M62 58h1m50 0h1m1 0h1m25 0h1m13 0h1m8 0h1m6 0h1m17 0h1m15 0h1M9 59h1m18 0h1m5 0h1m49 0h1m58 0h1m34 0h1m90 0h1M23 60h1m44 0h1m4 0h1m21 0h3m37 0h1m5 0h1m5 0h1m5 0h1m99 0h1M1 61h1m10 0h1m7 0h1m24 0h1m10 0h1m2 0h1m37 0h1m4 0h1m30 0h1m1 0h1m3 0h1M10 62h1m27 0h1m5 0h1m26 0h1m34 0h1m45 0h1m22 0h1m95 0h1M12 63h1m6 0h1m48 0h1m14 0h1m7 0h1m16 0h2m3 0h1m1 0h1m9 0h1m49 0h1M9 64h1m6 0h1m10 0h1m8 0h1m13 0h1m2 0h1m3 0h1m44 0h1m24 0h1m16 0h1m19 0h1m24 0h1M5 65h1m13 0h1m1 0h1m22 0h1m13 0h1m10 0h1m2 0h1m67 0h1m14 0h1M11 66h1m5 0h1m44 0h1m9 0h1m23 0h1m17 0h1m28 0h1m1 0h1m98 0h1m19 0h1M15 67h1m5 0h1m23 0h1m16 0h1m46 0h1m7 0h1m5 0h1m53 0h1m3 0h1m46 0h1m35 0h1M43 68h1m44 0h1m14 0h1m7 0h1m29 0h2m19 0h1M7 69h1m11 0h1m21 0h1m7 0h1m15 0h1m2 0h1m25 0h1m5 0h1m46 0h1m13 0h1m2 0h1m26 0h1m6 0h1M0 70h1m29 0h1m6 0h1m13 0h1m37 0h1m23 0h1m24 0h1m125 0h1M37 71h1m21 0h1m24 0h1m1 0h1m6 0h1m6 0h1m8 0h1m8 0h1m6 0h1m14 0h1m1 0h1m9 0h1m24 0h1m72 0h1m10 0h1m3 0h1M42 72h1m47 0h1m27 0h1m23 0h1m7 0h1m38 0h2m14 0h1m38 0h1M16 73h1m11 0h1m28 0h1m54 0h1m27 0h1m2 0h1m14 0h1m26 0h1m69 0h1M37 74h1m2 0h1m56 0h1m14 0h1m1 0h2m2 0h1m3 0h1M36 75h1m47 0h1m24 0h1m7 0h2m19 0h1m2 0h1m2 0h1m116 0h1M11 76h1m66 0h1m13 0h1m46 0h1m22 0h1m27 0h1m31 0h1M16 77h1m12 0h1m7 0h1m1 0h1m6 0h1m48 0h1m10 0h1m51 0h1m96 0h1M21 78h1m42 0h1m3 0h1m3 0h3m20 0h1m6 0h2m11 0h1m9 0h1m5 0h1m7 0h1m4 0h1m28 0h1m65 0h1m29 0h1M11 79h1m16 0h1m2 0h1m25 0h1m16 0h1m6 0h1m9 0h1m10 0h1m7 0h1M65 80h1m3 0h1m3 0h1m8 0h1m8 0h1m2 0h1m14 0h2m11 0h1m2 0h1m28 0h1M67 81h2m71 0h1m120 0h1M69 82h1m29 0h2m3 0h1m11 0h1m16 0h1m12 0h1m7 0h1m54 0h1m7 0h1m21 0h1m10 0h1M5 83h1m6 0h1m19 0h1m62 0h1m1 0h1m10 0h1m5 0h1m3 0h1m7 0h1m37 0h1m96 0h1M37 84h1m21 0h1m8 0h1m2 0h1m21 0h1m13 0h1m30 0h2m7 0h1M6 85h1m34 0h1m26 0h1m26 0h1m27 0h1m22 0h1M72 86h1m5 0h1m34 0h2m1 0h1m34 0h1M1 87h1m21 0h1m25 0h1m12 0h1m22 0h1m9 0h1m6 0h1m28 0h1m9 0h1m36 0h1m10 0h1m32 0h1m39 0h1M27 88h1m16 0h1m2 0h1m21 0h1m14 0h1m2 0h1m7 0h1m2 0h1m8 0h1m29 0h1m44 0h1m42 0h1M62 89h1m2 0h1m4 0h1m37 0h1m32 0h1m11 0h1m14 0h1m44 0h1M92 90h1m19 0h1m25 0h1m69 0h1m8 0h1m54 0h1M27 91h1m2 0h1m19 0h1m138 0h1m22 0h1m9 0h1m2 0h1M1 92h1m9 0h1m11 0h1m4 0h1m14 0h1m13 0h1m4 0h1m6 0h1m4 0h1m5 0h1m16 0h1m9 0h1m17 0h1m12 0h1m50 0h1M0 93h1m15 0h1m5 0h1m14 0h1m39 0h1m35 0h1m60 0h1m33 0h1m46 0h1m10 0h1M19 94h1m37 0h1m3 0h1m5 0h1m23 0h1m19 0h1m25 0h1m2 0h1m13 0h1m6 0h1m37 0h2m71 0h1M10 95h1m50 0h1m3 0h2m3 0h1m10 0h1m18 0h1m15 0h1m15 0h1m4 0h1m16 0h1m8 0h1m93 0h1M25 96h1m47 0h1m20 0h2m5 0h1m23 0h1m6 0h1m76 0h1m1 0h1m3 0h1M0 97h1m86 0h1m2 0h1m16 0h1m51 0h2m10 0h1m26 0h1M144 98h1m2 0h1m10 0h1m9 0h1m28 0h1m15 0h1M1 99h1m10 0h1m10 0h1m13 0h1m8 0h1m13 0h1m14 0h1m21 0h1m43 0h1m10 0h1m40 0h1"/>
<path stroke="#FFA589" d="M76 0h1m3 0h1m21 0h1m25 0h1m1 0h1m39 0h1m13 0h1m29 0h1m1 0h1m15 0h1m3 0h1M26 1h1m42 0h1m78 0h1m37 0h1m22 0h1M101 2h1m66 0h1m3 0h1m5 0h1m21 0h1m4 0h1m1 0h1m3 0h1m31 0h1m5 0h1m17 0h1M186 3h1m31 0h1m24 0h1m26 0h1m1 0h1M77 4h1m36 0h1m28 0h1m49 0h1m3 0h1m6 0h1m26 0h1M186 5h1m3 0h1m14 0h1m4 0h1m4 0h1m17 0h1m5 0h1m3 0h2m4 0h1m2 0h1m4 0h1m10 0h2M178 6h1m29 0h1m17 0h1m3 0h1m2 0h1m9 0h2m7 0h1M185 7h1m9 0h2m31 0h1m14 0h1m6 0h1m2 0h1m10 0h1m3 0h2m2 0h1M186 8h1m3 0h1m3 0h1m1 0h1m33 0h1m8 0h1m10 0h1m13 0h1M170 9h1m6 0h1m15 0h1m13 0h1m1 0h1m35 0h1m4 0h1m17 0h2M193 10h1m1 0h1m10 0h1m2 0h1m3 0h1m25 0h2m11 0h1M7 11h1m166 0h1m62 0h1m2 0h1m3 0h1M178 12h1m11 0h1m8 0h1m9 0h1m3 0h1m2 0h1m47 0h1M7 13h1m89 0h1m72 0h1m24 0h1m9 0h1m20 0h1m4 0h1m12 0h1m5 0h1M173 14h1m11 0h1m8 0h1m12 0h1m10 0h1m11 0h1m14 0h1M36 15h1m131 0h1m1 0h1m2 0h2m15 0h1m3 0h1m11 0h1m6 0h1m1 0h1m8 0h1m1 0h1m8 0h1m3 0h1m16 0h1m2 0h1m2 0h1m6 0h2M97 16h1m75 0h2m9 0h1m1 0h1m3 0h1m3 0h1m28 0h3m9 0h1m4 0h1m18 0h1m2 0h1M194 17h1m2 0h1m11 0h1m16 0h1m27 0h1m13 0h2M7 18h1m162 0h1m3 0h1m2 0h2m7 0h1m9 0h1m13 0h1m9 0h1m21 0h1m3 0h1m6 0h1M7 19h1m180 0h1m17 0h1m1 0h1m1 0h1m17 0h1m2 0h1m8 0h1m1 0h1m4 0h1m20 0h2M174 20h1m15 0h1m19 0h1m15 0h1m1 0h1m5 0h1m11 0h1m6 0h1m15 0h1M170 21h1m36 0h2m24 0h2m1 0h1m13 0h1m7 0h2m4 0h1M178 22h1m6 0h1m19 0h1m12 0h1m14 0h1m5 0h1m4 0h1m7 0h1M188 23h1m6 0h1m11 0h1m18 0h1m3 0h2m1 0h2m5 0h1m9 0h1m1 0h1m3 0h2m7 0h1M170 24h1m24 0h1m1 0h1m11 0h1m21 0h1m2 0h1m14 0h2m1 0h3m1 0h1M215 25h1m8 0h1m14 0h1m29 0h1M174 26h1m10 0h1m11 0h1m28 0h1m22 0h2m1 0h1m9 0h1m1 0h1m4 0h1M6 27h1m166 0h1m21 0h1m8 0h2m12 0h1m3 0h1m3 0h1m12 0h1m2 0h1m7 0h1m13 0h1M96 28h1m73 0h1m2 0h1m21 0h1m9 0h1m1 0h1m8 0h1m6 0h1m1 0h1m14 0h1m3 0h1m4 0h1m2 0h1M174 29h1m13 0h1m24 0h1m1 0h1m23 0h1M96 30h2m65 0h1m6 0h1m14 0h1m9 0h1m9 0h1m1 0h1m17 0h2m3 0h1m38 0h1M96 31h1m76 0h1m10 0h1m5 0h1m3 0h2m44 0h1m5 0h1m6 0h1M163 32h1m2 0h1m42 0h1m14 0h1m8 0h1m8 0h2m18 0h1m5 0h1M97 33h1m86 0h1m8 0h1m16 0h1m7 0h1m6 0h1m4 0h1m14 0h1m11 0h1m14 0h1M207 34h1m2 0h1m14 0h1m5 0h1m7 0h1M194 35h2m17 0h1m30 0h1m7 0h1M174 36h1m2 0h1m1 0h1m5 0h2m8 0h1m29 0h1m24 0h1M96 37h1m76 0h1m4 0h1m30 0h1m8 0h1m1 0h1m19 0h1m1 0h1m8 0h1m10 0h1M177 38h1m12 0h1m3 0h1m4 0h1m5 0h1m18 0h1m14 0h1m2 0h1m23 0h1M96 39h1m73 0h1m14 0h1m24 0h1m7 0h1m4 0h1m2 0h1m6 0h1m11 0h1m11 0h1M163 40h1m15 0h1m8 0h1m5 0h1m1 0h1m10 0h1m20 0h1m3 0h1m8 0h1m9 0h1m16 0h1M6 41h1m166 0h1m19 0h1m21 0h1m14 0h1M36 42h1m126 0h1m4 0h1m4 0h1m19 0h1m24 0h1m1 0h1m5 0h1m6 0h1m8 0h1m21 0h1m3 0h1M170 43h1m2 0h1m3 0h1m31 0h1m5 0h1m8 0h2m13 0h1m10 0h1m11 0h1m5 0h1M166 44h1m26 0h1m5 0h1m6 0h1m1 0h1m15 0h2m4 0h1m8 0h1m30 0h1M185 45h1m10 0h1m10 0h1m16 0h1m15 0h1m21 0h1m4 0h2M177 46h1m15 0h2m15 0h1m2 0h1m26 0h1m8 0h1m18 0h1m3 0h1M168 47h1m41 0h1m9 0h1m7 0h1m24 0h1m2 0h1m5 0h1m5 0h1M218 48h1m6 0h2m41 0h1M177 49h2m14 0h1m2 0h1m8 0h1m4 0h1m29 0h1m4 0h1m16 0h1M27 50h1m30 0h1m55 0h1m22 0h1m13 0h1M30 51h1m17 0h1m13 0h1m8 0h1m53 0h1m18 0h1m1 0h1m26 0h1m87 0h1M6 52h1m4 0h1m5 0h1m30 0h1m32 0h1m9 0h1m5 0h1m47 0h1m18 0h1m79 0h1M42 53h1m8 0h1m1 0h1m48 0h1m15 0h1m33 0h1m5 0h1m4 0h1m105 0h1M19 54h2m52 0h1m7 0h1m6 0h1m22 0h1m10 0h1m15 0h1m2 0h1m127 0h1M11 55h1m17 0h1m13 0h1m11 0h1m12 0h2m27 0h1M12 56h1m3 0h1m137 0h1m2 0h1m107 0h1M69 57h1m4 0h1m19 0h1m2 0h1m17 0h1m3 0h1m26 0h1m43 0h1M6 58h1m2 0h1m9 0h1m26 0h1m64 0h2m8 0h1m17 0h1m19 0h1m90 0h1M48 59h1m69 0h1m22 0h1m11 0h1m23 0h1m25 0h1M65 60h1m18 0h1m30 0h1m10 0h1M112 61h1m1 0h2m46 0h1m106 0h1M29 62h1m30 0h1m8 0h1m10 0h1m31 0h1m5 0h1M5 63h1m32 0h1m15 0h1m18 0h1m21 0h1m2 0h1m6 0h2m22 0h1m75 0h1M21 64h1m36 0h1m32 0h1m3 0h1m45 0h1m10 0h1M6 65h1m9 0h1m24 0h1m51 0h1m32 0h1m128 0h1m5 0h1M16 66h1m19 0h1m1 0h1m32 0h1m64 0h1M43 67h1m25 0h1m93 0h1m41 0h1M23 68h1m20 0h1m60 0h1m3 0h1m3 0h1m31 0h1m27 0h1M34 69h1m37 0h1m23 0h1m4 0h1m8 0h1m83 0h1M12 70h1m15 0h1m16 0h1m4 0h1m5 0h2m2 0h1m30 0h2m4 0h1m2 0h1m32 0h1m46 0h1M27 71h1m1 0h1m14 0h1m13 0h1m3 0h1m25 0h1m24 0h1m8 0h1m20 0h1m9 0h1M40 72h1m2 0h1m27 0h1m3 0h1m8 0h1m16 0h1m23 0h1m3 0h1m13 0h2M0 73h1m28 0h1m18 0h1m22 0h1m178 0h1m13 0h1M80 74h1m24 0h1m20 0h1m12 0h1m68 0h1M6 75h1m27 0h1m46 0h1m13 0h1M12 76h1m15 0h1m36 0h1m1 0h1m6 0h1m7 0h1m32 0h1m26 0h1m118 0h1m2 0h1M49 77h1m18 0h1m65 0h1m9 0h1m8 0h1M19 78h1m9 0h1m11 0h1m42 0h1m9 0h1m25 0h1m25 0h1m103 0h1m4 0h1M12 79h1m28 0h1m26 0h1m3 0h1m41 0h1m23 0h1M48 80h1m19 0h1m3 0h1m8 0h1m14 0h1m21 0h1m39 0h1m49 0h1m36 0h1M7 81h1m21 0h1m7 0h1m3 0h1m96 0h2m24 0h1m33 0h1M17 82h1m9 0h1m1 0h1m6 0h1m53 0h1m22 0h1m18 0h1m6 0h1m1 0h1m3 0h1m18 0h1M18 83h1m23 0h1m50 0h2m46 0h1m16 0h1M17 84h1m9 0h1m2 0h1m1 0h1m29 0h1m21 0h1m9 0h2m26 0h1m2 0h1m3 0h1m10 0h2m2 0h1M29 85h1m5 0h1m29 0h1m25 0h1m5 0h1m7 0h1m51 0h1m103 0h1M95 86h2m21 0h1m22 0h1m2 0h1m54 0h1M5 87h1m60 0h1m23 0h1m21 0h1m31 0h1m68 0h1m14 0h1m25 0h1m6 0h1m4 0h1M2 88h1m184 0h1m29 0h1m43 0h1M104 89h1M1 90h1m27 0h1m5 0h1m22 0h1m22 0h1m15 0h1m18 0h1m6 0h1m12 0h1m44 0h1M37 91h1m31 0h1m23 0h1m1 0h1m17 0h1m4 0h1m18 0h1m6 0h1M8 92h1m3 0h1m8 0h1m13 0h1m13 0h1m10 0h1m34 0h1m48 0h1m26 0h1m51 0h1M19 93h1m3 0h1m6 0h1m2 0h2m9 0h1m11 0h1m5 0h1m23 0h1m17 0h1m60 0h1M39 94h1m18 0h1m23 0h1m30 0h1m30 0h1m57 0h1m10 0h1m8 0h1M11 95h1m16 0h1m66 0h1m32 0h1m33 0h1m31 0h1m27 0h1M11 96h1m92 0h1m35 0h1m11 0h1M19 97h1m8 0h1m24 0h1m20 0h1m8 0h1m39 0h1m5 0h1m3 0h1M15 98h1m58 0h1m20 0h1m22 0h1m19 0h1m89 0h1m43 0h1M67 99h1m4 0h1m1 0h1m73 0h1m108 0h1"/>
<path stroke="#FF9779" d="M16 0h1m161 0h1m6 0h1M230 1h1m11 0h1m9 0h1M98 2h1m75 0h1m23 0h1M173 3h1m10 0h1m24 0h1M63 4h2m54 0h1m87 0h1m1 0h2m31 0h1M185 5h1m8 0h1m21 0h1m17 0h1m5 0h1M231 6h1m3 0h1m3 0h1m9 0h1m18 0h1M177 7h1m6 0h1m1 0h1m23 0h1m2 0h1m4 0h1m20 0h1m22 0h1M97 8h1m75 0h1m11 0h1m50 0h1m12 0h1m2 0h1m9 0h1M205 9h1m19 0h2m8 0h1m4 0h1m11 0h2M186 10h1m9 0h1m10 0h1m16 0h1m9 0h1m29 0h1m1 0h2m4 0h1M194 11h1m1 0h1m11 0h1m6 0h1m6 0h1m26 0h2M194 12h2m14 0h1m4 0h1m17 0h1m2 0h1m2 0h1m9 0h1M178 13h1M36 14h1m147 0h1m10 0h1m19 0h2m19 0h1m7 0h1m22 0h1M163 15h1m22 0h1m20 0h1m1 0h2m5 0h1m26 0h1m5 0h1m2 0h1m11 0h1M178 17h1m5 0h2m21 0h1m9 0h1m17 0h1m7 0h1m18 0h1M163 18h1m9 0h1m30 0h1m13 0h1m5 0h1m1 0h1m17 0h1M185 19h1m4 0h1m3 0h2m17 0h1m35 0h1m3 0h2M185 20h1m23 0h1m33 0h1M36 21h1m159 0h1m9 0h1m11 0h1m5 0h3m13 0h1m12 0h1m3 0h1M163 22h1m24 0h1m35 0h1m11 0h1m12 0h1m18 0h1M170 23h1m2 0h1m3 0h1m6 0h3m9 0h1m18 0h2m18 0h1m32 0h1M173 24h1m3 0h1m6 0h3m28 0h1m52 0h1M174 25h1m3 0h1m5 0h1m1 0h1m7 0h1m10 0h1m29 0h1m7 0h2M173 26h1m3 0h1m27 0h1m18 0h1m15 0h1m27 0h1M36 27h1m131 0h1m5 0h1m3 0h1m31 0h1M163 28h1m35 0h1m15 0h1m19 0h1M178 29h1m7 0h1m9 0h1m13 0h1m13 0h1m34 0h1m4 0h1M184 30h1m24 0h1m5 0h1m46 0h1M7 31h1m177 0h2m39 0h1m8 0h1M218 32h1m6 0h1m24 0h1M195 33h3m11 0h1m3 0h1m6 0h1M173 34h1m19 0h1m27 0h1m2 0h1m8 0h1m30 0h1M174 35h1m2 0h1m12 0h1m5 0h2m1 0h1m7 0h1m9 0h1m15 0h1M196 36h1m8 0h1m14 0h1m3 0h1m28 0h1m3 0h1m9 0h1M177 37h1m15 0h1m1 0h2m36 0h1m9 0h1m1 0h1m10 0h1m15 0h1M210 38h1m6 0h2m17 0h1m3 0h1m21 0h1M166 39h1m6 0h1m10 0h1m9 0h2m11 0h1m7 0h1m1 0h1m22 0h1m10 0h1m2 0h1m1 0h1M205 40h1m12 0h1m20 0h1m16 0h1M194 41h1m1 0h1m10 0h1m10 0h1m32 0h1M184 42h1m10 0h1m13 0h1m7 0h1m7 0h1M166 43h1m18 0h1m8 0h1m1 0h1m10 0h1m5 0h1m3 0h1m8 0h1m30 0h1M207 44h1m9 0h1m15 0h1m6 0h1m1 0h1m12 0h1m1 0h1m4 0h1m4 0h1M168 45h1m24 0h2m18 0h1m4 0h1m14 0h1m17 0h1M173 46h2m9 0h1m1 0h1m20 0h1m9 0h1m6 0h1M173 47h1m19 0h1m24 0h1m7 0h1m40 0h1M168 48h1m1 0h1m3 0h1m18 0h1m19 0h1m3 0h1m6 0h1m11 0h1m6 0h1m5 0h1m12 0h1M174 49h1m45 0h1m3 0h2m7 0h1m8 0h1m14 0h1M11 50h1m22 0h1m94 0h1m8 0h1m18 0h1m15 0h1m54 0h1M23 51h1m20 0h1m36 0h1M28 52h1m31 0h1m46 0h1m142 0h1M29 53h1m28 0h1m3 0h1m8 0h1m4 0h1m28 0h1m20 0h1m11 0h1m18 0h1M71 54h1M48 55h1m23 0h2m41 0h1M6 56h1m12 0h1m14 0h1m11 0h1m15 0h1m48 0h1M6 57h1m18 0h1m9 0h1m69 0h1m5 0h1m8 0h1M48 58h1m4 0h1m15 0h1m6 0h1m63 0h1M12 59h1m6 0h1m56 0h1m16 0h1m41 0h1m8 0h1M69 60h1m18 0h2m23 0h1M28 61h1m39 0h1m4 0h1m7 0h1m23 0h1m1 0h1m14 0h1M139 62h1m5 0h1m59 0h1M28 63h1m30 0h1m79 0h1m1 0h1M28 64h1m44 0h1m1 0h2m62 0h2M37 65h1m30 0h1m50 0h1m32 0h1m100 0h1M6 66h1m36 0h1m21 0h1m7 0h1m5 0h1m32 0h1m77 0h1M60 67h1m7 0h1m25 0h1m49 0h1M37 68h1m24 0h1m5 0h1m27 0h1m25 0h1m15 0h1M0 69h1m29 0h1m53 0h1m33 0h1m14 0h1M48 70h2m25 0h1m8 0h1m9 0h1m65 0h1M71 71h1m43 0h1m28 0h1m28 0h1M0 72h1m47 0h1m11 0h1m34 0h1m26 0h1M21 73h1m38 0h1m11 0h1m6 0h1m4 0h1m9 0h1m18 0h1m1 0h1m9 0h1m21 0h1m4 0h1M28 74h1m1 0h1m8 0h1m117 0h1m99 0h1M20 75h1m14 0h1m19 0h1m35 0h1m22 0h1m25 0h1m116 0h1M7 76h1m136 0h1m52 0h1M0 77h1m66 0h1m16 0h1m25 0h1m9 0h1M30 79h1m63 0h1m45 0h1m12 0h1M35 80h1m30 0h1m30 0h1m15 0h2m24 0h1m6 0h1m8 0h1M36 81h1m36 0h1m6 0h1m15 0h1m36 0h1M29 83h1m54 0h1M118 84h1m30 0h1M81 85h1m2 0h1m15 0h1m12 0h1m21 0h1m2 0h1m23 0h1M71 86h1M15 87h1m24 0h1m29 0h1m69 0h1m19 0h1M6 88h1m30 0h1M1 89h3m44 0h1m6 0h1m42 0h1m26 0h1m131 0h1M11 90h1m30 0h1m19 0h1m9 0h1m44 0h1M71 91h1m16 0h1m49 0h1m7 0h1M0 92h1m70 0h1m28 0h1m28 0h1m114 0h1M5 93h1m23 0h1m5 0h1m6 0h1m82 0h1m15 0h1m36 0h1m41 0h1M15 94h1m12 0h1m8 0h1m52 0h1M182 95h1m79 0h1M72 96h1m34 0h1m27 0h1m32 0h1m93 0h1M9 97h1m32 0h1m23 0h1m178 0h1m15 0h1M11 98h1m78 0h1m12 0h1m53 0h1M16 99h1m82 0h1m25 0h1m5 0h1"/>
<path stroke="#FF8969" d="M215 0h1m33 0h1M173 1h1m40 0h1M143 2h1m69 0h1m49 0h1m4 0h1M226 3h1m22 0h1m6 0h1M163 4h1m26 0h1m34 0h1m17 0h1M173 5h1m22 0h1m2 0h1m17 0h2m5 0h1M173 6h1m11 0h2m20 0h1m26 0h1m5 0h1m1 0h1m7 0h1M174 7h1m15 0h1m26 0h1m6 0h1m9 0h3m3 0h1m5 0h1m5 0h1m1 0h1M174 8h1m9 0h1m46 0h1m11 0h1M194 9h1m15 0h1m5 0h1m26 0h2m1 0h1m7 0h1M173 10h1m3 0h1m12 0h1m19 0h1m4 0h2m14 0h1m4 0h1m6 0h1m5 0h1m18 0h1M170 11h1m39 0h1m2 0h1m25 0h1M7 12h1m165 0h2m9 0h2m10 0h1m27 0h1m15 0h1M163 13h1m21 0h1m10 0h1m10 0h1m7 0h1m19 0h1m26 0h1M186 14h1m9 0h1m20 0h1m22 0h1m2 0h1m18 0h1M184 15h1m33 0h1m15 0h1m11 0h1m21 0h1M199 16h1m10 0h1m4 0h1m53 0h1M186 17h1m37 0h1m15 0h1M209 18h1m5 0h2m22 0h1m17 0h1m6 0h1m4 0h1M174 19h1m9 0h1m11 0h1m29 0h1m8 0h1m3 0h1m3 0h1M173 20h1m43 0h1m12 0h2m7 0h1m28 0h1M174 21h1m3 0h1m7 0h1m8 0h1M36 22h1m149 0h1m8 0h1m47 0h1m18 0h1m1 0h1M178 23h1m26 0h1m3 0h2m13 0h1m11 0h1m5 0h1m26 0h1M178 24h1m17 0h1m8 0h1m19 0h1m9 0h1m3 0h1m29 0h1M185 25h1m31 0h1m12 0h1m5 0h1m3 0h1m27 0h1M209 26h2M186 27h1m12 0h1m7 0h1m7 0h1m8 0h1m9 0h1m5 0h1m8 0h1m12 0h1m5 0h1M178 28h1m5 0h2m10 0h1m20 0h1m18 0h1m2 0h1m24 0h1M190 29h1m3 0h1m40 0h1m7 0h1M173 30h1m3 0h1m8 0h1m3 0h1m15 0h1m3 0h1m28 0h2m2 0h1m8 0h1M224 31h1m11 0h1m12 0h1m12 0h1M190 32h1m16 0h1m2 0h1m38 0h1m7 0h1M173 33h1m20 0h1m10 0h1m27 0h1m17 0h1M184 34h2m8 0h1m41 0h1m3 0h1m8 0h1m1 0h1M205 35h1m2 0h1m40 0h1m6 0h1M207 36h1m56 0h1M210 37h1m2 0h1M184 38h1m22 0h1m7 0h1m17 0h1m17 0h1M177 39h1m8 0h1m6 0h1m2 0h1m42 0h1m22 0h1M213 40h1m3 0h1m6 0h1m28 0h1M174 41h1m15 0h1m22 0h1m10 0h2m23 0h1M170 42h1m15 0h1m23 0h1m4 0h1m8 0h1m14 0h2m10 0h1m5 0h1M174 43h1M195 44h1m13 0h1m39 0h1m18 0h1M174 45h1m74 0h1m6 0h2M195 46h2m18 0h1m20 0h1m2 0h1m17 0h1M177 47h1m8 0h1m9 0h1m39 0h1m12 0h1M195 48h1m43 0h1M215 49h1m2 0h1m49 0h1M62 50h1m18 0h1m65 0h1m16 0h1M34 51h1m11 0h1m91 0h1m1 0h1M72 52h1m73 0h1m81 0h1M11 54h1m29 0h1m19 0h1m54 0h1m36 0h1M28 55h1m109 0h1m8 0h1M28 56h1m44 0h1m2 0h1m14 0h1m52 0h1m124 0h1M0 57h1m139 0h1M0 58h1m26 0h1m40 0h1m80 0h1M17 59h1m54 0h1m8 0h1M46 60h1m67 0h1M34 61h1m56 0h1m60 0h1M72 62h1m42 0h1m30 0h1M84 63h1m12 0h1m18 0h1m36 0h1m3 0h1M0 64h1m42 0h1m16 0h1m52 0h1M34 65h1m5 0h1m10 0h1m66 0h1m22 0h1M55 66h1m34 0h1m3 0h2m48 0h1m28 0h1m87 0h1M37 67h1m52 0h1M46 68h1m68 0h1M22 69h1m12 0h1m26 0h1m81 0h1m28 0h1M62 70h1m9 0h1m39 0h1m9 0h1M48 71h1m23 0h1m117 0h1M96 72h1m41 0h1m13 0h1m20 0h1M68 73h1M36 74h1m8 0h1m11 0h1m5 0h1m5 0h1m24 0h1M28 75h1M72 76h1m43 0h1m23 0h1m17 0h1M12 77h1m4 0h1m51 0h1M34 79h1m13 0h1M45 80h1M50 81h1m30 0h1M34 82h1M28 83h1m53 0h1m70 0h1m59 0h1M36 84h1m59 0h1M32 85h1m29 0h1m8 0h1m1 0h1m18 0h1m60 0h1M62 86h1m6 0h1m68 0h1M39 87h1m113 0h1m9 0h1m60 0h1M35 88h1m141 0h1m94 0h1M5 89h2m67 0h1m26 0h1m10 0h1m82 0h1M19 90h1M20 91h1m11 0h1m10 0h1m35 0h1m36 0h1m60 0h1M16 92h1m71 0h1M95 93h1m12 0h1m158 0h1M138 94h1M34 95h1m37 0h1m53 0h1M213 96h1M12 97h1m7 0h1m51 0h1m27 0h1M57 98h1m166 0h1m39 0h1M6 99h1m27 0h1"/>
<path stroke="#FF7B5A" d="M204 1h2M174 3h1m23 0h1m12 0h1M184 5h1m22 0h1m28 0h1m25 0h1M184 6h1m39 0h1m37 0h1M209 7h1m39 0h1M240 8h1M174 9h1m3 0h1m17 0h1m16 0h1m1 0h1m8 0h1m11 0h1m2 0h1m9 0h1m12 0h1M96 10h1m77 0h1m94 0h1M184 11h1m24 0h1m7 0h1m36 0h1M186 12h1m48 0h1m7 0h1m18 0h1M186 13h1m7 0h1m13 0h1m1 0h1m13 0h1m14 0h1m3 0h1M209 14h1m21 0h1M185 15h1m50 0h1M206 16h1m2 0h1m26 0h1m12 0h1M174 17h1m35 0h1m25 0h1M184 18h1m28 0h1m17 0h1m4 0h1m3 0h1m2 0h1m5 0h1M173 19h1m35 0h1m5 0h1m46 0h1M196 20h1m10 0h1m16 0h1m24 0h1M184 21h1m54 0h1m3 0h1m5 0h1m12 0h1M174 23h1m15 0h1m26 0h1M190 24h1m16 0h1m25 0h1m2 0h1m3 0h1m21 0h1M264 25h1M184 26h1m9 0h1m22 0h1m18 0h1m6 0h1M194 27h1m1 0h1m12 0h1m49 0h1M190 28h1m19 0h1M236 29h1M174 30h1m3 0h1m15 0h1m22 0h1m6 0h1m6 0h1M210 31h1m28 0h1M174 32h1m11 0h1m6 0h1m19 0h1m22 0h1m14 0h1M186 33h1m3 0h1m16 0h1m7 0h1m1 0h1m17 0h1m3 0h1m2 0h1M186 34h1m8 0h1m54 0h1M184 35h1m30 0h1m20 0h1M190 36h1m24 0h1m20 0h1m2 0h1M174 37h1m19 0h1m2 0h1m9 0h1m16 0h1m28 0h1M186 38h1m8 0h1m8 0h1M224 39h2M173 40h2m11 0h1m8 0h1m73 0h1M210 41h1m25 0h1M174 42h1m2 0h1m12 0h1M186 43h1m3 0h1M173 44h1m10 0h1m1 0h1m18 0h1m7 0h1m1 0h1m34 0h1M217 45h1m2 0h1m15 0h1m5 0h1M174 47h1m9 0h1m5 0h1m3 0h2m21 0h1m7 0h1M190 48h1m24 0h1M190 49h1m58 0h1M0 51h1m18 0h1m9 0h1m38 0h1m3 0h1m38 0h1m1 0h1m1 0h1m2 0h1m7 0h1m25 0h1M62 52h1m8 0h1m42 0h1m25 0h1m3 0h1m15 0h1M72 53h1m67 0h1m103 0h1M17 54h1m51 0h1m2 0h1m71 0h1m19 0h1M62 55h1M37 56h1m46 0h1m28 0h1m12 0h1m11 0h1m123 0h1M9 57h1m9 0h1m35 0h1m91 0h1M28 58h1m38 0h1M35 59h1m208 0h1m5 0h1M6 60h1m27 0h1m67 0h1m15 0h1m35 0h1M62 61h1M97 62h1m66 0h1M0 63h1m5 0h1m10 0h1m9 0h1m20 0h1m11 0h1m85 0h1M29 64h1m4 0h1m34 0h1M49 65h1M34 66h1m14 0h1m41 0h1m23 0h1m81 0h1M113 67h1m26 0h1m19 0h1m29 0h1M29 68h1m4 0h1m49 0h1M45 69h1M71 70h1m90 0h1M68 71h2m24 0h1m34 0h1M37 72h1m11 0h1m65 0h1M173 73h1M68 74h1m15 0h1M81 76h1M72 77h1m43 0h2M140 78h1M116 79h2m8 0h1m5 0h1M28 80h1m111 0h1M117 81h1M37 83h1M0 85h1m11 0h1m99 0h1m26 0h1M82 86h1m11 0h1m44 0h2M202 88h1M53 89h1m90 0h1M53 90h1m100 0h1m40 0h1M61 91h1m3 0h1M112 92h1M79 93h1M11 94h1m67 0h1m128 0h1M23 95h1m31 0h1M81 96h1m179 0h1M11 97h1m55 0h1m50 0h1m16 0h1m133 0h1M72 98h1m28 0h1"/>
<path stroke="#FF6C4A" d="M245 1h1M210 3h1m3 0h1M178 4h1M209 5h1M190 6h1m18 0h2m4 0h1M224 8h1M173 9h1m11 0h2m3 0h1m26 0h1M184 10h1M186 11h1m3 0h1m16 0h1m16 0h1m1 0h1m35 0h1M217 12h1M174 13h1m9 0h1m51 0h1M174 14h1m74 0h1M217 16h1m21 0h1M215 17h1M190 18h1M224 19h1m11 0h1M236 20h1m25 0h1M194 21h1M194 22h1m1 0h1m20 0h1M262 23h1M174 24h1m19 0h1m29 0h1M210 25h1M215 26h1M190 27h1M174 28h1m19 0h1M217 29h1M268 30h1M217 31h1M184 32h1m54 0h1M236 33h1m12 0h1M174 34h1m42 0h1M186 35h1M184 36h1m32 0h1m31 0h1M225 37h1m23 0h1M174 39h1m15 0h1m45 0h1m12 0h2M177 40h1m6 0h1M186 41h1m8 0h1M236 43h1M194 44h1m1 0h1m23 0h1M186 45h1m28 0h1M215 47h1m8 0h1m14 0h1M186 48h1M166 49h1m19 0h1m8 0h1m40 0h1m2 0h1M29 50h1m83 0h1M6 51h1M0 52h1m112 0h1M11 53h1m83 0h1M28 54h1m31 0h1m23 0h1M10 55h1m217 0h1M29 56h1m18 0h1m20 0h1m65 0h1M16 57h1m55 0h1m22 0h1M16 58h1m55 0h1M27 59h1m67 0h1m56 0h1M29 60h1m42 0h1M157 61h1M11 62h1m22 0h1M9 63h1m52 0h1m77 0h1M19 64h1m52 0h1M12 65h1m78 0h1m68 0h1m89 0h1M28 66h1m84 0h1M118 68h1M37 69h1m100 0h1M23 70h1m5 0h1m43 0h1m66 0h1M28 71h1m109 0h1m21 0h1M107 72h1m52 0h1M144 73h1M50 76h1M59 77h1m2 0h1m31 0h1M37 79h1M29 80h1m32 0h1M6 83h1m1 0h1m131 0h1M9 85h1m43 0h1M81 86h1M228 88h1M81 93h1M97 94h1m111 0h1M47 96h1M97 97h1M138 99h1m26 0h1"/>
<path stroke="#FF5B3A" d="M235 0h1M210 1h1M249 4h1M174 6h1m21 0h1M194 7h1M196 15h1m20 0h1M239 17h1m9 0h1M217 18h1m44 0h1M186 19h1m30 0h1M194 20h1M184 22h1M249 23h1M210 24h1M262 25h1M184 27h1m32 0h1M236 30h1m12 0h1M215 32h1M174 33h1m2 0h1m46 0h1M177 34h1m12 0h1m5 0h1m18 0h1M184 37h1m1 0h1m3 0h1m24 0h1m23 0h1M196 38h1m52 0h1M193 40h1m21 0h1M236 42h1M190 44h1m45 0h1M184 49h1M141 52h1M114 53h1m10 0h1M140 54h1m11 0h1M152 55h1M38 56h1m33 0h1m67 0h1M17 57h1m50 0h1M17 58h1m96 0h1m3 0h1M29 59h1m67 0h1M28 60h1M6 61h1M69 63h1M62 65h1m40 0h1M140 66h1m19 0h1M115 69h1m46 0h1m87 0h1M101 70h1m16 0h1m25 0h1M68 72h2M129 73h1M140 74h1M84 76h1M81 77h1M62 81h1m68 0h1M68 82h1M72 83h1m23 0h1M140 85h1M97 89h1m22 0h1M81 92h1M97 95h1m16 0h1m98 0h1M140 97h1M71 98h1"/>
<path stroke="#FF482A" d="M242 0h1M217 6h1m18 0h1M217 8h1M217 10h1m44 0h1M217 13h1M190 17h1M194 18h1M194 23h1M217 24h1M236 37h1M207 42h1m41 0h1M207 47h1M72 50h1M43 53h1M113 54h1M152 56h1M48 57h1m64 0h1m12 0h1M73 58h1m42 0h1M29 61h1m18 0h1M73 62h1m66 0h1M23 66h1M140 68h1M162 72h1M158 75h1M96 76h1M144 83h1M114 85h1M72 88h1M261 90h1M163 92h1M62 98h1M62 99h1"/>
<path stroke="#FF3118" d="M194 6h1M194 10h1M224 14h1M249 40h1M29 52h1M144 53h1M29 57h1m72 0h1M62 59h1m50 0h1M140 60h1M140 61h1M138 66h1M100 72h1m39 0h1M102 83h1M11 88h1M144 97h1"/>
<path stroke="#FF0000" d="M196 30h1M174 44h1M164 51h1M34 53h1M152 58h1M140 59h1M29 63h1M113 65h1M34 67h1M28 68h1M65 72h1M105 77h1M29 79h1M138 80h1M60 94h1"/>
</g>
<defs><linearGradient id="hg" x1="0" y1="0" x2="0" y2="1">
<stop offset="0.0000" stop-color="#FF0000"/><stop offset="0.0250" stop-color="#FF0000"/><stop offset="0.0500" stop-color="#FF0000"/><stop offset="0.0750" stop-color="#FF0000"/><stop offset="0.1000" stop-color="#FF0000"/><stop offset="0.1250" stop-color="#FF0000"/><stop offset="0.1500" stop-color="#FF0000"/><stop offset="0.1750" stop-color="#FF2E16"/><stop offset="0.2000" stop-color="#FF482A"/><stop offset="0.2250" stop-color="#FF5C3B"/><stop offset="0.2500" stop-color="#FF6E4D"/><stop offset="0.2750" stop-color="#FF7E5E"/><stop offset="0.3000" stop-color="#FF8E6F"/><stop offset="0.3250" stop-color="#FF9D80"/><stop offset="0.3500" stop-color="#FFAC92"/><stop offset="0.3750" stop-color="#FFBAA4"/><stop offset="0.4000" stop-color="#FFC8B6"/><stop offset="0.4250" stop-color="#FFD6C8"/><stop offset="0.4500" stop-color="#FFE4DB"/><stop offset="0.4750" stop-color="#FFF2ED"/><stop offset="0.5000" stop-color="#FEFEFF"/><stop offset="0.5250" stop-color="#F5EDFF"/><stop offset="0.5500" stop-color="#EBDCFF"/><stop offset="0.5750" stop-color="#E0CBFF"/><stop offset="0.6000" stop-color="#D5BAFF"/><stop offset="0.6250" stop-color="#C9A9FF"/><stop offset="0.6500" stop-color="#BD99FF"/><stop offset="0.6750" stop-color="#B088FF"/><stop offset="0.7000" stop-color="#A277FF"/><stop offset="0.7250" stop-color="#9367FF"/><stop offset="0.7500" stop-color="#8356FF"/><stop offset="0.7750" stop-color="#6F44FF"/><stop offset="0.8000" stop-color="#5831FF"/><stop offset="0.8250" stop-color="#371AFF"/><stop offset="0.8500" stop-color="#0000FF"/><stop offset="0.8750" stop-color="#0000FF"/><stop offset="0.9000" stop-color="#0000FF"/><stop offset="0.9250" stop-color="#0000FF"/><stop offset="0.9500" stop-color="#0000FF"/><stop offset="0.9750" stop-color="#0000FF"/><stop offset="1.0000" stop-color="#0000FF"/></linearGradient></defs>
<rect x="1436.8" y="49.8" width="20" height="97.4" fill="url(#hg)"/>
<text x="1463.2" y="58.9" font-size="19.4" fill="#000" stroke="#fff" stroke-width="0.1">4</text>
<text x="1463.2" y="81.2" font-size="19.4" fill="#000" stroke="#fff" stroke-width="0.1">2</text>
<text x="1463.2" y="103.5" font-size="19.4" fill="#000" stroke="#fff" stroke-width="0.1">0</text>
<text x="1460.4" y="125.8" font-size="19.4" fill="#000" stroke="#fff" stroke-width="0.1"><tspan>−</tspan><tspan dx="-0.9">2</tspan></text>
<text x="1460.4" y="148.1" font-size="19.4" fill="#000" stroke="#fff" stroke-width="0.1"><tspan>−</tspan><tspan dx="-0.9">4</tspan></text>
<path d="M1436.8,53.7h4.4M1456.8,53.7h-4.4M1436.8,76h4.4M1456.8,76h-4.4M1436.8,98.3h4.4M1456.8,98.3h-4.4M1436.8,120.6h4.4M1456.8,120.6h-4.4M1436.8,142.9h4.4M1456.8,142.9h-4.4" stroke="#fff" stroke-width="1.7" fill="none"/>
<text x="1436.3" y="182.5" font-size="21.6" fill="#000" stroke="#fff" stroke-width="0.1" font-weight="bold">Groups</text>
<rect x="1436.8" y="194" width="15.4" height="15.4" fill="#238584"/>
<rect x="1436.8" y="217.4" width="15.4" height="15.4" fill="#E96F6F"/>
<text x="1458.5" y="208.3" font-size="19.3" fill="#000" stroke="#fff" stroke-width="0.1">High mRNAsi</text>
<text x="1458.5" y="231.7" font-size="19.3" fill="#000" stroke="#fff" stroke-width="0.1">Low mRNAsi</text></g>
<g id="panelC"><rect x="416.4" y="749.3" width="254" height="211.2" fill="#fff"/>
<path d="M464.52,749.3V960.5M538.95,749.3V960.5M613.38,749.3V960.5" stroke="#E9E9E9" stroke-width="1.2" fill="none"/>
<path d="M427.3,749.3V960.5M501.73,749.3V960.5M576.17,749.3V960.5M650.6,749.3V960.5M416.4,764.07H670.4M416.4,790.02H670.4M416.4,815.98H670.4M416.4,841.92H670.4M416.4,867.88H670.4M416.4,893.82H670.4M416.4,919.77H670.4M416.4,945.73H670.4" stroke="#E9E9E9" stroke-width="2.4" fill="none"/>
<rect x="427.3" y="752.53" width="167.48" height="23.1" fill="#FF0000"/>
<text font-size="19.6" fill="#000" stroke="#fff" stroke-width="0.1" text-anchor="end" transform="translate(411.3 769.37) scale(1 0.955)"><tspan>extracellular matrix organization</tspan></text>
<rect x="427.3" y="778.48" width="167.48" height="23.1" fill="#FF0000"/>
<text font-size="19.6" fill="#000" stroke="#fff" stroke-width="0.1" text-anchor="end" transform="translate(411.3 795.32) scale(1 0.955)"><tspan>extracellular structure organization</tspan></text>
<rect x="427.3" y="804.43" width="167.48" height="23.1" fill="#FF0000"/>
<text font-size="19.6" fill="#000" stroke="#fff" stroke-width="0.1" text-anchor="end" transform="translate(411.3 821.27) scale(1 0.955)"><tspan>external encapsulating structure organization</tspan></text>
<rect x="427.3" y="830.38" width="70.71" height="23.1" fill="#FF0000"/>
<text font-size="19.6" fill="#000" stroke="#fff" stroke-width="0.1" text-anchor="end" transform="translate(411.3 847.22) scale(1 0.955)"><tspan>collagen fibril organization</tspan></text>
<rect x="427.3" y="856.33" width="81.88" height="23.1" fill="#FF0000"/>
<text font-size="19.6" fill="#000" stroke="#fff" stroke-width="0.1" text-anchor="end" transform="translate(411.3 873.17) scale(1 0.955)"><tspan>connective tissue development</tspan></text>
<rect x="427.3" y="882.28" width="59.55" height="23.1" fill="#FF0000"/>
<text font-size="19.6" fill="#000" stroke="#fff" stroke-width="0.1" text-anchor="end" transform="translate(411.3 899.12) scale(1 0.955)"><tspan>collagen metabolic process</tspan></text>
<rect x="427.3" y="908.23" width="48.38" height="23.1" fill="#FF0000"/>
<text font-size="19.6" fill="#000" stroke="#fff" stroke-width="0.1" text-anchor="end" transform="translate(411.3 925.07) scale(1 0.955)"><tspan>endoderm formation</tspan></text>
<rect x="427.3" y="934.18" width="44.66" height="23.1" fill="#FF0000"/>
<text font-size="19.6" fill="#000" stroke="#fff" stroke-width="0.1" text-anchor="end" transform="translate(411.3 951.02) scale(1 0.955)"><tspan>endodermal cell differentiation</tspan></text>
<path d="M412.1,764.07H416.4M412.1,790.02H416.4M412.1,815.98H416.4M412.1,841.92H416.4M412.1,867.88H416.4M412.1,893.82H416.4M412.1,919.77H416.4M412.1,945.73H416.4" stroke="#333333" stroke-width="2.4" fill="none"/>
<rect x="670.4" y="749.3" width="21.1" height="211.2" fill="#D9D9D9" stroke="#333333" stroke-width="1.6"/>
<rect x="416.4" y="749.3" width="254" height="211.2" fill="none" stroke="#333333" stroke-width="1.6"/>
<path d="M670.2,748.5V961.3" stroke="#333333" stroke-width="2.9" fill="none"/>
<text font-size="17.3" fill="#1A1A1A" stroke="#D9D9D9" stroke-width="0.1" text-anchor="middle" transform="translate(677 858.6) rotate(90)">BP</text>
<rect x="416.4" y="968.8" width="254" height="211.2" fill="#fff"/>
<path d="M464.52,968.8V1180M538.95,968.8V1180M613.38,968.8V1180" stroke="#E9E9E9" stroke-width="1.2" fill="none"/>
<path d="M427.3,968.8V1180M501.73,968.8V1180M576.17,968.8V1180M650.6,968.8V1180M416.4,983.58H670.4M416.4,1009.53H670.4M416.4,1035.48H670.4M416.4,1061.43H670.4M416.4,1087.38H670.4M416.4,1113.33H670.4M416.4,1139.28H670.4M416.4,1165.23H670.4" stroke="#E9E9E9" stroke-width="2.4" fill="none"/>
<rect x="427.3" y="972.03" width="231.12" height="23.1" fill="#FF0000"/>
<text font-size="19.6" fill="#000" stroke="#fff" stroke-width="0.1" text-anchor="end" transform="translate(411.3 988.88) scale(1 0.955)"><tspan>collagen</tspan><tspan dx="0.2">−</tspan><tspan dx="0.2">containing extracellular matrix</tspan></text>
<rect x="427.3" y="997.98" width="81.88" height="23.1" fill="#FF0000"/>
<text font-size="19.6" fill="#000" stroke="#fff" stroke-width="0.1" text-anchor="end" transform="translate(411.3 1014.83) scale(1 0.955)"><tspan>collagen trimer</tspan></text>
<rect x="427.3" y="1023.93" width="93.04" height="23.1" fill="#FF0000"/>
<text font-size="19.6" fill="#000" stroke="#fff" stroke-width="0.1" text-anchor="end" transform="translate(411.3 1040.78) scale(1 0.955)"><tspan>endoplasmic reticulum lumen</tspan></text>
<rect x="427.3" y="1049.88" width="33.5" height="23.1" fill="#FF0000"/>
<text font-size="19.6" fill="#000" stroke="#fff" stroke-width="0.1" text-anchor="end" transform="translate(411.3 1066.73) scale(1 0.955)"><tspan>fibrillar collagen trimer</tspan></text>
<rect x="427.3" y="1075.83" width="33.5" height="23.1" fill="#FF0000"/>
<text font-size="19.6" fill="#000" stroke="#fff" stroke-width="0.1" text-anchor="end" transform="translate(411.3 1092.67) scale(1 0.955)"><tspan>banded collagen fibril</tspan></text>
<rect x="427.3" y="1101.78" width="59.55" height="23.1" fill="#FF0000"/>
<text font-size="19.6" fill="#000" stroke="#fff" stroke-width="0.1" text-anchor="end" transform="translate(411.3 1118.62) scale(1 0.955)"><tspan>basement membrane</tspan></text>
<rect x="427.3" y="1127.73" width="37.22" height="23.1" fill="#FF0000"/>
<text font-size="19.6" fill="#000" stroke="#fff" stroke-width="0.1" text-anchor="end" transform="translate(411.3 1144.58) scale(1 0.955)"><tspan>complex of collagen trimers</tspan></text>
<rect x="427.3" y="1153.68" width="29.77" height="23.1" fill="#0000FF"/>
<text font-size="19.6" fill="#000" stroke="#fff" stroke-width="0.1" text-anchor="end" transform="translate(411.3 1170.53) scale(1 0.955)"><tspan>platelet alpha granule</tspan></text>
<path d="M412.1,983.58H416.4M412.1,1009.53H416.4M412.1,1035.48H416.4M412.1,1061.43H416.4M412.1,1087.38H416.4M412.1,1113.33H416.4M412.1,1139.28H416.4M412.1,1165.23H416.4" stroke="#333333" stroke-width="2.4" fill="none"/>
<rect x="670.4" y="968.8" width="21.1" height="211.2" fill="#D9D9D9" stroke="#333333" stroke-width="1.6"/>
<rect x="416.4" y="968.8" width="254" height="211.2" fill="none" stroke="#333333" stroke-width="1.6"/>
<path d="M670.2,968V1180.8" stroke="#333333" stroke-width="2.9" fill="none"/>
<text font-size="17.3" fill="#1A1A1A" stroke="#D9D9D9" stroke-width="0.1" text-anchor="middle" transform="translate(677 1078.1) rotate(90)">CC</text>
<rect x="416.4" y="1189" width="254" height="211" fill="#fff"/>
<path d="M464.52,1189V1400M538.95,1189V1400M613.38,1189V1400" stroke="#E9E9E9" stroke-width="1.2" fill="none"/>
<path d="M427.3,1189V1400M501.73,1189V1400M576.17,1189V1400M650.6,1189V1400M416.4,1203.67H670.4M416.4,1229.62H670.4M416.4,1255.58H670.4M416.4,1281.53H670.4M416.4,1307.47H670.4M416.4,1333.42H670.4M416.4,1359.38H670.4M416.4,1385.33H670.4" stroke="#E9E9E9" stroke-width="2.4" fill="none"/>
<rect x="427.3" y="1192.13" width="160.03" height="23.1" fill="#FF0000"/>
<text font-size="19.6" fill="#000" stroke="#fff" stroke-width="0.1" text-anchor="end" transform="translate(411.3 1208.97) scale(1 0.955)"><tspan>extracellular matrix structural constituent</tspan></text>
<rect x="427.3" y="1218.08" width="81.88" height="23.1" fill="#FF0000"/>
<text font-size="19.6" fill="#000" stroke="#fff" stroke-width="0.1" text-anchor="end" transform="translate(411.3 1234.92) scale(1 0.955)"><tspan>collagen binding</tspan></text>
<rect x="427.3" y="1244.03" width="55.83" height="23.1" fill="#FF0000"/>
<text font-size="19.6" fill="#000" stroke="#fff" stroke-width="0.1" text-anchor="end" transform="translate(411.3 1252.17) scale(1 0.955)"><tspan>extracellular matrix structural constituent</tspan></text>
<text font-size="19.6" fill="#000" stroke="#fff" stroke-width="0.1" text-anchor="end" transform="translate(411.3 1269.17) scale(1 0.955)"><tspan>conferring tensile strength</tspan></text>
<rect x="427.3" y="1269.98" width="85.6" height="23.1" fill="#FF0000"/>
<text font-size="19.6" fill="#000" stroke="#fff" stroke-width="0.1" text-anchor="end" transform="translate(411.3 1286.83) scale(1 0.955)"><tspan>glycosaminoglycan binding</tspan></text>
<rect x="427.3" y="1295.93" width="48.38" height="23.1" fill="#FF0000"/>
<text font-size="19.6" fill="#000" stroke="#fff" stroke-width="0.1" text-anchor="end" transform="translate(411.3 1312.77) scale(1 0.955)"><tspan>extracellular matrix binding</tspan></text>
<rect x="427.3" y="1321.88" width="63.27" height="23.1" fill="#FF0000"/>
<text font-size="19.6" fill="#000" stroke="#fff" stroke-width="0.1" text-anchor="end" transform="translate(411.3 1338.72) scale(1 0.955)"><tspan>integrin binding</tspan></text>
<rect x="427.3" y="1347.83" width="63.27" height="23.1" fill="#FF0000"/>
<text font-size="19.6" fill="#000" stroke="#fff" stroke-width="0.1" text-anchor="end" transform="translate(411.3 1364.67) scale(1 0.955)"><tspan>heparin binding</tspan></text>
<rect x="427.3" y="1373.78" width="55.83" height="23.1" fill="#FF0000"/>
<text font-size="19.6" fill="#000" stroke="#fff" stroke-width="0.1" text-anchor="end" transform="translate(411.3 1390.62) scale(1 0.955)"><tspan>growth factor binding</tspan></text>
<path d="M412.1,1203.67H416.4M412.1,1229.62H416.4M412.1,1255.58H416.4M412.1,1281.53H416.4M412.1,1307.47H416.4M412.1,1333.42H416.4M412.1,1359.38H416.4M412.1,1385.33H416.4" stroke="#333333" stroke-width="2.4" fill="none"/>
<rect x="670.4" y="1189" width="21.1" height="211" fill="#D9D9D9" stroke="#333333" stroke-width="1.6"/>
<rect x="416.4" y="1189" width="254" height="211" fill="none" stroke="#333333" stroke-width="1.6"/>
<path d="M670.2,1188.2V1400.8" stroke="#333333" stroke-width="2.9" fill="none"/>
<text font-size="17.3" fill="#1A1A1A" stroke="#D9D9D9" stroke-width="0.1" text-anchor="middle" transform="translate(677 1298.2) rotate(90)">MF</text>
<text x="426.9" y="1423.3" font-size="19.6" fill="#000" stroke="#fff" stroke-width="0.12" text-anchor="middle">0</text>
<text x="501.33" y="1423.3" font-size="19.6" fill="#000" stroke="#fff" stroke-width="0.12" text-anchor="middle">20</text>
<text x="575.77" y="1423.3" font-size="19.6" fill="#000" stroke="#fff" stroke-width="0.12" text-anchor="middle">40</text>
<text x="650.2" y="1423.3" font-size="19.6" fill="#000" stroke="#fff" stroke-width="0.12" text-anchor="middle">60</text>
<path d="M427.3,1400V1404.5M501.73,1400V1404.5M576.17,1400V1404.5M650.6,1400V1404.5" stroke="#333333" stroke-width="2.4" fill="none"/>
<text font-size="22.3" fill="#000" stroke="#fff" stroke-width="0.12" text-anchor="middle" transform="translate(550.2 1440.6) scale(1 1.05)">Count</text>
<defs><linearGradient id="pg" x1="0" y1="0" x2="0" y2="1"><stop offset="0.00" stop-color="#FF0000"/><stop offset="0.05" stop-color="#FB001A"/><stop offset="0.10" stop-color="#F6002A"/><stop offset="0.15" stop-color="#F20037"/><stop offset="0.20" stop-color="#ED0044"/><stop offset="0.25" stop-color="#E80050"/><stop offset="0.30" stop-color="#E3005B"/><stop offset="0.35" stop-color="#DD0066"/><stop offset="0.40" stop-color="#D70072"/><stop offset="0.45" stop-color="#D1007D"/><stop offset="0.50" stop-color="#CA0088"/><stop offset="0.55" stop-color="#C20094"/><stop offset="0.60" stop-color="#BA009F"/><stop offset="0.65" stop-color="#B000AB"/><stop offset="0.70" stop-color="#A600B7"/><stop offset="0.75" stop-color="#9A00C3"/><stop offset="0.80" stop-color="#8D00CE"/><stop offset="0.85" stop-color="#7C00DA"/><stop offset="0.90" stop-color="#6800E7"/><stop offset="0.95" stop-color="#4B00F3"/><stop offset="1.00" stop-color="#0000FF"/></linearGradient></defs>
<text x="713" y="1014.9" font-size="22" fill="#000" stroke="#fff" stroke-width="0.1"><tspan font-style="italic">p</tspan><tspan>.adjust</tspan></text>
<rect x="712.9" y="1024.5" width="21.6" height="108.8" fill="url(#pg)"/>
<text x="741.3" y="1056.5" font-size="19.7" fill="#000" stroke="#fff" stroke-width="0.1"><tspan>2 × 10</tspan><tspan dx="0.6" dy="-6.3" font-size="10.8" stroke="none">−6</tspan></text>
<text x="741.3" y="1084.5" font-size="19.7" fill="#000" stroke="#fff" stroke-width="0.1"><tspan>4 × 10</tspan><tspan dx="0.6" dy="-6.3" font-size="10.8" stroke="none">−6</tspan></text>
<text x="741.3" y="1112.6" font-size="19.7" fill="#000" stroke="#fff" stroke-width="0.1"><tspan>6 × 10</tspan><tspan dx="0.6" dy="-6.3" font-size="10.8" stroke="none">−6</tspan></text>
<path d="M712.9,1052.7h4.3M734.5,1052.7h-4.3M712.9,1080.7h4.3M734.5,1080.7h-4.3M712.9,1108.8h4.3M734.5,1108.8h-4.3" stroke="#fff" stroke-opacity="0.8" stroke-width="1.5" fill="none"/></g>
<g id="panelD"><rect x="1183.5" y="738.4" width="260.8" height="666.6" fill="#fff"/>
<path d="M1231.85,738.4V1405M1306.35,738.4V1405M1380.85,738.4V1405" stroke="#E9E9E9" stroke-width="1.2" fill="none"/>
<path d="M1194.6,738.4V1405M1269.1,738.4V1405M1343.6,738.4V1405M1418.1,738.4V1405M1183.5,750.97H1444.3M1183.5,773.11H1444.3M1183.5,795.25H1444.3M1183.5,817.39H1444.3M1183.5,839.53H1444.3M1183.5,861.67H1444.3M1183.5,883.81H1444.3M1183.5,905.95H1444.3M1183.5,928.09H1444.3M1183.5,950.23H1444.3M1183.5,972.37H1444.3M1183.5,994.51H1444.3M1183.5,1016.65H1444.3M1183.5,1038.79H1444.3M1183.5,1060.93H1444.3M1183.5,1083.07H1444.3M1183.5,1105.21H1444.3M1183.5,1127.35H1444.3M1183.5,1149.49H1444.3M1183.5,1171.63H1444.3M1183.5,1193.77H1444.3M1183.5,1215.91H1444.3M1183.5,1238.05H1444.3M1183.5,1260.19H1444.3M1183.5,1282.33H1444.3M1183.5,1304.47H1444.3M1183.5,1326.61H1444.3M1183.5,1348.75H1444.3M1183.5,1370.89H1444.3M1183.5,1393.03H1444.3" stroke="#E9E9E9" stroke-width="2.4" fill="none"/>
<rect x="1194.6" y="741.23" width="223.5" height="19.48" fill="#FF0000"/>
<text font-size="19.5" fill="#000" stroke="#fff" stroke-width="0.1" text-anchor="end" transform="translate(1176.2 756.17) scale(1 0.955)"><tspan>Protein digestion and absorption</tspan></text>
<rect x="1194.6" y="763.37" width="193.7" height="19.48" fill="#FF0000"/>
<text font-size="19.5" fill="#000" stroke="#fff" stroke-width="0.1" text-anchor="end" transform="translate(1176.2 778.31) scale(1 0.955)"><tspan>ECM</tspan><tspan dx="-0.9">−</tspan><tspan dx="-0.9">receptor interaction</tspan></text>
<rect x="1194.6" y="785.51" width="208.6" height="19.48" fill="#FF0000"/>
<text font-size="19.5" fill="#000" stroke="#fff" stroke-width="0.1" text-anchor="end" transform="translate(1176.2 800.45) scale(1 0.955)"><tspan>Focal adhesion</tspan></text>
<rect x="1194.6" y="807.65" width="193.7" height="19.48" fill="#FF0000"/>
<text font-size="19.5" fill="#000" stroke="#fff" stroke-width="0.1" text-anchor="end" transform="translate(1176.2 822.59) scale(1 0.955)"><tspan>Proteoglycans in cancer</tspan></text>
<rect x="1194.6" y="829.79" width="238.4" height="19.48" fill="#FF0000"/>
<text font-size="19.5" fill="#000" stroke="#fff" stroke-width="0.1" text-anchor="end" transform="translate(1176.2 844.73) scale(1 0.955)"><tspan>PI3K</tspan><tspan dx="-0.9">−</tspan><tspan dx="-0.9">Akt signaling pathway</tspan></text>
<rect x="1194.6" y="851.93" width="223.5" height="19.48" fill="#FF0000"/>
<text font-size="19.5" fill="#000" stroke="#fff" stroke-width="0.1" text-anchor="end" transform="translate(1176.2 864.27) scale(1 0.955)"><tspan>Human papillomavirus infection</tspan></text>
<rect x="1194.6" y="874.07" width="119.2" height="19.48" fill="#FF0000"/>
<text font-size="19.5" fill="#000" stroke="#fff" stroke-width="0.1" text-anchor="end" transform="translate(1176.2 880.61) scale(1 0.955)"><tspan>AGE</tspan><tspan dx="-0.9">−</tspan><tspan dx="-0.9">RAGE signaling pathway in</tspan></text>
<text font-size="19.5" fill="#000" stroke="#fff" stroke-width="0.1" text-anchor="end" transform="translate(1176.2 895.81) scale(1 0.955)"><tspan>diabetic complications</tspan></text>
<rect x="1194.6" y="896.21" width="74.5" height="19.48" fill="#FF0003"/>
<text font-size="19.5" fill="#000" stroke="#fff" stroke-width="0.1" text-anchor="end" transform="translate(1176.2 913.85) scale(1 0.955)"><tspan>Malaria</tspan></text>
<rect x="1194.6" y="918.35" width="104.3" height="19.48" fill="#FE0006"/>
<text font-size="19.5" fill="#000" stroke="#fff" stroke-width="0.1" text-anchor="end" transform="translate(1176.2 933.29) scale(1 0.955)"><tspan>Relaxin signaling pathway</tspan></text>
<rect x="1194.6" y="940.49" width="89.4" height="19.48" fill="#FB001A"/>
<text font-size="19.5" fill="#000" stroke="#fff" stroke-width="0.1" text-anchor="end" transform="translate(1176.2 955.43) scale(1 0.955)"><tspan>Fluid shear stress and atherosclerosis</tspan></text>
<rect x="1194.6" y="962.63" width="74.5" height="19.48" fill="#FA001E"/>
<text font-size="19.5" fill="#000" stroke="#fff" stroke-width="0.1" text-anchor="end" transform="translate(1176.2 977.57) scale(1 0.955)"><tspan>TGF</tspan><tspan dx="-0.9">−</tspan><tspan dx="-0.9">beta signaling pathway</tspan></text>
<rect x="1194.6" y="984.77" width="74.5" height="19.48" fill="#FA001E"/>
<text font-size="19.5" fill="#000" stroke="#fff" stroke-width="0.1" text-anchor="end" transform="translate(1176.2 999.71) scale(1 0.955)"><tspan>Amoebiasis</tspan></text>
<rect x="1194.6" y="1006.91" width="89.4" height="19.48" fill="#F90021"/>
<text font-size="19.5" fill="#000" stroke="#fff" stroke-width="0.1" text-anchor="end" transform="translate(1176.2 1021.85) scale(1 0.955)"><tspan>Phagosome</tspan></text>
<rect x="1194.6" y="1029.05" width="59.6" height="19.48" fill="#ED0044"/>
<text font-size="19.5" fill="#000" stroke="#fff" stroke-width="0.1" text-anchor="end" transform="translate(1176.2 1043.99) scale(1 0.955)"><tspan>Complement and coagulation cascades</tspan></text>
<rect x="1194.6" y="1051.19" width="59.6" height="19.48" fill="#E70052"/>
<text font-size="19.5" fill="#000" stroke="#fff" stroke-width="0.1" text-anchor="end" transform="translate(1176.2 1066.13) scale(1 0.955)"><tspan>Prostate cancer</tspan></text>
<rect x="1194.6" y="1073.33" width="89.4" height="19.48" fill="#E60054"/>
<text font-size="19.5" fill="#000" stroke="#fff" stroke-width="0.1" text-anchor="end" transform="translate(1176.2 1088.27) scale(1 0.955)"><tspan>Regulation of actin cytoskeleton</tspan></text>
<rect x="1194.6" y="1095.47" width="74.5" height="19.48" fill="#E60054"/>
<text font-size="19.5" fill="#000" stroke="#fff" stroke-width="0.1" text-anchor="end" transform="translate(1176.2 1108.21) scale(1 0.955)"><tspan>Hippo signaling pathway</tspan></text>
<rect x="1194.6" y="1117.61" width="59.6" height="19.48" fill="#E50056"/>
<text font-size="19.5" fill="#000" stroke="#fff" stroke-width="0.1" text-anchor="end" transform="translate(1176.2 1126.35) scale(1 0.955)"><tspan>Parathyroid hormone synthesis,</tspan></text>
<text font-size="19.5" fill="#000" stroke="#fff" stroke-width="0.1" text-anchor="end" transform="translate(1176.2 1141.55) scale(1 0.955)"><tspan>secretion and action</tspan></text>
<rect x="1194.6" y="1139.75" width="74.5" height="19.48" fill="#E40059"/>
<text font-size="19.5" fill="#000" stroke="#fff" stroke-width="0.1" text-anchor="end" transform="translate(1176.2 1157.89) scale(1 0.955)"><tspan>Wnt signaling pathway</tspan></text>
<rect x="1194.6" y="1161.89" width="59.6" height="19.48" fill="#E3005B"/>
<text font-size="19.5" fill="#000" stroke="#fff" stroke-width="0.1" text-anchor="end" transform="translate(1176.2 1176.83) scale(1 0.955)"><tspan>TNF signaling pathway</tspan></text>
<rect x="1194.6" y="1184.03" width="44.7" height="19.48" fill="#CE0082"/>
<text font-size="19.5" fill="#000" stroke="#fff" stroke-width="0.1" text-anchor="end" transform="translate(1176.2 1198.97) scale(1 0.955)"><tspan>Amphetamine addiction</tspan></text>
<rect x="1194.6" y="1206.17" width="59.6" height="19.48" fill="#C00096"/>
<text font-size="19.5" fill="#000" stroke="#fff" stroke-width="0.1" text-anchor="end" transform="translate(1176.2 1221.11) scale(1 0.955)"><tspan>Apelin signaling pathway</tspan></text>
<rect x="1194.6" y="1228.31" width="29.8" height="19.48" fill="#A200BB"/>
<text font-size="19.5" fill="#000" stroke="#fff" stroke-width="0.1" text-anchor="end" transform="translate(1176.2 1243.25) scale(1 0.955)"><tspan>Nicotinate and nicotinamide metabolism</tspan></text>
<rect x="1194.6" y="1250.45" width="44.7" height="19.48" fill="#9800C5"/>
<text font-size="19.5" fill="#000" stroke="#fff" stroke-width="0.1" text-anchor="end" transform="translate(1176.2 1265.39) scale(1 0.955)"><tspan>GnRH signaling pathway</tspan></text>
<rect x="1194.6" y="1272.59" width="44.7" height="19.48" fill="#9500C7"/>
<text font-size="19.5" fill="#000" stroke="#fff" stroke-width="0.1" text-anchor="end" transform="translate(1176.2 1287.53) scale(1 0.955)"><tspan>Rheumatoid arthritis</tspan></text>
<rect x="1194.6" y="1294.73" width="89.4" height="19.48" fill="#9200CA"/>
<text font-size="19.5" fill="#000" stroke="#fff" stroke-width="0.1" text-anchor="end" transform="translate(1176.2 1309.67) scale(1 0.955)"><tspan>MicroRNAs in cancer</tspan></text>
<rect x="1194.6" y="1316.87" width="29.8" height="19.48" fill="#9000CC"/>
<text font-size="19.5" fill="#000" stroke="#fff" stroke-width="0.1" text-anchor="end" transform="translate(1176.2 1331.81) scale(1 0.955)"><tspan>Bladder cancer</tspan></text>
<rect x="1194.6" y="1339.01" width="44.7" height="19.48" fill="#8A00D1"/>
<text font-size="19.5" fill="#000" stroke="#fff" stroke-width="0.1" text-anchor="end" transform="translate(1176.2 1353.95) scale(1 0.955)"><tspan>Choline metabolism in cancer</tspan></text>
<rect x="1194.6" y="1361.15" width="44.7" height="19.48" fill="#6300E9"/>
<text font-size="19.5" fill="#000" stroke="#fff" stroke-width="0.1" text-anchor="end" transform="translate(1176.2 1376.09) scale(1 0.955)"><tspan>NF</tspan><tspan dx="-0.9">−</tspan><tspan dx="-0.9">kappa B signaling pathway</tspan></text>
<rect x="1194.6" y="1383.29" width="29.8" height="19.48" fill="#0000FF"/>
<text font-size="19.5" fill="#000" stroke="#fff" stroke-width="0.1" text-anchor="end" transform="translate(1176.2 1398.23) scale(1 0.955)"><tspan>Cocaine addiction</tspan></text>
<text x="1195.4" y="1429" font-size="19.6" fill="#000" stroke="#fff" stroke-width="0.12" text-anchor="middle">0</text>
<text x="1269.9" y="1429" font-size="19.6" fill="#000" stroke="#fff" stroke-width="0.12" text-anchor="middle">5</text>
<text x="1344.4" y="1429" font-size="19.6" fill="#000" stroke="#fff" stroke-width="0.12" text-anchor="middle">10</text>
<text x="1418.9" y="1429" font-size="19.6" fill="#000" stroke="#fff" stroke-width="0.12" text-anchor="middle">15</text>
<path d="M1179.2,750.97H1183.5M1179.2,773.11H1183.5M1179.2,795.25H1183.5M1179.2,817.39H1183.5M1179.2,839.53H1183.5M1179.2,861.67H1183.5M1179.2,883.81H1183.5M1179.2,905.95H1183.5M1179.2,928.09H1183.5M1179.2,950.23H1183.5M1179.2,972.37H1183.5M1179.2,994.51H1183.5M1179.2,1016.65H1183.5M1179.2,1038.79H1183.5M1179.2,1060.93H1183.5M1179.2,1083.07H1183.5M1179.2,1105.21H1183.5M1179.2,1127.35H1183.5M1179.2,1149.49H1183.5M1179.2,1171.63H1183.5M1179.2,1193.77H1183.5M1179.2,1215.91H1183.5M1179.2,1238.05H1183.5M1179.2,1260.19H1183.5M1179.2,1282.33H1183.5M1179.2,1304.47H1183.5M1179.2,1326.61H1183.5M1179.2,1348.75H1183.5M1179.2,1370.89H1183.5M1179.2,1393.03H1183.5M1194.6,1405V1409.5M1269.1,1405V1409.5M1343.6,1405V1409.5M1418.1,1405V1409.5" stroke="#333333" stroke-width="2.4" fill="none"/>
<rect x="1183.5" y="738.4" width="260.8" height="666.6" fill="none" stroke="#333333" stroke-width="1.6"/>
<text font-size="22.3" fill="#000" stroke="#fff" stroke-width="0.12" text-anchor="middle" transform="translate(1320 1446.8) scale(1 1.05)">Count</text>
<text x="1467" y="1017.5" font-size="21.7" fill="#000" stroke="#fff" stroke-width="0.1"><tspan font-style="italic">p</tspan><tspan>.adjust</tspan></text>
<rect x="1466.3" y="1026.8" width="21.7" height="111.3" fill="url(#pg)"/>
<text font-size="19.2" fill="#000" stroke="#fff" stroke-width="0.1" transform="translate(1495.5 1068.4) scale(1 1.03)">0.01</text>
<text font-size="19.2" fill="#000" stroke="#fff" stroke-width="0.1" transform="translate(1495.5 1106.4) scale(1 1.03)">0.02</text>
<path d="M1466.3,1064.5h4.3M1488,1064.5h-4.3M1466.3,1102.5h4.3M1488,1102.5h-4.3" stroke="#fff" stroke-opacity="0.8" stroke-width="1.5" fill="none"/></g>
<g id="labels"><text x="61.4" y="37.8" font-size="27" fill="#111" stroke="#fff" stroke-width="0.45">A</text><text x="740.6" y="37.6" font-size="27" fill="#111" stroke="#fff" stroke-width="0.45">B</text><text x="60.6" y="758" font-size="27" fill="#111" stroke="#fff" stroke-width="0.45">C</text><text x="829" y="758" font-size="27" fill="#111" stroke="#fff" stroke-width="0.45">D</text></g>
</svg>
</body></html>
